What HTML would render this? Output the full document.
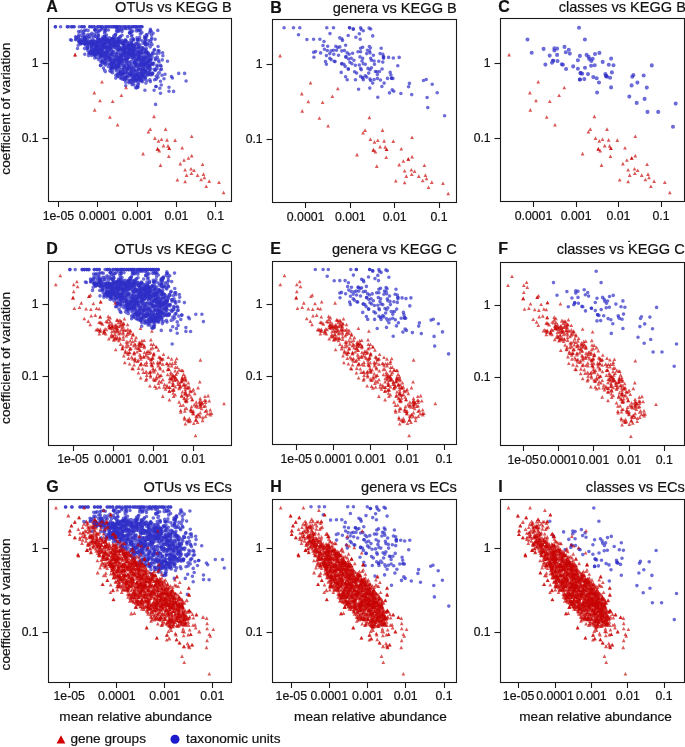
<!DOCTYPE html>
<html><head><meta charset="utf-8"><style>
html,body{margin:0;padding:0;background:#fff;}
svg{display:block;will-change:transform;}
text{font-family:"Liberation Sans", sans-serif;fill:#111;stroke:#111;stroke-width:0.2px;}
.b{fill:none;stroke:#2d2dc8;stroke-opacity:.7;stroke-width:3.6;stroke-linecap:round}
.bC{stroke-width:4.1}
.r{fill:#c80000;fill-opacity:.65}
</style></head><body>
<svg width="685" height="747" viewBox="0 0 685 747">
<clipPath id="cA"><rect x="48.5" y="18.5" width="183.0" height="183.0"/></clipPath>
<g clip-path="url(#cA)">
<path d="M122 31.6h0M133.3 52.7h0M125.5 43.2h0M156.4 67.9h0M151.9 73.1h0M108.8 51.1h0M97.7 49.2h0M120.7 73h0M97.5 52.2h0M123.2 71.9h0M142.1 79.8h0M131.6 36.3h0M92.1 46.4h0M122.5 53.5h0M98.5 35.5h0M129.4 74.3h0M114 47.6h0M84.8 37.3h0M145 53h0M108.9 57.3h0M133.9 84.8h0M135.5 64.8h0M97.2 37.4h0M101.3 41.5h0M122.9 64.3h0M123.7 28.7h0M119.4 54.9h0M116.8 29.4h0M155.4 59.7h0M137.7 54.1h0M99.8 30.8h0M109.4 53.8h0M151.5 55.4h0M95.4 42.3h0M157.1 68.7h0M143.2 70.7h0M107.2 47.2h0M99.3 48.3h0M108.3 42.5h0M96.5 42.2h0M115.8 75.3h0M130.8 39.8h0M137.3 39.8h0M107 57.2h0M92.3 35.3h0M116.5 31.1h0M94 51.1h0M119.5 50.2h0M139.8 30.2h0M113.4 53.3h0M115.7 34.2h0M129.5 32.8h0M139.7 37.2h0M118.5 46.4h0M133.2 79.8h0M143.2 43.3h0M102 28.1h0M96.2 36.6h0M123.2 48.2h0M130.3 53.6h0M110 41.7h0M118.5 65.1h0M144.6 38.1h0M101.8 45.4h0M138.8 54.9h0M94.7 34.1h0M138.7 82.6h0M84.6 39.9h0M129.1 44.6h0M106.7 46.5h0M112.6 72.7h0M128.8 48.6h0M152 57h0M135.2 76.8h0M108.5 30h0M124.2 71.3h0M130 54.2h0M129 42.5h0M121.4 69.5h0M111.2 68.4h0M108.8 40.3h0M115.2 45h0M146.3 48.5h0M107.4 42.7h0M111.9 64.8h0M152.4 73.3h0M129.3 28.9h0M131.2 42.5h0M120.6 70.9h0M122.6 43.3h0M115.2 60.5h0M129.6 64.8h0M118.9 56h0M111.4 60h0M132.1 54.5h0M119.1 39.7h0M113.8 60.8h0M104.4 42.7h0M133.9 46h0M141.9 65.9h0M98 49.5h0M124.6 43.4h0M126.9 59.8h0M100.9 40h0M139.9 52.4h0M141.9 76.8h0M146.3 58.9h0M111.8 64.4h0M132.7 46h0M124.9 61.1h0M125.9 76.6h0M128.5 53.8h0M115.7 60.2h0M139.8 77.7h0M121.3 56.9h0M112.5 63.9h0M95 47.4h0M140.6 60.8h0M142 75.6h0M124.2 59.9h0M100 45.4h0M128.3 64.7h0M137.3 51.8h0M116.8 54.7h0M104 39h0M103.2 38.6h0M120.3 47.5h0M111.6 48.3h0M120.8 62h0M113 41h0M132.5 55.1h0M103.2 48.1h0M137 75.2h0M95.3 50.3h0M142.1 79.6h0M111.6 62.4h0M132 44.5h0M141.8 76.3h0M138.4 56.6h0M124.1 53h0M149.6 65.5h0M114.6 61.4h0M95.3 45.3h0M104.2 41.4h0M114.1 40.4h0M144.9 65.6h0M143.8 62.9h0M95.9 54.2h0M144 61.8h0M92.9 52.1h0M104.8 63.2h0M118.8 53.9h0M93.1 45.2h0M129.5 46h0M139.8 77.3h0M126.3 48.8h0M147.2 63h0M122.5 64.1h0M135.4 48.9h0M137.4 82h0M137.5 53.7h0M148.1 53.8h0M139.2 58.2h0M102.3 48.6h0M102.8 46.3h0M120.3 47.7h0M146.8 53.1h0M144.5 70.6h0M114.1 62.6h0M143.9 70h0M113.6 51.6h0M112.8 54.7h0M112.1 48.1h0M100.7 42.3h0M129.4 62.3h0M135.6 54.4h0M117.5 66.5h0M132.5 57.7h0M121.3 47.9h0M114.7 63.9h0M143 62.6h0M91.3 51h0M122.4 54.2h0M91.3 51.5h0M124.2 51.9h0M94.5 41.4h0M138.2 80.7h0M106.8 47.7h0M113.1 38.5h0M102.3 62.1h0M136 59.8h0M107.1 40.2h0M123.8 41.4h0M126.1 73.1h0M127.6 68.8h0M140.1 52.7h0M148.2 56h0M114.1 41.1h0M100.7 47.1h0M118.7 59.9h0M141 80.1h0M138.8 68.4h0M93.5 45.5h0M94 41.7h0M87.4 46.5h0M95.8 47.8h0M84 38.7h0M87.4 43.9h0M91.4 41.6h0M81.1 31h0M115.8 78.1h0M137.5 86.2h0M162.6 52.7h0M156.3 79.1h0M135.6 87.7h0M80.3 31.8h0M159 50.8h0M137 87.6h0M67.4 26.8h0M79.3 26.8h0M79.3 26.8h0M89.8 26.8h0M92 26.8h0M94.2 26.8h0M102 26.8h0M106.4 26.8h0M111 26.8h0M113 26.8h0M123.4 26.8h0M123.4 26.8h0M124.9 26.8h0M138 26.8h0M140.2 26.8h0M141.9 26.8h0M160.5 65.3h0M156 86.5h0M154.1 90.2h0" class="b"/>
<path d="M103 36.7h0M86 40.9h0M137.4 44.6h0M111 71.8h0M89.8 34.8h0M86.5 42.3h0M145.1 77.9h0M119.3 63.7h0M121.6 29.6h0M103.5 40.9h0M145 70.8h0M105.2 59.7h0M112.9 38.6h0M119 68h0M84.4 43.3h0M91.6 55.4h0M149.4 66.8h0M101.8 48.6h0M108.6 46.9h0M137.4 39.9h0M150.8 68.7h0M95.8 42.9h0M139.1 51.9h0M119.8 67.4h0M114.3 59.9h0M129.5 68.4h0M108.4 40.9h0M94.8 30h0M133.4 39.4h0M94.5 52.1h0M131.9 49.9h0M91.9 49.1h0M104.3 43.7h0M127.1 46.9h0M118.6 41.4h0M144.1 65.8h0M87.5 39.8h0M106.4 39.4h0M87.9 44.4h0M145.5 37.3h0M146.7 34.8h0M111.2 61.7h0M118.9 31.1h0M144.7 36.3h0M93.2 43.2h0M129.5 48.8h0M149.6 60.1h0M129 50.8h0M127.8 53h0M155.1 70.4h0M142.4 58.2h0M134.3 64.6h0M147.5 74.9h0M147.8 63.7h0M88.6 37h0M96.5 46.9h0M129.2 54.8h0M152.6 52.9h0M115.3 60.5h0M105.5 64.9h0M101.1 55.7h0M121.3 77.9h0M93.4 53.2h0M145.7 44.9h0M145.8 51.3h0M131.1 73.8h0M131.2 49.3h0M101.1 52.4h0M129.2 46.8h0M133.7 76.4h0M128.2 69.6h0M126.5 51.2h0M112.1 68.5h0M139.7 50h0M115 64h0M142.5 74.1h0M100.1 45.8h0M124.3 49h0M137.9 56.6h0M100.9 45.3h0M104.5 63h0M91.6 43.7h0M140.7 59h0M128.2 43.6h0M141.7 52.4h0M130.8 46.7h0M118.6 50.2h0M94.2 50.3h0M134.5 50.5h0M93.1 41h0M127.2 69.6h0M135.8 44.6h0M139.5 79h0M126.9 54.5h0M138.4 76.1h0M120 57.4h0M121.1 60.8h0M98.9 51.6h0M98 50.3h0M130.8 46h0M116.1 65.5h0M119 73.5h0M117 43h0M111.1 60h0M107.9 47.4h0M132.8 48.4h0M135 69.8h0M107.4 54.5h0M141.7 63.2h0M115.8 68.5h0M141.4 72.7h0M147.9 53.2h0M91.9 49.9h0M108.8 58.6h0M146.9 66.6h0M129.8 48.6h0M141.7 50.6h0M119.6 60h0M98.1 50.8h0M130.6 75h0M111.8 63.7h0M125.7 40.7h0M123.2 69.9h0M103.2 54.1h0M135.2 80.6h0M123.1 73.9h0M131.5 55.1h0M130.9 49.5h0M91.9 52.5h0M103.6 47.8h0M124.4 50.9h0M134.5 62.4h0M148 52.7h0M147 63.8h0M145.5 49.7h0M113.6 46.2h0M135 81.3h0M144 66.4h0M109.4 59.7h0M133.5 72.1h0M89.8 43.2h0M123.5 45.4h0M98.4 38.3h0M137.8 48.2h0M107 38.1h0M142 73.1h0M133.6 55.1h0M118.3 70.2h0M136.6 43.9h0M111.8 39h0M150.2 69.7h0M121.7 59.8h0M130.9 71.1h0M109.4 60.8h0M105.6 49.1h0M125.4 53.8h0M114.5 67.3h0M131.5 42.3h0M148.1 61.2h0M126.3 61.9h0M142.1 47.5h0M123.3 73.2h0M110.6 54.2h0M130.4 44.5h0M124.5 68.7h0M121.2 50.4h0M131.4 44h0M142.1 73.2h0M76.5 37.5h0M94.3 43.6h0M81.4 42.1h0M85.3 45.1h0M85.1 38.5h0M83.7 40.6h0M79.2 42.1h0M103.3 52.1h0M91.4 47h0M94.8 55.2h0M83.5 31.2h0M157.9 66h0M161.1 66.3h0M88.1 30.6h0M162.9 55.7h0M103.4 68h0M150.4 81.6h0M86.7 30h0M160.5 69.8h0M55.4 26.8h0M74 26.8h0M81.9 26.8h0M84.1 26.8h0M92 26.8h0M94.2 26.8h0M104.5 26.8h0M104.5 26.8h0M116.4 26.8h0M128.9 26.8h0M130.2 26.8h0M130.2 26.8h0M136 26.8h0M140.2 26.8h0M154.6 79.8h0M161.3 85h0M169 87.2h0M70.5 39.7h0" class="b"/>
<path d="M128.8 82.8h0M114 45.3h0M149.7 74.1h0M93.2 37.4h0M148.8 68.2h0M94.8 57.9h0M92.2 39.8h0M139.2 55.6h0M145.6 40.2h0M105.5 54.5h0M103.2 58h0M146.8 35.9h0M81.7 41.9h0M136.8 29.1h0M145 42.9h0M118 38.3h0M96.8 28.9h0M117.5 76.2h0M100.4 54.6h0M158.1 59.6h0M125.2 58.6h0M139.2 66h0M136.3 78.8h0M143.2 71.2h0M138.3 84.4h0M116.2 67.5h0M130.1 32.5h0M138.6 45.6h0M132.9 44.8h0M146.7 34.9h0M152 44.8h0M106.1 52.7h0M118.9 39h0M115.6 47.9h0M131.2 45.4h0M117.7 40.7h0M104.5 33.3h0M123.9 79.3h0M110.6 58.3h0M107.5 47.5h0M118.2 64.4h0M148.8 40.5h0M155.4 69.7h0M86.4 42.6h0M120 61.7h0M117.8 67h0M111.2 42.9h0M118.4 39.9h0M138.9 29.8h0M140.6 30.3h0M102.4 43.9h0M153.3 64.6h0M143.6 70.7h0M141.9 32.6h0M98 32.9h0M95.4 52.1h0M131.9 35h0M110.3 44.4h0M105.8 52.1h0M129.9 80.6h0M128.7 45.7h0M137.8 72.9h0M118.3 49.8h0M151.6 43.9h0M124.7 79h0M78.4 36.6h0M86.7 41.1h0M109.6 43.3h0M122.5 53.2h0M97.6 41.6h0M138.8 46.9h0M112.6 69.9h0M123.9 45.8h0M104.8 36.2h0M134.7 70.6h0M121.2 40.5h0M95.3 54.6h0M131.7 70.9h0M103.4 38.9h0M111.3 41.2h0M136.8 78.9h0M147.9 67.3h0M145.9 58.2h0M131.5 48.9h0M127.2 73.2h0M142.4 76.5h0M106.6 55.4h0M76 39h0M153.7 63.2h0M127.9 64.2h0M126.5 78.2h0M124.6 49.6h0M123.4 73.7h0M118.5 64.1h0M111.2 63h0M97.5 39.1h0M104.3 38.7h0M123.7 77.1h0M98.7 59.6h0M104.5 46.3h0M133.5 46h0M105.5 46.5h0M143.8 49.2h0M111.5 44.5h0M116.5 60.7h0M89.9 41.4h0M143.6 70h0M90.9 42.7h0M104 56.4h0M122 40.2h0M127.8 48.5h0M122.2 43.8h0M106.8 55.7h0M141.7 65.1h0M102.2 60.6h0M143.2 48h0M127.4 76.1h0M136.6 58.9h0M99.8 51h0M131.9 54.9h0M116.2 65.7h0M144.8 56.4h0M127.2 74.1h0M133.8 53.3h0M98.8 49.3h0M134 47.2h0M123.9 42.3h0M122.2 54.7h0M130.5 52.7h0M133.2 49h0M106.3 39h0M142.7 64.9h0M91 48.2h0M147.5 68.8h0M115.4 60.5h0M114.3 46.3h0M124.3 65.9h0M120.9 56.4h0M131.3 65h0M107 63.3h0M149 59.1h0M129.4 50.8h0M119.3 62.5h0M133.3 56.6h0M143.9 65.1h0M143.8 72.6h0M128.5 66.2h0M111.2 50h0M135.3 60.4h0M110.4 43.2h0M117 57.5h0M98 43.6h0M150.9 60h0M148.5 65.8h0M143.6 49.3h0M136.1 74.9h0M126.2 57.8h0M133.8 77.6h0M115.6 41.8h0M120 42.2h0M110.6 59.8h0M128.2 62h0M102.2 43.5h0M121.5 61.3h0M97.8 48.6h0M118.6 73.7h0M108.7 48.1h0M112.7 63.6h0M111.8 67.6h0M116.1 59.6h0M120.8 74.9h0M117.7 59.5h0M131.1 68h0M106.9 46.7h0M125.3 51.7h0M146.4 51.9h0M126.1 58.2h0M101 42.8h0M110 43.5h0M143.7 50.8h0M114 41h0M96.3 45.2h0M83.3 43.1h0M101.9 50.3h0M91.8 44.7h0M79.1 41h0M94.5 52.9h0M100 48h0M97.9 50.6h0M97.5 53.9h0M156.2 76.3h0M162.2 59.9h0M158.1 46.5h0M158.5 60.5h0M125.7 85.8h0M155.1 39.3h0M149.9 79.8h0M100.4 65.6h0M137.5 85.2h0M55.4 26.8h0M60.6 26.8h0M60.6 26.8h0M69.6 26.8h0M69.6 26.8h0M71.8 26.8h0M97.7 26.8h0M99.9 26.8h0M106.4 26.8h0M108.5 26.8h0M114.7 26.8h0M116.4 26.8h0M121.7 26.8h0M121.7 26.8h0M134.4 26.8h0M138 26.8h0M186.1 81h0M160.5 81.3h0M169 91.3h0M155.6 104.4h0M150.4 29.2h0M151.6 35.1h0" class="b"/>
<path d="M148.4 44.7h0M102.2 61.8h0M149.8 46.1h0M115.8 66.4h0M145.3 44.4h0M90.5 41.4h0M104.4 31h0M96.9 48.1h0M115.1 56h0M82.8 33.9h0M120.3 36.5h0M147.9 74.6h0M156.7 53.8h0M128.5 80h0M130.9 74.2h0M86.3 36.7h0M109.3 56.2h0M119.3 47.6h0M128.5 57.6h0M123.9 68.5h0M133.9 52.6h0M79.8 39.7h0M99.4 42h0M137 65.2h0M151.2 64.3h0M137.8 74.9h0M143.8 75.8h0M118.2 58.9h0M117.4 50.1h0M80.7 43.5h0M115.1 34.8h0M154.2 69.2h0M129.1 80.8h0M89.7 37.3h0M98.5 42.4h0M101.1 54.6h0M104.2 52.3h0M87.9 50.7h0M102.6 48.9h0M135.8 53.8h0M139 77h0M146.9 45h0M138.2 39.5h0M124.6 46.9h0M146.9 80.9h0M149 54h0M102 39.8h0M142.2 40.8h0M85.9 42.3h0M114.4 38.4h0M142.4 81.8h0M113 38.2h0M125.2 66.4h0M128.5 55.4h0M149.5 73.2h0M142 69.4h0M135.9 43.4h0M150.2 47h0M132 84.6h0M145.1 79.5h0M102.6 52.5h0M145.1 37.8h0M134.9 56.8h0M93 43.2h0M139.4 65.4h0M89.9 53.4h0M150.6 41.8h0M91.8 45.4h0M134.4 56.9h0M109.9 70.8h0M102.1 64.3h0M141.6 50.5h0M144.2 64.7h0M145 75.2h0M99.4 42.2h0M104.9 36.8h0M103.6 46.3h0M150.7 59.5h0M152.7 63.4h0M133.3 40.3h0M140.3 33.9h0M145.3 73.5h0M102.5 52.9h0M114.4 41.7h0M134.9 45.6h0M111.5 63.4h0M111.2 66.7h0M124.3 50.4h0M138.7 58.1h0M126.2 52.9h0M143.4 59.4h0M126.3 55.3h0M130.9 55.1h0M102.2 38.8h0M136.3 80.2h0M118.8 44.8h0M143.5 77.9h0M116.9 52.6h0M139.9 63.8h0M140.3 76.8h0M119.6 60h0M105.9 42.6h0M114 43.3h0M137.7 52.6h0M103.4 52.4h0M148 66.1h0M129.1 49.2h0M106.5 48.2h0M97.9 52.5h0M146.9 51.9h0M124.7 77.5h0M120.8 42.1h0M145.2 68.7h0M121.4 74.9h0M125.3 53h0M140.2 51h0M113.8 40h0M110.5 48.3h0M93.9 49.4h0M146.2 72.6h0M130.5 53.2h0M98.4 46.1h0M135.8 75.1h0M106 41.1h0M148.6 56.5h0M104.7 62.1h0M133.2 67.8h0M116.7 42.2h0M115.8 45.7h0M140.8 51.7h0M125.2 40.7h0M100.5 40.9h0M113.1 44.9h0M101.6 50.8h0M131.6 75h0M131.2 48.7h0M100.4 57.6h0M141.6 63.7h0M109.9 43.9h0M142.1 55.1h0M98.9 53.6h0M117.9 63.5h0M109.4 37.9h0M90.9 43.7h0M105.5 60h0M138.9 77.1h0M123.2 55.7h0M98.8 40.1h0M98.5 49.3h0M129.5 55.6h0M131.5 52.5h0M127.3 70.3h0M109.1 41.3h0M140.1 56.5h0M137.7 51.2h0M117 49.8h0M118.4 67.1h0M97.6 45.2h0M135.2 79.4h0M106.1 52.3h0M125.1 77.6h0M104.9 40.2h0M142.6 60.5h0M121.4 58.9h0M147.3 61.3h0M141 78.1h0M117 41h0M131.5 53.9h0M91.7 45.2h0M138.7 65.4h0M114.1 66.8h0M109.1 40.3h0M136.4 54.5h0M145.7 71.8h0M141.7 56.1h0M136.2 63h0M133.5 59.2h0M120.7 56.3h0M139.4 64.2h0M126.2 45.3h0M131.9 44.1h0M112.3 66.5h0M119.8 61.7h0M97.8 49.2h0M137.9 78.8h0M136.1 66.3h0M141.3 73.9h0M149.5 61.5h0M131.9 69.7h0M109.7 64.4h0M100.3 53.2h0M78.6 41.2h0M91.1 50.6h0M99.3 50.6h0M98 45.8h0M92.2 50.4h0M87.7 48.2h0M102.1 55.7h0M93.5 54h0M83.9 39.9h0M82.5 37.2h0M80 41.3h0M100.7 65.3h0M84.9 30.4h0M105.3 71.6h0M151.2 31.2h0M145.9 83.1h0M159 62h0M104.6 70.4h0M138.1 87.1h0M153.1 33.2h0M120.2 78h0M159.2 53.1h0M84.8 54.3h0M67.4 26.8h0M97.7 26.8h0M102 26.8h0M108.5 26.8h0M114.7 26.8h0M118.1 26.8h0M119.7 26.8h0M124.9 26.8h0M132.4 26.8h0M141.9 26.8h0M165 74.3h0M165 74.3h0M172.4 78h0M144.9 90.2h0M173.6 91.4h0M160.5 93.2h0M157.8 30.4h0" class="b"/>
<path d="M130.8 32.2h0M121 49.1h0M124.5 50.9h0M129.7 49.5h0M80.6 39.9h0M142.9 68.4h0M134.5 62.4h0M124.7 54.4h0M99.1 52h0M132.9 31.1h0M75.5 36.7h0M145.9 37.3h0M146.9 55.7h0M152.7 73.2h0M158 50.9h0M137 37.8h0M152.3 74.6h0M125 80.3h0M122.7 73.3h0M96.6 44h0M141.1 57.3h0M134.9 78.7h0M98.2 35.5h0M120.2 41.8h0M140 44.8h0M105 29h0M137.7 59.9h0M109.9 48.1h0M80.1 35.5h0M88.9 53.8h0M118.3 76.3h0M133.5 68.1h0M86.8 48.8h0M128.7 67.3h0M117 28.2h0M140.6 63.7h0M88 42.7h0M132.6 68h0M151.4 39.5h0M113.7 43.5h0M98.9 30.8h0M136.6 30.9h0M113.7 36.1h0M91.8 33.2h0M80.8 44h0M125.4 28h0M130.5 72.2h0M101.6 29.3h0M132 82.8h0M145.3 53h0M138.9 79.9h0M112 56.5h0M145.4 72.7h0M96.5 31.7h0M123.6 49.6h0M85.6 39h0M154.5 49.5h0M126.1 63.8h0M129.8 33.3h0M102 60.7h0M114.6 37.4h0M152.3 63.9h0M145.9 38.6h0M126.4 59.8h0M117.1 41.6h0M140.3 73.1h0M118.8 30.4h0M137.7 75.1h0M78.6 38.5h0M145.1 42.7h0M130.9 29.3h0M84.5 48.6h0M125.5 39.8h0M95.2 30.2h0M134.5 76.9h0M134.7 77.6h0M129.3 75.7h0M157.3 57.1h0M75.6 39.7h0M99.6 40.4h0M109.6 50.8h0M119.8 37.3h0M84.6 39.9h0M141.2 68.5h0M132.8 81.8h0M105.7 31.3h0M98.8 51.1h0M105.4 43.3h0M122 35.2h0M147.7 43.5h0M132.3 79.7h0M95.4 36.1h0M117.4 31.4h0M115.2 36.3h0M132 76.6h0M133.5 81.8h0M136.5 64.1h0M120.1 72.5h0M100.9 61.9h0M131.4 73.6h0M134.6 62.5h0M141.3 80.8h0M78.8 34.9h0M144.3 61.3h0M125.8 82.2h0M148.5 73.1h0M133 75.1h0M140.2 77.8h0M140 76.9h0M110.2 40.9h0M137.4 47.7h0M125.1 78.3h0M144.6 61h0M148.6 72.3h0M138.3 69.6h0M131.3 50.7h0M94.7 51.9h0M139.6 52.7h0M149.1 59.8h0M112.9 56.3h0M140.2 76h0M131.4 49.6h0M149.2 60.6h0M98.1 40.1h0M143.8 57.2h0M116.2 70.8h0M110.6 68.1h0M124.6 56.2h0M146.9 72.6h0M113.7 62.8h0M149.7 59.4h0M119.9 62.4h0M124.8 55.9h0M95.8 44.2h0M103.5 54.9h0M110.9 45.6h0M100.2 50h0M145.6 64h0M112.6 67.2h0M106.1 55.6h0M142.2 53.2h0M128.2 45.4h0M90.5 51.3h0M128.9 45.3h0M133.9 48.7h0M135.3 75.2h0M128.2 57.8h0M150 66.3h0M121 57.5h0M111.2 44.7h0M103.7 43.4h0M141.1 71.1h0M103.3 38.9h0M116.1 45.8h0M109.7 57.2h0M106.9 57.4h0M108.7 58.2h0M124.1 55.2h0M132.1 74.2h0M148.1 68.3h0M128.7 53.1h0M107.3 51.2h0M104.5 38.1h0M133.1 47h0M109.8 43.3h0M128.7 52.8h0M104.8 57h0M94.2 44.8h0M132 67h0M122.8 62.2h0M132.4 51.9h0M131.3 51.8h0M94.6 53.4h0M111.7 52.6h0M134 49.6h0M128.7 76.5h0M139.9 53.2h0M113.7 38.9h0M137.2 72.4h0M139.3 46.2h0M122.1 55.8h0M123.9 44.1h0M109.3 57.7h0M143.9 59.1h0M97.5 41.3h0M120.4 53.9h0M100.7 55.6h0M119.3 73.4h0M125 47.8h0M139.9 58.2h0M149.8 67.9h0M102.9 46.1h0M129.8 75.5h0M85.7 39.9h0M101.8 51.8h0M92.7 54h0M84.6 43.8h0M95.4 48.3h0M97.9 46.5h0M96.4 49.1h0M92.1 53.6h0M150.3 30.7h0M78.6 31.5h0M88.6 55.6h0M136.7 87.6h0M74 26.8h0M84.1 26.8h0M89.8 26.8h0M99.9 26.8h0M111 26.8h0M113 26.8h0M128.9 26.8h0M134.4 26.8h0M136 26.8h0M162 75.3h0M184.6 73.4h0M171.4 76.5h0M158 77.3h0M159.8 88.3h0M77.5 48.5h0M71.5 40.2h0" class="b"/>
<path d="M87.7 34.8h0M140.4 61.1h0M108.3 66.6h0M122.1 79.1h0M95.3 56h0M106.8 60.7h0M127.6 36.6h0M106.4 35.1h0M104.6 43.3h0M105.7 29.7h0M94.2 41.1h0M96.9 44.9h0M118.1 58.7h0M119.9 29.1h0M137.1 60.2h0M153 53.6h0M127.5 57.2h0M113.9 58.8h0M89.2 52.9h0M102 45.6h0M115.8 57.1h0M125.1 79.6h0M95 29.8h0M131.5 31.8h0M138.1 42.6h0M81.8 43.3h0M145.1 57.4h0M113.8 45.5h0M87.4 47.9h0M107.1 50.7h0M96.7 43.4h0M150.6 74.9h0M139.4 65.3h0M122.8 50.8h0M145.6 77.4h0M84.8 36.9h0M130.3 45.6h0M126.5 28.6h0M156.9 65.3h0M150.5 55.5h0M132.2 81.5h0M145.1 41.3h0M117.6 38.8h0M95.4 55.5h0M128.2 67h0M94 49.3h0M133.1 38.7h0M143 59.7h0M109.1 59.8h0M154.1 50.4h0M137 79.9h0M111.6 66.1h0M138.6 30.8h0M138.5 54.2h0M129 68h0M84 33.7h0M139.8 39.8h0M117.2 74.1h0M134.7 73.5h0M120.6 71.6h0M105.1 46.9h0M141.2 61.5h0M137.8 53.1h0M141.9 69.2h0M111.5 54.3h0M128.3 51.7h0M155.4 58h0M119 64.9h0M155.3 58.5h0M111.7 38.7h0M84.1 36.2h0M152.3 73.8h0M117.2 56.8h0M107.3 52.2h0M118.3 43.7h0M129.4 73.3h0M123.2 42.9h0M130 82h0M153.5 53.8h0M150.8 58.9h0M134 48.1h0M116.1 68.1h0M128.3 56.2h0M109.3 64.9h0M131.8 79h0M126.8 68.2h0M117.8 46.5h0M116.7 44.3h0M104.4 53.2h0M125.9 71.9h0M103.3 43.6h0M96.9 57.6h0M102.2 39.6h0M133.7 62.5h0M105 55.9h0M141.3 61.2h0M99.9 57h0M134.9 55.8h0M120.9 61.4h0M99.7 41.7h0M140.9 80.1h0M141.7 61.2h0M89.3 43.4h0M105.2 58.5h0M95.9 43h0M124.5 66.9h0M117.5 62.2h0M127.2 58.6h0M107.9 48.1h0M123.6 59.6h0M149.4 71h0M135.3 71.2h0M138.2 69.6h0M137 63.9h0M138.2 77.1h0M116.9 58.1h0M134.3 50.5h0M113 62.5h0M112.6 51.8h0M125.2 41h0M110.9 64.4h0M131.3 61.2h0M94.3 54.2h0M121.9 74.5h0M120.7 60.2h0M141.9 64h0M94.4 44.8h0M103.6 45h0M126.9 46.8h0M124.3 51.3h0M107 40h0M144.5 76.6h0M96.5 49.7h0M114.4 67.3h0M133 74.1h0M122.8 48.5h0M91.8 53.5h0M107.9 43.3h0M123.1 72h0M126.3 58.2h0M111.1 46.5h0M150.7 62.9h0M108.9 45.5h0M140.5 69.5h0M89.8 45.7h0M131.4 57.6h0M145 62.2h0M122 48.6h0M149.4 62.9h0M126.6 41.6h0M112.4 43.6h0M118.4 44.3h0M112.8 53.3h0M123.9 72.5h0M126.6 76.7h0M123.5 67.2h0M126.5 52.2h0M136.6 66.6h0M96.7 56.7h0M105.5 45.2h0M114.2 43.6h0M121.7 65.2h0M140.1 48h0M139.4 61h0M100.9 56.5h0M116.3 53.9h0M133.6 50.6h0M117.6 58.3h0M131.5 62.5h0M95.6 47.2h0M94.5 41.1h0M108 48.7h0M143.5 73.9h0M142.8 48.8h0M100.9 39.4h0M146.8 62.6h0M147 62.8h0M139.2 59.9h0M134.6 56.8h0M106.6 53h0M93.7 43.4h0M110.3 44.5h0M145.9 71.3h0M125.8 57h0M140.8 73.1h0M117.3 47.9h0M95.2 53.6h0M81.3 41.2h0M85.4 38.2h0M103.6 55.5h0M96.6 50.9h0M94.4 50.9h0M85.9 44h0M79.9 42.8h0M98.9 54.3h0M78.2 45.3h0M158.1 74.2h0M161.5 69.2h0M151.8 38h0M159.3 72.7h0M149.5 32.8h0M158.6 73h0M71.8 26.8h0M81.9 26.8h0M118.1 26.8h0M119.7 26.8h0M127 26.8h0M127 26.8h0M132.4 26.8h0M167.5 61.2h0M178.7 73.4h0M164 78.7h0M156 86.5h0" class="b"/>
<path d="M94.3 90.8l1.9 3.6h-3.8zM148.4 130l1.9 3.6h-3.8zM154.9 136.3l1.9 3.6h-3.8zM163.5 143.8l1.9 3.6h-3.8zM169.2 146.5l1.9 3.6h-3.8zM157.6 147.1l1.9 3.6h-3.8zM194 168.5l1.9 3.6h-3.8zM197.6 173.3l1.9 3.6h-3.8zM185.1 179.7l1.9 3.6h-3.8z" class="r"/>
<path d="M75.1 52.8l1.9 3.6h-3.8zM121.4 93.5l1.9 3.6h-3.8zM161.5 137.4l1.9 3.6h-3.8zM184 158.2l1.9 3.6h-3.8zM191.7 153.8l1.9 3.6h-3.8zM186.6 173.3l1.9 3.6h-3.8zM206.2 184.4l1.9 3.6h-3.8z" class="r"/>
<path d="M75.1 52.8l1.9 3.6h-3.8zM117.6 123l1.9 3.6h-3.8zM143.1 151.8l1.9 3.6h-3.8zM167 138.1l1.9 3.6h-3.8zM191.7 134.4l1.9 3.6h-3.8zM157.6 147.1l1.9 3.6h-3.8zM188.4 156.2l1.9 3.6h-3.8zM188.4 156.2l1.9 3.6h-3.8zM191 166.9l1.9 3.6h-3.8zM191.4 171.4l1.9 3.6h-3.8zM203.5 172.3l1.9 3.6h-3.8zM204.4 175.7l1.9 3.6h-3.8zM177.4 178l1.9 3.6h-3.8z" class="r"/>
<path d="M100 98.7l1.9 3.6h-3.8zM112.7 99.4l1.9 3.6h-3.8zM126.1 85.7l1.9 3.6h-3.8zM158.5 139.1l1.9 3.6h-3.8zM168 144.1l1.9 3.6h-3.8zM182.2 145.9l1.9 3.6h-3.8zM160.5 163.3l1.9 3.6h-3.8zM202.6 162.5l1.9 3.6h-3.8zM185.1 167.9l1.9 3.6h-3.8zM209.2 179.3l1.9 3.6h-3.8zM223.6 190.7l1.9 3.6h-3.8z" class="r"/>
<path d="M102 79.9l1.9 3.6h-3.8zM94.7 108.1l1.9 3.6h-3.8zM109.9 115.2l1.9 3.6h-3.8zM154 114.6l1.9 3.6h-3.8zM150.2 127.3l1.9 3.6h-3.8zM165.6 127.3l1.9 3.6h-3.8zM159.3 148.8l1.9 3.6h-3.8zM201.1 177.7l1.9 3.6h-3.8zM219 180.4l1.9 3.6h-3.8z" class="r"/>
<path d="M175.1 138.3l1.9 3.6h-3.8zM169.2 146.5l1.9 3.6h-3.8zM168.8 154.4l1.9 3.6h-3.8zM180.3 161.8l1.9 3.6h-3.8z" class="r"/>
</g>
<rect x="48.5" y="18.5" width="183.0" height="183.0" fill="none" stroke="#1a1a1a" stroke-width="1.1"/>
<line x1="42.5" y1="63.5" x2="48.5" y2="63.5" stroke="#1a1a1a" stroke-width="1.1"/>
<text x="38.6" y="66.89999999999999" text-anchor="end" font-size="12.2">1</text>
<line x1="42.5" y1="138.5" x2="48.5" y2="138.5" stroke="#1a1a1a" stroke-width="1.1"/>
<text x="38.6" y="141.9" text-anchor="end" font-size="12.2">0.1</text>
<line x1="58.5" y1="201.5" x2="58.5" y2="207.0" stroke="#1a1a1a" stroke-width="1.1"/>
<text x="58.4" y="219.6" text-anchor="middle" font-size="12.3">1e-05</text>
<line x1="97.5" y1="201.5" x2="97.5" y2="207.0" stroke="#1a1a1a" stroke-width="1.1"/>
<text x="97.5" y="219.6" text-anchor="middle" font-size="12.3">0.0001</text>
<line x1="137.5" y1="201.5" x2="137.5" y2="207.0" stroke="#1a1a1a" stroke-width="1.1"/>
<text x="137.2" y="219.6" text-anchor="middle" font-size="12.3">0.001</text>
<line x1="176.5" y1="201.5" x2="176.5" y2="207.0" stroke="#1a1a1a" stroke-width="1.1"/>
<text x="176.4" y="219.6" text-anchor="middle" font-size="12.3">0.01</text>
<line x1="215.5" y1="201.5" x2="215.5" y2="207.0" stroke="#1a1a1a" stroke-width="1.1"/>
<text x="215.5" y="219.6" text-anchor="middle" font-size="12.3">0.1</text>
<text x="46.3" y="12.2" font-size="16" font-weight="bold">A</text>
<text x="231.8" y="12.2" text-anchor="end" font-size="14.6">OTUs vs KEGG B</text>
<text transform="translate(9.9 108.6) rotate(-90)" text-anchor="middle" font-size="13.7">coefficient of variation</text>
<clipPath id="cB"><rect x="272.5" y="19.5" width="184.0" height="183.0"/></clipPath>
<g clip-path="url(#cB)">
<path d="M299.8 27.7h0M349.6 27.7h0M360.6 27.7h0M298.5 34.7h0M348.2 35.5h0M360.2 39.2h0M327.7 46.2h0M344.5 50.5h0M352.6 53.2h0M338.5 55.3h0M360 56.9h0M326.4 64.3h0M331.1 59.6h0M335.1 61.6h0M355.3 65.3h0M362 61h0M354.6 71.7h0M345.6 76.8h0M362.7 77.8h0M382.8 62.1h0M368 68.4h0M376.8 71.7h0M382.1 69h0M377.4 74.4h0M387.5 78.4h0" class="b"/>
<path d="M333.5 27.7h0M333.5 27.7h0M335.8 46.2h0M335.8 46.2h0M339.8 46.9h0M345.6 45.3h0M360.6 48.2h0M324.4 49.2h0M347.2 52.9h0M358 51.8h0M313.6 52.2h0M320.6 52.9h0M329.8 53.6h0M333.8 54.3h0M345.9 56.9h0M351.2 58.3h0M325.5 61.6h0M334.2 61.2h0M341.8 63.7h0M343.9 64.3h0M359.3 65h0M348.3 69h0M341.2 72.4h0M373.4 55.3h0M383.5 56.9h0M399.2 57.4h0M371.4 60.3h0M374.5 64.3h0M378.8 61.2h0M375.4 71.5h0M368.7 73.1h0M372.7 83.1h0M369.8 88.1h0" class="b"/>
<path d="M284.1 27.7h0M359.3 33.8h0M313.6 39.2h0M339.8 37.9h0M341.8 38.8h0M315.6 51.6h0M329.8 58.3h0M341.8 63.7h0M349.9 62.3h0M363.3 63.7h0M356.6 73.1h0M355.5 79.8h0M363.3 79.8h0M366.7 53.6h0M383.5 58.3h0M370.7 58.3h0M374.1 61h0M365.3 64.3h0M370.7 80.5h0M380.4 80h0M392.9 78.4h0M409.4 83.4h0M432.2 84.3h0M392.2 89.9h0M389.5 92.9h0M427.1 97.5h0M444.6 115.8h0" class="b"/>
<path d="M293.5 27.7h0M326.8 27.7h0M306.9 39.5h0M319.9 39.2h0M324 41.5h0M337.8 47.5h0M331.1 50.9h0M336.5 50.2h0M349.2 54.3h0M353.9 60.3h0M362.7 58.3h0M313.9 57.2h0M345.2 66.4h0M348.3 69h0M361.3 69.7h0M360.6 76.4h0M370.7 29h0M369.4 46.5h0M370.4 47.8h0M370 52.9h0M380.1 53.6h0M382.8 54.3h0M370 69.7h0M365.3 75.8h0M390.2 72.4h0M391.5 78.2h0M408.6 86.8h0" class="b"/>
<path d="M353.3 29.1h0M342.5 40.4h0M323 45.5h0M345.9 56.9h0M348.6 59h0M351.9 63.7h0M360.6 68.4h0M358.6 89.2h0M372.7 35.9h0M367.4 50.2h0M369.4 50.9h0M381.2 48.2h0M383.5 56.9h0M397.8 65.7h0M371.4 67.7h0M379.4 71.5h0M366.7 77.1h0M374.1 79.5h0M390.9 75.1h0M391.5 78.2h0M384.1 83.1h0M381.9 86.5h0M423.5 80.5h0M426.2 79.5h0M393.8 91.2h0M411.7 94.6h0" class="b"/>
<path d="M349.6 27.7h0M353.3 29.1h0M361.3 29.4h0M363.3 30.8h0M330 33.6h0M355.9 37.2h0M362.7 47.3h0M327.3 50.5h0M333.5 50.2h0M341.8 50.9h0M360.6 51.8h0M326.4 55.6h0M347.2 79.8h0M362.7 77.8h0M369.1 28.1h0M388.6 57.4h0M393.3 58h0M370 79.1h0M377.4 78.4h0M437.2 92.8h0M400.9 93.5h0M377.8 97.2h0M427.8 107.6h0" class="b"/>
<path d="M308.3 99.7l1.9 3.6h-3.8zM373.4 148.1l1.9 3.6h-3.8zM375.4 149.8l1.9 3.6h-3.8zM408.3 157.2l1.9 3.6h-3.8zM411.3 167.9l1.9 3.6h-3.8zM418.8 174.3l1.9 3.6h-3.8zM422.7 178.7l1.9 3.6h-3.8z" class="r"/>
<path d="M301.8 91.8l1.9 3.6h-3.8zM337.8 86.7l1.9 3.6h-3.8zM357 152.8l1.9 3.6h-3.8zM374.5 140.1l1.9 3.6h-3.8zM412.1 135.4l1.9 3.6h-3.8zM412.1 154.8l1.9 3.6h-3.8zM404.6 168.9l1.9 3.6h-3.8zM406.3 174.3l1.9 3.6h-3.8z" class="r"/>
<path d="M280.1 53.8l1.9 3.6h-3.8zM280.1 53.8l1.9 3.6h-3.8zM310.5 80.9l1.9 3.6h-3.8zM319.4 116.2l1.9 3.6h-3.8zM369.4 115.6l1.9 3.6h-3.8zM382.5 128.3l1.9 3.6h-3.8zM384.1 139.1l1.9 3.6h-3.8zM408.3 157.2l1.9 3.6h-3.8zM414.6 169.5l1.9 3.6h-3.8zM448.2 191.7l1.9 3.6h-3.8z" class="r"/>
<path d="M365.1 128.3l1.9 3.6h-3.8zM370.4 137.3l1.9 3.6h-3.8zM377.8 138.4l1.9 3.6h-3.8zM386.6 147.5l1.9 3.6h-3.8zM401.3 146.9l1.9 3.6h-3.8zM386.2 155.4l1.9 3.6h-3.8zM399.2 162.8l1.9 3.6h-3.8zM424.4 163.5l1.9 3.6h-3.8zM426.5 176.7l1.9 3.6h-3.8zM431.8 180.3l1.9 3.6h-3.8zM395.8 179l1.9 3.6h-3.8z" class="r"/>
<path d="M322.6 100.4l1.9 3.6h-3.8zM332.4 94.5l1.9 3.6h-3.8zM393.3 139.3l1.9 3.6h-3.8zM380.1 144.8l1.9 3.6h-3.8zM385.2 145.1l1.9 3.6h-3.8zM386.6 147.5l1.9 3.6h-3.8zM373.4 148.1l1.9 3.6h-3.8zM376.8 164.3l1.9 3.6h-3.8zM403.4 159.2l1.9 3.6h-3.8zM411.7 172.4l1.9 3.6h-3.8zM425.4 173.3l1.9 3.6h-3.8zM428.5 185.4l1.9 3.6h-3.8z" class="r"/>
<path d="M302.2 109.1l1.9 3.6h-3.8zM328.1 124l1.9 3.6h-3.8zM363.1 131l1.9 3.6h-3.8zM443 181.4l1.9 3.6h-3.8zM404.6 180.7l1.9 3.6h-3.8z" class="r"/>
</g>
<rect x="272.5" y="19.5" width="184.0" height="183.0" fill="none" stroke="#1a1a1a" stroke-width="1.1"/>
<line x1="266.5" y1="64.5" x2="272.5" y2="64.5" stroke="#1a1a1a" stroke-width="1.1"/>
<text x="262.6" y="67.89999999999999" text-anchor="end" font-size="12.2">1</text>
<line x1="266.5" y1="139.5" x2="272.5" y2="139.5" stroke="#1a1a1a" stroke-width="1.1"/>
<text x="262.6" y="142.9" text-anchor="end" font-size="12.2">0.1</text>
<line x1="305.5" y1="202.5" x2="305.5" y2="208.0" stroke="#1a1a1a" stroke-width="1.1"/>
<text x="305.6" y="220.6" text-anchor="middle" font-size="12.3">0.0001</text>
<line x1="350.5" y1="202.5" x2="350.5" y2="208.0" stroke="#1a1a1a" stroke-width="1.1"/>
<text x="350.3" y="220.6" text-anchor="middle" font-size="12.3">0.001</text>
<line x1="394.5" y1="202.5" x2="394.5" y2="208.0" stroke="#1a1a1a" stroke-width="1.1"/>
<text x="394.6" y="220.6" text-anchor="middle" font-size="12.3">0.01</text>
<line x1="439.5" y1="202.5" x2="439.5" y2="208.0" stroke="#1a1a1a" stroke-width="1.1"/>
<text x="439.0" y="220.6" text-anchor="middle" font-size="12.3">0.1</text>
<text x="270.3" y="12.799999999999999" font-size="16" font-weight="bold">B</text>
<text x="456.8" y="12.799999999999999" text-anchor="end" font-size="14.6">genera vs KEGG B</text>
<clipPath id="cC"><rect x="500.5" y="18.5" width="184.0" height="183.0"/></clipPath>
<g clip-path="url(#cC)">
<path d="M579 27.7h0M565.8 52.2h0M588.6 56.9h0M591.3 61h0M553.1 60.7h0M552 62.7h0M573.2 66.4h0M573.2 66.4h0M602.7 61.9h0M607 76.8h0M596.7 78.2h0M611.1 87.4h0M632.3 76.8h0" class="b bC"/>
<path d="M557.1 54.9h0M586.6 54.9h0M553.1 60.7h0M557.5 61h0M566.1 69h0M579.9 79.5h0M608.8 64.7h0M651.8 65.4h0M606.1 76h0M610.1 77.8h0M637.4 82.6h0M629.3 96.6h0M636.7 102.9h0" class="b bC"/>
<path d="M527.5 39.5h0M584.9 39.5h0M543.6 48.9h0M554.4 50.5h0M579.9 55.9h0M589.3 59h0M545.4 64.6h0M562.9 64.7h0M585 67.7h0M588 74.1h0M595 54h0M611.9 72.4h0M605.4 74.1h0M597.1 92.5h0M646.8 87.6h0" class="b bC"/>
<path d="M554.4 48.2h0M557.1 48.6h0M549.7 55.6h0M561.8 64.3h0M580.6 73.1h0M584.3 79.1h0M594.7 65.3h0M613.5 65.3h0M599 82.5h0M633.4 75.1h0M643.7 75.5h0M631.6 85.4h0M644.6 98.9h0M658.2 111.9h0" class="b bC"/>
<path d="M531.7 52.7h0M569.8 53.6h0M591.1 65.7h0M577.9 60.3h0M580.6 73.1h0M592.7 58.7h0M611.1 58.6h0M606.1 76h0M593.3 77.1h0M675.7 103.6h0M673 126.8h0" class="b bC"/>
<path d="M564.5 46.9h0M568.8 49.8h0M577.9 68.8h0M582.2 73.7h0M579.9 79.5h0M599.4 52.9h0M647.5 111.9h0" class="b bC"/>
<path d="M549.8 99.4l1.9 3.6h-3.8zM546.7 115.2l1.9 3.6h-3.8zM555 123l1.9 3.6h-3.8zM590.3 127.3l1.9 3.6h-3.8zM607 127.3l1.9 3.6h-3.8zM617.3 138.3l1.9 3.6h-3.8zM601.5 163.3l1.9 3.6h-3.8zM626.9 158.2l1.9 3.6h-3.8zM635.3 153.8l1.9 3.6h-3.8zM637.7 168.5l1.9 3.6h-3.8z" class="r"/>
<path d="M598.3 147.1l1.9 3.6h-3.8zM600.2 148.8l1.9 3.6h-3.8zM628.1 167.9l1.9 3.6h-3.8zM634.9 171.4l1.9 3.6h-3.8zM629.7 173.3l1.9 3.6h-3.8zM650.9 184.4l1.9 3.6h-3.8zM669.8 190.7l1.9 3.6h-3.8z" class="r"/>
<path d="M538.2 79.9l1.9 3.6h-3.8zM536 98.7l1.9 3.6h-3.8zM594.4 114.6l1.9 3.6h-3.8zM595.5 136.3l1.9 3.6h-3.8zM604.7 143.8l1.9 3.6h-3.8zM598.3 147.1l1.9 3.6h-3.8zM645.4 177.7l1.9 3.6h-3.8zM654.1 179.3l1.9 3.6h-3.8z" class="r"/>
<path d="M529.9 90.8l1.9 3.6h-3.8zM588.4 130l1.9 3.6h-3.8zM599.3 139.1l1.9 3.6h-3.8zM602.5 137.4l1.9 3.6h-3.8zM610.9 146.5l1.9 3.6h-3.8zM610.5 154.4l1.9 3.6h-3.8zM641.7 173.3l1.9 3.6h-3.8zM649 175.7l1.9 3.6h-3.8zM664.8 180.4l1.9 3.6h-3.8z" class="r"/>
<path d="M610.9 146.5l1.9 3.6h-3.8zM631.7 156.2l1.9 3.6h-3.8zM622.9 161.8l1.9 3.6h-3.8zM647.1 162.5l1.9 3.6h-3.8zM634.5 166.9l1.9 3.6h-3.8zM648 172.3l1.9 3.6h-3.8zM628.1 179.7l1.9 3.6h-3.8z" class="r"/>
<path d="M509.1 52.8l1.9 3.6h-3.8zM509.1 52.8l1.9 3.6h-3.8zM559.1 93.5l1.9 3.6h-3.8zM564.3 85.7l1.9 3.6h-3.8zM530.3 108.1l1.9 3.6h-3.8zM582.6 151.8l1.9 3.6h-3.8zM608.6 138.1l1.9 3.6h-3.8zM635.3 134.4l1.9 3.6h-3.8zM609.6 144.1l1.9 3.6h-3.8zM625 145.9l1.9 3.6h-3.8zM631.7 156.2l1.9 3.6h-3.8zM619.7 178l1.9 3.6h-3.8z" class="r"/>
</g>
<rect x="500.5" y="18.5" width="184.0" height="183.0" fill="none" stroke="#1a1a1a" stroke-width="1.1"/>
<line x1="494.5" y1="63.5" x2="500.5" y2="63.5" stroke="#1a1a1a" stroke-width="1.1"/>
<text x="490.6" y="66.89999999999999" text-anchor="end" font-size="12.2">1</text>
<line x1="494.5" y1="138.5" x2="500.5" y2="138.5" stroke="#1a1a1a" stroke-width="1.1"/>
<text x="490.6" y="141.9" text-anchor="end" font-size="12.2">0.1</text>
<line x1="533.5" y1="201.5" x2="533.5" y2="207.0" stroke="#1a1a1a" stroke-width="1.1"/>
<text x="533.5" y="219.6" text-anchor="middle" font-size="12.3">0.0001</text>
<line x1="576.5" y1="201.5" x2="576.5" y2="207.0" stroke="#1a1a1a" stroke-width="1.1"/>
<text x="576.1" y="219.6" text-anchor="middle" font-size="12.3">0.001</text>
<line x1="618.5" y1="201.5" x2="618.5" y2="207.0" stroke="#1a1a1a" stroke-width="1.1"/>
<text x="618.4" y="219.6" text-anchor="middle" font-size="12.3">0.01</text>
<line x1="661.5" y1="201.5" x2="661.5" y2="207.0" stroke="#1a1a1a" stroke-width="1.1"/>
<text x="661.0" y="219.6" text-anchor="middle" font-size="12.3">0.1</text>
<text x="498.3" y="12.2" font-size="16" font-weight="bold">C</text>
<text x="686.0" y="12.2" text-anchor="end" font-size="14.6">classes vs KEGG B</text>
<clipPath id="cD"><rect x="48.5" y="261.5" width="183.0" height="184.0"/></clipPath>
<g clip-path="url(#cD)">
<path d="M166.3 288.1h0M161.5 318.6h0M105.7 283.6h0M149.1 273.8h0M143.7 279h0M136.6 313.9h0M110.1 299.4h0M143.6 298.8h0M134.9 309.1h0M96.7 284.1h0M113.7 277.9h0M112.2 271.6h0M114.9 284.2h0M116.8 283.7h0M138.9 305.5h0M148.7 309.1h0M114.3 273.4h0M134.8 281.3h0M147.3 287.4h0M138.8 292.6h0M129.5 278.5h0M123.1 289.5h0M141.4 270.8h0M99.9 279.3h0M110.1 272.6h0M119.8 294.1h0M134.2 282.1h0M148.1 323.3h0M122.9 289.1h0M148.1 277.5h0M163.3 287h0M140.6 288.8h0M146.9 282h0M117.5 302.2h0M130.4 279.8h0M170.7 292.3h0M156.1 272.9h0M142.4 301.2h0M127.4 307.3h0M129.2 295h0M156.6 314h0M108.5 285.3h0M134.3 288.4h0M145.1 292.6h0M159.6 285.4h0M93.4 279h0M143.9 294.7h0M99.7 290.5h0M161 280.4h0M150.7 317.6h0M113 283.8h0M150.9 318.3h0M128.4 310.9h0M120.4 278.6h0M151.1 298.4h0M168.6 298.5h0M154 294.9h0M99.7 282.2h0M150.6 298.5h0M127 283.4h0M153.1 319.5h0M157.6 309.6h0M117.6 305.6h0M158.3 310.3h0M149 322.3h0M157.9 292.3h0M121.1 306.2h0M138 277.7h0M162.7 290.4h0M114.8 284.3h0M148.4 320.3h0M133.2 274h0M133.1 298.4h0M123 294h0M134.1 285.8h0M149.5 282.5h0M160.7 302.6h0M130.2 283.9h0M127.2 304.7h0M156.5 318.5h0M115.6 287.9h0M142.2 294.6h0M154.6 310.7h0M110.1 293.7h0M159.9 318.6h0M157 300.4h0M144.3 285.7h0M117.7 281.9h0M143.2 310.6h0M151.1 297.4h0M132.4 302.1h0M136.8 302.8h0M121.5 284.8h0M156.5 316.8h0M145.1 291.1h0M140.5 308.1h0M117.7 302h0M151.5 312.2h0M152.9 300.3h0M154.7 316.9h0M141.2 283.3h0M163.3 293.7h0M109.7 295.9h0M129.4 304.1h0M137.9 315.4h0M113.4 292.2h0M140.8 297.5h0M111.2 286.3h0M119.1 287h0M146.6 294.4h0M136.2 289.4h0M136.7 303.3h0M121.7 297.2h0M111.9 291.6h0M148.9 290.3h0M144.3 287.4h0M123 296.2h0M121.9 281.3h0M164 309.9h0M151.5 316h0M144.3 299.4h0M149.1 314.9h0M166.6 307.5h0M107.1 295.2h0M149.4 308.9h0M136.9 299h0M142.3 299.7h0M153.3 316h0M158.1 292.5h0M127.3 303.7h0M147.4 306.2h0M166 304.2h0M147.3 290.6h0M128.1 285.7h0M134.3 286.4h0M164.6 309.4h0M144.7 294.8h0M108.5 287.3h0M151.2 321.9h0M142.3 290.7h0M163.7 304.3h0M139.5 308.4h0M154.1 290.1h0M155.5 299.7h0M120.4 298.5h0M152.8 307.7h0M152.3 315.7h0M122.7 280.5h0M121.1 287.2h0M120.5 282.4h0M137.3 300.4h0M137.5 302.6h0M113.3 290.5h0M134.5 314.6h0M152.8 286h0M137.2 289.9h0M150.2 291.5h0M132.1 295.6h0M129.9 308h0M133.4 299.8h0M106.6 292.8h0M154.5 321.3h0M141.3 293.4h0M126.3 295.9h0M152.3 307.5h0M126 286.5h0M162.3 312.2h0M160.1 292.6h0M117.4 293.5h0M107.1 286.7h0M108 295.7h0M94.2 283.2h0M94.3 284.2h0M101.1 286.1h0M114.3 296h0M113 295.6h0M179.4 294.5h0M93.2 287.3h0M179 301.4h0M151.8 328h0M100.1 273.1h0M168.4 280.3h0M179.7 297.3h0M171.7 281.6h0M175.7 303.3h0M120.2 311.4h0M167 322.1h0M136.1 318.7h0M100 295.9h0M88.9 269.6h0M99.2 269.6h0M109.6 269.6h0M113.1 269.6h0M115.4 269.6h0M124.2 269.6h0M126.7 269.6h0M132.2 269.6h0M143.1 269.6h0M146.3 269.6h0M148.5 269.6h0M154.2 269.6h0M156.5 269.6h0M158.3 269.6h0M189.4 318.7h0M203.4 321.6h0M177.2 321.9h0M178.1 325.4h0M185.9 327.5h0M176.5 328.6h0M185.9 331.4h0M190.6 331.5h0M85.4 282h0" class="b"/>
<path d="M144.8 323.3h0M126.7 312.7h0M123.9 307.8h0M101.7 284.5h0M138.1 319.7h0M122.5 302.1h0M135.1 305h0M124.5 292.9h0M112.3 290h0M120.2 285.4h0M162.3 279.7h0M121.3 272.4h0M173.4 295.5h0M144.6 320.6h0M147.1 315.1h0M169.3 314.1h0M153.3 280.2h0M101.5 279.1h0M112.3 287h0M112.9 294h0M138.6 314.2h0M147.7 278.7h0M138.5 295.2h0M129.8 289.6h0M156.3 286.8h0M161.4 294.7h0M125.5 290h0M117.3 290.5h0M133.3 292h0M132 308.6h0M103.2 284.8h0M130.9 277.3h0M167.3 309.7h0M163.2 277.4h0M152.8 273.5h0M153.9 295.7h0M131.4 289.8h0M125.1 295.5h0M162 318.2h0M130.1 301.3h0M135.9 303.1h0M173.6 306.5h0M110.8 284.4h0M173.7 309.8h0M159.6 311.7h0M161.5 283.5h0M155.2 272.5h0M148.1 291.7h0M155.2 320.5h0M155.3 317.7h0M139.6 291.4h0M134.4 283.6h0M160.5 307h0M100.8 281.3h0M126 286.5h0M121.4 293.8h0M122 281.7h0M132.3 273.7h0M135.4 292h0M153.3 320.5h0M126.9 303h0M168.2 286h0M140.7 319.7h0M101.9 283.4h0M146.4 295.3h0M134.4 306.3h0M158.3 310.4h0M155.1 296.5h0M154.8 295.8h0M145.1 309.2h0M161.5 320.1h0M99.7 282.2h0M128.3 313.6h0M150.9 314.4h0M120.7 288.9h0M157.5 302.9h0M151.4 317.5h0M103.9 279.4h0M125.5 311.8h0M171.9 300h0M123.1 284.8h0M127.4 281.1h0M116.6 297.3h0M120.5 279.2h0M143.2 314.1h0M143.9 305.5h0M116.6 294.1h0M141.8 322.7h0M151.2 287.7h0M144.3 310.7h0M127 307.8h0M155 299.7h0M153.7 289.7h0M141.1 318.9h0M161.1 302.4h0M132.5 286.4h0M141.9 312.8h0M120 284.9h0M112.4 299.1h0M120.6 297.5h0M114.2 301h0M120.1 288.3h0M109.6 292.2h0M150.7 292.3h0M127.5 305.6h0M165.6 301.2h0M115.1 283.9h0M148.9 288h0M140.9 302.4h0M106.2 284.8h0M157.2 320.7h0M158.1 302.6h0M131.5 301.6h0M104.6 285.5h0M137.2 298.5h0M120.8 300h0M111.3 285.2h0M122.4 297.3h0M110.4 289.3h0M113.3 294.2h0M150.5 292.3h0M158.3 316.3h0M148 296.6h0M126.6 305.6h0M146.9 288.1h0M109.8 286.9h0M141.3 294.8h0M162 305.3h0M127.3 290.2h0M140.3 293.1h0M128.7 283.2h0M146.6 294.9h0M113.8 288.1h0M120.3 303.5h0M118.8 290h0M107.2 291.8h0M158.5 320.3h0M118.9 281.2h0M135.5 301.4h0M146.7 315.8h0M122.6 304.6h0M165.5 300.6h0M130.4 302.8h0M129.9 282.6h0M118.7 295.8h0M139.1 314.8h0M126.9 291.8h0M126 285.4h0M132.8 299h0M122.9 293h0M162 291.6h0M120.1 280.4h0M149.3 289h0M145.6 297.3h0M153.9 293h0M113.8 280.7h0M167.4 301.4h0M160 291.2h0M142.3 299.4h0M109.6 286.8h0M131.4 284h0M148.2 308.2h0M129.3 293.4h0M116.2 284.5h0M151.8 296.1h0M147.7 295.6h0M155 306.6h0M166.7 310.8h0M158.1 297.7h0M147.6 303.8h0M121.2 291h0M123.7 290.6h0M159.9 314.8h0M116.4 281.7h0M141.4 295.5h0M155.6 288.2h0M142.2 287.3h0M130.3 308.4h0M139.9 286.2h0M122.7 282.4h0M116.1 297.2h0M116.5 285h0M141 289.7h0M156.5 294.5h0M164.7 297.6h0M134.6 301.3h0M125.4 305.6h0M108.9 287.6h0M109.3 283.9h0M98.4 285.2h0M117.4 292.2h0M100.6 280.5h0M118.8 293.8h0M110.2 296.8h0M107.4 295.3h0M166.8 273.3h0M93.6 274.1h0M174.8 315h0M177.8 307.5h0M103.3 273.2h0M120.9 312.5h0M141.7 326.2h0M162.4 323.6h0M169.7 275.7h0M175.3 313.9h0M177.3 310.8h0M69.9 269.6h0M75.2 269.6h0M75.2 269.6h0M82.2 269.6h0M88.9 269.6h0M105.1 269.6h0M105.1 269.6h0M113.1 269.6h0M115.4 269.6h0M117.5 269.6h0M122 269.6h0M128.7 269.6h0M132.2 269.6h0M137.7 269.6h0M139.4 269.6h0M143.1 269.6h0M150.6 269.6h0M154.2 269.6h0M158.3 269.6h0M184.4 302.6h0M170.7 330.4h0" class="b"/>
<path d="M146.9 274.8h0M136.9 291h0M103 277.3h0M95.6 282.2h0M149.4 294.5h0M131.6 307.6h0M173.1 309h0M168.4 314h0M130.9 297.6h0M136.3 278.9h0M137.5 272.3h0M165.3 309.3h0M113.1 291.1h0M164.4 315.4h0M109.6 283.3h0M120.8 301.2h0M157.4 298.9h0M169.6 295.3h0M125 297.8h0M161.5 285.1h0M94.8 281.9h0M120.5 271.8h0M154 301.3h0M133.4 317h0M112.6 279.8h0M104.1 295.5h0M124.2 288.8h0M154.1 315.8h0M160.2 316.6h0M102 290.7h0M147.6 274.4h0M153.7 282.1h0M156.9 304.9h0M149 286.9h0M167.9 281.8h0M121.7 294.5h0M139.8 319.9h0M126.3 299.8h0M134.1 305.6h0M114 284.5h0M168.1 297h0M172.1 310.8h0M146.4 287.6h0M101.6 284.7h0M124.1 283.1h0M117.1 272h0M133.7 308.1h0M148.3 322h0M109.8 293.9h0M103.1 292.6h0M107.2 290.9h0M119.9 285.8h0M158.3 275.1h0M111.9 274.3h0M152 295.5h0M109.3 291.2h0M102.7 282.1h0M145.9 275.8h0M107.6 277.8h0M161.9 279.6h0M101.1 284.4h0M156 279.6h0M93.7 280.8h0M128.8 280.6h0M141.2 307.5h0M117.6 270.9h0M125.3 285.4h0M117.3 287.4h0M138.5 294.9h0M148.1 325h0M150.9 311.6h0M99.1 276.2h0M115.1 282.7h0M110.7 296.3h0M167.2 283.9h0M111.9 288.9h0M118.9 281.2h0M172 299.5h0M134.9 306.2h0M162.3 299.7h0M126.9 309.4h0M121 285.5h0M124.4 282.5h0M136.5 311.9h0M137.2 318.6h0M152.7 305.4h0M162.1 287h0M147.2 314.6h0M119.1 288.3h0M91 281.3h0M169.3 304.7h0M150.8 303.8h0M156.6 276.4h0M146.1 322.5h0M135 282h0M140.3 292.3h0M142.5 318.9h0M156.3 317.6h0M148 319.7h0M142.9 309.3h0M113.4 291.3h0M149.7 288.1h0M156.3 305.1h0M158.2 317.5h0M162.7 300.4h0M156.6 317.6h0M160 311h0M129.7 285.4h0M152 286.6h0M137.9 282.4h0M164.4 307.3h0M147.6 291.4h0M143.8 290.4h0M165.7 302h0M138.1 285.9h0M123.5 290.1h0M139.6 301.1h0M160.2 298.8h0M126.3 309.2h0M143.5 316.9h0M154.4 317.9h0M128.8 303.9h0M140.1 301.3h0M163.4 313.5h0M147.4 302.5h0M140.7 318.2h0M136.7 284.3h0M161.3 297.9h0M137.4 315.7h0M153.6 293.6h0M156.5 292.8h0M150.2 289.2h0M139.9 284.5h0M149.4 290.9h0M122.6 282.3h0M123.6 289.4h0M162.6 313.6h0M130.2 308.5h0M150 290.6h0M138.8 290.4h0M123.5 285.4h0M132.5 284.4h0M163.3 307.8h0M145.9 290.5h0M141.2 282.9h0M116 283.1h0M166.1 306.7h0M105 287.7h0M119.8 283.6h0M137.9 290.5h0M135.2 303.8h0M141.7 282.9h0M139.2 310.9h0M128.8 286.9h0M161.3 306.8h0M158 305h0M125.6 286h0M125 280.3h0M155.2 317.9h0M140.4 292.7h0M163.4 305.1h0M156.1 318h0M125.5 285.4h0M143.3 311.3h0M113.4 285.7h0M151.6 290.8h0M149.7 313h0M139.5 287.4h0M151.4 320h0M165 307h0M118.3 288.3h0M141.1 318.3h0M150 318.3h0M160.3 311h0M130 285.7h0M158.3 314h0M148.6 293.7h0M109.9 295.1h0M132.8 283.3h0M148.6 299.2h0M156.2 294.9h0M128.4 304.9h0M152.6 296.1h0M147 312h0M109.9 283.3h0M149.7 300.7h0M130.5 305.1h0M159.3 303.9h0M133.6 301h0M155.5 301.4h0M128.1 307.6h0M117.8 303.5h0M150.8 298.3h0M147.6 284.4h0M139.3 314.1h0M146.6 286.6h0M160.3 300.6h0M135.6 303h0M129.8 283.3h0M125.7 285.6h0M148 310.7h0M155.1 309.5h0M145.9 316.3h0M100.9 282.2h0M96.4 283.5h0M119.2 297.1h0M100.3 280.8h0M107.5 292.3h0M106.6 283.8h0M94.9 284.9h0M113.3 288.5h0M99.1 282.2h0M97.6 279.5h0M98.6 273.8h0M178.3 310.3h0M176 313.6h0M166 275.4h0M175.9 294.8h0M84.4 269.6h0M94.3 269.6h0M97 269.6h0M120.1 269.6h0M126.7 269.6h0M140.9 269.6h0M177.2 306.5h0M181.8 315.1h0M188.4 317.3h0M174.7 318h0M172.7 326.8h0M172.7 326.8h0M161.3 330.4h0M177.2 333.3h0" class="b"/>
<path d="M156.7 302.5h0M140.7 296h0M105 277.2h0M114.6 293.8h0M141.5 285.3h0M166.3 315h0M108.6 279.8h0M122 277.6h0M97.9 276.4h0M107.5 282.1h0M155.5 297.2h0M133.9 300.2h0M153.3 301.6h0M139.2 312.9h0M151.1 319.3h0M163.3 278.4h0M135.2 289.5h0M153.1 271.8h0M144.5 299.1h0M113.9 277.9h0M139.9 309.6h0M145.5 315.2h0M99.9 279.7h0M124.5 298.8h0M95.2 278h0M165.9 307.9h0M141.1 320.2h0M144.7 308.5h0M154.3 284.7h0M96.9 285.5h0M139.7 271.4h0M161.6 298.9h0M129.5 287.5h0M102.7 289.8h0M170.8 310.3h0M145.1 321.4h0M107.1 275.8h0M155.4 293.6h0M95.8 286.1h0M135.7 308.6h0M146.6 313.1h0M133.4 281.1h0M161.7 294.7h0M117.9 286h0M110.7 297.1h0M143.1 288.9h0M118.2 290.8h0M144.2 308.1h0M154.4 281.8h0M146 321.2h0M122.6 298.7h0M134.7 273h0M154 313.8h0M158.8 322.3h0M166.1 301.5h0M147.1 272h0M144.5 297.1h0M171.7 311.4h0M125.7 283.9h0M110 276.6h0M110.6 272.9h0M152.2 285.5h0M139.9 287.8h0M163.9 315.8h0M122.4 288.5h0M90.6 282h0M144.9 290.5h0M147.9 311.9h0M124.1 272.6h0M145.3 296.4h0M140.2 312.3h0M164.4 308.4h0M144.3 293.4h0M121.3 273.9h0M114.2 292.9h0M161.4 316h0M147.6 290.8h0M130.9 278.8h0M148.1 317.3h0M145.7 306h0M136 313.5h0M108.7 294.9h0M127.1 301.5h0M116.4 303.3h0M170.3 304.5h0M147.3 291.2h0M161.8 314.3h0M139.2 285.1h0M150.2 290.1h0M149.8 317.1h0M165 314h0M149.2 315.9h0M124.9 306.1h0M156 291.9h0M130.8 305.3h0M158.8 315h0M139.4 314.6h0M129.5 302.2h0M140.3 290.9h0M154.1 298.2h0M165.1 313.2h0M119.8 281.1h0M120 304.3h0M117.7 281.1h0M119.9 294.9h0M158.3 307.1h0M146.9 288.7h0M134.4 292h0M115.4 298.6h0M140.6 285.5h0M143 301.2h0M127.2 286.6h0M105.2 283.6h0M155.8 319.6h0M133.3 303.6h0M143.3 300.1h0M159.5 289.9h0M165.9 312h0M154.5 310.6h0M153.3 305.2h0M114.4 293.4h0M136.7 301.7h0M115.5 287.4h0M158.3 305.2h0M135.8 303.8h0M143.3 315h0M150 295h0M132.6 296.4h0M131.9 306.7h0M119.5 281.3h0M138.1 296.4h0M126.2 290.2h0M118.7 280.9h0M109.3 291.3h0M151.2 310.8h0M158.1 304.5h0M157.7 313.6h0M159 306.2h0M148.6 296.7h0M139 312.9h0M126.9 286.8h0M156.8 310.5h0M148.2 286.6h0M154.6 298.1h0M125.4 298.7h0M147.6 299.1h0M127.5 305h0M117.1 292.6h0M147.7 315.8h0M111.2 295.8h0M142.7 283.8h0M147.6 296.7h0M108.2 293.9h0M147.1 291.4h0M160.2 313.5h0M139.2 297.3h0M107.2 294.3h0M134.7 295.6h0M129.3 288.2h0M124.7 283.5h0M156.4 298.1h0M132.8 291.7h0M105 285.3h0M113 287.2h0M121.7 294h0M112.1 298.3h0M159 301.9h0M149.8 296.7h0M137.6 306.4h0M134.1 311.2h0M117.7 285.7h0M163.8 302.7h0M155.7 302.4h0M127.4 294.4h0M124.4 290.1h0M116.4 298h0M149.8 292.4h0M127.6 308.7h0M137.6 301.3h0M110.9 289.1h0M138.3 295.9h0M106.6 293.2h0M155.7 305.5h0M163.5 304.1h0M147.3 309.2h0M109.8 283.6h0M148 286.2h0M142.3 303.2h0M125 299.2h0M113.3 291h0M116.2 289.1h0M157.1 314h0M93.6 283.4h0M110.5 295.3h0M111.2 289.8h0M99.2 281h0M96.5 284.3h0M100.5 287.1h0M109.8 294.6h0M113.4 287.8h0M113.3 292.4h0M109.7 292.7h0M110.7 290.2h0M153.8 326.6h0M95.4 274.4h0M167.7 273.9h0M119 309.1h0M175.7 292.6h0M115.8 306.8h0M103.9 297.2h0M84.4 269.6h0M86.7 269.6h0M109.6 269.6h0M124.2 269.6h0M128.7 269.6h0M130.5 269.6h0M133.9 269.6h0M145 269.6h0M145 269.6h0M148.5 269.6h0M152.3 269.6h0M156.5 269.6h0M178.8 316.1h0M201.9 314.3h0M168.2 277.6h0M86.4 282.5h0" class="b"/>
<path d="M118.5 279.1h0M101.2 283.1h0M140.5 292.7h0M164.9 286.8h0M145.8 291.4h0M137.9 274.2h0M117.7 303.2h0M153.7 286.7h0M110.7 297.6h0M163.3 297.3h0M162.1 282.5h0M141 320.9h0M135.8 271.8h0M128.6 280.9h0M118.7 299.5h0M129.7 300.3h0M158.4 320.5h0M104.5 294.7h0M99.5 285.5h0M150.1 294.3h0M133.8 280.6h0M106.9 297.1h0M151.7 306h0M115.9 296.2h0M131.6 298.6h0M155.5 307.2h0M152.5 319.5h0M153.2 306.4h0M134.2 317h0M159.6 312.2h0M154.6 324.8h0M154.9 287.6h0M135.2 296.5h0M132.6 272.1h0M168.6 286.8h0M122.7 292.5h0M167.1 315.8h0M155.7 306.5h0M105 279.7h0M133.5 283h0M120.1 275.8h0M111.2 285.1h0M142.6 271.3h0M116.6 296.3h0M156.9 273h0M124 284.7h0M127.7 298.1h0M161.8 313.6h0M113.4 275.4h0M110.8 293.9h0M131.6 316.1h0M117.5 282h0M159.4 301.1h0M168.8 305.1h0M162.3 280.9h0M163.1 277.3h0M131.5 276.7h0M134.8 273.8h0M153.9 315.9h0M154.9 273.4h0M141.5 282.1h0M158.8 299.8h0M154.9 323.1h0M166.8 289h0M150.5 305.9h0M145.4 316.5h0M145.2 286.7h0M118.1 294.2h0M137.1 282.8h0M161.5 280.2h0M125.2 292.6h0M108.3 285.3h0M136.5 312.6h0M155.7 306.6h0M105.2 295.1h0M107.1 287.5h0M135.7 279.7h0M146.1 295.9h0M127.2 296h0M131.1 301.9h0M169 314.2h0M99.3 278.7h0M138.6 285.4h0M110.8 278.5h0M122.2 297.1h0M162.2 293.1h0M93.9 277.3h0M167.3 300.4h0M145.3 288.7h0M144.4 297.8h0M142.5 293h0M127.8 309.6h0M133.6 288.5h0M134.4 305.4h0M159.8 300.8h0M116.4 287.4h0M139.6 317.8h0M142.3 296.9h0M147 296.7h0M152.6 320.8h0M134.7 286.8h0M132.8 294.4h0M149.9 303.8h0M158.1 294.1h0M121.1 288.5h0M116.4 282.3h0M156.2 294.2h0M160.2 291.1h0M141.9 317.4h0M128.6 297.9h0M154 294.3h0M119.5 298h0M156.1 318.4h0M158.1 306.3h0M128.3 305.2h0M113.6 282.3h0M132 311.8h0M132.8 299.6h0M135.9 299h0M115.3 292.8h0M137 302.2h0M166.2 300.9h0M132 306.9h0M161.7 309.8h0M114.3 291.1h0M126.6 287.6h0M129.6 282.3h0M115.7 291.9h0M143 288.8h0M160.9 317.4h0M158.5 294.9h0M144.9 287.3h0M121.6 283.4h0M110.7 292.1h0M131.6 287.8h0M124.6 287.5h0M140.3 307.1h0M131.9 287.8h0M158.2 317.1h0M122.5 298.9h0M145.5 292.6h0M140.1 296.9h0M161.4 303.6h0M160.2 304.2h0M151.4 321.2h0M160.4 303.1h0M114.3 295.3h0M128.6 295h0M106.2 285.8h0M121.1 301.4h0M120.3 304.5h0M150.7 303.7h0M164.5 294.4h0M145.6 288.1h0M147.6 294.3h0M138.4 305.3h0M134.3 308.3h0M153.8 295.4h0M164.6 295.5h0M144.8 294.6h0M117.9 290.5h0M136.2 289.6h0M126.3 301.3h0M160.9 311.6h0M129.9 303.9h0M128.5 296.4h0M127.9 290h0M145.4 303.6h0M157.3 318.8h0M136.7 315.8h0M129.5 281.2h0M125.1 302.2h0M163.3 303.9h0M138.1 297.4h0M140.1 293.7h0M122.5 288.7h0M128.8 280.8h0M158.5 289.4h0M142.1 299.7h0M113 283.5h0M156.2 299.8h0M147.6 286.1h0M166.3 309.1h0M157.4 320.7h0M141.8 298.6h0M166 302.8h0M118.4 288.1h0M133.1 289.8h0M129.8 283.2h0M91.5 279.9h0M102.6 288.5h0M106.4 292.4h0M114.8 292.4h0M99.8 285.9h0M102.6 286h0M98.8 282.8h0M117.6 297.3h0M111.8 291h0M108.8 295.6h0M96.2 273.7h0M174.6 307.2h0M172.9 319.7h0M174.8 288.5h0M175.2 301.9h0M101.9 272.7h0M152.9 327.9h0M94.3 269.6h0M107.3 269.6h0M117.5 269.6h0M122 269.6h0M130.5 269.6h0M133.9 269.6h0M137.7 269.6h0M140.9 269.6h0M146.3 269.6h0M150.6 269.6h0M181.8 315.1h0M180.8 319.4h0M171.2 320.4h0M174.5 273.1h0" class="b"/>
<path d="M129.7 287.4h0M159.3 309.5h0M150.7 303.7h0M161.7 286.5h0M119.9 273.7h0M90.5 279.1h0M119 283.1h0M161.4 311.8h0M174.7 292.7h0M168.9 315.4h0M121.1 296.1h0M112 286.1h0M107.4 288.4h0M136.1 284h0M117.5 287.7h0M150.1 325.2h0M174.8 301.1h0M141.2 300.1h0M167.8 305.5h0M149.7 309.2h0M110.4 272.5h0M132.9 270.9h0M134.1 300.4h0M146.2 275.1h0M95.7 285.7h0M129.4 285.6h0M112.1 285.5h0M172 301.2h0M115.3 273.5h0M165.3 282.7h0M145.6 309.5h0M167.1 297.1h0M126.9 285h0M149.6 281.7h0M114.7 290.2h0M169.9 305.9h0M160 311.7h0M111.9 284.4h0M163.3 321.4h0M171.1 291.4h0M165.5 295.6h0M142.1 305.1h0M149.3 281h0M124.7 301.2h0M153.6 282h0M103.1 286.5h0M158.6 283.1h0M109.4 292.9h0M144.8 287.7h0M132.9 283.8h0M130.2 280.7h0M145.6 275.3h0M134.1 291.7h0M161.2 278.7h0M149.4 320.4h0M145.6 290.7h0M161.5 284.8h0M111.6 279h0M166 314.1h0M139.2 290.2h0M155.1 288.9h0M156.1 282.1h0M174 298.7h0M164.3 305h0M133.1 314.9h0M169.2 294.6h0M145 284.6h0M137.4 310.5h0M160.6 305.9h0M131 287.1h0M164.2 285.6h0M127.6 306.1h0M145.3 271.6h0M147.3 284.6h0M168.8 314.6h0M158.8 317.2h0M131 301.9h0M149.6 322.4h0M134.7 297.6h0M145.5 314.2h0M167.2 301h0M147.5 314.5h0M148.3 296.1h0M157.6 321.4h0M118.1 294.6h0M170.1 295.5h0M131.9 309.2h0M140.6 291.5h0M125.9 283.1h0M126.9 304.3h0M113 281.4h0M106.9 285.8h0M147.5 292.6h0M118.8 285.7h0M150.1 288h0M156 294.4h0M157.6 302.6h0M108.4 283.2h0M135.5 301.5h0M118.9 294.2h0M144.6 295.5h0M122.1 290.1h0M156.9 302.2h0M140.6 297.8h0M142.9 296.1h0M128.3 293.6h0M144.4 306h0M119.1 296.6h0M134.9 314.3h0M132.8 285.2h0M128.4 308.4h0M126.8 301.5h0M105.8 293.1h0M131.6 309.6h0M106.3 290.2h0M152.1 315.9h0M165.1 298.1h0M131.2 302h0M130.1 288.3h0M164.4 294.9h0M126.8 288.5h0M124.4 300.1h0M167.3 304.2h0M119.3 285.5h0M157.5 312.1h0M157.2 293.5h0M113.5 292.6h0M136.8 298h0M140 294.7h0M124.4 299.7h0M110.7 287.3h0M149.4 298.2h0M115.8 299.1h0M148.3 315h0M158.4 296.7h0M160.3 306.3h0M133.8 304.8h0M139.9 313.4h0M144.6 307.4h0M151.5 301.8h0M119.1 289.7h0M114.3 282.3h0M114 291.2h0M142.6 317.5h0M160.4 307.6h0M125.1 301.2h0M142.5 294h0M153.7 322.5h0M135.9 284.3h0M163.3 294.8h0M138.8 303.6h0M147.5 293.6h0M144.3 303.3h0M156.4 289.9h0M133.3 307.6h0M107 287.3h0M144.8 317.3h0M127.5 281.3h0M124.7 282.5h0M162.1 312.8h0M132 301.1h0M153.5 313.3h0M152.4 304.3h0M136.6 297.9h0M159.2 290.7h0M122.4 289.6h0M162.8 293.7h0M164.6 302.6h0M122.2 294.7h0M152.3 301.3h0M109 285.5h0M139.8 283.6h0M136.3 295.6h0M135.1 314.3h0M140.5 309.8h0M137.1 292.3h0M142.1 314h0M143.6 309.9h0M154.1 319.4h0M158.5 314.1h0M157.6 314.8h0M115.7 295h0M111.7 287.2h0M109.7 285.8h0M112 292.7h0M115.4 290h0M106.7 289h0M102.9 290.1h0M95.1 283.5h0M172.8 317.1h0M131.6 318.8h0M116.2 306.5h0M153.2 327.9h0M154.3 327.4h0M166.4 320.4h0M153.7 325.6h0M69.9 269.6h0M82.2 269.6h0M86.7 269.6h0M97 269.6h0M99.2 269.6h0M107.3 269.6h0M120.1 269.6h0M135.6 269.6h0M135.6 269.6h0M139.4 269.6h0M152.3 269.6h0M195.8 314.3h0M172.2 344h0M166.9 271.9h0M92.5 290.4h0" class="b"/>
<path d="M168.8 367.1l1.9 3.6h-3.8zM165.5 387.1l1.9 3.6h-3.8zM128.5 356.3l1.9 3.6h-3.8zM173.6 394.5l1.9 3.6h-3.8zM152.5 345.8l1.9 3.6h-3.8zM154.4 378.5l1.9 3.6h-3.8zM130.2 338.9l1.9 3.6h-3.8zM145.7 370.3l1.9 3.6h-3.8zM152.6 356.4l1.9 3.6h-3.8zM119.5 336.1l1.9 3.6h-3.8zM200.2 410.8l1.9 3.6h-3.8zM164.6 382.4l1.9 3.6h-3.8zM146.5 369.9l1.9 3.6h-3.8zM149 356.4l1.9 3.6h-3.8zM185.5 392.2l1.9 3.6h-3.8zM153.4 360.8l1.9 3.6h-3.8zM109.6 322.8l1.9 3.6h-3.8zM130.8 346.5l1.9 3.6h-3.8zM191.5 404.7l1.9 3.6h-3.8zM151.1 360.5l1.9 3.6h-3.8zM190.8 389.7l1.9 3.6h-3.8zM140 341.6l1.9 3.6h-3.8zM202.3 401.2l1.9 3.6h-3.8zM183.8 383.1l1.9 3.6h-3.8zM190.4 418.9l1.9 3.6h-3.8zM115.2 329.4l1.9 3.6h-3.8zM140.4 348.4l1.9 3.6h-3.8zM126.1 344.9l1.9 3.6h-3.8zM152.5 364l1.9 3.6h-3.8zM120.5 324l1.9 3.6h-3.8zM184.8 409.2l1.9 3.6h-3.8zM146.7 373.3l1.9 3.6h-3.8zM159.2 385.2l1.9 3.6h-3.8zM184.8 391.8l1.9 3.6h-3.8zM188.5 419l1.9 3.6h-3.8zM185 374.6l1.9 3.6h-3.8zM135.2 359.1l1.9 3.6h-3.8zM181.1 379.8l1.9 3.6h-3.8zM203.9 404.3l1.9 3.6h-3.8zM169.8 385.4l1.9 3.6h-3.8zM181.9 376.9l1.9 3.6h-3.8zM160.1 355.4l1.9 3.6h-3.8zM141.1 362l1.9 3.6h-3.8zM142.5 367l1.9 3.6h-3.8zM110.1 323l1.9 3.6h-3.8zM150.6 375l1.9 3.6h-3.8zM159 374.8l1.9 3.6h-3.8zM150.9 346.8l1.9 3.6h-3.8zM174.5 378.3l1.9 3.6h-3.8zM184.2 395.9l1.9 3.6h-3.8zM112.3 326.6l1.9 3.6h-3.8zM129.7 350.4l1.9 3.6h-3.8zM171.1 376.5l1.9 3.6h-3.8zM112.1 324.9l1.9 3.6h-3.8zM161.4 380.1l1.9 3.6h-3.8zM126.3 333.8l1.9 3.6h-3.8zM108.8 336.9l1.9 3.6h-3.8zM118.8 338.6l1.9 3.6h-3.8zM104.2 329.6l1.9 3.6h-3.8zM111.9 321.8l1.9 3.6h-3.8zM111.5 332.8l1.9 3.6h-3.8zM109.5 325.7l1.9 3.6h-3.8zM117.3 335.5l1.9 3.6h-3.8zM210.5 413l1.9 3.6h-3.8zM145.9 378.2l1.9 3.6h-3.8zM124.4 317l1.9 3.6h-3.8zM136.1 335.6l1.9 3.6h-3.8zM100.4 320.4l1.9 3.6h-3.8zM209.9 411.4l1.9 3.6h-3.8zM133.1 366.9l1.9 3.6h-3.8zM73 295.8l1.9 3.6h-3.8zM89 294.5l1.9 3.6h-3.8zM79.5 305.5l1.9 3.6h-3.8zM86.1 306.9l1.9 3.6h-3.8zM90.2 322.7l1.9 3.6h-3.8zM110.1 315.8l1.9 3.6h-3.8zM200.4 358.1l1.9 3.6h-3.8zM207.4 411.8l1.9 3.6h-3.8zM184.6 417.1l1.9 3.6h-3.8zM180.8 410.1l1.9 3.6h-3.8z" class="r"/>
<path d="M128.2 352.4l1.9 3.6h-3.8zM181.6 379.4l1.9 3.6h-3.8zM185.9 398.9l1.9 3.6h-3.8zM192.5 409.6l1.9 3.6h-3.8zM159 355.1l1.9 3.6h-3.8zM113.2 334.6l1.9 3.6h-3.8zM153.6 377.1l1.9 3.6h-3.8zM114.8 325.7l1.9 3.6h-3.8zM153.5 368.3l1.9 3.6h-3.8zM122.3 346.8l1.9 3.6h-3.8zM153.6 369.9l1.9 3.6h-3.8zM169.5 389.3l1.9 3.6h-3.8zM130.1 346.9l1.9 3.6h-3.8zM181.6 394.5l1.9 3.6h-3.8zM161.1 373.4l1.9 3.6h-3.8zM191.1 407.3l1.9 3.6h-3.8zM140.2 362.9l1.9 3.6h-3.8zM123 330.2l1.9 3.6h-3.8zM154.2 369.9l1.9 3.6h-3.8zM180.1 384.8l1.9 3.6h-3.8zM176.1 372.4l1.9 3.6h-3.8zM173.7 388.3l1.9 3.6h-3.8zM186.8 393.1l1.9 3.6h-3.8zM155.4 378l1.9 3.6h-3.8zM143.6 354.3l1.9 3.6h-3.8zM200.1 402.1l1.9 3.6h-3.8zM122.5 323l1.9 3.6h-3.8zM182.4 376.9l1.9 3.6h-3.8zM196.1 414.2l1.9 3.6h-3.8zM134.3 351.2l1.9 3.6h-3.8zM147.2 349.6l1.9 3.6h-3.8zM205.3 409.4l1.9 3.6h-3.8zM178.7 380.3l1.9 3.6h-3.8zM171.7 378l1.9 3.6h-3.8zM175.1 368.8l1.9 3.6h-3.8zM144.5 362.6l1.9 3.6h-3.8zM138.4 342.9l1.9 3.6h-3.8zM177.3 365.3l1.9 3.6h-3.8zM113.6 324.7l1.9 3.6h-3.8zM187.8 386.4l1.9 3.6h-3.8zM175.4 365.5l1.9 3.6h-3.8zM173.5 373.9l1.9 3.6h-3.8zM185.5 389.7l1.9 3.6h-3.8zM130.6 328.8l1.9 3.6h-3.8zM132.9 333.1l1.9 3.6h-3.8zM117.4 329.9l1.9 3.6h-3.8zM172.7 383.5l1.9 3.6h-3.8zM135.2 338.3l1.9 3.6h-3.8zM178.2 379.8l1.9 3.6h-3.8zM150.6 369.7l1.9 3.6h-3.8zM135.9 345.9l1.9 3.6h-3.8zM183.6 372.3l1.9 3.6h-3.8zM178 382.5l1.9 3.6h-3.8zM188.2 385.4l1.9 3.6h-3.8zM167.6 372.7l1.9 3.6h-3.8zM139.2 340.3l1.9 3.6h-3.8zM103.9 328.8l1.9 3.6h-3.8zM117.1 328.7l1.9 3.6h-3.8zM113.9 338.1l1.9 3.6h-3.8zM115.1 323.6l1.9 3.6h-3.8zM112.1 324.5l1.9 3.6h-3.8zM130.1 331.3l1.9 3.6h-3.8zM197.6 420.3l1.9 3.6h-3.8zM120.8 318.8l1.9 3.6h-3.8zM132.2 366.5l1.9 3.6h-3.8zM149.9 384l1.9 3.6h-3.8zM202.6 418.6l1.9 3.6h-3.8zM208.1 393.8l1.9 3.6h-3.8zM96.2 328l1.9 3.6h-3.8zM115.7 347.7l1.9 3.6h-3.8zM73.7 289.7l1.9 3.6h-3.8zM84.3 316.7l1.9 3.6h-3.8zM193.8 421.5l1.9 3.6h-3.8zM146.6 376.8l1.9 3.6h-3.8zM162.8 394.3l1.9 3.6h-3.8zM123.8 354l1.9 3.6h-3.8z" class="r"/>
<path d="M134.6 358l1.9 3.6h-3.8zM140.7 355.5l1.9 3.6h-3.8zM122.9 324.4l1.9 3.6h-3.8zM141.1 344.3l1.9 3.6h-3.8zM185.7 377.2l1.9 3.6h-3.8zM182.4 377l1.9 3.6h-3.8zM173.8 375l1.9 3.6h-3.8zM120.1 336.8l1.9 3.6h-3.8zM177.5 370.6l1.9 3.6h-3.8zM131.6 355.2l1.9 3.6h-3.8zM200.4 405.5l1.9 3.6h-3.8zM172.7 380.8l1.9 3.6h-3.8zM139.9 341.7l1.9 3.6h-3.8zM171.7 364l1.9 3.6h-3.8zM152.9 366.7l1.9 3.6h-3.8zM151.3 356.9l1.9 3.6h-3.8zM143.4 370.5l1.9 3.6h-3.8zM150.5 373.3l1.9 3.6h-3.8zM150.5 350.4l1.9 3.6h-3.8zM176.7 377.9l1.9 3.6h-3.8zM186 382.9l1.9 3.6h-3.8zM192.3 398l1.9 3.6h-3.8zM153.9 351.4l1.9 3.6h-3.8zM179.1 400.1l1.9 3.6h-3.8zM161.8 357.1l1.9 3.6h-3.8zM194.3 402.8l1.9 3.6h-3.8zM128.2 344.2l1.9 3.6h-3.8zM151.2 357.5l1.9 3.6h-3.8zM123.4 337.5l1.9 3.6h-3.8zM164 385.2l1.9 3.6h-3.8zM132.6 339.7l1.9 3.6h-3.8zM127.8 340.1l1.9 3.6h-3.8zM199.9 399.2l1.9 3.6h-3.8zM160.2 367l1.9 3.6h-3.8zM128 330.5l1.9 3.6h-3.8zM193.4 387.6l1.9 3.6h-3.8zM127.6 322.7l1.9 3.6h-3.8zM121.4 320.2l1.9 3.6h-3.8zM187.3 418.2l1.9 3.6h-3.8zM149.4 351.5l1.9 3.6h-3.8zM140.7 342.3l1.9 3.6h-3.8zM126.4 340.1l1.9 3.6h-3.8zM129.9 347.1l1.9 3.6h-3.8zM192.5 388.8l1.9 3.6h-3.8zM133.1 332.1l1.9 3.6h-3.8zM201.6 406.7l1.9 3.6h-3.8zM125.9 328.4l1.9 3.6h-3.8zM186.3 399.7l1.9 3.6h-3.8zM182.3 375.1l1.9 3.6h-3.8zM137.9 346.4l1.9 3.6h-3.8zM204.7 398.3l1.9 3.6h-3.8zM112.7 333.9l1.9 3.6h-3.8zM122.5 346.3l1.9 3.6h-3.8zM196.5 403l1.9 3.6h-3.8zM151.5 363.2l1.9 3.6h-3.8zM156.7 376.6l1.9 3.6h-3.8zM202.1 400.7l1.9 3.6h-3.8zM200.9 399.3l1.9 3.6h-3.8zM182.4 390l1.9 3.6h-3.8zM117.1 324.6l1.9 3.6h-3.8zM161.3 357.8l1.9 3.6h-3.8zM175.4 384.9l1.9 3.6h-3.8zM145.8 353.7l1.9 3.6h-3.8zM187.1 385.5l1.9 3.6h-3.8zM123.3 334.9l1.9 3.6h-3.8zM99.9 329.5l1.9 3.6h-3.8zM117.5 318.3l1.9 3.6h-3.8zM123.5 322l1.9 3.6h-3.8zM110.4 326.2l1.9 3.6h-3.8zM114 328.7l1.9 3.6h-3.8zM110.1 319.6l1.9 3.6h-3.8zM122.5 325.1l1.9 3.6h-3.8zM151.2 342.4l1.9 3.6h-3.8zM205 394.5l1.9 3.6h-3.8zM158.4 348.1l1.9 3.6h-3.8zM124.8 360.7l1.9 3.6h-3.8zM172.3 361.6l1.9 3.6h-3.8zM138.4 370.9l1.9 3.6h-3.8zM77.6 284.7l1.9 3.6h-3.8zM73 295.8l1.9 3.6h-3.8zM89 294.5l1.9 3.6h-3.8zM90.5 293.2l1.9 3.6h-3.8zM93.4 301.7l1.9 3.6h-3.8zM115.2 301.1l1.9 3.6h-3.8zM99.2 306.9l1.9 3.6h-3.8zM91.2 314l1.9 3.6h-3.8zM100.2 314.9l1.9 3.6h-3.8zM151.9 329.2l1.9 3.6h-3.8zM176.7 356.7l1.9 3.6h-3.8zM199.8 380l1.9 3.6h-3.8zM195.5 433.7l1.9 3.6h-3.8zM197.9 412.7l1.9 3.6h-3.8zM206.5 408.3l1.9 3.6h-3.8z" class="r"/>
<path d="M152.8 355.6l1.9 3.6h-3.8zM132.7 356.9l1.9 3.6h-3.8zM189.1 419.6l1.9 3.6h-3.8zM153.3 352.8l1.9 3.6h-3.8zM189.3 416.6l1.9 3.6h-3.8zM105.2 326.9l1.9 3.6h-3.8zM169.9 361.7l1.9 3.6h-3.8zM147.9 355l1.9 3.6h-3.8zM185 385.3l1.9 3.6h-3.8zM205.4 400.5l1.9 3.6h-3.8zM138.7 346l1.9 3.6h-3.8zM141 357.2l1.9 3.6h-3.8zM118.5 320.6l1.9 3.6h-3.8zM170.7 372.8l1.9 3.6h-3.8zM137.7 359.5l1.9 3.6h-3.8zM173.6 387.4l1.9 3.6h-3.8zM158.4 381.4l1.9 3.6h-3.8zM110.9 334.8l1.9 3.6h-3.8zM122.8 327.8l1.9 3.6h-3.8zM141.7 341.4l1.9 3.6h-3.8zM150.1 370.2l1.9 3.6h-3.8zM120.8 322.2l1.9 3.6h-3.8zM146.6 363.1l1.9 3.6h-3.8zM159.9 365.6l1.9 3.6h-3.8zM169.2 385.5l1.9 3.6h-3.8zM146.7 351.6l1.9 3.6h-3.8zM160 361l1.9 3.6h-3.8zM106.5 327.7l1.9 3.6h-3.8zM144 344.2l1.9 3.6h-3.8zM200.2 402.8l1.9 3.6h-3.8zM184.4 415.6l1.9 3.6h-3.8zM184.3 396.7l1.9 3.6h-3.8zM115.5 326l1.9 3.6h-3.8zM185.5 391.4l1.9 3.6h-3.8zM168.7 367.5l1.9 3.6h-3.8zM191.2 409.5l1.9 3.6h-3.8zM109.4 325.5l1.9 3.6h-3.8zM158 361.9l1.9 3.6h-3.8zM172.5 372.8l1.9 3.6h-3.8zM131.1 342.2l1.9 3.6h-3.8zM181.8 368.4l1.9 3.6h-3.8zM175.1 375.7l1.9 3.6h-3.8zM192.2 397.5l1.9 3.6h-3.8zM144.3 345.6l1.9 3.6h-3.8zM175.3 392.9l1.9 3.6h-3.8zM163.2 368.9l1.9 3.6h-3.8zM127.8 327.3l1.9 3.6h-3.8zM200.2 396.6l1.9 3.6h-3.8zM156.5 375l1.9 3.6h-3.8zM160.1 373.7l1.9 3.6h-3.8zM191.2 395.2l1.9 3.6h-3.8zM157.8 371.8l1.9 3.6h-3.8zM123.3 332l1.9 3.6h-3.8zM127.4 350.8l1.9 3.6h-3.8zM185.4 398.4l1.9 3.6h-3.8zM187.1 396.1l1.9 3.6h-3.8zM119.4 318.5l1.9 3.6h-3.8zM104.3 330.1l1.9 3.6h-3.8zM115.4 335.8l1.9 3.6h-3.8zM121.3 327.8l1.9 3.6h-3.8zM99.1 320.4l1.9 3.6h-3.8zM122.4 327.8l1.9 3.6h-3.8zM111.9 329.7l1.9 3.6h-3.8zM108.3 317.3l1.9 3.6h-3.8zM156 345l1.9 3.6h-3.8zM198.1 385.8l1.9 3.6h-3.8zM153.5 342.5l1.9 3.6h-3.8zM185.4 422l1.9 3.6h-3.8zM205.8 398.7l1.9 3.6h-3.8zM156.3 386.1l1.9 3.6h-3.8zM55.8 282.7l1.9 3.6h-3.8zM76.9 279.7l1.9 3.6h-3.8zM100.7 299.9l1.9 3.6h-3.8zM81.3 301.1l1.9 3.6h-3.8zM95.3 313.3l1.9 3.6h-3.8zM100.2 314.9l1.9 3.6h-3.8zM108.2 314.5l1.9 3.6h-3.8zM224 401.7l1.9 3.6h-3.8zM169.4 397.8l1.9 3.6h-3.8z" class="r"/>
<path d="M119 324.6l1.9 3.6h-3.8zM117 336.8l1.9 3.6h-3.8zM193.4 411.8l1.9 3.6h-3.8zM139.5 343.9l1.9 3.6h-3.8zM199.5 400.7l1.9 3.6h-3.8zM182.5 378.6l1.9 3.6h-3.8zM172.1 388.3l1.9 3.6h-3.8zM173.2 391.2l1.9 3.6h-3.8zM160 360.6l1.9 3.6h-3.8zM150.7 358l1.9 3.6h-3.8zM135.1 356.6l1.9 3.6h-3.8zM139.3 348.1l1.9 3.6h-3.8zM172.9 383.3l1.9 3.6h-3.8zM197.4 405.1l1.9 3.6h-3.8zM144.5 350.5l1.9 3.6h-3.8zM173.3 382.2l1.9 3.6h-3.8zM169.4 379.9l1.9 3.6h-3.8zM143.9 355.5l1.9 3.6h-3.8zM134 352l1.9 3.6h-3.8zM184.5 376.8l1.9 3.6h-3.8zM190.1 388.7l1.9 3.6h-3.8zM188 393.2l1.9 3.6h-3.8zM118.5 328.8l1.9 3.6h-3.8zM169.3 389l1.9 3.6h-3.8zM183.2 403.2l1.9 3.6h-3.8zM195.8 418.3l1.9 3.6h-3.8zM100.1 328.7l1.9 3.6h-3.8zM162.8 377.7l1.9 3.6h-3.8zM193.4 409.2l1.9 3.6h-3.8zM198.6 413l1.9 3.6h-3.8zM125.3 350.7l1.9 3.6h-3.8zM134.8 342l1.9 3.6h-3.8zM167.4 361.9l1.9 3.6h-3.8zM169.7 376.6l1.9 3.6h-3.8zM134.1 350.4l1.9 3.6h-3.8zM159.4 379.2l1.9 3.6h-3.8zM180.7 384.6l1.9 3.6h-3.8zM107.5 320.2l1.9 3.6h-3.8zM167 383.6l1.9 3.6h-3.8zM118.9 331.9l1.9 3.6h-3.8zM180.7 408.5l1.9 3.6h-3.8zM196.2 400.2l1.9 3.6h-3.8zM157.7 360.3l1.9 3.6h-3.8zM127 342.1l1.9 3.6h-3.8zM151.4 362.5l1.9 3.6h-3.8zM137 350l1.9 3.6h-3.8zM146.5 360.3l1.9 3.6h-3.8zM195.9 404.4l1.9 3.6h-3.8zM117.4 327.6l1.9 3.6h-3.8zM160.5 356.7l1.9 3.6h-3.8zM131.6 336l1.9 3.6h-3.8zM158.1 364l1.9 3.6h-3.8zM189.3 392.3l1.9 3.6h-3.8zM167.6 367.6l1.9 3.6h-3.8zM102.5 322.1l1.9 3.6h-3.8zM105.8 331.9l1.9 3.6h-3.8zM97.6 327.3l1.9 3.6h-3.8zM100.3 327.6l1.9 3.6h-3.8zM108.9 323.8l1.9 3.6h-3.8zM129.9 328.8l1.9 3.6h-3.8zM116.9 318l1.9 3.6h-3.8zM134.1 362.9l1.9 3.6h-3.8zM171.6 357.1l1.9 3.6h-3.8zM156.4 344.9l1.9 3.6h-3.8zM175.2 361.5l1.9 3.6h-3.8zM211.6 411.4l1.9 3.6h-3.8zM140.7 375.9l1.9 3.6h-3.8zM150.9 337.8l1.9 3.6h-3.8zM175.4 359.5l1.9 3.6h-3.8zM144.1 338.5l1.9 3.6h-3.8zM182.8 368.7l1.9 3.6h-3.8zM100.7 299.9l1.9 3.6h-3.8zM74.4 306.4l1.9 3.6h-3.8zM90.9 307.5l1.9 3.6h-3.8zM96.6 306.4l1.9 3.6h-3.8zM88.3 319.3l1.9 3.6h-3.8zM140.5 326.4l1.9 3.6h-3.8zM138.6 366.3l1.9 3.6h-3.8z" class="r"/>
<path d="M185.8 378.7l1.9 3.6h-3.8zM103.7 331.2l1.9 3.6h-3.8zM115.5 337l1.9 3.6h-3.8zM187 398.7l1.9 3.6h-3.8zM172.2 376.6l1.9 3.6h-3.8zM200.2 414.7l1.9 3.6h-3.8zM183.5 382.8l1.9 3.6h-3.8zM120.3 331.1l1.9 3.6h-3.8zM167 385.2l1.9 3.6h-3.8zM124.4 327.9l1.9 3.6h-3.8zM116 323.1l1.9 3.6h-3.8zM154 352.7l1.9 3.6h-3.8zM141.9 338.7l1.9 3.6h-3.8zM175.3 377.5l1.9 3.6h-3.8zM194.8 391.6l1.9 3.6h-3.8zM185.2 406.7l1.9 3.6h-3.8zM155.3 367.8l1.9 3.6h-3.8zM181.7 393.3l1.9 3.6h-3.8zM120.6 342.3l1.9 3.6h-3.8zM179.7 368.2l1.9 3.6h-3.8zM192.9 411.2l1.9 3.6h-3.8zM163 357l1.9 3.6h-3.8zM142.7 342.2l1.9 3.6h-3.8zM189.2 385.1l1.9 3.6h-3.8zM180.6 403.3l1.9 3.6h-3.8zM179.2 385.6l1.9 3.6h-3.8zM185.2 387.7l1.9 3.6h-3.8zM114 337.2l1.9 3.6h-3.8zM125.4 349.1l1.9 3.6h-3.8zM188.4 380.9l1.9 3.6h-3.8zM141.1 361.8l1.9 3.6h-3.8zM190.5 408.2l1.9 3.6h-3.8zM122.9 344.3l1.9 3.6h-3.8zM175.1 374.6l1.9 3.6h-3.8zM176.5 377l1.9 3.6h-3.8zM184.4 382.6l1.9 3.6h-3.8zM116.9 326.3l1.9 3.6h-3.8zM98.8 328.1l1.9 3.6h-3.8zM205.3 403.9l1.9 3.6h-3.8zM140.5 353.8l1.9 3.6h-3.8zM114.8 332.1l1.9 3.6h-3.8zM135.5 343.2l1.9 3.6h-3.8zM196.8 414.9l1.9 3.6h-3.8zM179.7 382.3l1.9 3.6h-3.8zM168.5 363.7l1.9 3.6h-3.8zM179.2 386.7l1.9 3.6h-3.8zM186.6 406.6l1.9 3.6h-3.8zM144.4 344l1.9 3.6h-3.8zM202.9 415.6l1.9 3.6h-3.8zM127.7 332.3l1.9 3.6h-3.8zM133.9 343.9l1.9 3.6h-3.8zM162.8 362.3l1.9 3.6h-3.8zM170.8 370.6l1.9 3.6h-3.8zM179.1 368.1l1.9 3.6h-3.8zM149.4 370.8l1.9 3.6h-3.8zM148.7 349.4l1.9 3.6h-3.8zM200.6 403.8l1.9 3.6h-3.8zM139.8 352.8l1.9 3.6h-3.8zM201.4 402.2l1.9 3.6h-3.8zM166.6 361.5l1.9 3.6h-3.8zM172.3 374.7l1.9 3.6h-3.8zM138.2 358.2l1.9 3.6h-3.8zM129.1 350.7l1.9 3.6h-3.8zM171.1 376.3l1.9 3.6h-3.8zM115.4 333l1.9 3.6h-3.8zM123.8 321.6l1.9 3.6h-3.8zM112.2 324.7l1.9 3.6h-3.8zM101.3 321.2l1.9 3.6h-3.8zM99.3 331.9l1.9 3.6h-3.8zM106.1 319.4l1.9 3.6h-3.8zM209.3 398.9l1.9 3.6h-3.8zM129.6 362l1.9 3.6h-3.8zM163.5 352.4l1.9 3.6h-3.8zM168.3 355.5l1.9 3.6h-3.8zM210.3 408l1.9 3.6h-3.8zM154.8 384.3l1.9 3.6h-3.8zM60.3 273.7l1.9 3.6h-3.8zM73.7 282.7l1.9 3.6h-3.8zM196 417.6l1.9 3.6h-3.8zM205.5 414.5l1.9 3.6h-3.8z" class="r"/>
</g>
<rect x="48.5" y="261.5" width="183.0" height="184.0" fill="none" stroke="#1a1a1a" stroke-width="1.1"/>
<line x1="42.5" y1="304.5" x2="48.5" y2="304.5" stroke="#1a1a1a" stroke-width="1.1"/>
<text x="38.6" y="308.0" text-anchor="end" font-size="12.2">1</text>
<line x1="42.5" y1="376.5" x2="48.5" y2="376.5" stroke="#1a1a1a" stroke-width="1.1"/>
<text x="38.6" y="379.90000000000003" text-anchor="end" font-size="12.2">0.1</text>
<line x1="73.5" y1="445.5" x2="73.5" y2="451.0" stroke="#1a1a1a" stroke-width="1.1"/>
<text x="73.0" y="463.0" text-anchor="middle" font-size="12.3">1e-05</text>
<line x1="113.5" y1="445.5" x2="113.5" y2="451.0" stroke="#1a1a1a" stroke-width="1.1"/>
<text x="113.0" y="463.0" text-anchor="middle" font-size="12.3">0.0001</text>
<line x1="153.5" y1="445.5" x2="153.5" y2="451.0" stroke="#1a1a1a" stroke-width="1.1"/>
<text x="153.3" y="463.0" text-anchor="middle" font-size="12.3">0.001</text>
<line x1="193.5" y1="445.5" x2="193.5" y2="451.0" stroke="#1a1a1a" stroke-width="1.1"/>
<text x="193.3" y="463.0" text-anchor="middle" font-size="12.3">0.01</text>
<text x="46.3" y="253.6" font-size="16" font-weight="bold">D</text>
<text x="231.8" y="253.6" text-anchor="end" font-size="14.6">OTUs vs KEGG C</text>
<text transform="translate(9.9 357.9) rotate(-90)" text-anchor="middle" font-size="13.7">coefficient of variation</text>
<clipPath id="cE"><rect x="272.5" y="261.5" width="184.0" height="183.0"/></clipPath>
<g clip-path="url(#cE)">
<path d="M378.5 280.6h0M348.4 282.7h0M358.2 287.3h0M363.3 291.8h0M367.7 293.7h0M376.7 292.7h0M353.2 294.3h0M366.6 297.6h0M371.1 298.8h0M389.5 296h0M396 289.2h0M395.1 294.3h0M393.9 301.7h0M386.7 309.8h0M387.8 307.9h0M391.2 311.5h0M392.3 311.7h0M392.8 318.2h0M395.3 319.7h0M434.7 346.1h0" class="b"/>
<path d="M361.6 279.3h0M363.8 281.7h0M347.6 286.6h0M359.9 288.5h0M358.8 291.1h0M356.6 295h0M373.3 300.8h0M378.3 297.6h0M353.2 298.8h0M356.9 301.7h0M370 302.7h0M374.6 319.4h0M380.6 317.5h0M388.9 277.3h0M385 308.5h0M401.2 318.2h0M386.5 327.4h0M438.4 323.8h0M402.9 332.1h0M412.4 332.6h0M393.2 336.2h0M434.1 336.4h0" class="b"/>
<path d="M356.3 269.5h0M381.1 272.4h0M327.2 276.2h0M351.5 287.3h0M358.2 287.3h0M361.6 287.9h0M348.8 290.1h0M351.2 291.4h0M354.3 291.8h0M378.9 292.7h0M345.6 293.7h0M368.8 299.5h0M366.1 306.6h0M377.8 305.3h0M381.1 304h0M368.6 309.1h0M362.7 312.4h0M378.9 316.2h0M380.6 317.5h0M381.1 319.4h0M385.9 269.9h0M384.5 291.1h0M387.8 300.8h0M390 301.4h0M390.4 304.6h0M409.8 305.9h0M394.5 311.5h0M396.7 309.1h0M390 319.2h0M403.4 312.4h0M405.7 318.2h0M418.7 326.1h0M433.3 319.2h0" class="b"/>
<path d="M323.1 269.5h0M350.8 269.5h0M372.7 270.9h0M379.4 271.2h0M353.4 275.1h0M339.8 280.6h0M380.6 288.3h0M372.2 293.9h0M350.4 296.3h0M363.3 304h0M364.9 304.6h0M386.1 287.5h0M386.1 291.8h0M386.7 293.7h0M397.3 295h0M397.9 297.6h0M397.9 298.8h0M387.3 298.8h0M382.8 304.6h0M385.6 313h0M382.8 315.6h0M404.6 317.9h0M396.5 325.9h0M431.1 320.1h0M405.1 329.1h0" class="b"/>
<path d="M315.3 269.5h0M328.3 269.5h0M369.7 269.5h0M378.9 269.5h0M375 278.6h0M334.2 280.8h0M345.1 280.6h0M363.3 280.2h0M366.4 286.4h0M378.9 289.2h0M365.5 291.4h0M369.4 295h0M339.8 293h0M360.5 296h0M380.6 298.8h0M350.4 304.6h0M354.3 300.1h0M374.4 305.5h0M380 301.4h0M375.5 313h0M378.9 308.5h0M387 288.8h0M406 298.6h0M410.9 297.9h0M392.8 314.3h0M383.9 316.9h0M404 314.9h0M398.4 322.7h0M419.4 322.9h0M421.3 333.6h0" class="b"/>
<path d="M356.3 269.5h0M369.7 269.5h0M372.7 270.9h0M368.5 277h0M377.8 275.4h0M356.3 291.1h0M341.5 292.4h0M366.6 297.6h0M340 297.8h0M349.6 302.1h0M357.7 302.1h0M363.3 304h0M371.6 304h0M368.6 309.1h0M373.9 311.7h0M379.4 309.8h0M366.4 316.6h0M367.7 319.4h0M377.2 328.5h0M387.3 270.8h0M383.9 294.3h0M397.9 297.6h0M402.1 297.9h0M397.3 302.4h0M386.7 318.8h0M387.3 320.1h0M404.6 317.9h0M388.9 322.7h0M442.5 331.9h0M406.4 330.4h0M448.6 353.9h0" class="b"/>
<path d="M396.2 379.4l1.9 3.6h-3.8zM401.2 398.7l1.9 3.6h-3.8zM351.3 356.9l1.9 3.6h-3.8zM403.2 419.6l1.9 3.6h-3.8zM357.4 343.9l1.9 3.6h-3.8zM389.1 375l1.9 3.6h-3.8zM369.4 345.8l1.9 3.6h-3.8zM375.4 355.1l1.9 3.6h-3.8zM376.4 360.6l1.9 3.6h-3.8zM343.5 327.9l1.9 3.6h-3.8zM370.4 368.3l1.9 3.6h-3.8zM371.2 378.5l1.9 3.6h-3.8zM365.2 355l1.9 3.6h-3.8zM418.2 400.5l1.9 3.6h-3.8zM394.5 368.2l1.9 3.6h-3.8zM352.4 352l1.9 3.6h-3.8zM374.9 381.4l1.9 3.6h-3.8zM359.5 341.4l1.9 3.6h-3.8zM396.2 394.5l1.9 3.6h-3.8zM367.6 373.3l1.9 3.6h-3.8zM377.3 373.4l1.9 3.6h-3.8zM376.4 361l1.9 3.6h-3.8zM404.5 408.2l1.9 3.6h-3.8zM321.2 328.7l1.9 3.6h-3.8zM391.7 377.9l1.9 3.6h-3.8zM398.9 382.6l1.9 3.6h-3.8zM399.9 391.4l1.9 3.6h-3.8zM358.3 348.4l1.9 3.6h-3.8zM405.1 409.5l1.9 3.6h-3.8zM411.9 413l1.9 3.6h-3.8zM401 393.1l1.9 3.6h-3.8zM340 324l1.9 3.6h-3.8zM349.7 342.2l1.9 3.6h-3.8zM397 376.9l1.9 3.6h-3.8zM407.1 387.6l1.9 3.6h-3.8zM387.1 378l1.9 3.6h-3.8zM416.8 404.3l1.9 3.6h-3.8zM395.4 384.6l1.9 3.6h-3.8zM385.4 385.4l1.9 3.6h-3.8zM366.6 351.5l1.9 3.6h-3.8zM401.9 386.4l1.9 3.6h-3.8zM362 344l1.9 3.6h-3.8zM345.4 340.1l1.9 3.6h-3.8zM330.4 323l1.9 3.6h-3.8zM349.3 328.8l1.9 3.6h-3.8zM375.4 374.8l1.9 3.6h-3.8zM345 328.4l1.9 3.6h-3.8zM400.6 399.7l1.9 3.6h-3.8zM356 346.4l1.9 3.6h-3.8zM414.5 402.2l1.9 3.6h-3.8zM398.7 395.9l1.9 3.6h-3.8zM393.2 379.8l1.9 3.6h-3.8zM332.4 326.6l1.9 3.6h-3.8zM346.4 350.8l1.9 3.6h-3.8zM374.6 364l1.9 3.6h-3.8zM401.4 396.1l1.9 3.6h-3.8zM345.3 333.8l1.9 3.6h-3.8zM330.7 326.2l1.9 3.6h-3.8zM335.2 333l1.9 3.6h-3.8zM324.9 329.6l1.9 3.6h-3.8zM343 321.6l1.9 3.6h-3.8zM332.3 324.7l1.9 3.6h-3.8zM341.8 327.8l1.9 3.6h-3.8zM348.6 328.8l1.9 3.6h-3.8zM336.6 318l1.9 3.6h-3.8zM415.6 418.6l1.9 3.6h-3.8zM372.7 345l1.9 3.6h-3.8zM370.4 342.5l1.9 3.6h-3.8zM399.7 422l1.9 3.6h-3.8zM356.4 370.9l1.9 3.6h-3.8zM317.6 328l1.9 3.6h-3.8zM390.6 359.5l1.9 3.6h-3.8zM418.6 398.7l1.9 3.6h-3.8zM296.8 282.7l1.9 3.6h-3.8zM313 314l1.9 3.6h-3.8zM407.5 421.5l1.9 3.6h-3.8zM418.3 414.5l1.9 3.6h-3.8z" class="r"/>
<path d="M347.1 352.4l1.9 3.6h-3.8zM407.1 411.8l1.9 3.6h-3.8zM397 377l1.9 3.6h-3.8zM398.1 382.8l1.9 3.6h-3.8zM359.7 338.7l1.9 3.6h-3.8zM348.9 338.9l1.9 3.6h-3.8zM357.8 341.7l1.9 3.6h-3.8zM355.8 359.5l1.9 3.6h-3.8zM369.8 366.7l1.9 3.6h-3.8zM331.1 334.8l1.9 3.6h-3.8zM402.1 393.2l1.9 3.6h-3.8zM395.3 403.3l1.9 3.6h-3.8zM405 407.3l1.9 3.6h-3.8zM384.8 385.5l1.9 3.6h-3.8zM342.3 330.2l1.9 3.6h-3.8zM371.1 369.9l1.9 3.6h-3.8zM394.9 384.8l1.9 3.6h-3.8zM400.3 382.9l1.9 3.6h-3.8zM370.7 351.4l1.9 3.6h-3.8zM407.9 402.8l1.9 3.6h-3.8zM344.4 350.7l1.9 3.6h-3.8zM402.6 419l1.9 3.6h-3.8zM351.1 339.7l1.9 3.6h-3.8zM364.6 349.6l1.9 3.6h-3.8zM418.1 409.4l1.9 3.6h-3.8zM406 397.5l1.9 3.6h-3.8zM361.9 345.6l1.9 3.6h-3.8zM390.5 392.9l1.9 3.6h-3.8zM376.4 355.4l1.9 3.6h-3.8zM346.6 332.3l1.9 3.6h-3.8zM379 362.3l1.9 3.6h-3.8zM346.7 327.3l1.9 3.6h-3.8zM386.3 370.6l1.9 3.6h-3.8zM374.2 360.3l1.9 3.6h-3.8zM368 346.8l1.9 3.6h-3.8zM382.4 361.5l1.9 3.6h-3.8zM387.7 374.7l1.9 3.6h-3.8zM367.7 369.7l1.9 3.6h-3.8zM363.9 360.3l1.9 3.6h-3.8zM354.1 345.9l1.9 3.6h-3.8zM377.6 357.8l1.9 3.6h-3.8zM376.8 356.7l1.9 3.6h-3.8zM399.8 398.4l1.9 3.6h-3.8zM377.7 380.1l1.9 3.6h-3.8zM337.2 318.3l1.9 3.6h-3.8zM335.3 335.8l1.9 3.6h-3.8zM340.7 327.8l1.9 3.6h-3.8zM318.8 327.3l1.9 3.6h-3.8zM335 323.6l1.9 3.6h-3.8zM332.2 324.5l1.9 3.6h-3.8zM330.4 319.6l1.9 3.6h-3.8zM322.2 321.2l1.9 3.6h-3.8zM348.8 331.3l1.9 3.6h-3.8zM341.8 325.1l1.9 3.6h-3.8zM420.7 393.8l1.9 3.6h-3.8zM321.5 320.4l1.9 3.6h-3.8zM373 344.9l1.9 3.6h-3.8zM348.4 362l1.9 3.6h-3.8zM423.9 411.4l1.9 3.6h-3.8zM358.6 375.9l1.9 3.6h-3.8zM372.9 386.1l1.9 3.6h-3.8zM296.8 289.7l1.9 3.6h-3.8zM303.8 301.1l1.9 3.6h-3.8zM297.5 306.4l1.9 3.6h-3.8zM308.3 306.9l1.9 3.6h-3.8zM320.4 306.9l1.9 3.6h-3.8zM368.9 329.2l1.9 3.6h-3.8zM391.7 356.7l1.9 3.6h-3.8zM413.6 358.1l1.9 3.6h-3.8zM409.1 433.7l1.9 3.6h-3.8zM411.3 412.7l1.9 3.6h-3.8zM364 376.8l1.9 3.6h-3.8zM420.1 411.8l1.9 3.6h-3.8zM395.6 410.1l1.9 3.6h-3.8z" class="r"/>
<path d="M400.1 378.7l1.9 3.6h-3.8zM352.9 358l1.9 3.6h-3.8zM400.1 377.2l1.9 3.6h-3.8zM400.2 398.9l1.9 3.6h-3.8zM382.8 385.2l1.9 3.6h-3.8zM370.4 377.1l1.9 3.6h-3.8zM325.9 326.9l1.9 3.6h-3.8zM370.9 352.7l1.9 3.6h-3.8zM392.5 370.6l1.9 3.6h-3.8zM408.4 391.6l1.9 3.6h-3.8zM370.4 369.9l1.9 3.6h-3.8zM356.7 346l1.9 3.6h-3.8zM410.8 405.1l1.9 3.6h-3.8zM362 350.5l1.9 3.6h-3.8zM358.8 357.2l1.9 3.6h-3.8zM406.7 411.2l1.9 3.6h-3.8zM385 379.9l1.9 3.6h-3.8zM361.6 355.5l1.9 3.6h-3.8zM360.5 342.2l1.9 3.6h-3.8zM339 336.1l1.9 3.6h-3.8zM404.1 388.7l1.9 3.6h-3.8zM348.8 346.9l1.9 3.6h-3.8zM376.3 365.6l1.9 3.6h-3.8zM409.3 418.3l1.9 3.6h-3.8zM367.6 350.4l1.9 3.6h-3.8zM342.2 344.3l1.9 3.6h-3.8zM390.3 374.6l1.9 3.6h-3.8zM391.6 377l1.9 3.6h-3.8zM319.9 328.1l1.9 3.6h-3.8zM418.1 403.9l1.9 3.6h-3.8zM394 400.1l1.9 3.6h-3.8zM413.4 402.8l1.9 3.6h-3.8zM404.4 418.9l1.9 3.6h-3.8zM353.8 343.2l1.9 3.6h-3.8zM410.3 414.9l1.9 3.6h-3.8zM372.1 378l1.9 3.6h-3.8zM374.5 361.9l1.9 3.6h-3.8zM380 385.2l1.9 3.6h-3.8zM384.2 363.7l1.9 3.6h-3.8zM413.2 399.2l1.9 3.6h-3.8zM383.2 361.9l1.9 3.6h-3.8zM353.5 359.1l1.9 3.6h-3.8zM395.8 379.8l1.9 3.6h-3.8zM352.5 350.4l1.9 3.6h-3.8zM379.3 368.9l1.9 3.6h-3.8zM400.8 406.6l1.9 3.6h-3.8zM415.9 415.6l1.9 3.6h-3.8zM360.3 367l1.9 3.6h-3.8zM348.7 347.1l1.9 3.6h-3.8zM409.8 400.2l1.9 3.6h-3.8zM394 368.1l1.9 3.6h-3.8zM413.8 403.8l1.9 3.6h-3.8zM376.5 373.7l1.9 3.6h-3.8zM405.1 395.2l1.9 3.6h-3.8zM342.6 332l1.9 3.6h-3.8zM368.5 363.2l1.9 3.6h-3.8zM373.3 376.6l1.9 3.6h-3.8zM409.4 404.4l1.9 3.6h-3.8zM337.1 327.6l1.9 3.6h-3.8zM347.9 350.7l1.9 3.6h-3.8zM342.6 334.9l1.9 3.6h-3.8zM329.2 336.9l1.9 3.6h-3.8zM339 318.5l1.9 3.6h-3.8zM336.9 328.7l1.9 3.6h-3.8zM329.3 323.8l1.9 3.6h-3.8zM329.8 325.7l1.9 3.6h-3.8zM332.1 329.7l1.9 3.6h-3.8zM328.7 317.3l1.9 3.6h-3.8zM417.8 394.5l1.9 3.6h-3.8zM422.9 413l1.9 3.6h-3.8zM363.4 378.2l1.9 3.6h-3.8zM354.4 335.6l1.9 3.6h-3.8zM387.7 361.6l1.9 3.6h-3.8zM390.3 361.5l1.9 3.6h-3.8zM361.7 338.5l1.9 3.6h-3.8zM351.6 366.9l1.9 3.6h-3.8zM296.2 295.8l1.9 3.6h-3.8zM315 301.7l1.9 3.6h-3.8zM330.4 315.8l1.9 3.6h-3.8zM385.1 397.8l1.9 3.6h-3.8zM343 354l1.9 3.6h-3.8zM356.7 366.3l1.9 3.6h-3.8zM419.2 408.3l1.9 3.6h-3.8zM399.1 417.1l1.9 3.6h-3.8z" class="r"/>
<path d="M384.5 367.1l1.9 3.6h-3.8zM342.2 324.4l1.9 3.6h-3.8zM324.5 331.2l1.9 3.6h-3.8zM381.4 387.1l1.9 3.6h-3.8zM336.7 336.8l1.9 3.6h-3.8zM387.6 376.6l1.9 3.6h-3.8zM413.4 414.7l1.9 3.6h-3.8zM370.2 352.8l1.9 3.6h-3.8zM412.7 400.7l1.9 3.6h-3.8zM339.8 331.1l1.9 3.6h-3.8zM387.5 388.3l1.9 3.6h-3.8zM339.6 336.8l1.9 3.6h-3.8zM341.6 346.8l1.9 3.6h-3.8zM350.2 355.2l1.9 3.6h-3.8zM399.4 385.3l1.9 3.6h-3.8zM388.6 382.2l1.9 3.6h-3.8zM386.3 372.8l1.9 3.6h-3.8zM338.2 328.8l1.9 3.6h-3.8zM399.8 392.2l1.9 3.6h-3.8zM340.2 322.2l1.9 3.6h-3.8zM330 322.8l1.9 3.6h-3.8zM361.6 344.2l1.9 3.6h-3.8zM349.5 346.5l1.9 3.6h-3.8zM402.5 380.9l1.9 3.6h-3.8zM358.9 361.8l1.9 3.6h-3.8zM406.1 398l1.9 3.6h-3.8zM378.1 357.1l1.9 3.6h-3.8zM357.9 341.6l1.9 3.6h-3.8zM415.4 401.2l1.9 3.6h-3.8zM398.3 383.1l1.9 3.6h-3.8zM407.1 409.2l1.9 3.6h-3.8zM398.8 396.7l1.9 3.6h-3.8zM384.4 367.5l1.9 3.6h-3.8zM329.8 325.5l1.9 3.6h-3.8zM399.2 409.2l1.9 3.6h-3.8zM413.3 402.1l1.9 3.6h-3.8zM353.1 342l1.9 3.6h-3.8zM396.5 368.4l1.9 3.6h-3.8zM390.3 375.7l1.9 3.6h-3.8zM346.5 322.7l1.9 3.6h-3.8zM385.3 376.6l1.9 3.6h-3.8zM401.5 418.2l1.9 3.6h-3.8zM390.6 365.5l1.9 3.6h-3.8zM352.3 343.9l1.9 3.6h-3.8zM351.5 332.1l1.9 3.6h-3.8zM395.4 408.5l1.9 3.6h-3.8zM396.9 375.1l1.9 3.6h-3.8zM373.1 375l1.9 3.6h-3.8zM337.1 329.9l1.9 3.6h-3.8zM332.8 333.9l1.9 3.6h-3.8zM341.8 346.3l1.9 3.6h-3.8zM353.5 338.3l1.9 3.6h-3.8zM410 403l1.9 3.6h-3.8zM389.8 378.3l1.9 3.6h-3.8zM386.6 376.5l1.9 3.6h-3.8zM363.3 353.7l1.9 3.6h-3.8zM386.6 376.3l1.9 3.6h-3.8zM357.2 340.3l1.9 3.6h-3.8zM383.3 367.6l1.9 3.6h-3.8zM324.7 328.8l1.9 3.6h-3.8zM323.4 322.1l1.9 3.6h-3.8zM325 330.1l1.9 3.6h-3.8zM333.9 338.1l1.9 3.6h-3.8zM337 335.5l1.9 3.6h-3.8zM374.9 348.1l1.9 3.6h-3.8zM350.8 366.5l1.9 3.6h-3.8zM421.8 398.9l1.9 3.6h-3.8zM387 357.1l1.9 3.6h-3.8zM335.6 347.7l1.9 3.6h-3.8zM368 337.8l1.9 3.6h-3.8zM384 355.5l1.9 3.6h-3.8zM321.7 299.9l1.9 3.6h-3.8zM321.7 299.9l1.9 3.6h-3.8zM317.9 306.4l1.9 3.6h-3.8zM306.7 316.7l1.9 3.6h-3.8zM328.7 314.5l1.9 3.6h-3.8zM413.1 380l1.9 3.6h-3.8zM378.9 394.3l1.9 3.6h-3.8z" class="r"/>
<path d="M338.6 324.6l1.9 3.6h-3.8zM333.3 334.6l1.9 3.6h-3.8zM367.8 358l1.9 3.6h-3.8zM335.8 323.1l1.9 3.6h-3.8zM390.5 377.5l1.9 3.6h-3.8zM399.6 406.7l1.9 3.6h-3.8zM353.4 356.6l1.9 3.6h-3.8zM357.3 348.1l1.9 3.6h-3.8zM396.4 393.3l1.9 3.6h-3.8zM338.1 320.6l1.9 3.6h-3.8zM379.1 357l1.9 3.6h-3.8zM369.5 356.4l1.9 3.6h-3.8zM387.1 364l1.9 3.6h-3.8zM388.9 387.4l1.9 3.6h-3.8zM385.1 389.3l1.9 3.6h-3.8zM399 376.8l1.9 3.6h-3.8zM342.1 327.8l1.9 3.6h-3.8zM394 385.6l1.9 3.6h-3.8zM380.6 382.4l1.9 3.6h-3.8zM399.6 387.7l1.9 3.6h-3.8zM361.1 370.5l1.9 3.6h-3.8zM334 337.2l1.9 3.6h-3.8zM363.9 369.9l1.9 3.6h-3.8zM344.5 349.1l1.9 3.6h-3.8zM366.2 356.4l1.9 3.6h-3.8zM397.8 403.2l1.9 3.6h-3.8zM358.1 362.9l1.9 3.6h-3.8zM336.7 326.3l1.9 3.6h-3.8zM404.8 389.7l1.9 3.6h-3.8zM379 377.7l1.9 3.6h-3.8zM398.9 415.6l1.9 3.6h-3.8zM334.7 332.1l1.9 3.6h-3.8zM347.1 344.2l1.9 3.6h-3.8zM335.4 326l1.9 3.6h-3.8zM345.1 344.9l1.9 3.6h-3.8zM368.2 357.5l1.9 3.6h-3.8zM361.3 354.3l1.9 3.6h-3.8zM369.5 364l1.9 3.6h-3.8zM364.1 373.3l1.9 3.6h-3.8zM375.6 385.2l1.9 3.6h-3.8zM394.5 382.3l1.9 3.6h-3.8zM342.7 337.5l1.9 3.6h-3.8zM399.2 391.8l1.9 3.6h-3.8zM346.7 340.1l1.9 3.6h-3.8zM376.5 367l1.9 3.6h-3.8zM393.6 380.3l1.9 3.6h-3.8zM390.3 368.8l1.9 3.6h-3.8zM356.5 342.9l1.9 3.6h-3.8zM358.6 342.3l1.9 3.6h-3.8zM392.3 365.3l1.9 3.6h-3.8zM333.6 324.7l1.9 3.6h-3.8zM382.8 383.6l1.9 3.6h-3.8zM399.8 389.7l1.9 3.6h-3.8zM367.7 375l1.9 3.6h-3.8zM351.4 333.1l1.9 3.6h-3.8zM406.3 388.8l1.9 3.6h-3.8zM388 383.5l1.9 3.6h-3.8zM374.3 371.8l1.9 3.6h-3.8zM355.2 350l1.9 3.6h-3.8zM414 399.3l1.9 3.6h-3.8zM397 390l1.9 3.6h-3.8zM398.1 372.3l1.9 3.6h-3.8zM356.3 358.2l1.9 3.6h-3.8zM390.5 384.9l1.9 3.6h-3.8zM350.2 336l1.9 3.6h-3.8zM383.4 372.7l1.9 3.6h-3.8zM401.4 385.5l1.9 3.6h-3.8zM332.2 324.9l1.9 3.6h-3.8zM321 329.5l1.9 3.6h-3.8zM332.1 321.8l1.9 3.6h-3.8zM331.7 332.8l1.9 3.6h-3.8zM326.4 331.9l1.9 3.6h-3.8zM321.4 327.6l1.9 3.6h-3.8zM334 328.7l1.9 3.6h-3.8zM320.4 331.9l1.9 3.6h-3.8zM411 420.3l1.9 3.6h-3.8zM340.3 318.8l1.9 3.6h-3.8zM326.7 319.4l1.9 3.6h-3.8zM367.1 384l1.9 3.6h-3.8zM352.5 362.9l1.9 3.6h-3.8zM422.4 411.4l1.9 3.6h-3.8zM379.6 352.4l1.9 3.6h-3.8zM397.4 368.7l1.9 3.6h-3.8zM371.6 384.3l1.9 3.6h-3.8zM284.5 273.7l1.9 3.6h-3.8zM280.3 282.7l1.9 3.6h-3.8zM335.1 301.1l1.9 3.6h-3.8zM302.2 305.5l1.9 3.6h-3.8zM312.7 307.5l1.9 3.6h-3.8zM316.7 313.3l1.9 3.6h-3.8zM321.3 314.9l1.9 3.6h-3.8zM321.3 314.9l1.9 3.6h-3.8zM435.3 401.7l1.9 3.6h-3.8zM409.6 417.6l1.9 3.6h-3.8z" class="r"/>
<path d="M369.7 355.6l1.9 3.6h-3.8zM358.6 355.5l1.9 3.6h-3.8zM335.4 337l1.9 3.6h-3.8zM358.9 344.3l1.9 3.6h-3.8zM347.3 356.3l1.9 3.6h-3.8zM406.3 409.6l1.9 3.6h-3.8zM388.9 394.5l1.9 3.6h-3.8zM403.4 416.6l1.9 3.6h-3.8zM397.1 378.6l1.9 3.6h-3.8zM388.5 391.2l1.9 3.6h-3.8zM385.5 361.7l1.9 3.6h-3.8zM334.7 325.7l1.9 3.6h-3.8zM372.1 367.8l1.9 3.6h-3.8zM340 342.3l1.9 3.6h-3.8zM388.3 383.3l1.9 3.6h-3.8zM413.6 405.5l1.9 3.6h-3.8zM388.1 380.8l1.9 3.6h-3.8zM363.2 370.3l1.9 3.6h-3.8zM403.3 385.1l1.9 3.6h-3.8zM413.4 410.8l1.9 3.6h-3.8zM367.3 370.2l1.9 3.6h-3.8zM368.3 356.9l1.9 3.6h-3.8zM384.9 389l1.9 3.6h-3.8zM364 363.1l1.9 3.6h-3.8zM364.1 351.6l1.9 3.6h-3.8zM370.3 360.8l1.9 3.6h-3.8zM327.1 327.7l1.9 3.6h-3.8zM405.4 404.7l1.9 3.6h-3.8zM368.2 360.5l1.9 3.6h-3.8zM391.2 372.4l1.9 3.6h-3.8zM358.4 353.8l1.9 3.6h-3.8zM389 388.3l1.9 3.6h-3.8zM335.1 329.4l1.9 3.6h-3.8zM341.8 323l1.9 3.6h-3.8zM387.9 372.8l1.9 3.6h-3.8zM399.4 374.6l1.9 3.6h-3.8zM394.1 386.7l1.9 3.6h-3.8zM409.7 414.2l1.9 3.6h-3.8zM352.7 351.2l1.9 3.6h-3.8zM346.9 330.5l1.9 3.6h-3.8zM340.8 320.2l1.9 3.6h-3.8zM375.8 379.2l1.9 3.6h-3.8zM396.6 376.9l1.9 3.6h-3.8zM362.1 362.6l1.9 3.6h-3.8zM358.9 362l1.9 3.6h-3.8zM328 320.2l1.9 3.6h-3.8zM338.5 331.9l1.9 3.6h-3.8zM388.8 373.9l1.9 3.6h-3.8zM414.7 406.7l1.9 3.6h-3.8zM413.5 396.6l1.9 3.6h-3.8zM417.5 398.3l1.9 3.6h-3.8zM366.6 370.8l1.9 3.6h-3.8zM366 349.4l1.9 3.6h-3.8zM345.9 342.1l1.9 3.6h-3.8zM368.4 362.5l1.9 3.6h-3.8zM357.8 352.8l1.9 3.6h-3.8zM348.5 350.4l1.9 3.6h-3.8zM415.1 400.7l1.9 3.6h-3.8zM336.9 324.6l1.9 3.6h-3.8zM393 382.5l1.9 3.6h-3.8zM402.3 385.4l1.9 3.6h-3.8zM403.4 392.3l1.9 3.6h-3.8zM342.7 322l1.9 3.6h-3.8zM338.4 338.6l1.9 3.6h-3.8zM320.3 320.4l1.9 3.6h-3.8zM368.3 342.4l1.9 3.6h-3.8zM343.5 317l1.9 3.6h-3.8zM411.5 385.8l1.9 3.6h-3.8zM343.9 360.7l1.9 3.6h-3.8zM422.7 408l1.9 3.6h-3.8zM299.8 279.7l1.9 3.6h-3.8zM300.5 284.7l1.9 3.6h-3.8zM296.2 295.8l1.9 3.6h-3.8zM310.9 294.5l1.9 3.6h-3.8zM310.9 294.5l1.9 3.6h-3.8zM312.3 293.2l1.9 3.6h-3.8zM310.3 319.3l1.9 3.6h-3.8zM312 322.7l1.9 3.6h-3.8zM358.4 326.4l1.9 3.6h-3.8z" class="r"/>
</g>
<rect x="272.5" y="261.5" width="184.0" height="183.0" fill="none" stroke="#1a1a1a" stroke-width="1.1"/>
<line x1="266.5" y1="304.5" x2="272.5" y2="304.5" stroke="#1a1a1a" stroke-width="1.1"/>
<text x="262.6" y="308.0" text-anchor="end" font-size="12.2">1</text>
<line x1="266.5" y1="376.5" x2="272.5" y2="376.5" stroke="#1a1a1a" stroke-width="1.1"/>
<text x="262.6" y="379.90000000000003" text-anchor="end" font-size="12.2">0.1</text>
<line x1="296.5" y1="444.5" x2="296.5" y2="450.0" stroke="#1a1a1a" stroke-width="1.1"/>
<text x="296.2" y="463.0" text-anchor="middle" font-size="12.3">1e-05</text>
<line x1="333.5" y1="444.5" x2="333.5" y2="450.0" stroke="#1a1a1a" stroke-width="1.1"/>
<text x="333.3" y="463.0" text-anchor="middle" font-size="12.3">0.0001</text>
<line x1="370.5" y1="444.5" x2="370.5" y2="450.0" stroke="#1a1a1a" stroke-width="1.1"/>
<text x="370.4" y="463.0" text-anchor="middle" font-size="12.3">0.001</text>
<line x1="407.5" y1="444.5" x2="407.5" y2="450.0" stroke="#1a1a1a" stroke-width="1.1"/>
<text x="407.2" y="463.0" text-anchor="middle" font-size="12.3">0.01</text>
<line x1="444.5" y1="444.5" x2="444.5" y2="450.0" stroke="#1a1a1a" stroke-width="1.1"/>
<text x="444.0" y="463.0" text-anchor="middle" font-size="12.3">0.1</text>
<text x="270.3" y="253.6" font-size="16" font-weight="bold">E</text>
<text x="456.8" y="253.6" text-anchor="end" font-size="14.6">genera vs KEGG C</text>
<clipPath id="cF"><rect x="500.5" y="262.5" width="184.0" height="183.0"/></clipPath>
<g clip-path="url(#cF)">
<path d="M578.4 303.2h0M582.8 306.8h0M591.4 308.3h0M595.3 302.5h0M609.5 296.5h0M621 306.8h0M623.5 314.1h0M638 337.3h0" class="b"/>
<path d="M571.9 298h0M604.8 301.2h0M574.7 302.9h0M601.2 309.6h0M597.6 314.8h0M597 320.9h0M597 320.9h0M609.3 307.3h0M656.6 307.4h0M622.1 319.3h0M649.9 317.1h0M639.9 326.6h0M650.7 339.5h0" class="b"/>
<path d="M596.2 271.2h0M557 295.2h0M585.3 294.8h0M606.5 303.2h0M573.8 304.8h0M581.9 306.4h0M585.5 310.9h0M603.7 315.8h0M607.6 301h0M615.9 304.1h0M618.7 317.6h0M618.7 317.6h0M619.5 318.4h0M612.8 323.8h0M611.3 333.4h0M652.5 328.7h0M676.5 344h0" class="b"/>
<path d="M578 291.3h0M575.8 293.1h0M597 298.3h0M602.6 297.4h0M591.4 308.3h0M624.9 307.3h0M610.9 319.7h0M644.2 343.3h0" class="b"/>
<path d="M601.1 282.6h0M566.9 291.6h0M575.8 290.9h0M584.2 289.7h0M598.9 315.4h0M622.9 300.9h0M622.9 328.5h0M662 352h0" class="b"/>
<path d="M553.5 282.6h0M587.7 292.5h0M588.6 296.1h0M578 297.4h0M604.2 299.3h0M606.2 307.7h0M574.7 302.9h0M568.3 306.7h0M595.3 310.6h0M597.6 314.8h0M600.7 320.6h0M613.2 295.4h0M618.2 315.8h0M608.1 318.6h0M641.4 316.7h0M640.5 318.4h0M644.7 323.9h0M653.1 352h0M674.2 366.3h0" class="b"/>
<path d="M561.9 337.6l1.9 3.6h-3.8zM619.4 377.8l1.9 3.6h-3.8zM634.4 401.5l1.9 3.6h-3.8zM611.7 395.3l1.9 3.6h-3.8zM568.4 328.7l1.9 3.6h-3.8zM613.2 378.3l1.9 3.6h-3.8zM581.5 348.9l1.9 3.6h-3.8zM574.8 356l1.9 3.6h-3.8zM586.1 351.3l1.9 3.6h-3.8zM583 358l1.9 3.6h-3.8zM608 380.7l1.9 3.6h-3.8zM584.6 343l1.9 3.6h-3.8zM621.3 377.6l1.9 3.6h-3.8zM573.4 347.7l1.9 3.6h-3.8zM617.9 404.1l1.9 3.6h-3.8zM616.6 386.4l1.9 3.6h-3.8zM627.1 408.1l1.9 3.6h-3.8zM599.7 366.4l1.9 3.6h-3.8zM585.6 345l1.9 3.6h-3.8zM624.7 381.7l1.9 3.6h-3.8zM621.2 383.4l1.9 3.6h-3.8zM622.6 383.7l1.9 3.6h-3.8zM628.2 398.8l1.9 3.6h-3.8zM594.3 352.2l1.9 3.6h-3.8zM639.6 404.7l1.9 3.6h-3.8zM621.1 397.5l1.9 3.6h-3.8zM560.4 330.2l1.9 3.6h-3.8zM569.9 345.7l1.9 3.6h-3.8zM595.6 378.8l1.9 3.6h-3.8zM593.2 364.8l1.9 3.6h-3.8zM565 324.8l1.9 3.6h-3.8zM588.1 374.1l1.9 3.6h-3.8zM635 402.9l1.9 3.6h-3.8zM603.2 386l1.9 3.6h-3.8zM621.6 392.6l1.9 3.6h-3.8zM624.8 419.8l1.9 3.6h-3.8zM616.7 387.5l1.9 3.6h-3.8zM634.9 400l1.9 3.6h-3.8zM639.6 410.2l1.9 3.6h-3.8zM629.1 388.4l1.9 3.6h-3.8zM599.8 356.2l1.9 3.6h-3.8zM637.5 416.4l1.9 3.6h-3.8zM628.3 389.6l1.9 3.6h-3.8zM576 332.9l1.9 3.6h-3.8zM598.8 375.6l1.9 3.6h-3.8zM631.6 401l1.9 3.6h-3.8zM590.4 371.6l1.9 3.6h-3.8zM570.7 342.9l1.9 3.6h-3.8zM582 353.6l1.9 3.6h-3.8zM636.2 403l1.9 3.6h-3.8zM596.8 377.4l1.9 3.6h-3.8zM609.5 377.3l1.9 3.6h-3.8zM578.5 346.7l1.9 3.6h-3.8zM572.6 351.5l1.9 3.6h-3.8zM609.5 377.1l1.9 3.6h-3.8zM623.6 396.9l1.9 3.6h-3.8zM606.4 368.4l1.9 3.6h-3.8zM550.4 329.6l1.9 3.6h-3.8zM550.7 330.9l1.9 3.6h-3.8zM562 329.5l1.9 3.6h-3.8zM560.5 336.6l1.9 3.6h-3.8zM557.4 322.6l1.9 3.6h-3.8zM544.8 328.1l1.9 3.6h-3.8zM546.2 321.2l1.9 3.6h-3.8zM573.3 329.6l1.9 3.6h-3.8zM566.8 325.9l1.9 3.6h-3.8zM644.2 413.8l1.9 3.6h-3.8zM637.2 419.4l1.9 3.6h-3.8zM633.3 386.6l1.9 3.6h-3.8zM610.6 362.4l1.9 3.6h-3.8zM543.6 328.8l1.9 3.6h-3.8zM645.1 412.2l1.9 3.6h-3.8zM640 399.5l1.9 3.6h-3.8zM644 408.8l1.9 3.6h-3.8zM508 283.5l1.9 3.6h-3.8zM537.3 295.3l1.9 3.6h-3.8zM538.6 294l1.9 3.6h-3.8zM560.4 301.9l1.9 3.6h-3.8zM533.2 317.5l1.9 3.6h-3.8zM547.2 315.7l1.9 3.6h-3.8zM582.6 327.2l1.9 3.6h-3.8zM656 402.5l1.9 3.6h-3.8zM630.9 434.5l1.9 3.6h-3.8zM629.4 422.3l1.9 3.6h-3.8zM640.6 409.1l1.9 3.6h-3.8z" class="r"/>
<path d="M583.1 345.1l1.9 3.6h-3.8zM572 357.1l1.9 3.6h-3.8zM625.5 417.4l1.9 3.6h-3.8zM593.1 346.6l1.9 3.6h-3.8zM619.5 379.4l1.9 3.6h-3.8zM610.4 389.1l1.9 3.6h-3.8zM564.6 337.6l1.9 3.6h-3.8zM551.5 327.7l1.9 3.6h-3.8zM589.1 355.8l1.9 3.6h-3.8zM621.7 386.1l1.9 3.6h-3.8zM635.3 406.3l1.9 3.6h-3.8zM610.9 381.6l1.9 3.6h-3.8zM609.2 373.6l1.9 3.6h-3.8zM610 364.8l1.9 3.6h-3.8zM624.3 394l1.9 3.6h-3.8zM567 328.6l1.9 3.6h-3.8zM591.3 374.1l1.9 3.6h-3.8zM569.3 349.9l1.9 3.6h-3.8zM590 357.2l1.9 3.6h-3.8zM622.1 393l1.9 3.6h-3.8zM588.1 352.4l1.9 3.6h-3.8zM591.4 351.2l1.9 3.6h-3.8zM627.5 405.5l1.9 3.6h-3.8zM613 375.4l1.9 3.6h-3.8zM561.8 327.1l1.9 3.6h-3.8zM602.2 378.5l1.9 3.6h-3.8zM616.5 400.9l1.9 3.6h-3.8zM635.1 403.6l1.9 3.6h-3.8zM582.1 342.4l1.9 3.6h-3.8zM637 402l1.9 3.6h-3.8zM629.9 403.6l1.9 3.6h-3.8zM611.8 389.1l1.9 3.6h-3.8zM582.5 349.2l1.9 3.6h-3.8zM627.1 410.3l1.9 3.6h-3.8zM623.3 393.9l1.9 3.6h-3.8zM555.2 326.3l1.9 3.6h-3.8zM617.1 383.1l1.9 3.6h-3.8zM631.5 415l1.9 3.6h-3.8zM599.9 367.8l1.9 3.6h-3.8zM616.2 381.1l1.9 3.6h-3.8zM613 369.6l1.9 3.6h-3.8zM571.4 333.1l1.9 3.6h-3.8zM611.6 374.7l1.9 3.6h-3.8zM570.2 340.9l1.9 3.6h-3.8zM636.4 407.5l1.9 3.6h-3.8zM580.3 347.2l1.9 3.6h-3.8zM597.7 361.1l1.9 3.6h-3.8zM591.7 347.6l1.9 3.6h-3.8zM639 399.1l1.9 3.6h-3.8zM562.2 330.7l1.9 3.6h-3.8zM558.1 334.7l1.9 3.6h-3.8zM627.2 396l1.9 3.6h-3.8zM612.5 379.1l1.9 3.6h-3.8zM621 396.7l1.9 3.6h-3.8zM579.5 350.8l1.9 3.6h-3.8zM567.5 332.8l1.9 3.6h-3.8zM619.5 390.8l1.9 3.6h-3.8zM580.6 359l1.9 3.6h-3.8zM623.6 386.3l1.9 3.6h-3.8zM557.6 325.7l1.9 3.6h-3.8zM581.4 341.1l1.9 3.6h-3.8zM601 380.9l1.9 3.6h-3.8zM563.5 339.4l1.9 3.6h-3.8zM567.9 322.4l1.9 3.6h-3.8zM557.7 325.5l1.9 3.6h-3.8zM566.7 328.6l1.9 3.6h-3.8zM592 343.2l1.9 3.6h-3.8zM639.3 395.3l1.9 3.6h-3.8zM587.4 379l1.9 3.6h-3.8zM580.7 371.7l1.9 3.6h-3.8zM602.8 353.2l1.9 3.6h-3.8zM607 356.3l1.9 3.6h-3.8zM527.3 285.5l1.9 3.6h-3.8zM530.5 301.9l1.9 3.6h-3.8zM534.7 307.7l1.9 3.6h-3.8zM538.9 308.3l1.9 3.6h-3.8zM546.3 307.7l1.9 3.6h-3.8zM641.5 412.6l1.9 3.6h-3.8z" class="r"/>
<path d="M607.5 367.9l1.9 3.6h-3.8zM560.6 337.8l1.9 3.6h-3.8zM604.5 387.9l1.9 3.6h-3.8zM610.4 377.4l1.9 3.6h-3.8zM611.9 375.8l1.9 3.6h-3.8zM564.8 331.9l1.9 3.6h-3.8zM611.3 392l1.9 3.6h-3.8zM598.8 355.9l1.9 3.6h-3.8zM594.1 377.9l1.9 3.6h-3.8zM599.7 361.4l1.9 3.6h-3.8zM591.6 358.8l1.9 3.6h-3.8zM594.5 353.5l1.9 3.6h-3.8zM594 369.1l1.9 3.6h-3.8zM566.5 347.6l1.9 3.6h-3.8zM632.6 405.9l1.9 3.6h-3.8zM628.7 412l1.9 3.6h-3.8zM593.2 357.2l1.9 3.6h-3.8zM564.1 336.9l1.9 3.6h-3.8zM556.5 335.6l1.9 3.6h-3.8zM621.9 388.5l1.9 3.6h-3.8zM563.3 329.6l1.9 3.6h-3.8zM559.3 338l1.9 3.6h-3.8zM600.7 374.2l1.9 3.6h-3.8zM593.9 361.6l1.9 3.6h-3.8zM567.1 345.1l1.9 3.6h-3.8zM591.9 361.3l1.9 3.6h-3.8zM545.9 328.9l1.9 3.6h-3.8zM601.4 357.9l1.9 3.6h-3.8zM621.2 416.4l1.9 3.6h-3.8zM598 362.7l1.9 3.6h-3.8zM567.6 338.3l1.9 3.6h-3.8zM577.5 342.8l1.9 3.6h-3.8zM610 378.8l1.9 3.6h-3.8zM638.4 405.1l1.9 3.6h-3.8zM608.3 377.4l1.9 3.6h-3.8zM576.9 351.2l1.9 3.6h-3.8zM599.2 380l1.9 3.6h-3.8zM586 344.8l1.9 3.6h-3.8zM563.6 332.7l1.9 3.6h-3.8zM622.1 390.5l1.9 3.6h-3.8zM602.2 363.1l1.9 3.6h-3.8zM609.2 371.4l1.9 3.6h-3.8zM635.1 397.4l1.9 3.6h-3.8zM589.8 350.2l1.9 3.6h-3.8zM610.6 375.5l1.9 3.6h-3.8zM557.8 327.4l1.9 3.6h-3.8zM635.7 400.1l1.9 3.6h-3.8zM571.1 351.6l1.9 3.6h-3.8zM615.6 383.3l1.9 3.6h-3.8zM600.2 357.5l1.9 3.6h-3.8zM546.9 330.3l1.9 3.6h-3.8zM557.1 333.6l1.9 3.6h-3.8zM557.6 325.3l1.9 3.6h-3.8zM554.8 324.6l1.9 3.6h-3.8zM555.3 326.5l1.9 3.6h-3.8zM557.4 330.5l1.9 3.6h-3.8zM562.2 336.3l1.9 3.6h-3.8zM575.3 367.3l1.9 3.6h-3.8zM568.4 317.8l1.9 3.6h-3.8zM578.7 336.4l1.9 3.6h-3.8zM594.1 343.3l1.9 3.6h-3.8zM609.9 357.9l1.9 3.6h-3.8zM547.3 321.2l1.9 3.6h-3.8zM568.8 361.5l1.9 3.6h-3.8zM573 362.8l1.9 3.6h-3.8zM582.7 376.7l1.9 3.6h-3.8zM613.3 360.3l1.9 3.6h-3.8zM585.8 339.3l1.9 3.6h-3.8zM595.2 385.1l1.9 3.6h-3.8zM512 274.5l1.9 3.6h-3.8zM523.8 290.5l1.9 3.6h-3.8zM523.2 296.6l1.9 3.6h-3.8zM547.5 300.7l1.9 3.6h-3.8zM541.1 302.5l1.9 3.6h-3.8zM524.5 307.2l1.9 3.6h-3.8zM592.6 330l1.9 3.6h-3.8zM631.4 418.4l1.9 3.6h-3.8zM633.1 413.5l1.9 3.6h-3.8zM618.1 410.9l1.9 3.6h-3.8z" class="r"/>
<path d="M582.8 356.3l1.9 3.6h-3.8zM571.8 353.2l1.9 3.6h-3.8zM618.7 380.2l1.9 3.6h-3.8zM622.4 378l1.9 3.6h-3.8zM629.1 412.6l1.9 3.6h-3.8zM575.8 357.7l1.9 3.6h-3.8zM581.7 344.7l1.9 3.6h-3.8zM608.4 362.5l1.9 3.6h-3.8zM630.3 392.4l1.9 3.6h-3.8zM621.9 407.5l1.9 3.6h-3.8zM594.8 379.3l1.9 3.6h-3.8zM565.1 343.1l1.9 3.6h-3.8zM639.6 401.3l1.9 3.6h-3.8zM581 346.8l1.9 3.6h-3.8zM602.4 357.8l1.9 3.6h-3.8zM582 342.5l1.9 3.6h-3.8zM608.1 390.1l1.9 3.6h-3.8zM625.4 385.9l1.9 3.6h-3.8zM583.6 342.2l1.9 3.6h-3.8zM565.2 323l1.9 3.6h-3.8zM620.2 404l1.9 3.6h-3.8zM552.7 328.5l1.9 3.6h-3.8zM567.2 331l1.9 3.6h-3.8zM583.1 362.6l1.9 3.6h-3.8zM626.9 390.5l1.9 3.6h-3.8zM613.9 373.2l1.9 3.6h-3.8zM560.6 326.8l1.9 3.6h-3.8zM591.9 358.3l1.9 3.6h-3.8zM632.1 415.7l1.9 3.6h-3.8zM569.2 351.5l1.9 3.6h-3.8zM575.6 340.5l1.9 3.6h-3.8zM621.7 375.4l1.9 3.6h-3.8zM571.4 340.9l1.9 3.6h-3.8zM571.6 331.3l1.9 3.6h-3.8zM628.1 398.3l1.9 3.6h-3.8zM565.8 321l1.9 3.6h-3.8zM608.4 386.2l1.9 3.6h-3.8zM583.1 362.8l1.9 3.6h-3.8zM553.6 321l1.9 3.6h-3.8zM580.7 343.7l1.9 3.6h-3.8zM582.7 343.1l1.9 3.6h-3.8zM624.1 387.2l1.9 3.6h-3.8zM613.3 366.3l1.9 3.6h-3.8zM576.8 344.7l1.9 3.6h-3.8zM573.9 329.6l1.9 3.6h-3.8zM591.5 375.8l1.9 3.6h-3.8zM575.9 333.9l1.9 3.6h-3.8zM619.3 375.9l1.9 3.6h-3.8zM599.9 374.5l1.9 3.6h-3.8zM562 325.4l1.9 3.6h-3.8zM562.2 328.4l1.9 3.6h-3.8zM574.8 336.8l1.9 3.6h-3.8zM606.4 373.5l1.9 3.6h-3.8zM622.1 399.2l1.9 3.6h-3.8zM625.5 393.1l1.9 3.6h-3.8zM554.7 337.7l1.9 3.6h-3.8zM564.1 319.3l1.9 3.6h-3.8zM567.6 322.8l1.9 3.6h-3.8zM556.1 327l1.9 3.6h-3.8zM550.6 330.4l1.9 3.6h-3.8zM565.7 328.6l1.9 3.6h-3.8zM560.3 324.4l1.9 3.6h-3.8zM547.2 328.4l1.9 3.6h-3.8zM573.4 332.1l1.9 3.6h-3.8zM554.2 318.1l1.9 3.6h-3.8zM546.3 332.7l1.9 3.6h-3.8zM632.8 421.1l1.9 3.6h-3.8zM598.3 348.9l1.9 3.6h-3.8zM552.3 320.2l1.9 3.6h-3.8zM576.9 363.7l1.9 3.6h-3.8zM596.2 345.8l1.9 3.6h-3.8zM596.6 345.7l1.9 3.6h-3.8zM613.1 362.3l1.9 3.6h-3.8zM643.7 412.2l1.9 3.6h-3.8zM560.8 348.5l1.9 3.6h-3.8zM619.8 369.5l1.9 3.6h-3.8zM576.1 367.7l1.9 3.6h-3.8zM539.2 314.8l1.9 3.6h-3.8zM567.9 354.8l1.9 3.6h-3.8zM580.9 367.1l1.9 3.6h-3.8z" class="r"/>
<path d="M622.5 399.7l1.9 3.6h-3.8zM635.1 415.5l1.9 3.6h-3.8zM620.4 383.6l1.9 3.6h-3.8zM605.9 386l1.9 3.6h-3.8zM583.8 339.5l1.9 3.6h-3.8zM560 326.5l1.9 3.6h-3.8zM595.6 368.6l1.9 3.6h-3.8zM577.8 357.4l1.9 3.6h-3.8zM611.1 384.1l1.9 3.6h-3.8zM611.4 383l1.9 3.6h-3.8zM573.5 339.7l1.9 3.6h-3.8zM580.1 360.3l1.9 3.6h-3.8zM611.7 388.2l1.9 3.6h-3.8zM593.5 367.5l1.9 3.6h-3.8zM598.3 382.2l1.9 3.6h-3.8zM626.2 389.5l1.9 3.6h-3.8zM635.1 411.6l1.9 3.6h-3.8zM618.7 395.3l1.9 3.6h-3.8zM591 371l1.9 3.6h-3.8zM588 363.9l1.9 3.6h-3.8zM631.2 419.1l1.9 3.6h-3.8zM582.3 363.7l1.9 3.6h-3.8zM599.8 361.8l1.9 3.6h-3.8zM614.3 377.8l1.9 3.6h-3.8zM582.6 354.6l1.9 3.6h-3.8zM560 332.9l1.9 3.6h-3.8zM620.6 383.9l1.9 3.6h-3.8zM626.5 419.7l1.9 3.6h-3.8zM607.4 368.3l1.9 3.6h-3.8zM585.3 355.1l1.9 3.6h-3.8zM621.5 410l1.9 3.6h-3.8zM574.3 343l1.9 3.6h-3.8zM618.9 369.2l1.9 3.6h-3.8zM607.2 364.5l1.9 3.6h-3.8zM618.3 380.6l1.9 3.6h-3.8zM613.2 393.7l1.9 3.6h-3.8zM602.5 369.7l1.9 3.6h-3.8zM586.1 363.4l1.9 3.6h-3.8zM590.4 352.3l1.9 3.6h-3.8zM623.1 407.4l1.9 3.6h-3.8zM614.9 366.1l1.9 3.6h-3.8zM558.9 325.5l1.9 3.6h-3.8zM584.3 367.8l1.9 3.6h-3.8zM555.8 323.8l1.9 3.6h-3.8zM571.4 328.1l1.9 3.6h-3.8zM569.8 329.2l1.9 3.6h-3.8zM617.9 409.3l1.9 3.6h-3.8zM596.6 375.8l1.9 3.6h-3.8zM635.5 404.6l1.9 3.6h-3.8zM592.1 363.3l1.9 3.6h-3.8zM577.9 339.1l1.9 3.6h-3.8zM631.9 403.8l1.9 3.6h-3.8zM597.8 372.6l1.9 3.6h-3.8zM615.8 380.6l1.9 3.6h-3.8zM591.5 370.5l1.9 3.6h-3.8zM573.1 351.2l1.9 3.6h-3.8zM620.5 373.1l1.9 3.6h-3.8zM624.5 386.2l1.9 3.6h-3.8zM570.1 334.6l1.9 3.6h-3.8zM549.2 322.9l1.9 3.6h-3.8zM559.3 329.5l1.9 3.6h-3.8zM555.9 320.4l1.9 3.6h-3.8zM548.1 322l1.9 3.6h-3.8zM590.8 384.8l1.9 3.6h-3.8zM643.1 399.7l1.9 3.6h-3.8zM591.8 338.6l1.9 3.6h-3.8zM523.8 283.5l1.9 3.6h-3.8zM523.2 296.6l1.9 3.6h-3.8zM537.3 295.3l1.9 3.6h-3.8zM538.3 323.5l1.9 3.6h-3.8zM554.2 315.3l1.9 3.6h-3.8zM614.4 357.5l1.9 3.6h-3.8z" class="r"/>
<path d="M622.4 379.5l1.9 3.6h-3.8zM593.4 356.4l1.9 3.6h-3.8zM577.4 358.8l1.9 3.6h-3.8zM563.7 325.4l1.9 3.6h-3.8zM567.1 325.2l1.9 3.6h-3.8zM550.2 332l1.9 3.6h-3.8zM623.5 399.5l1.9 3.6h-3.8zM625.4 420.4l1.9 3.6h-3.8zM628.3 410.4l1.9 3.6h-3.8zM593.8 353.6l1.9 3.6h-3.8zM558.6 335.4l1.9 3.6h-3.8zM561 323.9l1.9 3.6h-3.8zM615.1 371.4l1.9 3.6h-3.8zM594.1 370.7l1.9 3.6h-3.8zM618.8 394.1l1.9 3.6h-3.8zM617.1 369l1.9 3.6h-3.8zM563.2 321.4l1.9 3.6h-3.8zM585.6 356.3l1.9 3.6h-3.8zM587.2 371.1l1.9 3.6h-3.8zM576.9 352.8l1.9 3.6h-3.8zM592.1 357.7l1.9 3.6h-3.8zM603.8 383.2l1.9 3.6h-3.8zM585.1 371.3l1.9 3.6h-3.8zM587.9 370.7l1.9 3.6h-3.8zM607.9 389.8l1.9 3.6h-3.8zM607.8 386.3l1.9 3.6h-3.8zM555.4 323.6l1.9 3.6h-3.8zM574.1 347.3l1.9 3.6h-3.8zM594.7 370.7l1.9 3.6h-3.8zM617.4 385.6l1.9 3.6h-3.8zM626.5 409l1.9 3.6h-3.8zM547.1 329.5l1.9 3.6h-3.8zM614.4 378.7l1.9 3.6h-3.8zM571.8 345l1.9 3.6h-3.8zM629.1 410l1.9 3.6h-3.8zM578.1 344l1.9 3.6h-3.8zM622.2 392.2l1.9 3.6h-3.8zM633.7 413.8l1.9 3.6h-3.8zM599 386l1.9 3.6h-3.8zM566.7 323.8l1.9 3.6h-3.8zM610.7 373.6l1.9 3.6h-3.8zM619.4 377.7l1.9 3.6h-3.8zM613 376.5l1.9 3.6h-3.8zM577.1 352l1.9 3.6h-3.8zM588.5 350.4l1.9 3.6h-3.8zM606.2 362.7l1.9 3.6h-3.8zM577.9 359.9l1.9 3.6h-3.8zM571.3 323.5l1.9 3.6h-3.8zM585.9 346.4l1.9 3.6h-3.8zM623.7 419l1.9 3.6h-3.8zM617.9 385.4l1.9 3.6h-3.8zM619 377.7l1.9 3.6h-3.8zM605.9 384.4l1.9 3.6h-3.8zM573.3 347.9l1.9 3.6h-3.8zM622.8 400.5l1.9 3.6h-3.8zM616.6 368.9l1.9 3.6h-3.8zM610.9 384.3l1.9 3.6h-3.8zM566.7 347.1l1.9 3.6h-3.8zM605.5 362.3l1.9 3.6h-3.8zM592.3 364l1.9 3.6h-3.8zM587.8 361.1l1.9 3.6h-3.8zM636.8 401.5l1.9 3.6h-3.8zM631.3 405.2l1.9 3.6h-3.8zM600.9 358.6l1.9 3.6h-3.8zM613.2 385.7l1.9 3.6h-3.8zM598.1 364.8l1.9 3.6h-3.8zM587.3 354.5l1.9 3.6h-3.8zM567.5 335.7l1.9 3.6h-3.8zM562.4 319.1l1.9 3.6h-3.8zM560.5 333.8l1.9 3.6h-3.8zM552.1 332.7l1.9 3.6h-3.8zM559.1 338.9l1.9 3.6h-3.8zM561.8 318.8l1.9 3.6h-3.8zM565.3 319.6l1.9 3.6h-3.8zM622 422.8l1.9 3.6h-3.8zM642 394.6l1.9 3.6h-3.8zM596.5 386.9l1.9 3.6h-3.8zM526.6 280.5l1.9 3.6h-3.8zM547.5 300.7l1.9 3.6h-3.8zM528.9 306.3l1.9 3.6h-3.8zM543.9 307.2l1.9 3.6h-3.8zM536.6 320.1l1.9 3.6h-3.8zM542.8 314.1l1.9 3.6h-3.8zM547.2 315.7l1.9 3.6h-3.8zM555.9 316.6l1.9 3.6h-3.8zM635.3 358.9l1.9 3.6h-3.8zM634.8 380.8l1.9 3.6h-3.8zM588 377.6l1.9 3.6h-3.8zM602.2 395.1l1.9 3.6h-3.8zM608 398.6l1.9 3.6h-3.8zM639.8 415.3l1.9 3.6h-3.8zM621.4 417.9l1.9 3.6h-3.8z" class="r"/>
</g>
<rect x="500.5" y="262.5" width="184.0" height="183.0" fill="none" stroke="#1a1a1a" stroke-width="1.1"/>
<line x1="494.5" y1="305.5" x2="500.5" y2="305.5" stroke="#1a1a1a" stroke-width="1.1"/>
<text x="490.6" y="308.8" text-anchor="end" font-size="12.2">1</text>
<line x1="494.5" y1="377.5" x2="500.5" y2="377.5" stroke="#1a1a1a" stroke-width="1.1"/>
<text x="490.6" y="380.70000000000005" text-anchor="end" font-size="12.2">0.1</text>
<line x1="523.5" y1="445.5" x2="523.5" y2="451.0" stroke="#1a1a1a" stroke-width="1.1"/>
<text x="523.2" y="463.8" text-anchor="middle" font-size="12.3">1e-05</text>
<line x1="558.5" y1="445.5" x2="558.5" y2="451.0" stroke="#1a1a1a" stroke-width="1.1"/>
<text x="558.6" y="463.8" text-anchor="middle" font-size="12.3">0.0001</text>
<line x1="593.5" y1="445.5" x2="593.5" y2="451.0" stroke="#1a1a1a" stroke-width="1.1"/>
<text x="593.9" y="463.8" text-anchor="middle" font-size="12.3">0.001</text>
<line x1="629.5" y1="445.5" x2="629.5" y2="451.0" stroke="#1a1a1a" stroke-width="1.1"/>
<text x="629.0" y="463.8" text-anchor="middle" font-size="12.3">0.01</text>
<line x1="664.5" y1="445.5" x2="664.5" y2="451.0" stroke="#1a1a1a" stroke-width="1.1"/>
<text x="664.3" y="463.8" text-anchor="middle" font-size="12.3">0.1</text>
<text x="498.3" y="254.07999999999998" font-size="16" font-weight="bold">F</text>
<text x="684.8" y="254.07999999999998" text-anchor="end" font-size="14.6">classes vs KEGG C</text>
<clipPath id="cG"><rect x="48.5" y="499.5" width="183.0" height="183.0"/></clipPath>
<g clip-path="url(#cG)">
<path d="M171.9 553.8h0M138.9 551.6h0M90 518.2h0M175.4 518.8h0M146 510.1h0M179 553.7h0M116.9 532.2h0M175.2 522.1h0M143.9 509.5h0M169.6 541.4h0M97.4 524h0M147.1 537h0M174.4 525.2h0M144.3 523.9h0M174.4 536.5h0M141 562.7h0M160.9 572.3h0M119 524.1h0M164.6 550.2h0M181.9 549.2h0M165.6 561.2h0M113.7 510.4h0M140.4 508.5h0M166.3 571.9h0M140.9 533.2h0M139.4 552.9h0M156.2 513.4h0M105.2 524.9h0M143.2 538.6h0M136.3 525.8h0M181.4 554.1h0M104.5 530.7h0M128.3 533.9h0M115.7 525.6h0M187 544.1h0M96.4 526.4h0M182.3 539.1h0M156.7 558.1h0M155.6 553.8h0M181.1 539.3h0M124.8 535.7h0M105.1 534h0M174.7 536.5h0M167 566.8h0M114.1 539.3h0M172.7 556.4h0M114.1 535.5h0M153.9 552.2h0M167.1 563.5h0M176.7 527.5h0M142.3 523.4h0M176.6 567.9h0M130.7 544.2h0M127.5 521.2h0M137.5 518.9h0M156 567.6h0M176.4 516h0M138.8 515.3h0M174.1 517.7h0M154.9 534h0M166.6 511.5h0M122.2 508.4h0M153.5 536.5h0M103.6 523.1h0M157.3 509.8h0M154.3 539.3h0M131.8 523.8h0M142.2 550.1h0M173.8 519.7h0M166.7 569.8h0M158.6 572.1h0M161.9 564.2h0M148.8 528.4h0M168.1 521.7h0M177.8 548.6h0M161.9 559.6h0M114.1 538.3h0M158.2 556.6h0M169.7 546h0M101 521.8h0M149.2 557.1h0M175.4 542.3h0M118.3 534.4h0M183.4 559.4h0M140.6 540.8h0M145.6 564.5h0M155.7 549.8h0M90.6 520.7h0M161.8 547.2h0M147.9 525.1h0M173.5 545.8h0M161.1 531h0M168.6 564.5h0M152.3 553.6h0M141.3 529.2h0M133.4 547.7h0M124.9 520.4h0M148.5 563.6h0M125.1 547.7h0M122.4 520.5h0M167.9 536.1h0M160.5 528.7h0M175.9 543.2h0M133.7 526.9h0M119.3 523.8h0M143.5 544.4h0M167.7 565.8h0M106.8 525.7h0M145.6 540.9h0M114.8 525.3h0M128 539.5h0M152.8 542.8h0M134.9 548.8h0M172.1 530.8h0M132.5 553.5h0M150.4 523h0M145.4 545.3h0M149.8 564.1h0M118.4 535h0M174.2 540.3h0M114.6 526.6h0M145.8 561.1h0M146.6 538.5h0M133.8 531.2h0M149.3 534.6h0M173.8 563.1h0M154 527.9h0M117.7 528.7h0M108.2 534.6h0M170.4 548h0M163.3 561.4h0M125.5 546.8h0M151.7 542.4h0M133.2 529.2h0M155.9 531.5h0M169.7 556.9h0M169.3 535.1h0M166.3 540.5h0M131.5 541.2h0M156.9 561.3h0M155.5 534h0M114 527.8h0M146.4 531.5h0M179.8 547.6h0M147.8 560.1h0M120.2 541.6h0M170.3 548.6h0M178.1 553.8h0M154.5 536.6h0M148 539.5h0M109.8 535.9h0M178 536.1h0M111.4 527.7h0M175 532.8h0M125.2 519.7h0M160.4 558h0M107.3 525.4h0M162.5 566.2h0M178.6 551h0M172.7 532.3h0M158.6 552.3h0M147.4 546.9h0M155.4 546.9h0M157.8 535.2h0M140.3 523h0M164.1 526.2h0M166.7 550.5h0M160.5 533.8h0M168.2 536.7h0M141.1 542.4h0M157.3 556.8h0M114.3 529.9h0M163.7 547.7h0M126.5 532.1h0M141.2 543.8h0M176.6 547.3h0M167.4 544.3h0M137.4 552.6h0M128 530.5h0M151.6 546.5h0M112 525.7h0M148 559.3h0M121 525.1h0M149.5 554.2h0M145.4 533.6h0M178.2 539.8h0M120.6 529.9h0M170.9 559.2h0M104.5 529.2h0M102 519.8h0M118.9 533.7h0M101.1 526.1h0M94.4 523h0M119.7 530.9h0M109.3 529.7h0M117.1 529.2h0M113.4 539h0M138.9 564.8h0M195.7 536.2h0M93.7 512.3h0M190.8 545h0M123.9 553.4h0M175.5 570.5h0M180.3 566.7h0M120.2 550.7h0M193.2 555.4h0M94.6 507h0M107.3 507h0M110 507h0M112.7 507h0M116.9 507h0M133.1 507h0M141.7 507h0M146.1 507h0M146.1 507h0M159 507h0M163.5 507h0M197.5 565.5h0M193.2 568.4h0M83.9 521.5h0M85.1 522.1h0" class="b"/>
<path d="M145.2 532.1h0M155.8 532.6h0M146.4 512.4h0M174.7 526.9h0M143.1 548.5h0M182.7 559.1h0M180.1 560.3h0M130.4 534.3h0M98.8 515h0M144.4 517.9h0M188.6 537.5h0M183.8 559.3h0M167.3 539.5h0M116.7 535.6h0M176.6 517.3h0M158 517.6h0M154.3 541.7h0M160.9 536h0M117.6 516.7h0M168.3 527.2h0M125.7 509.5h0M130.5 541.3h0M95.6 516.8h0M116.3 519h0M106.2 537.4h0M138.9 541.1h0M150.3 542.8h0M142 562.7h0M160.4 553.5h0M154.5 552.7h0M157.9 512.6h0M165.9 524.8h0M169.1 548.5h0M159.3 553.4h0M167.6 550.3h0M119.5 511.5h0M147.4 534h0M128.8 530.4h0M141.9 549.3h0M175.1 564h0M156.5 528.1h0M103.2 524.7h0M144 546.3h0M189 554.2h0M141.4 552.3h0M109.9 532h0M117.3 513.8h0M158.5 516.2h0M149.6 529.6h0M126.8 535.4h0M110.3 516.6h0M139.7 511.8h0M175.5 520.2h0M133.9 551.2h0M165.6 559h0M171.3 568.9h0M182.4 526.2h0M160.1 566.6h0M174.5 524.8h0M150.7 521.6h0M121.9 527.9h0M113.9 510.9h0M116.8 523.7h0M166.9 529.6h0M155 553.4h0M135.1 555.5h0M125.5 517.6h0M101 521.7h0M189.4 541.1h0M144.8 557.5h0M183.6 536.3h0M170.6 554.8h0M133.6 538h0M154.1 535h0M157.9 531.9h0M100.4 517.6h0M171.2 563h0M144.7 556.6h0M114.1 517.4h0M140.8 512.1h0M144.2 558.5h0M175.2 527.4h0M120.8 546.5h0M181.3 543.8h0M160.2 522.2h0M174.8 559.5h0M121.1 535.8h0M184.7 537.4h0M133.4 551.9h0M154.1 540.1h0M178.6 559.1h0M151.9 534.5h0M167.9 533.2h0M132.1 522.9h0M148.2 559.8h0M173.9 545.5h0M142.2 549h0M178.7 558.2h0M125.1 524.9h0M116 541.6h0M169.1 543.2h0M160.6 547.1h0M169.8 545.8h0M120.9 521.9h0M162.1 539.6h0M168.6 563.3h0M145 546h0M107.5 523.5h0M172.7 555.6h0M170.4 545.7h0M154.3 537.4h0M178 551.3h0M155 532.2h0M157.9 532.6h0M126 542.6h0M141 546.9h0M148.4 543.9h0M113.6 530.1h0M149.6 540.1h0M166.1 563.7h0M152.4 538.1h0M119.5 534.2h0M176.7 535.3h0M133 549.3h0M136.3 547.6h0M180.1 543.7h0M145 524.2h0M143.8 547.1h0M149.8 539.8h0M133 528.1h0M148.8 524.4h0M120 533.2h0M135.5 522.9h0M128.2 521.9h0M156.7 536.7h0M171 536.7h0M128.7 538.2h0M127.4 520.7h0M154 541.9h0M138.4 545h0M177.9 536.7h0M130.4 542.8h0M124.3 525.7h0M143.6 544.4h0M170.5 562.8h0M145.2 540.3h0M120.3 522.9h0M179.2 543.4h0M137.5 545.9h0M124.9 523.4h0M172.9 547.6h0M152.1 523.6h0M134.8 525.9h0M173.2 546.4h0M158 538.8h0M108.7 526h0M133.4 533.1h0M124.1 530.6h0M140.4 541.6h0M128.6 534.5h0M159.9 529.8h0M155.5 528.7h0M162.2 568.4h0M155.6 539.5h0M157.9 536h0M131.2 544.1h0M165.5 534.5h0M140.4 532.9h0M116.8 527.7h0M117.7 520h0M123.1 529h0M163.6 561.1h0M173.1 555.7h0M120.6 524.5h0M162.9 538.1h0M160.5 538.9h0M146.1 550.2h0M141.9 555.9h0M168.4 530.8h0M169.5 564.8h0M139.5 537.5h0M146 544.2h0M113.1 523h0M171.9 547.3h0M144.9 540.2h0M172.5 560h0M167.4 528.8h0M146.6 539.7h0M113 523.4h0M148.7 526.4h0M173 543.4h0M120.5 539.4h0M168.2 542.4h0M132.3 526.9h0M175.5 557.1h0M169.3 559.1h0M179.8 546h0M123.2 528.7h0M111.9 528.1h0M112.8 526h0M122 535.1h0M115.6 534.1h0M94.5 524.2h0M112.9 534.1h0M116.7 537.5h0M100.2 521.7h0M95.5 523.3h0M188 562.7h0M165.3 573.9h0M93.3 527.8h0M180.8 511.3h0M101.4 511h0M191.4 534.1h0M191.4 546.6h0M181 568.7h0M71.9 507h0M80.1 507h0M94.6 507h0M97.7 507h0M107.3 507h0M112.7 507h0M116.9 507h0M149.9 507h0M165.8 507h0M165.8 507h0M201.7 545.7h0M198.7 560.5h0M222.5 559.5h0M224.3 568h0M203.5 575h0M209.1 579.8h0M193.2 581.8h0M92.4 531.4h0" class="b"/>
<path d="M102.7 522.9h0M168.8 545.6h0M174.4 564.6h0M114 539.9h0M150.7 525.4h0M128 545.2h0M159.7 511.8h0M116 531h0M125.3 525.6h0M124 522.9h0M113.3 542h0M112.7 523.1h0M110.3 521.6h0M183.3 560.8h0M141.7 543h0M115.6 526.4h0M110.2 529.1h0M117.9 516.8h0M148.8 553.9h0M122.1 528.2h0M115.8 509.3h0M109.5 539.2h0M130.1 529.6h0M150.2 566.5h0M97.6 525.6h0M159.6 527.3h0M174.5 541.5h0M127.2 536.2h0M142.7 520.7h0M165.5 537.7h0M138.7 530.7h0M157.6 527.9h0M136.4 517.4h0M109.8 514.2h0M125.2 514.3h0M101.2 518.4h0M151.9 509h0M133.3 525.1h0M174.5 523.4h0M158.6 570.1h0M158.5 533h0M118.8 531.2h0M174.8 558.7h0M122.9 531.9h0M115.5 524.3h0M102.3 520.7h0M122.2 521.6h0M122.2 545.2h0M128.2 541.2h0M185.5 533.6h0M175 518.8h0M171 522.8h0M112.5 534.4h0M164.7 566.8h0M136 536.9h0M142.6 511h0M141.9 532.9h0M111.4 525.4h0M100.9 531.6h0M115.1 518.1h0M179.8 559.3h0M113.3 515.2h0M147.1 536.7h0M180.7 529.7h0M161.4 549.6h0M177.4 561.2h0M155.1 527h0M122.9 535.9h0M127.9 529.2h0M154.7 531.5h0M111.2 525.5h0M107.5 536.9h0M109.7 528h0M162.5 563.3h0M115.5 529.6h0M143.8 518.8h0M161.5 540.9h0M131.7 556.6h0M133.4 523.2h0M177.9 552.6h0M154.9 524.6h0M126.6 512h0M173.4 549.6h0M126.4 549.9h0M138.2 527.5h0M121.1 539.6h0M142.6 539.9h0M157.5 559.9h0M124.1 529h0M155.4 559.4h0M157.8 559.7h0M183.8 548.2h0M158.7 538.1h0M168.6 514.9h0M169.8 567.9h0M156.1 569.1h0M94 516.1h0M131 549.9h0M134.4 554h0M151.9 564.9h0M168.2 563.4h0M158.4 565.8h0M166.7 542.3h0M165.2 530.5h0M150.2 565h0M116.7 520.8h0M151.6 536.3h0M165.7 540.5h0M120.8 527.8h0M157.2 538.8h0M140 526.7h0M109.5 526h0M157.8 534h0M117.3 532.5h0M125.2 528.9h0M149.6 525.6h0M152.5 544.1h0M168.2 548.7h0M170.6 563.3h0M172.9 532.3h0M139.8 545.2h0M179.3 544.1h0M108.7 524.8h0M136.7 525.6h0M123.8 535.8h0M168.5 562.4h0M168.1 564.3h0M149.5 552.2h0M172.9 541.3h0M139.3 556.6h0M117.2 535.9h0M153.1 562.5h0M164.7 548.8h0M112.8 537.9h0M174.7 554.2h0M154.1 549.7h0M152.8 560.3h0M118.3 532.3h0M142.8 559.6h0M124.1 527.5h0M144.4 530.2h0M152.4 529.5h0M135.1 552.5h0M133.2 544.4h0M127.1 539.4h0M175.8 558.6h0M154.8 527.8h0M160.9 531.7h0M127 523.1h0M178.7 540.4h0M160.1 553.2h0M109.8 533h0M140 524.3h0M181.3 547.7h0M176.6 551.9h0M130.5 528h0M117.4 534h0M158.6 526.9h0M128.1 541.4h0M148.9 536.5h0M130.3 542.3h0M107.3 528.3h0M136.9 522.3h0M158.7 560.4h0M131.8 526.3h0M142.1 526.7h0M111 535.5h0M141.5 548.4h0M126.4 544.4h0M132.3 525.5h0M161.6 547h0M117.9 532.4h0M152 563.3h0M173.2 551.6h0M152.9 556h0M130.7 523.3h0M147 549h0M165.2 569.1h0M142.1 552.4h0M165.3 537.3h0M164.2 551.8h0M127.1 535.7h0M150.2 564.2h0M128.3 519.7h0M160.8 564.2h0M115.7 540.7h0M136.9 547.3h0M135.2 538.4h0M170.7 559.1h0M154 546.6h0M122.3 525.8h0M177.2 545.9h0M145.9 545.8h0M134 536.1h0M180.7 555.4h0M136.4 520.6h0M151.5 527.8h0M157.5 553.4h0M128.1 529.4h0M158.5 526.5h0M161.8 540.7h0M157.9 524.4h0M178.2 545.7h0M127.7 536.5h0M132.6 537.9h0M153.2 554.3h0M168.5 536.2h0M163.6 551.5h0M172.8 534h0M166.8 553.9h0M102.4 521.8h0M99.4 525.3h0M117.2 528.4h0M110.3 533.6h0M123.7 535.5h0M95.3 525h0M114.1 531.2h0M122.2 539.5h0M110.1 537.1h0M195.2 544.3h0M120.6 550.3h0M163 575.5h0M105.3 511.2h0M95.8 512.6h0M151 573.5h0M165.9 574.9h0M191.6 536.6h0M65.6 507h0M82.8 507h0M88.1 507h0M127.5 507h0M135.5 507h0M137.6 507h0M139.6 507h0M143.7 507h0M152.6 507h0M156.4 507h0M159 507h0M193.2 550.4h0M215.3 559.5h0M206.4 563h0M190.2 563.9h0M186 566.7h0M187.3 594.4h0M189.9 511h0" class="b"/>
<path d="M123.4 518.2h0M157.1 513h0M154.7 570h0M96.1 521.7h0M160.1 536.2h0M180.2 528.8h0M161.7 547h0M149.8 538h0M103.3 524.5h0M146.6 565.9h0M118.7 535.4h0M125 511.8h0M144.9 559.1h0M154.3 567h0M176.6 539.6h0M126.4 538.2h0M123.6 542.1h0M147.2 559.4h0M147.9 557.8h0M153.1 541.3h0M170.8 566.7h0M131 540.1h0M143.1 530.4h0M136.8 530.4h0M165.6 544.2h0M131.7 531h0M121.3 523.5h0M167.4 551.1h0M172.2 557.1h0M165.2 521.7h0M166.6 528.2h0M138.1 516h0M182.1 521.3h0M136.4 528h0M141.2 522.7h0M148.7 566.1h0M178.9 522.4h0M158.8 568.6h0M160.3 521.2h0M172.2 556.5h0M142 521.7h0M166.9 510.4h0M169 511h0M152.6 529.7h0M170.6 513.5h0M173.3 550.9h0M151.4 548.7h0M104.5 521.6h0M157.2 521.6h0M155.9 514.3h0M105 526.8h0M102.7 524.4h0M154.6 528.3h0M155.6 513.7h0M165.5 561.4h0M167.9 518.7h0M93.8 520.2h0M172.2 525.6h0M150.4 551.5h0M93.5 518.1h0M131.4 525.5h0M148 531.1h0M156.5 537.2h0M170.7 554.9h0M163.4 525.7h0M174.5 566.4h0M135 558.7h0M145.4 522.4h0M90.1 521.5h0M119.2 522.3h0M131.3 534h0M167.6 550.4h0M181.2 523.8h0M165.6 536.7h0M130 510.5h0M170.2 533.6h0M130.4 522.1h0M138.3 544.9h0M146.5 516.5h0M175.9 531.4h0M133.9 520.4h0M119 524.3h0M134.2 549.8h0M157.6 524.6h0M183.2 559.9h0M138.1 517.7h0M138.2 545h0M158.6 563.1h0M111.7 536.7h0M141.9 526h0M157.6 532.3h0M122.8 536.4h0M137.2 523.8h0M155.2 529.5h0M160.6 562.8h0M154 555.2h0M143 521.6h0M172.5 543.7h0M149.2 532h0M125 536.7h0M166.3 555.2h0M160.9 528.6h0M140.3 536.1h0M142.3 533.3h0M112.7 533.5h0M111.3 523h0M134 549.3h0M150 545.6h0M126.9 524.8h0M151.2 563.1h0M169.4 567.1h0M179.5 545.1h0M122.4 545h0M179.7 556.7h0M140.3 542.2h0M135.5 547.3h0M135 535.2h0M144 541.5h0M176.7 558.6h0M158.4 538.7h0M157.7 545.7h0M146.4 560.8h0M160.8 536.8h0M150.4 536.6h0M124.5 520.7h0M124 538.7h0M161 529.9h0M136.5 521.9h0M156.8 536.2h0M112.3 532.4h0M160.1 532h0M129.3 530.2h0M162.2 555.4h0M159.8 560.2h0M180.5 551.5h0M147.8 557.9h0M114 533.5h0M133.8 547h0M123.8 520.6h0M150.3 522.6h0M179.9 550.6h0M128.2 548.1h0M157.9 541.7h0M174.3 546.9h0M150.9 522.6h0M147.9 555.5h0M114.7 537.8h0M162.5 567.6h0M131.1 519.5h0M162.6 544.8h0M176.8 548.7h0M165.6 531h0M154.6 536.3h0M167.4 542.3h0M125.5 541h0M151.6 541.9h0M126.4 527.7h0M171.5 544.9h0M120.8 540.4h0M134 520.7h0M175.2 557.7h0M170.4 540h0M160.4 543.5h0M129.5 531.7h0M109.1 534.2h0M171.7 531.8h0M146.9 537.8h0M150.5 537.4h0M109.1 534.8h0M167.5 549.2h0M176.8 547.5h0M166.1 567.7h0M176 535.3h0M135.6 520.2h0M122.5 546.8h0M170.9 530.2h0M131 541.8h0M148.6 523.4h0M156.7 527h0M116.7 523.3h0M143.7 546.2h0M144.5 537.5h0M143.1 559.5h0M117.1 532.2h0M150.1 530.6h0M157.9 526.3h0M142.4 544.2h0M165.7 565.5h0M180.2 553.3h0M151 541h0M158.4 555.3h0M93.7 523.2h0M115.3 527.7h0M114.7 530.7h0M124.1 539.3h0M109.7 527.1h0M110.8 537.6h0M99.9 522.5h0M115.4 532.1h0M126.2 557.4h0M181.9 512h0M182.7 519.6h0M186.6 521.1h0M125.3 556h0M164.7 575.5h0M105.9 539.4h0M164.3 575.5h0M88.1 507h0M100.4 507h0M125.2 507h0M127.5 507h0M130 507h0M135.5 507h0M137.6 507h0M139.6 507h0M143.7 507h0M148.2 507h0M148.2 507h0M154.8 507h0M163.5 507h0M168.5 507h0M170.6 507h0M198.7 560.5h0M185.4 578.4h0M174.3 578.4h0" class="b"/>
<path d="M178.5 527.2h0M136.7 527.8h0M165.2 527.1h0M129.7 551.9h0M107.3 516h0M108.1 523.4h0M188.2 553.3h0M127.5 516.3h0M138 539.8h0M177.9 560.8h0M126.6 510.2h0M190.2 534.1h0M103.1 518.2h0M150.1 567.2h0M184.1 537.2h0M142.8 553.4h0M162.1 565.4h0M106.6 536.4h0M100.8 525.6h0M101.3 518.8h0M95.2 521.5h0M141.5 519.9h0M179.7 552h0M120.2 538.2h0M190.3 544h0M163.8 565.6h0M103.7 531.8h0M147.6 549.2h0M141.8 543.2h0M148.5 509.1h0M140.1 509.9h0M176.5 516.1h0M185.5 554.8h0M182.9 527.2h0M114.6 525.2h0M167.3 535.2h0M114.2 524.4h0M122.6 526.3h0M184.5 549.6h0M148.4 532.6h0M138.9 561.7h0M185.9 532.6h0M112.4 532.3h0M159.9 520.4h0M172 544h0M132.2 526.8h0M165 521.6h0M183.2 548.7h0M143.4 533.3h0M151.8 544.1h0M168.7 559.1h0M137.2 520h0M142.1 529.1h0M186.6 556.1h0M171.3 542.4h0M161.8 556.3h0M155.4 562.1h0M100.3 514.7h0M162.1 540.8h0M182.9 541h0M105.9 518.5h0M123.8 520.7h0M164.4 565.6h0M169.8 553.9h0M122.2 549.2h0M187 542.1h0M145.8 555h0M142.8 550h0M177.7 525.7h0M128.8 524.8h0M125.7 518.3h0M158.9 566.5h0M147.2 525.6h0M128.6 535.6h0M160.4 569h0M127.7 539.2h0M185 548h0M151 569.4h0M139.3 553.5h0M149.2 533.6h0M159.8 561.4h0M149.6 532.7h0M119.9 528.4h0M151.6 539.1h0M151.1 557.7h0M113.3 535.3h0M170.6 551h0M154 525.9h0M125.9 539.8h0M118.2 543.9h0M157.1 529.4h0M119.6 541h0M126.4 529.1h0M152.8 555.1h0M168.2 535.8h0M159.5 528.6h0M165.5 536h0M124.5 540.3h0M146.4 522.1h0M138.8 544.6h0M153.4 531.5h0M146.6 526.2h0M127.6 531.1h0M170.4 550.1h0M117.5 521.9h0M164.2 543.1h0M161.4 533.6h0M139.4 550.8h0M144.9 544.6h0M165 535.2h0M140.1 538.5h0M168.6 534.2h0M132.5 531.2h0M115.4 532.8h0M139 553.9h0M171.5 549.9h0M159.1 538.9h0M177.5 554.3h0M109.8 537h0M137.1 528.9h0M164.7 561.5h0M138.9 528.3h0M170.4 533.8h0M139.3 528.4h0M143.2 547.2h0M135.6 527.3h0M123.6 537.8h0M160.1 540.5h0M173 550.1h0M118.3 537.2h0M135.3 536.8h0M157.3 532.6h0M149.4 534.1h0M118.3 521.9h0M168.1 563.8h0M177.1 547.7h0M168.4 540.4h0M122.6 531.5h0M112.7 527.2h0M144.4 530.5h0M138.6 523.9h0M144.1 524.3h0M176.6 536.6h0M173.8 556.4h0M136.2 535h0M159.1 535.3h0M140.9 551.7h0M117.1 531.5h0M159.2 541.8h0M158 537.5h0M145.6 530.8h0M109.6 527.7h0M154.6 563h0M136.9 552.1h0M135.1 548.5h0M163.9 538.1h0M158 547.2h0M164.9 558.4h0M131.1 545.3h0M151.4 542.4h0M136.8 523h0M131.9 525.7h0M169.9 560h0M136.7 523h0M155.9 561.8h0M131.5 549.3h0M91.2 519.1h0M122.1 533.5h0M100.3 520.4h0M101.9 527.6h0M104.5 526.2h0M113 536.4h0M101.7 520.2h0M102.6 526.4h0M104.8 531.1h0M96.8 511.7h0M190.1 551.2h0M190.3 560.3h0M194.5 554.8h0M190.3 529.2h0M196.1 539.5h0M191.8 558.7h0M103.6 510.6h0M179.8 513.7h0M184.3 514.1h0M144.2 564.6h0M165.2 572.8h0M101.3 537.9h0M65.6 507h0M82.8 507h0M85.5 507h0M110 507h0M119.6 507h0M141.7 507h0M149.9 507h0M152.6 507h0M154.8 507h0M161.5 507h0M168.5 507h0M170.6 507h0M207.7 564.7h0M194.2 572.5h0M187.7 574.2h0M187.7 574.2h0M180.9 509.7h0M182.4 516.3h0" class="b"/>
<path d="M149.5 534.2h0M104.8 516h0M122.4 546.5h0M133.1 557.6h0M111.5 518.9h0M153.3 518h0M174.3 556.5h0M157.3 560.4h0M164.7 519.4h0M126.1 544.1h0M115.9 527.4h0M135.4 520.3h0M164.7 544.6h0M136.6 543.1h0M164.4 509.6h0M155.4 560.5h0M162.8 549.7h0M121.9 531.5h0M172.9 562.1h0M96.2 525.8h0M118.3 511.5h0M181.1 561.2h0M155 567.8h0M164.2 511.6h0M107.2 518.9h0M132.6 542.5h0M117.9 524.5h0M131.2 537.4h0M150.5 508.3h0M143.8 552.7h0M187 555.3h0M137.1 544.2h0M130 522.9h0M121.1 538.3h0M188.8 550.3h0M121.7 509.7h0M113.4 510.5h0M141.1 520.5h0M113 535.5h0M128.5 529.9h0M124.9 526.1h0M129.8 524.7h0M134.3 540.5h0M115.5 512.5h0M163.2 537.4h0M166.1 521.3h0M179.3 537.6h0M168.1 510.8h0M133.3 546.3h0M140.4 523.6h0M142.7 511.9h0M155.6 531.8h0M180 544.5h0M149.8 565.8h0M135.6 519.8h0M166.8 538.6h0M166.5 537.8h0M161.6 563.4h0M174.5 519.4h0M140.6 560.2h0M125.9 529.6h0M155.2 538.5h0M156.1 537.9h0M159.6 568.9h0M133.3 553.8h0M126.3 525.6h0M186.9 542.7h0M174.4 561.5h0M155.3 509.3h0M152.7 559.2h0M164 549h0M133.5 544.4h0M175.3 534.6h0M153.6 549.1h0M181.4 543.1h0M162.2 528.2h0M133.7 548.3h0M138 548.9h0M171.3 560.3h0M136.4 545.3h0M163.8 567.2h0M142.6 527.2h0M123.7 525.9h0M172.5 564.5h0M122.4 521.4h0M170.4 535.8h0M161.6 533.7h0M163.2 527h0M135.4 540.3h0M129.3 531h0M169 545.3h0M162.6 557h0M166.2 555.2h0M166.3 562.5h0M170.7 561.9h0M149.1 544.2h0M117.3 533.5h0M119.8 527.9h0M170.6 548.8h0M157.1 528.7h0M112.9 527.3h0M139.3 550.6h0M123.6 520.3h0M140.3 525.3h0M175.1 548.9h0M145 546.6h0M137.2 552.6h0M159.5 531.3h0M170 558.7h0M108.8 531.1h0M162.6 561.5h0M147.4 531.4h0M129.3 525.5h0M123.6 531h0M145.2 541.5h0M133.4 527.2h0M170.9 566.5h0M149.2 551h0M168.9 555h0M157.7 550h0M134.1 548.6h0M149.1 539h0M121.7 534h0M174.2 550.7h0M158 561.3h0M157.6 531.7h0M170.8 538.9h0M125.5 548h0M148.7 558.4h0M173 558.6h0M154.4 551.4h0M167 563.7h0M142.6 537.5h0M136.2 528.9h0M131.7 525.6h0M151.6 531.8h0M117.3 525.9h0M148.3 552.5h0M151.9 535.6h0M162.8 531.8h0M148.3 527.9h0M178.2 537.4h0M181.5 544.3h0M132.6 544.2h0M125.7 522h0M137 525.9h0M134.5 530.9h0M145.7 543.2h0M113.1 537h0M167.6 545.5h0M142.3 559.8h0M161 532.7h0M130.3 531h0M134.1 553h0M130.8 522.1h0M139.3 543.9h0M144.9 561.2h0M137.6 548.7h0M120.9 521.2h0M149.1 535.2h0M150.4 535h0M134.7 551.7h0M163.5 544.2h0M128.3 522.1h0M151.4 559.1h0M169.5 567h0M140.7 530.7h0M120 536.8h0M112.4 523.8h0M113.9 537.1h0M97.1 523.3h0M109 533.7h0M97.2 524.2h0M109.2 523.7h0M117.1 533.8h0M118.3 537.9h0M111.8 537.6h0M98.5 518.6h0M99.7 511.9h0M188.1 565.9h0M193.9 551.5h0M190.9 559h0M71.9 507h0M80.1 507h0M85.5 507h0M97.7 507h0M100.4 507h0M119.6 507h0M122.2 507h0M122.2 507h0M125.2 507h0M130 507h0M133.1 507h0M156.4 507h0M161.5 507h0M195 561.6h0M192.4 576.3h0M203.5 579.6h0" class="b"/>
<path d="M162.1 579.6l1.9 3.6h-3.8zM177.8 592.9l1.9 3.6h-3.8zM156.8 585.8l1.9 3.6h-3.8zM178.2 602.5l1.9 3.6h-3.8zM145.7 572.1l1.9 3.6h-3.8zM160.9 614.6l1.9 3.6h-3.8zM173 599.8l1.9 3.6h-3.8zM162.9 606l1.9 3.6h-3.8zM136.5 600.8l1.9 3.6h-3.8zM152.2 574.6l1.9 3.6h-3.8zM93.6 543.8l1.9 3.6h-3.8zM111.8 551l1.9 3.6h-3.8zM124.8 564.7l1.9 3.6h-3.8zM167 591.2l1.9 3.6h-3.8zM172.2 600.5l1.9 3.6h-3.8zM139.8 582.1l1.9 3.6h-3.8zM170.7 594.6l1.9 3.6h-3.8zM95.7 538.5l1.9 3.6h-3.8zM122.5 547l1.9 3.6h-3.8zM149.7 578.1l1.9 3.6h-3.8zM121.5 568.5l1.9 3.6h-3.8zM125.1 564.1l1.9 3.6h-3.8zM112.1 557.6l1.9 3.6h-3.8zM146.6 599.8l1.9 3.6h-3.8zM124.8 576.5l1.9 3.6h-3.8zM105.3 549.8l1.9 3.6h-3.8zM128.6 573l1.9 3.6h-3.8zM157.8 593.9l1.9 3.6h-3.8zM160.4 598l1.9 3.6h-3.8zM134.7 561l1.9 3.6h-3.8zM184.3 617.8l1.9 3.6h-3.8zM109.5 562.5l1.9 3.6h-3.8zM107.6 552.5l1.9 3.6h-3.8zM157 600.4l1.9 3.6h-3.8zM121.4 577.2l1.9 3.6h-3.8zM171.5 606.5l1.9 3.6h-3.8zM115 545.9l1.9 3.6h-3.8zM158.8 579.2l1.9 3.6h-3.8zM176.8 618.4l1.9 3.6h-3.8zM140.2 601.8l1.9 3.6h-3.8zM111.8 551.5l1.9 3.6h-3.8zM127.6 565.7l1.9 3.6h-3.8zM158.5 601.6l1.9 3.6h-3.8zM112.2 561.8l1.9 3.6h-3.8zM168.8 620.3l1.9 3.6h-3.8zM136.2 598.9l1.9 3.6h-3.8zM129.3 575.1l1.9 3.6h-3.8zM123.1 562.7l1.9 3.6h-3.8zM154 602.8l1.9 3.6h-3.8zM140 591.2l1.9 3.6h-3.8zM145.2 583.9l1.9 3.6h-3.8zM95.9 541.9l1.9 3.6h-3.8zM152.1 571.8l1.9 3.6h-3.8zM154.9 605.3l1.9 3.6h-3.8zM173.3 599.9l1.9 3.6h-3.8zM160.6 580l1.9 3.6h-3.8zM111.9 564.7l1.9 3.6h-3.8zM154.9 595.9l1.9 3.6h-3.8zM154 602.4l1.9 3.6h-3.8zM146.2 576.2l1.9 3.6h-3.8zM100.1 545.8l1.9 3.6h-3.8zM157.4 611.7l1.9 3.6h-3.8zM106.9 535.1l1.9 3.6h-3.8zM110 564.3l1.9 3.6h-3.8zM125 565.2l1.9 3.6h-3.8zM169.2 615l1.9 3.6h-3.8zM129.4 592.9l1.9 3.6h-3.8zM175.7 617.1l1.9 3.6h-3.8zM87.9 541.8l1.9 3.6h-3.8zM152.8 610l1.9 3.6h-3.8zM104.9 565.2l1.9 3.6h-3.8zM187.8 609.7l1.9 3.6h-3.8zM150.7 577.5l1.9 3.6h-3.8zM96.3 541.8l1.9 3.6h-3.8zM132.3 582l1.9 3.6h-3.8zM141.8 597.6l1.9 3.6h-3.8zM152.2 576.2l1.9 3.6h-3.8zM130.6 593.2l1.9 3.6h-3.8zM120.8 543.9l1.9 3.6h-3.8zM91.1 535.9l1.9 3.6h-3.8zM135.6 572.8l1.9 3.6h-3.8zM88.3 530.7l1.9 3.6h-3.8zM124.8 562l1.9 3.6h-3.8zM123.3 552.4l1.9 3.6h-3.8zM173.5 622.7l1.9 3.6h-3.8zM181.8 602.7l1.9 3.6h-3.8zM166.4 608l1.9 3.6h-3.8zM106.3 543.4l1.9 3.6h-3.8zM165.1 587.5l1.9 3.6h-3.8zM174.2 609.4l1.9 3.6h-3.8zM121.2 563.7l1.9 3.6h-3.8zM172.2 599.9l1.9 3.6h-3.8zM137.5 562l1.9 3.6h-3.8zM113.3 566.7l1.9 3.6h-3.8zM107.4 545.5l1.9 3.6h-3.8zM134.6 595.3l1.9 3.6h-3.8zM109 541.6l1.9 3.6h-3.8zM99.8 536.1l1.9 3.6h-3.8zM115.2 553.7l1.9 3.6h-3.8zM140.1 571.9l1.9 3.6h-3.8zM181 616.3l1.9 3.6h-3.8zM126.3 563.2l1.9 3.6h-3.8zM169.9 600.9l1.9 3.6h-3.8zM148.1 573.4l1.9 3.6h-3.8zM132.6 587.1l1.9 3.6h-3.8zM102.3 560.6l1.9 3.6h-3.8zM164.3 598.2l1.9 3.6h-3.8zM178.8 607.8l1.9 3.6h-3.8zM146 573.1l1.9 3.6h-3.8zM96.3 549.1l1.9 3.6h-3.8zM101.1 558.5l1.9 3.6h-3.8zM157.4 606.7l1.9 3.6h-3.8zM156 594.2l1.9 3.6h-3.8zM165.7 588.7l1.9 3.6h-3.8zM170.5 618.7l1.9 3.6h-3.8zM139.3 560.5l1.9 3.6h-3.8zM145.7 579.5l1.9 3.6h-3.8zM165.8 600.8l1.9 3.6h-3.8zM146.9 598.9l1.9 3.6h-3.8zM120 574.1l1.9 3.6h-3.8zM184.5 613l1.9 3.6h-3.8zM126.5 578.9l1.9 3.6h-3.8zM94.8 541l1.9 3.6h-3.8zM168.5 600.2l1.9 3.6h-3.8zM133.4 571.6l1.9 3.6h-3.8zM103.6 553.1l1.9 3.6h-3.8zM138.8 585.1l1.9 3.6h-3.8zM131 569.1l1.9 3.6h-3.8zM178.7 602.4l1.9 3.6h-3.8zM84.5 535l1.9 3.6h-3.8zM123.3 549.7l1.9 3.6h-3.8zM114.1 569.5l1.9 3.6h-3.8zM158.2 589l1.9 3.6h-3.8zM118.1 556.2l1.9 3.6h-3.8zM118 548.2l1.9 3.6h-3.8zM115.8 558.8l1.9 3.6h-3.8zM149.3 580.5l1.9 3.6h-3.8zM118 549.1l1.9 3.6h-3.8zM135.5 571.4l1.9 3.6h-3.8zM98.6 553.3l1.9 3.6h-3.8zM165 617l1.9 3.6h-3.8zM156.9 579.9l1.9 3.6h-3.8zM161.5 604.9l1.9 3.6h-3.8zM101.8 543.6l1.9 3.6h-3.8zM134.8 584.7l1.9 3.6h-3.8zM180.1 601.9l1.9 3.6h-3.8zM164.6 580.9l1.9 3.6h-3.8zM113.9 564.7l1.9 3.6h-3.8zM160.8 594.5l1.9 3.6h-3.8zM176.3 616.7l1.9 3.6h-3.8zM169.5 605.5l1.9 3.6h-3.8zM115.1 568.1l1.9 3.6h-3.8zM189.7 614.8l1.9 3.6h-3.8zM117.7 567.5l1.9 3.6h-3.8zM169.4 585.3l1.9 3.6h-3.8zM99.5 540.6l1.9 3.6h-3.8zM95.3 537.8l1.9 3.6h-3.8zM150.1 588.3l1.9 3.6h-3.8zM161 598.1l1.9 3.6h-3.8zM120 549.2l1.9 3.6h-3.8zM120.3 575.4l1.9 3.6h-3.8zM123.6 549.8l1.9 3.6h-3.8zM180.8 618.6l1.9 3.6h-3.8zM134.3 593.2l1.9 3.6h-3.8zM144.1 592.7l1.9 3.6h-3.8zM111.9 566l1.9 3.6h-3.8zM139 593.5l1.9 3.6h-3.8zM172.2 601.3l1.9 3.6h-3.8zM131.6 563.1l1.9 3.6h-3.8zM140 575.6l1.9 3.6h-3.8zM170.7 625.1l1.9 3.6h-3.8zM159.6 576.7l1.9 3.6h-3.8zM125.7 587.7l1.9 3.6h-3.8zM140.3 601.8l1.9 3.6h-3.8zM148.6 576.9l1.9 3.6h-3.8zM174.7 617.1l1.9 3.6h-3.8zM164.8 617l1.9 3.6h-3.8zM145.4 605.1l1.9 3.6h-3.8zM158 597.4l1.9 3.6h-3.8zM156.6 602.8l1.9 3.6h-3.8zM124 547.5l1.9 3.6h-3.8zM179.2 615l1.9 3.6h-3.8zM118.8 580.6l1.9 3.6h-3.8zM162.2 586.6l1.9 3.6h-3.8zM133.9 590.3l1.9 3.6h-3.8zM113.3 546.3l1.9 3.6h-3.8zM174.4 598.2l1.9 3.6h-3.8zM143.7 573l1.9 3.6h-3.8zM165.3 603l1.9 3.6h-3.8zM138.4 567.4l1.9 3.6h-3.8zM168.4 594.3l1.9 3.6h-3.8zM175.4 596.4l1.9 3.6h-3.8zM130.8 561.6l1.9 3.6h-3.8zM143.9 571.8l1.9 3.6h-3.8zM95.7 538.4l1.9 3.6h-3.8zM171 589.2l1.9 3.6h-3.8zM129.4 553.6l1.9 3.6h-3.8zM154.2 604l1.9 3.6h-3.8zM118 573.4l1.9 3.6h-3.8zM137.9 567.6l1.9 3.6h-3.8zM187 610.3l1.9 3.6h-3.8zM155.4 597l1.9 3.6h-3.8zM179 610.8l1.9 3.6h-3.8zM142.8 578.8l1.9 3.6h-3.8zM128.2 559.5l1.9 3.6h-3.8zM128.1 589.2l1.9 3.6h-3.8zM91.6 533.6l1.9 3.6h-3.8zM113.5 570.4l1.9 3.6h-3.8zM114.4 553.4l1.9 3.6h-3.8zM99.3 543l1.9 3.6h-3.8zM103.4 552.6l1.9 3.6h-3.8zM171.1 600.7l1.9 3.6h-3.8zM169.1 598.1l1.9 3.6h-3.8zM130.6 553.6l1.9 3.6h-3.8zM152.1 589.8l1.9 3.6h-3.8zM176.7 623.4l1.9 3.6h-3.8zM154.7 602.2l1.9 3.6h-3.8zM171.2 593.3l1.9 3.6h-3.8zM89.4 534.1l1.9 3.6h-3.8zM147.4 587.3l1.9 3.6h-3.8zM159 617.5l1.9 3.6h-3.8zM143.4 588.2l1.9 3.6h-3.8zM165.1 601.9l1.9 3.6h-3.8zM166.7 596.8l1.9 3.6h-3.8zM132.9 578.9l1.9 3.6h-3.8zM134.8 563.2l1.9 3.6h-3.8zM144.6 583.9l1.9 3.6h-3.8zM96.8 537.7l1.9 3.6h-3.8zM170.8 602.1l1.9 3.6h-3.8zM162.5 611.2l1.9 3.6h-3.8zM122.7 564.3l1.9 3.6h-3.8zM140.7 590.6l1.9 3.6h-3.8zM103 555l1.9 3.6h-3.8zM162 603l1.9 3.6h-3.8zM130.2 596.5l1.9 3.6h-3.8zM105.7 563.4l1.9 3.6h-3.8zM179.1 604.1l1.9 3.6h-3.8zM139.8 583.7l1.9 3.6h-3.8zM129 556.7l1.9 3.6h-3.8zM154.9 583.4l1.9 3.6h-3.8zM146.3 595.5l1.9 3.6h-3.8zM148.9 581.2l1.9 3.6h-3.8zM158 585.7l1.9 3.6h-3.8zM127.5 554.2l1.9 3.6h-3.8zM139.7 590.1l1.9 3.6h-3.8zM132.4 583.1l1.9 3.6h-3.8zM133.1 577.3l1.9 3.6h-3.8zM186.1 617.4l1.9 3.6h-3.8zM117.8 582.5l1.9 3.6h-3.8zM178.5 597.1l1.9 3.6h-3.8zM139.1 592.9l1.9 3.6h-3.8zM107.3 544.3l1.9 3.6h-3.8zM132.8 563.2l1.9 3.6h-3.8zM93.8 536.3l1.9 3.6h-3.8zM158.8 582.1l1.9 3.6h-3.8zM153 577.2l1.9 3.6h-3.8zM153.3 612.6l1.9 3.6h-3.8zM140.8 567.7l1.9 3.6h-3.8zM130.6 584.2l1.9 3.6h-3.8zM135.7 561l1.9 3.6h-3.8zM167.1 596.8l1.9 3.6h-3.8zM154.3 569.5l1.9 3.6h-3.8zM111.8 566.1l1.9 3.6h-3.8zM152.3 575.9l1.9 3.6h-3.8zM150.8 590.3l1.9 3.6h-3.8zM167.1 586.4l1.9 3.6h-3.8zM183.3 605.6l1.9 3.6h-3.8zM133.4 561.4l1.9 3.6h-3.8zM171.6 617.4l1.9 3.6h-3.8zM82.6 525.4l1.9 3.6h-3.8zM138.1 598.7l1.9 3.6h-3.8zM148.3 587.4l1.9 3.6h-3.8zM147.7 604l1.9 3.6h-3.8zM96.1 525.8l1.9 3.6h-3.8zM99.2 530.9l1.9 3.6h-3.8zM142.3 575.5l1.9 3.6h-3.8zM145.9 599.3l1.9 3.6h-3.8zM148.2 584.4l1.9 3.6h-3.8zM181.5 614.1l1.9 3.6h-3.8zM176 605.6l1.9 3.6h-3.8zM99.3 548.4l1.9 3.6h-3.8zM80 537.4l1.9 3.6h-3.8zM117.3 587.8l1.9 3.6h-3.8zM180.7 590.4l1.9 3.6h-3.8zM161.8 575.9l1.9 3.6h-3.8zM116 580.2l1.9 3.6h-3.8zM161.3 623.4l1.9 3.6h-3.8zM174.9 583.1l1.9 3.6h-3.8zM82.3 534.3l1.9 3.6h-3.8zM80.1 531.2l1.9 3.6h-3.8zM84.3 505.8l1.9 3.6h-3.8zM68.6 514l1.9 3.6h-3.8zM115.3 534.6l1.9 3.6h-3.8zM106.3 525.8l1.9 3.6h-3.8zM132.6 546.8l1.9 3.6h-3.8zM188.8 592.4l1.9 3.6h-3.8zM193 623.2l1.9 3.6h-3.8zM134.4 611.3l1.9 3.6h-3.8zM87.3 548.3l1.9 3.6h-3.8zM110.4 590.4l1.9 3.6h-3.8zM68.1 513.8l1.9 3.6h-3.8zM69.6 529l1.9 3.6h-3.8zM78.4 553.6l1.9 3.6h-3.8zM113.4 597.7l1.9 3.6h-3.8zM107 519.9l1.9 3.6h-3.8zM141.4 543.9l1.9 3.6h-3.8zM190.7 632.4l1.9 3.6h-3.8zM179.8 641.2l1.9 3.6h-3.8zM184.2 644.7l1.9 3.6h-3.8zM188.5 643.8l1.9 3.6h-3.8zM207.1 638.6l1.9 3.6h-3.8zM182 654.3l1.9 3.6h-3.8zM209.3 671.9l1.9 3.6h-3.8zM156.8 636l1.9 3.6h-3.8z" class="r"/>
<path d="M133.2 599.3l1.9 3.6h-3.8zM167.2 602.2l1.9 3.6h-3.8zM169.2 609.2l1.9 3.6h-3.8zM111.9 564.8l1.9 3.6h-3.8zM137.5 598.8l1.9 3.6h-3.8zM173.2 619.5l1.9 3.6h-3.8zM166.7 588.6l1.9 3.6h-3.8zM164.6 617.5l1.9 3.6h-3.8zM159.4 581.6l1.9 3.6h-3.8zM119.4 575.4l1.9 3.6h-3.8zM173.8 605.8l1.9 3.6h-3.8zM162.8 583.1l1.9 3.6h-3.8zM141.7 575.3l1.9 3.6h-3.8zM152.9 573.8l1.9 3.6h-3.8zM153 571.2l1.9 3.6h-3.8zM127 588.1l1.9 3.6h-3.8zM161.8 604.1l1.9 3.6h-3.8zM121 554.8l1.9 3.6h-3.8zM127.8 566.8l1.9 3.6h-3.8zM158.3 607.5l1.9 3.6h-3.8zM179.7 619.5l1.9 3.6h-3.8zM141.4 581.4l1.9 3.6h-3.8zM180.6 614.7l1.9 3.6h-3.8zM113.9 571.6l1.9 3.6h-3.8zM141.7 601.8l1.9 3.6h-3.8zM140.5 581.7l1.9 3.6h-3.8zM161.6 612.7l1.9 3.6h-3.8zM156.8 597l1.9 3.6h-3.8zM157.8 579.6l1.9 3.6h-3.8zM122.7 569.2l1.9 3.6h-3.8zM152 592.5l1.9 3.6h-3.8zM157 607.2l1.9 3.6h-3.8zM178.6 607.9l1.9 3.6h-3.8zM116.1 570.1l1.9 3.6h-3.8zM154.7 608.3l1.9 3.6h-3.8zM136.3 592.3l1.9 3.6h-3.8zM131.9 581.4l1.9 3.6h-3.8zM165.6 617.1l1.9 3.6h-3.8zM99.2 544l1.9 3.6h-3.8zM161.1 592l1.9 3.6h-3.8zM119.4 544.6l1.9 3.6h-3.8zM101.1 542.5l1.9 3.6h-3.8zM168.1 591.9l1.9 3.6h-3.8zM88.6 525.9l1.9 3.6h-3.8zM153.2 595.1l1.9 3.6h-3.8zM144.7 564l1.9 3.6h-3.8zM172.5 605.3l1.9 3.6h-3.8zM133.8 582.3l1.9 3.6h-3.8zM143.6 575.8l1.9 3.6h-3.8zM122.1 548.9l1.9 3.6h-3.8zM135.6 590.9l1.9 3.6h-3.8zM167.8 611.3l1.9 3.6h-3.8zM114 548.9l1.9 3.6h-3.8zM183.3 608.8l1.9 3.6h-3.8zM90.1 528.4l1.9 3.6h-3.8zM174.4 595.9l1.9 3.6h-3.8zM127.7 592.2l1.9 3.6h-3.8zM106.9 560.8l1.9 3.6h-3.8zM173.3 604.4l1.9 3.6h-3.8zM126.6 560.1l1.9 3.6h-3.8zM176.8 616.1l1.9 3.6h-3.8zM124.7 567.3l1.9 3.6h-3.8zM150.5 592.8l1.9 3.6h-3.8zM124.3 588.1l1.9 3.6h-3.8zM118.3 573.8l1.9 3.6h-3.8zM126.4 556.4l1.9 3.6h-3.8zM129.1 575l1.9 3.6h-3.8zM177.7 624.4l1.9 3.6h-3.8zM155.8 616.7l1.9 3.6h-3.8zM142.2 594l1.9 3.6h-3.8zM168.6 592.6l1.9 3.6h-3.8zM135.5 587.4l1.9 3.6h-3.8zM170.9 591.9l1.9 3.6h-3.8zM181.8 622.1l1.9 3.6h-3.8zM140.7 561.2l1.9 3.6h-3.8zM142.2 587.5l1.9 3.6h-3.8zM129.8 566.7l1.9 3.6h-3.8zM153.1 589.1l1.9 3.6h-3.8zM103.1 553.3l1.9 3.6h-3.8zM141.5 571.3l1.9 3.6h-3.8zM138.9 595.3l1.9 3.6h-3.8zM97.4 544.1l1.9 3.6h-3.8zM172.6 598.7l1.9 3.6h-3.8zM170.8 591.2l1.9 3.6h-3.8zM159.9 599.7l1.9 3.6h-3.8zM122.9 583.1l1.9 3.6h-3.8zM154.9 605.4l1.9 3.6h-3.8zM113.8 552.2l1.9 3.6h-3.8zM132 564l1.9 3.6h-3.8zM161 608.4l1.9 3.6h-3.8zM153.9 573.3l1.9 3.6h-3.8zM149 599.8l1.9 3.6h-3.8zM142.3 584.1l1.9 3.6h-3.8zM134.5 597.2l1.9 3.6h-3.8zM130.5 594.8l1.9 3.6h-3.8zM164.2 587.3l1.9 3.6h-3.8zM147.7 604.5l1.9 3.6h-3.8zM155.9 590.9l1.9 3.6h-3.8zM101.8 550.2l1.9 3.6h-3.8zM92.3 540.1l1.9 3.6h-3.8zM145.7 604l1.9 3.6h-3.8zM102 549.4l1.9 3.6h-3.8zM171.7 595.9l1.9 3.6h-3.8zM112.1 556.8l1.9 3.6h-3.8zM166.1 596.4l1.9 3.6h-3.8zM131.6 557.3l1.9 3.6h-3.8zM129.7 571l1.9 3.6h-3.8zM176.7 607l1.9 3.6h-3.8zM154.5 604l1.9 3.6h-3.8zM105.6 550l1.9 3.6h-3.8zM152.7 602.1l1.9 3.6h-3.8zM151.3 579.6l1.9 3.6h-3.8zM125.4 569.8l1.9 3.6h-3.8zM118.5 564.3l1.9 3.6h-3.8zM133.7 577.2l1.9 3.6h-3.8zM131.4 576.4l1.9 3.6h-3.8zM126.5 567.5l1.9 3.6h-3.8zM183.2 615.4l1.9 3.6h-3.8zM132.2 558.3l1.9 3.6h-3.8zM160.9 600.9l1.9 3.6h-3.8zM146.6 599.8l1.9 3.6h-3.8zM128 585.8l1.9 3.6h-3.8zM175.9 600.3l1.9 3.6h-3.8zM140.5 594l1.9 3.6h-3.8zM156.4 600.3l1.9 3.6h-3.8zM140.8 599.8l1.9 3.6h-3.8zM143.6 583.8l1.9 3.6h-3.8zM163.2 599.5l1.9 3.6h-3.8zM105.9 539.8l1.9 3.6h-3.8zM152.2 593.4l1.9 3.6h-3.8zM145 575.8l1.9 3.6h-3.8zM171.5 605.2l1.9 3.6h-3.8zM171.4 598.6l1.9 3.6h-3.8zM127.3 556.7l1.9 3.6h-3.8zM133.3 556.1l1.9 3.6h-3.8zM136.1 587.3l1.9 3.6h-3.8zM114.9 572.6l1.9 3.6h-3.8zM137.6 571l1.9 3.6h-3.8zM146 591.4l1.9 3.6h-3.8zM103 561.8l1.9 3.6h-3.8zM149.7 602.1l1.9 3.6h-3.8zM151.5 572.7l1.9 3.6h-3.8zM177.4 613.9l1.9 3.6h-3.8zM159.8 598.3l1.9 3.6h-3.8zM171.7 598.1l1.9 3.6h-3.8zM155.4 587.7l1.9 3.6h-3.8zM114.6 565.4l1.9 3.6h-3.8zM123.8 548.2l1.9 3.6h-3.8zM162.6 602l1.9 3.6h-3.8zM141.7 572.2l1.9 3.6h-3.8zM125.3 582.8l1.9 3.6h-3.8zM133.7 579.7l1.9 3.6h-3.8zM129.2 561.1l1.9 3.6h-3.8zM95.4 540.5l1.9 3.6h-3.8zM182.7 606.7l1.9 3.6h-3.8zM163.6 594.7l1.9 3.6h-3.8zM134.1 560.1l1.9 3.6h-3.8zM177.1 624.1l1.9 3.6h-3.8zM113.3 564l1.9 3.6h-3.8zM167.2 607.9l1.9 3.6h-3.8zM157.8 585.6l1.9 3.6h-3.8zM114.1 543.1l1.9 3.6h-3.8zM132.7 569.7l1.9 3.6h-3.8zM176.8 606.9l1.9 3.6h-3.8zM160.9 617.9l1.9 3.6h-3.8zM168.3 603.5l1.9 3.6h-3.8zM173.4 590.4l1.9 3.6h-3.8zM113.2 555.7l1.9 3.6h-3.8zM119.3 560.9l1.9 3.6h-3.8zM134.4 571.8l1.9 3.6h-3.8zM123.2 573.1l1.9 3.6h-3.8zM138.5 588.9l1.9 3.6h-3.8zM142.2 570.8l1.9 3.6h-3.8zM128.4 572.1l1.9 3.6h-3.8zM185.7 613.6l1.9 3.6h-3.8zM106.8 542.2l1.9 3.6h-3.8zM178.5 606.4l1.9 3.6h-3.8zM156.8 578.8l1.9 3.6h-3.8zM121.3 576.2l1.9 3.6h-3.8zM115.2 553.2l1.9 3.6h-3.8zM176.6 603.9l1.9 3.6h-3.8zM141.5 567.3l1.9 3.6h-3.8zM184 611l1.9 3.6h-3.8zM142.8 580.9l1.9 3.6h-3.8zM132.1 562.4l1.9 3.6h-3.8zM137.6 602.2l1.9 3.6h-3.8zM148.3 590l1.9 3.6h-3.8zM135.6 559.8l1.9 3.6h-3.8zM120.3 547l1.9 3.6h-3.8zM135.7 560.9l1.9 3.6h-3.8zM161 615.9l1.9 3.6h-3.8zM145.6 581.7l1.9 3.6h-3.8zM176.2 600.1l1.9 3.6h-3.8zM141.6 576.9l1.9 3.6h-3.8zM142 589.6l1.9 3.6h-3.8zM147.9 609.1l1.9 3.6h-3.8zM157.4 590.3l1.9 3.6h-3.8zM129.2 582.7l1.9 3.6h-3.8zM160.9 591.1l1.9 3.6h-3.8zM138.9 585l1.9 3.6h-3.8zM83 530.9l1.9 3.6h-3.8zM155.1 579.5l1.9 3.6h-3.8zM125.7 569.8l1.9 3.6h-3.8zM123.7 561.9l1.9 3.6h-3.8zM137.9 585.4l1.9 3.6h-3.8zM120.9 570l1.9 3.6h-3.8zM181.3 602.7l1.9 3.6h-3.8zM103.1 540.3l1.9 3.6h-3.8zM132.9 578.5l1.9 3.6h-3.8zM97.6 537.9l1.9 3.6h-3.8zM114.3 564.8l1.9 3.6h-3.8zM116.2 545.7l1.9 3.6h-3.8zM159.2 610.2l1.9 3.6h-3.8zM121.3 547.9l1.9 3.6h-3.8zM105.4 544.6l1.9 3.6h-3.8zM158.8 594l1.9 3.6h-3.8zM133.3 563.5l1.9 3.6h-3.8zM166.1 608.5l1.9 3.6h-3.8zM131 597.8l1.9 3.6h-3.8zM166.8 590.8l1.9 3.6h-3.8zM167.5 581.6l1.9 3.6h-3.8zM139 566.5l1.9 3.6h-3.8zM155.6 573.4l1.9 3.6h-3.8zM169.7 617.6l1.9 3.6h-3.8zM144 594.8l1.9 3.6h-3.8zM134.6 587.4l1.9 3.6h-3.8zM169.6 623.9l1.9 3.6h-3.8zM149.7 578.2l1.9 3.6h-3.8zM146.2 571.4l1.9 3.6h-3.8zM161.2 617.1l1.9 3.6h-3.8zM166.8 600.3l1.9 3.6h-3.8zM84.7 532.4l1.9 3.6h-3.8zM165 586.6l1.9 3.6h-3.8zM171.6 595.6l1.9 3.6h-3.8zM110.3 560.7l1.9 3.6h-3.8zM136.9 580.2l1.9 3.6h-3.8zM148.8 587.8l1.9 3.6h-3.8zM90.3 534.7l1.9 3.6h-3.8zM110.4 560.9l1.9 3.6h-3.8zM134.9 555.1l1.9 3.6h-3.8zM148.5 569.8l1.9 3.6h-3.8zM166.8 586l1.9 3.6h-3.8zM126.6 551.3l1.9 3.6h-3.8zM126.1 585.2l1.9 3.6h-3.8zM124 573.2l1.9 3.6h-3.8zM150.4 584l1.9 3.6h-3.8zM167.7 620.4l1.9 3.6h-3.8zM102.1 548l1.9 3.6h-3.8zM115 560.2l1.9 3.6h-3.8zM146.8 575.5l1.9 3.6h-3.8zM173.3 605l1.9 3.6h-3.8zM85.1 528.8l1.9 3.6h-3.8zM172.2 589.2l1.9 3.6h-3.8zM123.5 564.1l1.9 3.6h-3.8zM185.2 608.6l1.9 3.6h-3.8zM162.2 604.7l1.9 3.6h-3.8zM113.7 563.8l1.9 3.6h-3.8zM117.5 557.1l1.9 3.6h-3.8zM167.7 587l1.9 3.6h-3.8zM162.4 594.6l1.9 3.6h-3.8zM157.5 599.1l1.9 3.6h-3.8zM186.8 616.2l1.9 3.6h-3.8zM140.8 584.6l1.9 3.6h-3.8zM129 559.6l1.9 3.6h-3.8zM131.6 561.4l1.9 3.6h-3.8zM136.5 563.4l1.9 3.6h-3.8zM162.6 590l1.9 3.6h-3.8zM107.7 556.4l1.9 3.6h-3.8zM132.2 583.4l1.9 3.6h-3.8zM123.6 554.5l1.9 3.6h-3.8zM142.4 600.7l1.9 3.6h-3.8zM147.4 579.2l1.9 3.6h-3.8zM143.9 568.9l1.9 3.6h-3.8zM161.7 594.5l1.9 3.6h-3.8zM181.5 604.7l1.9 3.6h-3.8zM134.7 595.7l1.9 3.6h-3.8zM128.9 567.8l1.9 3.6h-3.8zM182.5 599l1.9 3.6h-3.8zM155.3 602.1l1.9 3.6h-3.8zM122.6 587.9l1.9 3.6h-3.8zM115.2 557.3l1.9 3.6h-3.8zM124.1 551.1l1.9 3.6h-3.8zM127.6 564.2l1.9 3.6h-3.8zM150.5 591.2l1.9 3.6h-3.8zM117.6 558.8l1.9 3.6h-3.8zM151 594.5l1.9 3.6h-3.8zM116.3 552.8l1.9 3.6h-3.8zM121.9 563.8l1.9 3.6h-3.8zM152.3 577l1.9 3.6h-3.8zM164 590.3l1.9 3.6h-3.8zM183.3 617.4l1.9 3.6h-3.8zM149.2 606.9l1.9 3.6h-3.8zM167.6 582.8l1.9 3.6h-3.8zM138.2 574.3l1.9 3.6h-3.8zM129 579.6l1.9 3.6h-3.8zM169.3 610.6l1.9 3.6h-3.8zM82 541.3l1.9 3.6h-3.8zM152 617.6l1.9 3.6h-3.8zM120.7 540.8l1.9 3.6h-3.8zM190.8 610l1.9 3.6h-3.8zM90.1 546.9l1.9 3.6h-3.8zM193.4 616l1.9 3.6h-3.8zM119.3 584.8l1.9 3.6h-3.8zM147.5 610.1l1.9 3.6h-3.8zM100.5 527.1l1.9 3.6h-3.8zM70.1 528.8l1.9 3.6h-3.8zM114 532l1.9 3.6h-3.8zM137 554.7l1.9 3.6h-3.8zM144.3 556.9l1.9 3.6h-3.8zM135.5 605.1l1.9 3.6h-3.8zM196.3 612.8l1.9 3.6h-3.8zM199 629.7l1.9 3.6h-3.8zM168.4 629.3l1.9 3.6h-3.8zM166.7 638l1.9 3.6h-3.8zM97.8 570.8l1.9 3.6h-3.8zM135.9 605l1.9 3.6h-3.8zM79 515.5l1.9 3.6h-3.8zM97.6 570.7l1.9 3.6h-3.8zM112.9 588.6l1.9 3.6h-3.8zM110.8 512.9l1.9 3.6h-3.8zM95 517.6l1.9 3.6h-3.8zM117.3 539.2l1.9 3.6h-3.8zM123.4 541.3l1.9 3.6h-3.8zM157.8 529l1.9 3.6h-3.8zM175.4 631.6l1.9 3.6h-3.8zM199.5 629.8l1.9 3.6h-3.8zM207.1 626.7l1.9 3.6h-3.8zM210.4 634.2l1.9 3.6h-3.8zM146.9 626l1.9 3.6h-3.8zM177.1 574.6l1.9 3.6h-3.8z" class="r"/>
<path d="M135.2 591l1.9 3.6h-3.8zM135.6 573.7l1.9 3.6h-3.8zM173.8 593.8l1.9 3.6h-3.8zM140.6 592l1.9 3.6h-3.8zM172.4 603.3l1.9 3.6h-3.8zM127.1 553.4l1.9 3.6h-3.8zM132.8 592.1l1.9 3.6h-3.8zM100.5 545.5l1.9 3.6h-3.8zM164.9 596l1.9 3.6h-3.8zM173 614.9l1.9 3.6h-3.8zM137.8 588.9l1.9 3.6h-3.8zM133.4 559.4l1.9 3.6h-3.8zM128.8 575.7l1.9 3.6h-3.8zM101.9 538.5l1.9 3.6h-3.8zM94.4 527.9l1.9 3.6h-3.8zM179.4 595.2l1.9 3.6h-3.8zM128.8 567.7l1.9 3.6h-3.8zM159.7 593.6l1.9 3.6h-3.8zM110.4 550.3l1.9 3.6h-3.8zM105.5 538.1l1.9 3.6h-3.8zM174.8 612.8l1.9 3.6h-3.8zM151.8 607.9l1.9 3.6h-3.8zM126.9 558.8l1.9 3.6h-3.8zM152.9 572.5l1.9 3.6h-3.8zM151.9 591.7l1.9 3.6h-3.8zM106.1 552.1l1.9 3.6h-3.8zM179 612.5l1.9 3.6h-3.8zM124.1 568.4l1.9 3.6h-3.8zM90.8 526l1.9 3.6h-3.8zM160 616l1.9 3.6h-3.8zM114.7 557.3l1.9 3.6h-3.8zM156.4 588.5l1.9 3.6h-3.8zM171.5 619.3l1.9 3.6h-3.8zM137.2 565.5l1.9 3.6h-3.8zM156.6 605.4l1.9 3.6h-3.8zM99.5 550.8l1.9 3.6h-3.8zM176.6 607.8l1.9 3.6h-3.8zM177.7 599.4l1.9 3.6h-3.8zM119.8 567.1l1.9 3.6h-3.8zM123.7 587.6l1.9 3.6h-3.8zM135.3 569.9l1.9 3.6h-3.8zM163 612.3l1.9 3.6h-3.8zM132.1 595.7l1.9 3.6h-3.8zM154 586.9l1.9 3.6h-3.8zM126.7 566.9l1.9 3.6h-3.8zM147.8 588.5l1.9 3.6h-3.8zM96.6 545.1l1.9 3.6h-3.8zM121.5 579.5l1.9 3.6h-3.8zM147.3 577.3l1.9 3.6h-3.8zM138 601.7l1.9 3.6h-3.8zM117.8 578.3l1.9 3.6h-3.8zM128.4 567.4l1.9 3.6h-3.8zM148.8 577.1l1.9 3.6h-3.8zM173 622.9l1.9 3.6h-3.8zM90 542.8l1.9 3.6h-3.8zM153.4 616.1l1.9 3.6h-3.8zM165.4 607.6l1.9 3.6h-3.8zM136.3 561.8l1.9 3.6h-3.8zM167.7 608.5l1.9 3.6h-3.8zM136.4 599.3l1.9 3.6h-3.8zM117.7 569l1.9 3.6h-3.8zM170.8 592.5l1.9 3.6h-3.8zM134 589.3l1.9 3.6h-3.8zM111 562.4l1.9 3.6h-3.8zM150.4 585.3l1.9 3.6h-3.8zM148.1 588.4l1.9 3.6h-3.8zM169.8 600.8l1.9 3.6h-3.8zM150.8 596.4l1.9 3.6h-3.8zM172.5 614l1.9 3.6h-3.8zM114 564.2l1.9 3.6h-3.8zM140 569.5l1.9 3.6h-3.8zM86.6 536.5l1.9 3.6h-3.8zM143.9 573.1l1.9 3.6h-3.8zM152.4 591.4l1.9 3.6h-3.8zM166.7 621.2l1.9 3.6h-3.8zM87.9 521.1l1.9 3.6h-3.8zM134.4 559.4l1.9 3.6h-3.8zM162.2 595.4l1.9 3.6h-3.8zM120.5 563.9l1.9 3.6h-3.8zM126.7 565.5l1.9 3.6h-3.8zM139.2 595.1l1.9 3.6h-3.8zM145.6 594.8l1.9 3.6h-3.8zM143.6 588.5l1.9 3.6h-3.8zM177.5 615.1l1.9 3.6h-3.8zM167.3 613.6l1.9 3.6h-3.8zM147.3 578.9l1.9 3.6h-3.8zM149.9 570.7l1.9 3.6h-3.8zM163.7 605l1.9 3.6h-3.8zM152.2 583.6l1.9 3.6h-3.8zM157.9 603.9l1.9 3.6h-3.8zM178.7 601.1l1.9 3.6h-3.8zM127.5 580.3l1.9 3.6h-3.8zM138 599.3l1.9 3.6h-3.8zM132.3 577.9l1.9 3.6h-3.8zM127.7 581.5l1.9 3.6h-3.8zM131.5 564.8l1.9 3.6h-3.8zM157.6 577.4l1.9 3.6h-3.8zM172.1 595.6l1.9 3.6h-3.8zM164.8 601.2l1.9 3.6h-3.8zM173.7 606l1.9 3.6h-3.8zM153.9 589.3l1.9 3.6h-3.8zM182.9 620.2l1.9 3.6h-3.8zM154 587l1.9 3.6h-3.8zM140.8 577.5l1.9 3.6h-3.8zM125.1 572.8l1.9 3.6h-3.8zM102.5 539.9l1.9 3.6h-3.8zM181.9 604.9l1.9 3.6h-3.8zM130.7 577.5l1.9 3.6h-3.8zM153.4 592.1l1.9 3.6h-3.8zM114.6 556.5l1.9 3.6h-3.8zM157.6 596.2l1.9 3.6h-3.8zM109.2 560.1l1.9 3.6h-3.8zM128 595.2l1.9 3.6h-3.8zM128.8 577.2l1.9 3.6h-3.8zM143.8 563.5l1.9 3.6h-3.8zM105.7 557.1l1.9 3.6h-3.8zM154.5 596.1l1.9 3.6h-3.8zM152 585.2l1.9 3.6h-3.8zM135.2 562.8l1.9 3.6h-3.8zM116.8 545.5l1.9 3.6h-3.8zM90.1 524.4l1.9 3.6h-3.8zM129.3 563.5l1.9 3.6h-3.8zM159.9 607.7l1.9 3.6h-3.8zM143.4 566.4l1.9 3.6h-3.8zM103.5 531.9l1.9 3.6h-3.8zM136.9 576.9l1.9 3.6h-3.8zM115.7 548.1l1.9 3.6h-3.8zM135.4 593.6l1.9 3.6h-3.8zM141.4 592.2l1.9 3.6h-3.8zM116.6 568.1l1.9 3.6h-3.8zM109.6 562.6l1.9 3.6h-3.8zM144.9 598.2l1.9 3.6h-3.8zM168.3 612.6l1.9 3.6h-3.8zM105.5 554l1.9 3.6h-3.8zM113.2 543.7l1.9 3.6h-3.8zM146.6 595.9l1.9 3.6h-3.8zM143.9 579.1l1.9 3.6h-3.8zM166.3 598.9l1.9 3.6h-3.8zM99.9 538.7l1.9 3.6h-3.8zM121.9 566.4l1.9 3.6h-3.8zM136.6 581.2l1.9 3.6h-3.8zM140.8 604.8l1.9 3.6h-3.8zM118.4 583.5l1.9 3.6h-3.8zM158.1 588.3l1.9 3.6h-3.8zM154.3 614.4l1.9 3.6h-3.8zM117 545.5l1.9 3.6h-3.8zM167.6 593.3l1.9 3.6h-3.8zM116.5 562.2l1.9 3.6h-3.8zM144.8 567.7l1.9 3.6h-3.8zM133.5 556.6l1.9 3.6h-3.8zM142.9 585.8l1.9 3.6h-3.8zM159.2 586.1l1.9 3.6h-3.8zM97.9 549l1.9 3.6h-3.8zM150.1 603.8l1.9 3.6h-3.8zM116.6 543.1l1.9 3.6h-3.8zM183.4 612.6l1.9 3.6h-3.8zM170.1 608l1.9 3.6h-3.8zM127.8 566l1.9 3.6h-3.8zM186.1 621.1l1.9 3.6h-3.8zM123.3 574.8l1.9 3.6h-3.8zM149.5 599l1.9 3.6h-3.8zM111.8 554.5l1.9 3.6h-3.8zM131.8 565.5l1.9 3.6h-3.8zM128.5 551.7l1.9 3.6h-3.8zM174.4 620l1.9 3.6h-3.8zM168 590.2l1.9 3.6h-3.8zM121.7 571.4l1.9 3.6h-3.8zM181.4 603.6l1.9 3.6h-3.8zM154.1 585.7l1.9 3.6h-3.8zM104.6 544l1.9 3.6h-3.8zM125.2 551.4l1.9 3.6h-3.8zM141.3 588.3l1.9 3.6h-3.8zM119.4 555.3l1.9 3.6h-3.8zM102.6 557.5l1.9 3.6h-3.8zM146 592.4l1.9 3.6h-3.8zM149 593.6l1.9 3.6h-3.8zM148.3 575.2l1.9 3.6h-3.8zM170.1 619.6l1.9 3.6h-3.8zM171.8 603.9l1.9 3.6h-3.8zM168.8 589.9l1.9 3.6h-3.8zM119.6 582.3l1.9 3.6h-3.8zM104.1 555.4l1.9 3.6h-3.8zM155.6 575.5l1.9 3.6h-3.8zM136.3 597.7l1.9 3.6h-3.8zM129.6 584.2l1.9 3.6h-3.8zM99.6 553.8l1.9 3.6h-3.8zM174.4 606.4l1.9 3.6h-3.8zM142.5 564.1l1.9 3.6h-3.8zM164.3 602.4l1.9 3.6h-3.8zM179.1 612.2l1.9 3.6h-3.8zM162 601.4l1.9 3.6h-3.8zM173 616.9l1.9 3.6h-3.8zM160.9 603.4l1.9 3.6h-3.8zM138.1 569.4l1.9 3.6h-3.8zM166 608.3l1.9 3.6h-3.8zM142 598.1l1.9 3.6h-3.8zM140.1 590.2l1.9 3.6h-3.8zM166.4 607.5l1.9 3.6h-3.8zM144.9 593.7l1.9 3.6h-3.8zM137.5 592l1.9 3.6h-3.8zM167.5 619.2l1.9 3.6h-3.8zM179.7 621.1l1.9 3.6h-3.8zM125.9 556.5l1.9 3.6h-3.8zM151.6 615.4l1.9 3.6h-3.8zM184.5 601.1l1.9 3.6h-3.8zM145.2 568.8l1.9 3.6h-3.8zM152 589.6l1.9 3.6h-3.8zM105.1 552l1.9 3.6h-3.8zM125.7 557.5l1.9 3.6h-3.8zM148.7 601.5l1.9 3.6h-3.8zM135.7 601.2l1.9 3.6h-3.8zM125.9 555.1l1.9 3.6h-3.8zM153.9 579.4l1.9 3.6h-3.8zM142.9 602l1.9 3.6h-3.8zM159.4 601.2l1.9 3.6h-3.8zM144.2 583.4l1.9 3.6h-3.8zM138.3 583.2l1.9 3.6h-3.8zM142.6 572.8l1.9 3.6h-3.8zM173.7 596.3l1.9 3.6h-3.8zM138.3 601.1l1.9 3.6h-3.8zM164.7 591l1.9 3.6h-3.8zM157.9 593.1l1.9 3.6h-3.8zM169.7 619.5l1.9 3.6h-3.8zM128.2 587.6l1.9 3.6h-3.8zM129.3 552.4l1.9 3.6h-3.8zM89.7 542.7l1.9 3.6h-3.8zM144.4 577.3l1.9 3.6h-3.8zM144.3 586.3l1.9 3.6h-3.8zM151.4 609.9l1.9 3.6h-3.8zM169.2 616.3l1.9 3.6h-3.8zM154.8 607.7l1.9 3.6h-3.8zM148.9 579.5l1.9 3.6h-3.8zM157.2 577.4l1.9 3.6h-3.8zM175.2 601.3l1.9 3.6h-3.8zM126.8 554.3l1.9 3.6h-3.8zM167.4 591.4l1.9 3.6h-3.8zM169.4 603.1l1.9 3.6h-3.8zM128.4 575.8l1.9 3.6h-3.8zM173.4 622.2l1.9 3.6h-3.8zM93.5 523.9l1.9 3.6h-3.8zM158.2 602.8l1.9 3.6h-3.8zM144.9 579.4l1.9 3.6h-3.8zM161.2 601.1l1.9 3.6h-3.8zM162.3 590.9l1.9 3.6h-3.8zM113.3 570.7l1.9 3.6h-3.8zM113.5 575.7l1.9 3.6h-3.8zM155.5 573.3l1.9 3.6h-3.8zM165.3 604.8l1.9 3.6h-3.8zM115.7 576l1.9 3.6h-3.8zM108.7 546.3l1.9 3.6h-3.8zM175.2 598.9l1.9 3.6h-3.8zM158 578.5l1.9 3.6h-3.8zM182.6 618.5l1.9 3.6h-3.8zM159.8 579.2l1.9 3.6h-3.8zM175.2 620.4l1.9 3.6h-3.8zM166.1 599.1l1.9 3.6h-3.8zM173.8 609.2l1.9 3.6h-3.8zM135.5 562.8l1.9 3.6h-3.8zM166 585.8l1.9 3.6h-3.8zM126.8 579l1.9 3.6h-3.8zM126.1 573.9l1.9 3.6h-3.8zM132.1 560.7l1.9 3.6h-3.8zM163.1 599.2l1.9 3.6h-3.8zM119.6 564.9l1.9 3.6h-3.8zM157.1 602.6l1.9 3.6h-3.8zM131.1 588.6l1.9 3.6h-3.8zM128 585.7l1.9 3.6h-3.8zM112.5 567.3l1.9 3.6h-3.8zM94.1 525.7l1.9 3.6h-3.8zM164.3 613l1.9 3.6h-3.8zM168.1 595.2l1.9 3.6h-3.8zM96.7 534.7l1.9 3.6h-3.8zM132.9 572.6l1.9 3.6h-3.8zM152.2 576.5l1.9 3.6h-3.8zM161.1 598.1l1.9 3.6h-3.8zM148.1 597.6l1.9 3.6h-3.8zM119 549.5l1.9 3.6h-3.8zM117.2 559.3l1.9 3.6h-3.8zM139.4 572.7l1.9 3.6h-3.8zM154.7 601.9l1.9 3.6h-3.8zM137.4 570.3l1.9 3.6h-3.8zM143.7 600.9l1.9 3.6h-3.8zM113.2 547.5l1.9 3.6h-3.8zM143.8 567.5l1.9 3.6h-3.8zM164.9 597.9l1.9 3.6h-3.8zM115.7 560l1.9 3.6h-3.8zM162.9 612.9l1.9 3.6h-3.8zM111.7 568.3l1.9 3.6h-3.8zM174.8 614.4l1.9 3.6h-3.8zM132.5 560l1.9 3.6h-3.8zM158.5 612.4l1.9 3.6h-3.8zM168.7 604.2l1.9 3.6h-3.8zM120 577.4l1.9 3.6h-3.8zM150.2 606.4l1.9 3.6h-3.8zM137.3 566.1l1.9 3.6h-3.8zM145.4 589.8l1.9 3.6h-3.8zM174.2 600.9l1.9 3.6h-3.8zM171.3 604.1l1.9 3.6h-3.8zM169.8 605.2l1.9 3.6h-3.8zM160 603.9l1.9 3.6h-3.8zM115.5 551.5l1.9 3.6h-3.8zM116 551.1l1.9 3.6h-3.8zM116.5 562.2l1.9 3.6h-3.8zM130.5 578.8l1.9 3.6h-3.8zM101 523.8l1.9 3.6h-3.8zM92.8 519.9l1.9 3.6h-3.8zM139.1 555.8l1.9 3.6h-3.8zM151 619.2l1.9 3.6h-3.8zM176.2 583.8l1.9 3.6h-3.8zM82.7 538.2l1.9 3.6h-3.8zM162.4 622.8l1.9 3.6h-3.8zM157.9 569.3l1.9 3.6h-3.8zM117 584.7l1.9 3.6h-3.8zM103.7 508.3l1.9 3.6h-3.8zM94.5 517.5l1.9 3.6h-3.8zM75 520l1.9 3.6h-3.8zM87 548.1l1.9 3.6h-3.8zM144.6 556.9l1.9 3.6h-3.8zM142.5 561.7l1.9 3.6h-3.8zM187 598.5l1.9 3.6h-3.8zM186.4 598.6l1.9 3.6h-3.8zM146.5 625.6l1.9 3.6h-3.8zM167.3 632.8l1.9 3.6h-3.8zM176 632.8l1.9 3.6h-3.8zM169.5 636.7l1.9 3.6h-3.8zM179.3 640.7l1.9 3.6h-3.8zM183.7 644.6l1.9 3.6h-3.8zM192.4 642.9l1.9 3.6h-3.8zM136.1 605.2l1.9 3.6h-3.8zM131.1 611.8l1.9 3.6h-3.8zM74.6 535.7l1.9 3.6h-3.8zM91.1 550.1l1.9 3.6h-3.8zM107.5 578.4l1.9 3.6h-3.8zM131.5 611.4l1.9 3.6h-3.8zM115.1 534.3l1.9 3.6h-3.8zM131.5 548.3l1.9 3.6h-3.8zM139.2 534.3l1.9 3.6h-3.8zM184.2 629.8l1.9 3.6h-3.8zM168.8 636.8l1.9 3.6h-3.8zM213.3 627.5l1.9 3.6h-3.8z" class="r"/>
<path d="M124.4 568.2l1.9 3.6h-3.8zM168.7 613l1.9 3.6h-3.8zM136.6 581.7l1.9 3.6h-3.8zM109.2 553.2l1.9 3.6h-3.8zM126.4 557.1l1.9 3.6h-3.8zM102.8 556l1.9 3.6h-3.8zM151.2 593.5l1.9 3.6h-3.8zM179 619.3l1.9 3.6h-3.8zM103.7 535.4l1.9 3.6h-3.8zM134.8 572.8l1.9 3.6h-3.8zM134.8 568l1.9 3.6h-3.8zM161.6 580.8l1.9 3.6h-3.8zM103.4 546.9l1.9 3.6h-3.8zM138.4 602.8l1.9 3.6h-3.8zM160.3 596.1l1.9 3.6h-3.8zM126.1 580.7l1.9 3.6h-3.8zM99.6 550.6l1.9 3.6h-3.8zM103.8 557.5l1.9 3.6h-3.8zM142 598.3l1.9 3.6h-3.8zM130.8 569.2l1.9 3.6h-3.8zM143.4 585.6l1.9 3.6h-3.8zM111.3 554.7l1.9 3.6h-3.8zM123.4 579.2l1.9 3.6h-3.8zM117.5 569.4l1.9 3.6h-3.8zM162.7 606.1l1.9 3.6h-3.8zM146.9 575.5l1.9 3.6h-3.8zM107.2 566.5l1.9 3.6h-3.8zM113.4 567.5l1.9 3.6h-3.8zM133.5 594.5l1.9 3.6h-3.8zM118.5 565.9l1.9 3.6h-3.8zM139.4 578.2l1.9 3.6h-3.8zM133.6 595.5l1.9 3.6h-3.8zM155.2 583.7l1.9 3.6h-3.8zM124.3 561.9l1.9 3.6h-3.8zM185.8 615.6l1.9 3.6h-3.8zM170.9 591.8l1.9 3.6h-3.8zM92.5 539.4l1.9 3.6h-3.8zM140.5 563.8l1.9 3.6h-3.8zM138.2 574.2l1.9 3.6h-3.8zM133.6 580.7l1.9 3.6h-3.8zM178.7 594.7l1.9 3.6h-3.8zM175.2 612.4l1.9 3.6h-3.8zM166.3 598l1.9 3.6h-3.8zM170.7 622.1l1.9 3.6h-3.8zM164.2 589.9l1.9 3.6h-3.8zM134 566.2l1.9 3.6h-3.8zM124.6 556.3l1.9 3.6h-3.8zM172.1 587.9l1.9 3.6h-3.8zM150.8 603.3l1.9 3.6h-3.8zM144.4 589.5l1.9 3.6h-3.8zM108.8 559.3l1.9 3.6h-3.8zM159.6 583.6l1.9 3.6h-3.8zM129.4 592.4l1.9 3.6h-3.8zM87.8 543.3l1.9 3.6h-3.8zM121.9 556.5l1.9 3.6h-3.8zM166.7 602l1.9 3.6h-3.8zM108.6 562.3l1.9 3.6h-3.8zM110.6 544.8l1.9 3.6h-3.8zM103 537.6l1.9 3.6h-3.8zM86.3 529.6l1.9 3.6h-3.8zM136.9 593.3l1.9 3.6h-3.8zM110.5 556.7l1.9 3.6h-3.8zM159.2 578.1l1.9 3.6h-3.8zM150.1 583.6l1.9 3.6h-3.8zM140.4 604.3l1.9 3.6h-3.8zM135.3 561.3l1.9 3.6h-3.8zM187.7 616.8l1.9 3.6h-3.8zM122.9 577.4l1.9 3.6h-3.8zM124.4 576l1.9 3.6h-3.8zM147.4 595.2l1.9 3.6h-3.8zM97.5 541.7l1.9 3.6h-3.8zM173.3 624.7l1.9 3.6h-3.8zM104.8 539.7l1.9 3.6h-3.8zM148.2 584.7l1.9 3.6h-3.8zM138.1 586.6l1.9 3.6h-3.8zM109.6 544.8l1.9 3.6h-3.8zM113.6 553.5l1.9 3.6h-3.8zM164.9 597.7l1.9 3.6h-3.8zM143.4 605.6l1.9 3.6h-3.8zM141.1 576.2l1.9 3.6h-3.8zM152 610.1l1.9 3.6h-3.8zM162.3 580.2l1.9 3.6h-3.8zM165.4 595.7l1.9 3.6h-3.8zM87.1 521.8l1.9 3.6h-3.8zM105.4 547.2l1.9 3.6h-3.8zM124.2 551.3l1.9 3.6h-3.8zM96.2 532.3l1.9 3.6h-3.8zM160.7 577.5l1.9 3.6h-3.8zM178.7 604.1l1.9 3.6h-3.8zM169.8 597.4l1.9 3.6h-3.8zM126.8 577.9l1.9 3.6h-3.8zM157.4 588.6l1.9 3.6h-3.8zM129.2 583.5l1.9 3.6h-3.8zM183.8 614.9l1.9 3.6h-3.8zM177.1 603.4l1.9 3.6h-3.8zM173.1 609.2l1.9 3.6h-3.8zM137.4 582.3l1.9 3.6h-3.8zM170.2 593.4l1.9 3.6h-3.8zM157.9 593.7l1.9 3.6h-3.8zM117.7 553.1l1.9 3.6h-3.8zM137.3 580.8l1.9 3.6h-3.8zM181.2 620.9l1.9 3.6h-3.8zM162.8 601.9l1.9 3.6h-3.8zM128.4 549.9l1.9 3.6h-3.8zM146.5 574.2l1.9 3.6h-3.8zM92.5 533.6l1.9 3.6h-3.8zM180.9 613.1l1.9 3.6h-3.8zM92.5 536.1l1.9 3.6h-3.8zM159.4 580.6l1.9 3.6h-3.8zM159.7 580.7l1.9 3.6h-3.8zM110.8 557.2l1.9 3.6h-3.8zM150.7 611l1.9 3.6h-3.8zM123 579.1l1.9 3.6h-3.8zM88.5 527.5l1.9 3.6h-3.8zM132.9 574.7l1.9 3.6h-3.8zM111.5 558.9l1.9 3.6h-3.8zM97.7 542.9l1.9 3.6h-3.8zM83 530.7l1.9 3.6h-3.8zM161.9 582.2l1.9 3.6h-3.8zM150.2 596.7l1.9 3.6h-3.8zM96.8 538.4l1.9 3.6h-3.8zM92.9 538.7l1.9 3.6h-3.8zM137.3 560.2l1.9 3.6h-3.8zM140.5 600.3l1.9 3.6h-3.8zM121 576.1l1.9 3.6h-3.8zM171.3 610.4l1.9 3.6h-3.8zM117.3 573.8l1.9 3.6h-3.8zM151.8 594.6l1.9 3.6h-3.8zM120.1 548.4l1.9 3.6h-3.8zM156.8 599l1.9 3.6h-3.8zM163.5 596.2l1.9 3.6h-3.8zM167.5 600.4l1.9 3.6h-3.8zM179 603.9l1.9 3.6h-3.8zM128.4 586l1.9 3.6h-3.8zM121.9 585.9l1.9 3.6h-3.8zM130.8 577.8l1.9 3.6h-3.8zM165.9 603.1l1.9 3.6h-3.8zM186.1 615.7l1.9 3.6h-3.8zM113.9 555.9l1.9 3.6h-3.8zM89.9 529.5l1.9 3.6h-3.8zM114.4 555.3l1.9 3.6h-3.8zM140.7 564.7l1.9 3.6h-3.8zM132.4 577.2l1.9 3.6h-3.8zM139.5 590.7l1.9 3.6h-3.8zM179.3 613.6l1.9 3.6h-3.8zM138.9 568.3l1.9 3.6h-3.8zM147.3 604.1l1.9 3.6h-3.8zM126.3 551.6l1.9 3.6h-3.8zM167.9 587.9l1.9 3.6h-3.8zM143 572.9l1.9 3.6h-3.8zM131.5 570.9l1.9 3.6h-3.8zM157.2 584.2l1.9 3.6h-3.8zM175.7 600.8l1.9 3.6h-3.8zM160.7 604.1l1.9 3.6h-3.8zM109.1 544l1.9 3.6h-3.8zM145 592.8l1.9 3.6h-3.8zM91 539.3l1.9 3.6h-3.8zM160.4 615.2l1.9 3.6h-3.8zM119.6 562.4l1.9 3.6h-3.8zM152.7 604.9l1.9 3.6h-3.8zM130.6 565.5l1.9 3.6h-3.8zM93.1 544.3l1.9 3.6h-3.8zM96.9 539.4l1.9 3.6h-3.8zM141.1 588.4l1.9 3.6h-3.8zM178.9 624l1.9 3.6h-3.8zM124 580.7l1.9 3.6h-3.8zM148.2 603.1l1.9 3.6h-3.8zM172.8 588.7l1.9 3.6h-3.8zM184.9 622.2l1.9 3.6h-3.8zM136.7 561.2l1.9 3.6h-3.8zM119.3 552.3l1.9 3.6h-3.8zM137.1 594.8l1.9 3.6h-3.8zM129 591.9l1.9 3.6h-3.8zM162.2 591.2l1.9 3.6h-3.8zM83.9 522.1l1.9 3.6h-3.8zM151.4 576.4l1.9 3.6h-3.8zM146.6 584.6l1.9 3.6h-3.8zM137.2 593l1.9 3.6h-3.8zM180.5 597.7l1.9 3.6h-3.8zM130.9 585l1.9 3.6h-3.8zM125.5 581l1.9 3.6h-3.8zM93.4 531.7l1.9 3.6h-3.8zM123.5 575.8l1.9 3.6h-3.8zM155.8 604.2l1.9 3.6h-3.8zM118.1 568l1.9 3.6h-3.8zM180.5 618.4l1.9 3.6h-3.8zM136.2 575.9l1.9 3.6h-3.8zM155.6 581.5l1.9 3.6h-3.8zM130.2 567l1.9 3.6h-3.8zM131 592.6l1.9 3.6h-3.8zM148.8 606.8l1.9 3.6h-3.8zM141.8 585.8l1.9 3.6h-3.8zM180.2 600.8l1.9 3.6h-3.8zM151.2 591.3l1.9 3.6h-3.8zM170.6 584.1l1.9 3.6h-3.8zM116.6 556.8l1.9 3.6h-3.8zM148 588.2l1.9 3.6h-3.8zM169.5 623.8l1.9 3.6h-3.8zM110.8 571.9l1.9 3.6h-3.8zM160.1 578.7l1.9 3.6h-3.8zM98.2 532.3l1.9 3.6h-3.8zM161.2 586.2l1.9 3.6h-3.8zM165.7 608.9l1.9 3.6h-3.8zM115.9 560.8l1.9 3.6h-3.8zM154.2 590.7l1.9 3.6h-3.8zM105.2 550.6l1.9 3.6h-3.8zM104.5 557.3l1.9 3.6h-3.8zM173.2 596.5l1.9 3.6h-3.8zM124.8 553.9l1.9 3.6h-3.8zM172.2 602.6l1.9 3.6h-3.8zM177.8 616.4l1.9 3.6h-3.8zM168.5 602.2l1.9 3.6h-3.8zM142.6 564.1l1.9 3.6h-3.8zM116.5 563l1.9 3.6h-3.8zM169.8 593.4l1.9 3.6h-3.8zM156.6 603.3l1.9 3.6h-3.8zM140.4 582.2l1.9 3.6h-3.8zM135 566.9l1.9 3.6h-3.8zM186.5 614l1.9 3.6h-3.8zM184 617l1.9 3.6h-3.8zM131.9 568.3l1.9 3.6h-3.8zM96 530.6l1.9 3.6h-3.8zM122.9 567.5l1.9 3.6h-3.8zM112.8 566.3l1.9 3.6h-3.8zM106.2 556.9l1.9 3.6h-3.8zM173.9 591l1.9 3.6h-3.8zM170.4 605.1l1.9 3.6h-3.8zM128.5 579.7l1.9 3.6h-3.8zM189.2 616l1.9 3.6h-3.8zM182.6 610.8l1.9 3.6h-3.8zM163.8 590.2l1.9 3.6h-3.8zM112.3 563.7l1.9 3.6h-3.8zM145.1 583.6l1.9 3.6h-3.8zM104.7 543.7l1.9 3.6h-3.8zM148.8 605.2l1.9 3.6h-3.8zM160.1 578l1.9 3.6h-3.8zM122.4 563l1.9 3.6h-3.8zM155.3 582.5l1.9 3.6h-3.8zM186.7 614.9l1.9 3.6h-3.8zM153.9 573.2l1.9 3.6h-3.8zM158.1 581.8l1.9 3.6h-3.8zM86.6 522.8l1.9 3.6h-3.8zM136.9 595.3l1.9 3.6h-3.8zM147.9 592.7l1.9 3.6h-3.8zM125.8 559.5l1.9 3.6h-3.8zM163.8 591.5l1.9 3.6h-3.8zM109.2 562.2l1.9 3.6h-3.8zM132.2 593.2l1.9 3.6h-3.8zM139.5 564.4l1.9 3.6h-3.8zM98.7 541l1.9 3.6h-3.8zM178 611.1l1.9 3.6h-3.8zM171.4 612.8l1.9 3.6h-3.8zM148.5 596.8l1.9 3.6h-3.8zM131.5 576.5l1.9 3.6h-3.8zM137.6 563.7l1.9 3.6h-3.8zM140.8 565l1.9 3.6h-3.8zM89.6 535.4l1.9 3.6h-3.8zM126.1 557.8l1.9 3.6h-3.8zM126.2 557.5l1.9 3.6h-3.8zM128.7 561.7l1.9 3.6h-3.8zM176.4 613.6l1.9 3.6h-3.8zM177.8 615.1l1.9 3.6h-3.8zM130.9 579.9l1.9 3.6h-3.8zM141.1 582l1.9 3.6h-3.8zM159.3 588.4l1.9 3.6h-3.8zM127.1 582.1l1.9 3.6h-3.8zM173.1 602.9l1.9 3.6h-3.8zM110 560.2l1.9 3.6h-3.8zM95 529.1l1.9 3.6h-3.8zM145.2 585.4l1.9 3.6h-3.8zM149 591.5l1.9 3.6h-3.8zM138.3 602.4l1.9 3.6h-3.8zM157.6 592.9l1.9 3.6h-3.8zM139.8 564l1.9 3.6h-3.8zM171.4 604.8l1.9 3.6h-3.8zM161.5 591.8l1.9 3.6h-3.8zM102.5 549.6l1.9 3.6h-3.8zM136.2 560.4l1.9 3.6h-3.8zM125.4 573.5l1.9 3.6h-3.8zM141.8 607.2l1.9 3.6h-3.8zM150.9 614.8l1.9 3.6h-3.8zM164.3 620.8l1.9 3.6h-3.8zM117.8 584.6l1.9 3.6h-3.8zM79.9 535.7l1.9 3.6h-3.8zM96.3 519.5l1.9 3.6h-3.8zM97.4 558.7l1.9 3.6h-3.8zM100.1 565.8l1.9 3.6h-3.8zM162.3 621.8l1.9 3.6h-3.8zM140.6 558.4l1.9 3.6h-3.8zM105.7 521.5l1.9 3.6h-3.8zM71.5 523.7l1.9 3.6h-3.8zM78.3 527.3l1.9 3.6h-3.8zM108 525.1l1.9 3.6h-3.8zM113.5 531.7l1.9 3.6h-3.8zM77.9 552.5l1.9 3.6h-3.8zM159.1 562.6l1.9 3.6h-3.8zM189.2 608.7l1.9 3.6h-3.8zM202.8 615.4l1.9 3.6h-3.8zM195.7 625.8l1.9 3.6h-3.8zM183.7 633.7l1.9 3.6h-3.8zM176.6 637.6l1.9 3.6h-3.8zM107.2 578.3l1.9 3.6h-3.8zM113 588.1l1.9 3.6h-3.8zM74.6 520.3l1.9 3.6h-3.8zM86.7 548.3l1.9 3.6h-3.8zM102.7 519.7l1.9 3.6h-3.8zM138.1 542.7l1.9 3.6h-3.8zM148 545.7l1.9 3.6h-3.8zM157.2 550.9l1.9 3.6h-3.8zM158.9 562.7l1.9 3.6h-3.8zM203.2 615.3l1.9 3.6h-3.8zM159 562.9l1.9 3.6h-3.8z" class="r"/>
<path d="M159 611l1.9 3.6h-3.8zM161.6 590.9l1.9 3.6h-3.8zM136.8 580.6l1.9 3.6h-3.8zM168.5 611.8l1.9 3.6h-3.8zM111.8 549.1l1.9 3.6h-3.8zM176.5 596.1l1.9 3.6h-3.8zM167 591.9l1.9 3.6h-3.8zM153.7 599.9l1.9 3.6h-3.8zM160.6 590.5l1.9 3.6h-3.8zM138.6 575.6l1.9 3.6h-3.8zM86 539.1l1.9 3.6h-3.8zM170.1 597.9l1.9 3.6h-3.8zM147.4 592.7l1.9 3.6h-3.8zM118 564.4l1.9 3.6h-3.8zM157.2 578.1l1.9 3.6h-3.8zM148.8 599.2l1.9 3.6h-3.8zM110.9 560l1.9 3.6h-3.8zM155.7 616.8l1.9 3.6h-3.8zM155.7 615.6l1.9 3.6h-3.8zM138.6 571.2l1.9 3.6h-3.8zM157.5 600.7l1.9 3.6h-3.8zM142.6 605.1l1.9 3.6h-3.8zM135 588.1l1.9 3.6h-3.8zM164.9 612.5l1.9 3.6h-3.8zM177.3 616.2l1.9 3.6h-3.8zM160.1 598.7l1.9 3.6h-3.8zM184.6 618.5l1.9 3.6h-3.8zM178.9 596.5l1.9 3.6h-3.8zM184.8 613.5l1.9 3.6h-3.8zM173.2 599.1l1.9 3.6h-3.8zM172.7 585.4l1.9 3.6h-3.8zM125.5 578.7l1.9 3.6h-3.8zM119.1 580.3l1.9 3.6h-3.8zM140.7 563.3l1.9 3.6h-3.8zM156.8 615.9l1.9 3.6h-3.8zM101.3 548.5l1.9 3.6h-3.8zM134.5 567l1.9 3.6h-3.8zM118.8 578.5l1.9 3.6h-3.8zM172.3 587.7l1.9 3.6h-3.8zM132.3 566.7l1.9 3.6h-3.8zM104.1 550l1.9 3.6h-3.8zM110.8 563.3l1.9 3.6h-3.8zM142 596.9l1.9 3.6h-3.8zM186.2 621.8l1.9 3.6h-3.8zM146.7 608.8l1.9 3.6h-3.8zM126.5 580.6l1.9 3.6h-3.8zM138.9 582l1.9 3.6h-3.8zM132.6 591.4l1.9 3.6h-3.8zM107.3 556.4l1.9 3.6h-3.8zM169.7 622.2l1.9 3.6h-3.8zM145.7 580l1.9 3.6h-3.8zM123.2 567.9l1.9 3.6h-3.8zM137.4 567.7l1.9 3.6h-3.8zM131.8 553.1l1.9 3.6h-3.8zM178.3 605.6l1.9 3.6h-3.8zM151.3 602.4l1.9 3.6h-3.8zM161.6 592l1.9 3.6h-3.8zM125.7 573.9l1.9 3.6h-3.8zM97.1 538.1l1.9 3.6h-3.8zM119.8 573.5l1.9 3.6h-3.8zM162.8 587.1l1.9 3.6h-3.8zM178.5 613.5l1.9 3.6h-3.8zM188.2 620.1l1.9 3.6h-3.8zM161.7 588.1l1.9 3.6h-3.8zM115.6 549.7l1.9 3.6h-3.8zM171.2 591.9l1.9 3.6h-3.8zM133.7 564.9l1.9 3.6h-3.8zM143.6 595.7l1.9 3.6h-3.8zM105.5 564.2l1.9 3.6h-3.8zM103.6 555l1.9 3.6h-3.8zM143.5 604l1.9 3.6h-3.8zM154.3 584.1l1.9 3.6h-3.8zM156.7 608.6l1.9 3.6h-3.8zM111.9 568.7l1.9 3.6h-3.8zM169.5 595.5l1.9 3.6h-3.8zM180.2 596.8l1.9 3.6h-3.8zM165.9 596.9l1.9 3.6h-3.8zM139.5 583.1l1.9 3.6h-3.8zM152.3 574.8l1.9 3.6h-3.8zM168.3 603.1l1.9 3.6h-3.8zM105.9 563.5l1.9 3.6h-3.8zM97.2 531.3l1.9 3.6h-3.8zM148.6 588.1l1.9 3.6h-3.8zM87.9 525l1.9 3.6h-3.8zM184.8 615.1l1.9 3.6h-3.8zM106.5 536.9l1.9 3.6h-3.8zM110.8 559.5l1.9 3.6h-3.8zM98.1 540.9l1.9 3.6h-3.8zM171.6 620.6l1.9 3.6h-3.8zM150 592.5l1.9 3.6h-3.8zM96.7 536.5l1.9 3.6h-3.8zM169.9 607.3l1.9 3.6h-3.8zM182.9 611.5l1.9 3.6h-3.8zM110.4 560.7l1.9 3.6h-3.8zM89.6 540.7l1.9 3.6h-3.8zM169.9 603.9l1.9 3.6h-3.8zM179.4 619.2l1.9 3.6h-3.8zM126.6 549.5l1.9 3.6h-3.8zM150.4 574.8l1.9 3.6h-3.8zM166.7 591.4l1.9 3.6h-3.8zM114 572.9l1.9 3.6h-3.8zM117.6 556.4l1.9 3.6h-3.8zM114.5 574.9l1.9 3.6h-3.8zM155.8 605.9l1.9 3.6h-3.8zM123.8 577.3l1.9 3.6h-3.8zM182.9 620.2l1.9 3.6h-3.8zM150.7 606.6l1.9 3.6h-3.8zM102.7 553.9l1.9 3.6h-3.8zM113.4 566.7l1.9 3.6h-3.8zM95.5 523l1.9 3.6h-3.8zM125.8 564.3l1.9 3.6h-3.8zM155.1 592.5l1.9 3.6h-3.8zM136.8 567.9l1.9 3.6h-3.8zM170.6 624.5l1.9 3.6h-3.8zM162.1 597.1l1.9 3.6h-3.8zM149.6 580.2l1.9 3.6h-3.8zM140.9 590.8l1.9 3.6h-3.8zM119.7 584.1l1.9 3.6h-3.8zM179.5 610.5l1.9 3.6h-3.8zM167.7 611.5l1.9 3.6h-3.8zM122.8 558.5l1.9 3.6h-3.8zM127.3 573.2l1.9 3.6h-3.8zM179.6 596.3l1.9 3.6h-3.8zM168.3 598.2l1.9 3.6h-3.8zM115.1 563.4l1.9 3.6h-3.8zM144.6 570.2l1.9 3.6h-3.8zM137.8 599.1l1.9 3.6h-3.8zM142.9 603.2l1.9 3.6h-3.8zM115.4 542.4l1.9 3.6h-3.8zM116.9 574.4l1.9 3.6h-3.8zM117.7 578.9l1.9 3.6h-3.8zM155.1 613.3l1.9 3.6h-3.8zM113 549.4l1.9 3.6h-3.8zM145 599l1.9 3.6h-3.8zM112.1 564.6l1.9 3.6h-3.8zM170.1 602.1l1.9 3.6h-3.8zM128.1 586l1.9 3.6h-3.8zM128.7 564.1l1.9 3.6h-3.8zM140.5 562.9l1.9 3.6h-3.8zM105.5 563.3l1.9 3.6h-3.8zM164.5 586.8l1.9 3.6h-3.8zM139.3 599.2l1.9 3.6h-3.8zM100.1 549.2l1.9 3.6h-3.8zM184 623l1.9 3.6h-3.8zM160.2 610.5l1.9 3.6h-3.8zM153.6 608.1l1.9 3.6h-3.8zM136.8 563.3l1.9 3.6h-3.8zM172.9 609.5l1.9 3.6h-3.8zM140.6 574.4l1.9 3.6h-3.8zM133.3 591.4l1.9 3.6h-3.8zM130.8 580.7l1.9 3.6h-3.8zM106.1 541l1.9 3.6h-3.8zM180 614.6l1.9 3.6h-3.8zM182.7 604.3l1.9 3.6h-3.8zM178.4 615.9l1.9 3.6h-3.8zM134.9 589.1l1.9 3.6h-3.8zM182.8 606l1.9 3.6h-3.8zM123.6 551.9l1.9 3.6h-3.8zM123.8 573.3l1.9 3.6h-3.8zM130.5 553.7l1.9 3.6h-3.8zM141.6 582.6l1.9 3.6h-3.8zM135.4 558.6l1.9 3.6h-3.8zM143.7 592l1.9 3.6h-3.8zM164.2 585.4l1.9 3.6h-3.8zM125 551.8l1.9 3.6h-3.8zM92.8 538.9l1.9 3.6h-3.8zM118.7 568.3l1.9 3.6h-3.8zM98.3 543.9l1.9 3.6h-3.8zM177.8 618.6l1.9 3.6h-3.8zM164.7 617.2l1.9 3.6h-3.8zM117.2 549.7l1.9 3.6h-3.8zM178.9 611.3l1.9 3.6h-3.8zM159.5 617.7l1.9 3.6h-3.8zM175.1 591.7l1.9 3.6h-3.8zM114.9 559.7l1.9 3.6h-3.8zM155.4 611.9l1.9 3.6h-3.8zM179.6 610.2l1.9 3.6h-3.8zM166.3 597.1l1.9 3.6h-3.8zM140.6 581.6l1.9 3.6h-3.8zM146 567.9l1.9 3.6h-3.8zM150.3 578.2l1.9 3.6h-3.8zM119.7 569.8l1.9 3.6h-3.8zM137.1 561.9l1.9 3.6h-3.8zM170.1 618.2l1.9 3.6h-3.8zM156.6 602.6l1.9 3.6h-3.8zM150.1 582.8l1.9 3.6h-3.8zM156.8 578.3l1.9 3.6h-3.8zM115.7 550.6l1.9 3.6h-3.8zM135 592.4l1.9 3.6h-3.8zM112.6 553l1.9 3.6h-3.8zM105 561l1.9 3.6h-3.8zM119.5 577.3l1.9 3.6h-3.8zM172 624.1l1.9 3.6h-3.8zM130.2 553.7l1.9 3.6h-3.8zM116.1 554.8l1.9 3.6h-3.8zM171.1 625l1.9 3.6h-3.8zM132.1 577.2l1.9 3.6h-3.8zM113.1 562.3l1.9 3.6h-3.8zM118.8 556.5l1.9 3.6h-3.8zM116.8 554.3l1.9 3.6h-3.8zM154.9 572.9l1.9 3.6h-3.8zM154.8 600.2l1.9 3.6h-3.8zM158 593.2l1.9 3.6h-3.8zM180.3 608l1.9 3.6h-3.8zM168.5 592.2l1.9 3.6h-3.8zM138.5 565.1l1.9 3.6h-3.8zM161.7 605.8l1.9 3.6h-3.8zM170.3 601.1l1.9 3.6h-3.8zM131.7 562l1.9 3.6h-3.8zM135.3 585l1.9 3.6h-3.8zM177.9 598.2l1.9 3.6h-3.8zM118.9 576l1.9 3.6h-3.8zM93 545.7l1.9 3.6h-3.8zM92.3 541.4l1.9 3.6h-3.8zM166.3 598l1.9 3.6h-3.8zM152 588.4l1.9 3.6h-3.8zM124.2 572.1l1.9 3.6h-3.8zM163.4 615.3l1.9 3.6h-3.8zM174.3 602.6l1.9 3.6h-3.8zM137.1 584.8l1.9 3.6h-3.8zM113.6 550.3l1.9 3.6h-3.8zM175.9 591.7l1.9 3.6h-3.8zM143.8 583l1.9 3.6h-3.8zM145.3 583.7l1.9 3.6h-3.8zM179.3 603.4l1.9 3.6h-3.8zM126.4 581.6l1.9 3.6h-3.8zM144.1 582.9l1.9 3.6h-3.8zM147.9 600l1.9 3.6h-3.8zM122.1 577.9l1.9 3.6h-3.8zM142.3 594.1l1.9 3.6h-3.8zM177 602.5l1.9 3.6h-3.8zM124 584.7l1.9 3.6h-3.8zM185 621.3l1.9 3.6h-3.8zM95 540.5l1.9 3.6h-3.8zM179.4 607.9l1.9 3.6h-3.8zM98.6 544.8l1.9 3.6h-3.8zM146.9 605.5l1.9 3.6h-3.8zM118.6 575l1.9 3.6h-3.8zM156.1 581.4l1.9 3.6h-3.8zM121.1 560.4l1.9 3.6h-3.8zM173.6 594.6l1.9 3.6h-3.8zM180.5 606.1l1.9 3.6h-3.8zM146.4 567.5l1.9 3.6h-3.8zM108.9 553.5l1.9 3.6h-3.8zM165 600.7l1.9 3.6h-3.8zM116.7 575.2l1.9 3.6h-3.8zM133.8 600.3l1.9 3.6h-3.8zM120.7 570.1l1.9 3.6h-3.8zM126.7 586.7l1.9 3.6h-3.8zM104.3 563.6l1.9 3.6h-3.8zM144.1 594.9l1.9 3.6h-3.8zM88.6 542l1.9 3.6h-3.8zM104 545.5l1.9 3.6h-3.8zM155.8 584l1.9 3.6h-3.8zM182.6 601.7l1.9 3.6h-3.8zM111.5 561.7l1.9 3.6h-3.8zM154.2 618l1.9 3.6h-3.8zM98.9 522.1l1.9 3.6h-3.8zM165.5 578.1l1.9 3.6h-3.8zM116 537.2l1.9 3.6h-3.8zM186.6 623.3l1.9 3.6h-3.8zM86.4 519.5l1.9 3.6h-3.8zM133.8 549.6l1.9 3.6h-3.8zM183.1 626.9l1.9 3.6h-3.8zM101.2 563.1l1.9 3.6h-3.8zM188.7 623.3l1.9 3.6h-3.8zM56 505.8l1.9 3.6h-3.8zM110.9 512.7l1.9 3.6h-3.8zM101.1 520l1.9 3.6h-3.8zM106.6 519.3l1.9 3.6h-3.8zM69.7 532.4l1.9 3.6h-3.8zM75.1 535.7l1.9 3.6h-3.8zM104.8 527.3l1.9 3.6h-3.8zM118.4 539.8l1.9 3.6h-3.8zM124.9 541.6l1.9 3.6h-3.8zM140.8 552.1l1.9 3.6h-3.8zM161.8 572.2l1.9 3.6h-3.8zM174.9 577.9l1.9 3.6h-3.8zM179.8 580.5l1.9 3.6h-3.8zM188.6 586.2l1.9 3.6h-3.8zM189.2 608.6l1.9 3.6h-3.8zM189.2 593.4l1.9 3.6h-3.8zM189.7 628l1.9 3.6h-3.8zM188.1 632.8l1.9 3.6h-3.8zM190.8 632.4l1.9 3.6h-3.8zM187.5 641.6l1.9 3.6h-3.8zM90.8 550.6l1.9 3.6h-3.8zM105.4 573.6l1.9 3.6h-3.8zM113.6 597.5l1.9 3.6h-3.8zM69.6 532.5l1.9 3.6h-3.8zM103.7 573.7l1.9 3.6h-3.8zM102.4 582.5l1.9 3.6h-3.8zM135.9 605.2l1.9 3.6h-3.8zM112.5 532.5l1.9 3.6h-3.8zM144.7 557.1l1.9 3.6h-3.8zM176.5 637.7l1.9 3.6h-3.8zM191.8 643l1.9 3.6h-3.8zM206.5 645.6l1.9 3.6h-3.8zM196.6 612.7l1.9 3.6h-3.8z" class="r"/>
<path d="M180 605l1.9 3.6h-3.8zM90.7 532.9l1.9 3.6h-3.8zM131.3 573.9l1.9 3.6h-3.8zM113 547.9l1.9 3.6h-3.8zM152.6 578l1.9 3.6h-3.8zM140.9 563.8l1.9 3.6h-3.8zM149.5 576.5l1.9 3.6h-3.8zM124.6 573.5l1.9 3.6h-3.8zM185.3 620.4l1.9 3.6h-3.8zM129.2 564.3l1.9 3.6h-3.8zM182.6 599.8l1.9 3.6h-3.8zM149.8 582.9l1.9 3.6h-3.8zM144.5 583l1.9 3.6h-3.8zM140.1 580.1l1.9 3.6h-3.8zM107.8 555.7l1.9 3.6h-3.8zM130.7 572.7l1.9 3.6h-3.8zM133 571.3l1.9 3.6h-3.8zM122.7 557.2l1.9 3.6h-3.8zM146.5 579.6l1.9 3.6h-3.8zM114.9 546.6l1.9 3.6h-3.8zM150.9 581.8l1.9 3.6h-3.8zM118.6 565.8l1.9 3.6h-3.8zM167.4 583l1.9 3.6h-3.8zM118.9 561l1.9 3.6h-3.8zM166.8 593.5l1.9 3.6h-3.8zM122.7 562.9l1.9 3.6h-3.8zM159.1 616.6l1.9 3.6h-3.8zM155.4 608.9l1.9 3.6h-3.8zM170.8 589.3l1.9 3.6h-3.8zM164.7 596.9l1.9 3.6h-3.8zM172.5 617.4l1.9 3.6h-3.8zM146 586.1l1.9 3.6h-3.8zM147.6 601.6l1.9 3.6h-3.8zM170.8 611.8l1.9 3.6h-3.8zM183.3 622.8l1.9 3.6h-3.8zM138.6 578.1l1.9 3.6h-3.8zM126.2 584.5l1.9 3.6h-3.8zM133.8 572.1l1.9 3.6h-3.8zM145.5 584l1.9 3.6h-3.8zM181.8 604.4l1.9 3.6h-3.8zM98.8 547.1l1.9 3.6h-3.8zM188.2 616.7l1.9 3.6h-3.8zM138.4 594.3l1.9 3.6h-3.8zM142.8 568.6l1.9 3.6h-3.8zM111.1 550.6l1.9 3.6h-3.8zM149 597.5l1.9 3.6h-3.8zM137.1 574.5l1.9 3.6h-3.8zM161.8 583.5l1.9 3.6h-3.8zM119.1 573l1.9 3.6h-3.8zM141.5 585.5l1.9 3.6h-3.8zM123.8 581l1.9 3.6h-3.8zM181.2 622.8l1.9 3.6h-3.8zM179.2 608.2l1.9 3.6h-3.8zM175.9 611.4l1.9 3.6h-3.8zM113.7 571.2l1.9 3.6h-3.8zM110.6 546.3l1.9 3.6h-3.8zM119.2 551.5l1.9 3.6h-3.8zM141.7 580.7l1.9 3.6h-3.8zM162.3 602.5l1.9 3.6h-3.8zM175.7 618.1l1.9 3.6h-3.8zM155.1 578.3l1.9 3.6h-3.8zM92.6 535l1.9 3.6h-3.8zM93.7 534l1.9 3.6h-3.8zM139.6 572.1l1.9 3.6h-3.8zM131.4 568.7l1.9 3.6h-3.8zM107.1 556l1.9 3.6h-3.8zM130 559.9l1.9 3.6h-3.8zM133.8 556.6l1.9 3.6h-3.8zM161.6 586.9l1.9 3.6h-3.8zM166.1 590.8l1.9 3.6h-3.8zM84.8 534.6l1.9 3.6h-3.8zM113.6 575.7l1.9 3.6h-3.8zM116.4 571.1l1.9 3.6h-3.8zM145.4 571.5l1.9 3.6h-3.8zM140.3 562.3l1.9 3.6h-3.8zM174 620.6l1.9 3.6h-3.8zM107.7 551.4l1.9 3.6h-3.8zM131.8 575.5l1.9 3.6h-3.8zM161.1 616l1.9 3.6h-3.8zM155.9 581.8l1.9 3.6h-3.8zM165.2 582.6l1.9 3.6h-3.8zM144.1 581.2l1.9 3.6h-3.8zM132.1 598.7l1.9 3.6h-3.8zM127.7 588.2l1.9 3.6h-3.8zM126.3 581.3l1.9 3.6h-3.8zM95.5 546.9l1.9 3.6h-3.8zM113.8 551.7l1.9 3.6h-3.8zM112.8 541.9l1.9 3.6h-3.8zM126.1 551l1.9 3.6h-3.8zM159.6 606.8l1.9 3.6h-3.8zM175.5 600.4l1.9 3.6h-3.8zM96 533.8l1.9 3.6h-3.8zM100.3 536.5l1.9 3.6h-3.8zM169.6 590.9l1.9 3.6h-3.8zM114 543.9l1.9 3.6h-3.8zM131.7 595.7l1.9 3.6h-3.8zM174.2 593.3l1.9 3.6h-3.8zM124.5 553.7l1.9 3.6h-3.8zM115 557.2l1.9 3.6h-3.8zM116 544.6l1.9 3.6h-3.8zM139.8 568.3l1.9 3.6h-3.8zM106.5 556.6l1.9 3.6h-3.8zM152.8 583.7l1.9 3.6h-3.8zM183 612.2l1.9 3.6h-3.8zM166.9 622.4l1.9 3.6h-3.8zM174.1 596.2l1.9 3.6h-3.8zM106.9 543.1l1.9 3.6h-3.8zM111.4 564l1.9 3.6h-3.8zM127.6 572.5l1.9 3.6h-3.8zM157.4 613.6l1.9 3.6h-3.8zM132.2 595.1l1.9 3.6h-3.8zM129.5 583.9l1.9 3.6h-3.8zM109.5 549.4l1.9 3.6h-3.8zM168.5 586.6l1.9 3.6h-3.8zM144 607.3l1.9 3.6h-3.8zM152.2 605.8l1.9 3.6h-3.8zM138.6 571.9l1.9 3.6h-3.8zM165.5 610.1l1.9 3.6h-3.8zM101.1 543.5l1.9 3.6h-3.8zM173.1 603.7l1.9 3.6h-3.8zM165.7 591l1.9 3.6h-3.8zM161.4 596.8l1.9 3.6h-3.8zM184.4 617.3l1.9 3.6h-3.8zM142.1 576.3l1.9 3.6h-3.8zM118.7 556.1l1.9 3.6h-3.8zM152.6 588.9l1.9 3.6h-3.8zM141.9 587l1.9 3.6h-3.8zM153.3 574.1l1.9 3.6h-3.8zM126.5 579.9l1.9 3.6h-3.8zM150.2 606.8l1.9 3.6h-3.8zM182.3 604l1.9 3.6h-3.8zM101.7 538.1l1.9 3.6h-3.8zM139.8 587.5l1.9 3.6h-3.8zM164.6 597l1.9 3.6h-3.8zM162.7 619.4l1.9 3.6h-3.8zM176.3 608.6l1.9 3.6h-3.8zM184.2 621.7l1.9 3.6h-3.8zM92.2 524.7l1.9 3.6h-3.8zM136.6 580.7l1.9 3.6h-3.8zM134.5 557.7l1.9 3.6h-3.8zM140.4 600.7l1.9 3.6h-3.8zM163.3 591.8l1.9 3.6h-3.8zM171.9 611.5l1.9 3.6h-3.8zM115.6 573.2l1.9 3.6h-3.8zM168.2 610.3l1.9 3.6h-3.8zM176.8 611.1l1.9 3.6h-3.8zM120.6 557.4l1.9 3.6h-3.8zM165.3 583.1l1.9 3.6h-3.8zM171.8 613.6l1.9 3.6h-3.8zM99.6 552.9l1.9 3.6h-3.8zM148.9 597.6l1.9 3.6h-3.8zM168.3 623.3l1.9 3.6h-3.8zM108.2 547.8l1.9 3.6h-3.8zM182.5 613l1.9 3.6h-3.8zM117.3 548.4l1.9 3.6h-3.8zM106.3 556.8l1.9 3.6h-3.8zM152 603.1l1.9 3.6h-3.8zM153.7 587l1.9 3.6h-3.8zM115.9 546.7l1.9 3.6h-3.8zM150.6 612.7l1.9 3.6h-3.8zM115.9 543.4l1.9 3.6h-3.8zM157.4 615.3l1.9 3.6h-3.8zM112.2 546.1l1.9 3.6h-3.8zM112.5 557.1l1.9 3.6h-3.8zM159.3 583.2l1.9 3.6h-3.8zM153.4 600.5l1.9 3.6h-3.8zM131 583.9l1.9 3.6h-3.8zM184.6 609.6l1.9 3.6h-3.8zM147.8 607.2l1.9 3.6h-3.8zM139.7 566.5l1.9 3.6h-3.8zM140.4 573.7l1.9 3.6h-3.8zM117.6 558l1.9 3.6h-3.8zM149.2 605.7l1.9 3.6h-3.8zM158.5 580.3l1.9 3.6h-3.8zM159.1 615.9l1.9 3.6h-3.8zM178.7 622.7l1.9 3.6h-3.8zM169.4 606.3l1.9 3.6h-3.8zM122.7 569.4l1.9 3.6h-3.8zM165.5 614.6l1.9 3.6h-3.8zM131.6 558.1l1.9 3.6h-3.8zM105.5 552.1l1.9 3.6h-3.8zM135.8 561.1l1.9 3.6h-3.8zM93.3 525.6l1.9 3.6h-3.8zM101.2 542.4l1.9 3.6h-3.8zM112.6 557.3l1.9 3.6h-3.8zM175.4 592.1l1.9 3.6h-3.8zM170.7 616.8l1.9 3.6h-3.8zM123 573.4l1.9 3.6h-3.8zM172.2 605.5l1.9 3.6h-3.8zM99.9 547.1l1.9 3.6h-3.8zM145.8 583.3l1.9 3.6h-3.8zM92.3 523.8l1.9 3.6h-3.8zM154.4 591.1l1.9 3.6h-3.8zM167.7 603.2l1.9 3.6h-3.8zM168.8 618.4l1.9 3.6h-3.8zM145.2 565.5l1.9 3.6h-3.8zM145.4 578l1.9 3.6h-3.8zM117.8 568.7l1.9 3.6h-3.8zM127.1 559.4l1.9 3.6h-3.8zM127.5 551.7l1.9 3.6h-3.8zM97.7 551.3l1.9 3.6h-3.8zM122.2 551.5l1.9 3.6h-3.8zM114.8 549.9l1.9 3.6h-3.8zM176.2 618.4l1.9 3.6h-3.8zM156.1 582.1l1.9 3.6h-3.8zM160 582.8l1.9 3.6h-3.8zM115.5 548.7l1.9 3.6h-3.8zM142.7 584.6l1.9 3.6h-3.8zM157.1 599.5l1.9 3.6h-3.8zM177.4 608.6l1.9 3.6h-3.8zM129.5 552.4l1.9 3.6h-3.8zM169.5 611.4l1.9 3.6h-3.8zM152.3 583.7l1.9 3.6h-3.8zM181.9 597.2l1.9 3.6h-3.8zM137.2 584.6l1.9 3.6h-3.8zM140.7 584.5l1.9 3.6h-3.8zM162.8 607.6l1.9 3.6h-3.8zM104.8 539.7l1.9 3.6h-3.8zM113.4 543.6l1.9 3.6h-3.8zM165.5 604.9l1.9 3.6h-3.8zM118.7 559.6l1.9 3.6h-3.8zM95.5 543.1l1.9 3.6h-3.8zM133.5 567l1.9 3.6h-3.8zM157 576.8l1.9 3.6h-3.8zM178.7 603.2l1.9 3.6h-3.8zM121.8 548.4l1.9 3.6h-3.8zM143 576.3l1.9 3.6h-3.8zM142.5 599.8l1.9 3.6h-3.8zM109.3 543.6l1.9 3.6h-3.8zM182.4 609.4l1.9 3.6h-3.8zM92.1 539.1l1.9 3.6h-3.8zM106.2 544.4l1.9 3.6h-3.8zM124.8 562.6l1.9 3.6h-3.8zM119 574.3l1.9 3.6h-3.8zM171.8 616.1l1.9 3.6h-3.8zM126.8 581.6l1.9 3.6h-3.8zM139.6 578.9l1.9 3.6h-3.8zM164.5 592.6l1.9 3.6h-3.8zM117.5 555.3l1.9 3.6h-3.8zM123.5 564.3l1.9 3.6h-3.8zM162.4 584.2l1.9 3.6h-3.8zM113.3 560.7l1.9 3.6h-3.8zM173.4 603.2l1.9 3.6h-3.8zM159.5 604l1.9 3.6h-3.8zM174.5 607l1.9 3.6h-3.8zM141.1 582.2l1.9 3.6h-3.8zM117.7 569.7l1.9 3.6h-3.8zM161.6 584.4l1.9 3.6h-3.8zM160.8 596.5l1.9 3.6h-3.8zM124.4 568.5l1.9 3.6h-3.8zM162.1 581.9l1.9 3.6h-3.8zM133.3 560.7l1.9 3.6h-3.8zM91 534.7l1.9 3.6h-3.8zM154.7 598.2l1.9 3.6h-3.8zM177.8 610l1.9 3.6h-3.8zM163 602.3l1.9 3.6h-3.8zM165.2 601.4l1.9 3.6h-3.8zM172.3 619.5l1.9 3.6h-3.8zM172.7 600.5l1.9 3.6h-3.8zM146.2 598.7l1.9 3.6h-3.8zM146.3 568.2l1.9 3.6h-3.8zM159.6 593.2l1.9 3.6h-3.8zM136.3 566.2l1.9 3.6h-3.8zM171.6 592.4l1.9 3.6h-3.8zM182.9 600.6l1.9 3.6h-3.8zM146.3 570.3l1.9 3.6h-3.8zM114.6 556.3l1.9 3.6h-3.8zM156.9 616.9l1.9 3.6h-3.8zM121.6 584.1l1.9 3.6h-3.8zM175.6 610l1.9 3.6h-3.8zM192.5 612.4l1.9 3.6h-3.8zM115.4 579.8l1.9 3.6h-3.8zM148.1 612.1l1.9 3.6h-3.8zM148.6 561.6l1.9 3.6h-3.8zM157.8 621.8l1.9 3.6h-3.8zM121.7 590.3l1.9 3.6h-3.8zM129.8 599.2l1.9 3.6h-3.8zM105.8 571.2l1.9 3.6h-3.8zM170.6 626.8l1.9 3.6h-3.8zM89.9 546.5l1.9 3.6h-3.8zM164.1 578.8l1.9 3.6h-3.8zM159 568l1.9 3.6h-3.8zM171.3 628.3l1.9 3.6h-3.8zM79.2 515.8l1.9 3.6h-3.8zM116.2 534.6l1.9 3.6h-3.8zM142.6 561.7l1.9 3.6h-3.8zM176.6 574.8l1.9 3.6h-3.8zM178.2 584.5l1.9 3.6h-3.8zM156.9 635.9l1.9 3.6h-3.8zM182.6 629.3l1.9 3.6h-3.8zM189.2 645.1l1.9 3.6h-3.8zM78.2 553.6l1.9 3.6h-3.8zM102.9 582.5l1.9 3.6h-3.8zM110.7 582.9l1.9 3.6h-3.8zM71.4 523.8l1.9 3.6h-3.8zM166.6 633.3l1.9 3.6h-3.8zM189.6 645.6l1.9 3.6h-3.8zM195.1 622.8l1.9 3.6h-3.8zM206.7 616.3l1.9 3.6h-3.8zM207.1 621.6l1.9 3.6h-3.8zM209.3 632.4l1.9 3.6h-3.8zM189.2 608.8l1.9 3.6h-3.8zM189 592.7l1.9 3.6h-3.8zM189 586l1.9 3.6h-3.8zM184.2 660.5l1.9 3.6h-3.8z" class="r"/>
</g>
<rect x="48.5" y="499.5" width="183.0" height="183.0" fill="none" stroke="#1a1a1a" stroke-width="1.1"/>
<line x1="42.5" y1="548.5" x2="48.5" y2="548.5" stroke="#1a1a1a" stroke-width="1.1"/>
<text x="38.6" y="551.7" text-anchor="end" font-size="12.2">1</text>
<line x1="42.5" y1="632.5" x2="48.5" y2="632.5" stroke="#1a1a1a" stroke-width="1.1"/>
<text x="38.6" y="636.2" text-anchor="end" font-size="12.2">0.1</text>
<line x1="69.5" y1="682.5" x2="69.5" y2="688.0" stroke="#1a1a1a" stroke-width="1.1"/>
<text x="69.2" y="700.0" text-anchor="middle" font-size="12.3">1e-05</text>
<line x1="116.5" y1="682.5" x2="116.5" y2="688.0" stroke="#1a1a1a" stroke-width="1.1"/>
<text x="116.8" y="700.0" text-anchor="middle" font-size="12.3">0.0001</text>
<line x1="164.5" y1="682.5" x2="164.5" y2="688.0" stroke="#1a1a1a" stroke-width="1.1"/>
<text x="164.7" y="700.0" text-anchor="middle" font-size="12.3">0.001</text>
<line x1="212.5" y1="682.5" x2="212.5" y2="688.0" stroke="#1a1a1a" stroke-width="1.1"/>
<text x="212.3" y="700.0" text-anchor="middle" font-size="12.3">0.01</text>
<text x="46.3" y="492.4" font-size="16" font-weight="bold">G</text>
<text x="231.8" y="492.4" text-anchor="end" font-size="14.6">OTUs vs ECs</text>
<text transform="translate(9.9 604.4) rotate(-90)" text-anchor="middle" font-size="13.7">coefficient of variation</text>
<text x="135.7" y="721" text-anchor="middle" font-size="13.6">mean relative abundance</text>
<clipPath id="cH"><rect x="272.5" y="499.5" width="184.0" height="183.0"/></clipPath>
<g clip-path="url(#cH)">
<path d="M324.5 506.8h0M360.6 519.4h0M358.9 528.5h0M351.4 533h0M362.9 532.6h0M364 539.8h0M368.7 541.3h0M371 543.6h0M346.5 545.1h0M350.2 541.3h0M354.8 545.1h0M360.6 547.4h0M363.5 550.4h0M373.3 558h0M385.9 543.6h0M385.9 551.9h0M403.2 563.7h0M396.9 569.3h0M418.6 569.6h0M438.2 570.7h0M401.5 580.4h0M411.3 581h0" class="b"/>
<path d="M370.4 508.5h0M375.6 513.8h0M345.3 522.4h0M355.4 527.7h0M376.7 530h0M353.4 532.3h0M356 532.3h0M376.7 534.1h0M350.2 536h0M364 539.8h0M354 544.7h0M369.2 547.4h0M360 557.2h0M377.3 554.2h0M384 507.3h0M396.3 541.3h0M395.7 545.6h0M393.7 565.8h0M433 565.2h0M442.4 580.2h0M403.8 576.9h0M434.4 596.9h0M448.8 606.1h0" class="b"/>
<path d="M319.1 506.8h0M370.4 508.5h0M377.3 508.8h0M350.4 513.5h0M361.2 521.2h0M348.5 527.7h0M355.4 527.7h0M363.8 526.7h0M374.4 534.1h0M342.4 535.3h0M353.7 536.8h0M376.1 539.8h0M336.6 540.1h0M360.6 547.4h0M372.1 549.2h0M375.6 548.9h0M377.9 544.4h0M366.1 553.4h0M371.5 556.5h0M372.3 565.5h0M384.8 535.3h0M394.4 530h0M393.4 536h0M385.4 541.3h0M389.4 556.2h0M391.1 559.5h0M384.8 564.8h0M385.4 566.3h0M391.1 564h0M402.1 557.2h0M384.6 574.9h0M417.9 573.4h0M433.8 585.5h0" class="b"/>
<path d="M311 506.8h0M367.3 506.8h0M367.3 506.8h0M376.7 506.8h0M372.7 517.6h0M330.6 520.1h0M341.8 519.8h0M345.6 531h0M365.2 535.3h0M369.8 535.6h0M347.3 538.3h0M351.4 542.8h0M376.7 552.7h0M363.8 562.2h0M365.2 565.5h0M376.7 561.8h0M378.5 563.3h0M385.4 508.3h0M387.1 516.1h0M385.1 529.5h0M382.5 532.3h0M381.9 536h0M396.3 539.8h0M409.8 540.3h0M388.3 544.4h0M380.8 561h0M381.9 562.5h0M399.8 564h0M403.2 563.7h0M404.4 564h0M430.7 566.3h0M420.5 582.2h0" class="b"/>
<path d="M379 510.3h0M376.4 519.8h0M344.4 527h0M357.1 529.2h0M378.5 528.9h0M348.1 532.6h0M360.6 533h0M366.9 536.8h0M378.5 541.3h0M347.3 548.1h0M379 547.4h0M366.1 553.4h0M378.5 563.3h0M384.2 533h0M387.7 538h0M396.3 539.8h0M380.8 548.1h0M388.6 548.1h0M408.7 549.7h0M383.1 552.7h0M390.6 556.5h0M392.9 556.2h0M383.6 558h0M388.3 565.2h0M402.7 560.2h0M394.9 573.1h0M405.2 578.4h0" class="b"/>
<path d="M347.7 506.8h0M353.4 506.8h0M353.4 506.8h0M323.3 514.7h0M366 515.6h0M336.4 519.8h0M358.9 518.3h0M336.4 534.5h0M338.1 533.8h0M357.7 538h0M366.3 542.1h0M362.3 548.1h0M367.5 545.9h0M379 565.5h0M375 576.1h0M384.2 528h0M395.7 536.8h0M400.7 540.3h0M404.7 541h0M392.3 544.7h0M384.8 554.2h0M395.2 553.4h0M387.1 569.3h0M391.5 585.2h0" class="b"/>
<path d="M363.2 611l1.9 3.6h-3.8zM325.4 549.1l1.9 3.6h-3.8zM371 613l1.9 3.6h-3.8zM326.4 547.9l1.9 3.6h-3.8zM318.9 535.4l1.9 3.6h-3.8zM346.8 575.6l1.9 3.6h-3.8zM339.3 564.3l1.9 3.6h-3.8zM375 605.8l1.9 3.6h-3.8zM339 567.7l1.9 3.6h-3.8zM349.3 575.3l1.9 3.6h-3.8zM346.9 571.2l1.9 3.6h-3.8zM322.2 555.7l1.9 3.6h-3.8zM340.6 572.7l1.9 3.6h-3.8zM353.1 579.6l1.9 3.6h-3.8zM336.8 580.7l1.9 3.6h-3.8zM356.7 581.8l1.9 3.6h-3.8zM319 557.5l1.9 3.6h-3.8zM349.3 601.8l1.9 3.6h-3.8zM379.1 596.5l1.9 3.6h-3.8zM331.1 561l1.9 3.6h-3.8zM373.1 619.3l1.9 3.6h-3.8zM374.2 585.4l1.9 3.6h-3.8zM345.7 565.5l1.9 3.6h-3.8zM377.3 607.8l1.9 3.6h-3.8zM334.1 562.9l1.9 3.6h-3.8zM331.2 580.3l1.9 3.6h-3.8zM320.2 549.8l1.9 3.6h-3.8zM378.8 607.9l1.9 3.6h-3.8zM341.8 566.7l1.9 3.6h-3.8zM366.1 606.1l1.9 3.6h-3.8zM344.2 569.9l1.9 3.6h-3.8zM364.3 598l1.9 3.6h-3.8zM383.4 617.8l1.9 3.6h-3.8zM326.7 567.5l1.9 3.6h-3.8zM333.1 577.2l1.9 3.6h-3.8zM373.1 606.5l1.9 3.6h-3.8zM333.2 579.5l1.9 3.6h-3.8zM354.1 601.6l1.9 3.6h-3.8zM377.4 618.4l1.9 3.6h-3.8zM348.2 601.8l1.9 3.6h-3.8zM360.1 583.7l1.9 3.6h-3.8zM335.4 561.9l1.9 3.6h-3.8zM384.7 615.6l1.9 3.6h-3.8zM325.4 551.5l1.9 3.6h-3.8zM338.1 565.7l1.9 3.6h-3.8zM352.4 584l1.9 3.6h-3.8zM339.4 575.1l1.9 3.6h-3.8zM352.5 580l1.9 3.6h-3.8zM343.2 566.2l1.9 3.6h-3.8zM370.2 611.3l1.9 3.6h-3.8zM365.2 592l1.9 3.6h-3.8zM375.5 595.9l1.9 3.6h-3.8zM345.7 574.5l1.9 3.6h-3.8zM323 559.3l1.9 3.6h-3.8zM343.2 589.3l1.9 3.6h-3.8zM356.3 585.3l1.9 3.6h-3.8zM337.2 560.1l1.9 3.6h-3.8zM363.6 583.6l1.9 3.6h-3.8zM328.4 549.7l1.9 3.6h-3.8zM325.5 564.7l1.9 3.6h-3.8zM353 576.2l1.9 3.6h-3.8zM376.7 611.4l1.9 3.6h-3.8zM361.9 611.7l1.9 3.6h-3.8zM324.4 546.3l1.9 3.6h-3.8zM318.3 537.6l1.9 3.6h-3.8zM330.6 573.8l1.9 3.6h-3.8zM320.4 564.2l1.9 3.6h-3.8zM318.8 555l1.9 3.6h-3.8zM339.2 575l1.9 3.6h-3.8zM360.1 578.3l1.9 3.6h-3.8zM351.1 573.1l1.9 3.6h-3.8zM356 583.6l1.9 3.6h-3.8zM332.4 563.9l1.9 3.6h-3.8zM347.3 595.1l1.9 3.6h-3.8zM319.8 565.2l1.9 3.6h-3.8zM369.8 613.6l1.9 3.6h-3.8zM343 556.6l1.9 3.6h-3.8zM357.7 583.6l1.9 3.6h-3.8zM372.7 591.9l1.9 3.6h-3.8zM374.6 624.7l1.9 3.6h-3.8zM381.4 622.1l1.9 3.6h-3.8zM348.5 561.2l1.9 3.6h-3.8zM354.5 584.7l1.9 3.6h-3.8zM371.6 595.5l1.9 3.6h-3.8zM368.7 596.9l1.9 3.6h-3.8zM373.6 595.6l1.9 3.6h-3.8zM313.9 544.1l1.9 3.6h-3.8zM357.6 610.1l1.9 3.6h-3.8zM335.8 562l1.9 3.6h-3.8zM322.1 551.4l1.9 3.6h-3.8zM363.9 599.7l1.9 3.6h-3.8zM360.7 581.8l1.9 3.6h-3.8zM341.7 598.7l1.9 3.6h-3.8zM355.2 599.8l1.9 3.6h-3.8zM374.8 622.7l1.9 3.6h-3.8zM383.8 615.1l1.9 3.6h-3.8zM358.7 592.1l1.9 3.6h-3.8zM368 587.5l1.9 3.6h-3.8zM364.6 577.5l1.9 3.6h-3.8zM371.8 597.4l1.9 3.6h-3.8zM333 563.7l1.9 3.6h-3.8zM361.9 588.6l1.9 3.6h-3.8zM376.3 600.4l1.9 3.6h-3.8zM325.7 556.8l1.9 3.6h-3.8zM380.8 616.3l1.9 3.6h-3.8zM344.1 562.8l1.9 3.6h-3.8zM308.1 524.4l1.9 3.6h-3.8zM342.1 587.1l1.9 3.6h-3.8zM345.8 580.8l1.9 3.6h-3.8zM359.6 604l1.9 3.6h-3.8zM341.4 595.7l1.9 3.6h-3.8zM379 607.8l1.9 3.6h-3.8zM344.2 593.6l1.9 3.6h-3.8zM380.7 613.1l1.9 3.6h-3.8zM363.5 580.6l1.9 3.6h-3.8zM316.8 558.5l1.9 3.6h-3.8zM330 556.4l1.9 3.6h-3.8zM356.5 611l1.9 3.6h-3.8zM339.6 583.9l1.9 3.6h-3.8zM323.5 549.4l1.9 3.6h-3.8zM368.6 600.8l1.9 3.6h-3.8zM370.7 586.6l1.9 3.6h-3.8zM350.9 583.8l1.9 3.6h-3.8zM316.9 543.5l1.9 3.6h-3.8zM348.3 600.3l1.9 3.6h-3.8zM329.6 545.5l1.9 3.6h-3.8zM383.5 617.3l1.9 3.6h-3.8zM318.8 553.1l1.9 3.6h-3.8zM329.8 573.8l1.9 3.6h-3.8zM334.2 558.5l1.9 3.6h-3.8zM352.8 591.4l1.9 3.6h-3.8zM333.5 585.9l1.9 3.6h-3.8zM329.2 543.1l1.9 3.6h-3.8zM368.7 603.1l1.9 3.6h-3.8zM381.8 604l1.9 3.6h-3.8zM317.3 538.1l1.9 3.6h-3.8zM350.3 603.2l1.9 3.6h-3.8zM382.7 612.6l1.9 3.6h-3.8zM372.1 608l1.9 3.6h-3.8zM307.8 529.5l1.9 3.6h-3.8zM338.2 566l1.9 3.6h-3.8zM384.9 621.1l1.9 3.6h-3.8zM334.6 574.8l1.9 3.6h-3.8zM329.5 574.4l1.9 3.6h-3.8zM330.1 578.9l1.9 3.6h-3.8zM370.4 590.2l1.9 3.6h-3.8zM348.6 564.7l1.9 3.6h-3.8zM336.1 551.4l1.9 3.6h-3.8zM337 551.6l1.9 3.6h-3.8zM331.5 555.3l1.9 3.6h-3.8zM338.9 564.1l1.9 3.6h-3.8zM362.2 585.6l1.9 3.6h-3.8zM355.2 593.6l1.9 3.6h-3.8zM366.6 591.8l1.9 3.6h-3.8zM374.7 590.4l1.9 3.6h-3.8zM358.8 608.1l1.9 3.6h-3.8zM319.2 555.4l1.9 3.6h-3.8zM330.1 567.5l1.9 3.6h-3.8zM355.1 597.6l1.9 3.6h-3.8zM339.7 584.2l1.9 3.6h-3.8zM352 592.8l1.9 3.6h-3.8zM375.5 606.4l1.9 3.6h-3.8zM340.6 580.7l1.9 3.6h-3.8zM315.5 540.6l1.9 3.6h-3.8zM320.9 541l1.9 3.6h-3.8zM384.5 613.6l1.9 3.6h-3.8zM329.8 548.4l1.9 3.6h-3.8zM361.4 578.8l1.9 3.6h-3.8zM333 576.2l1.9 3.6h-3.8zM356 588.3l1.9 3.6h-3.8zM350.2 580.9l1.9 3.6h-3.8zM335 573.3l1.9 3.6h-3.8zM341.6 562.4l1.9 3.6h-3.8zM332.2 575.4l1.9 3.6h-3.8zM379.1 624l1.9 3.6h-3.8zM344.4 559.8l1.9 3.6h-3.8zM380.6 618.6l1.9 3.6h-3.8zM344.3 558.6l1.9 3.6h-3.8zM325.9 557.1l1.9 3.6h-3.8zM325.5 566l1.9 3.6h-3.8zM373.7 601.3l1.9 3.6h-3.8zM330.9 568.3l1.9 3.6h-3.8zM369.9 619.2l1.9 3.6h-3.8zM336.7 556.5l1.9 3.6h-3.8zM344.5 560.9l1.9 3.6h-3.8zM367.7 617.2l1.9 3.6h-3.8zM383.9 622.2l1.9 3.6h-3.8zM383.6 609.6l1.9 3.6h-3.8zM349.2 576.9l1.9 3.6h-3.8zM331.4 552.3l1.9 3.6h-3.8zM345.6 594.8l1.9 3.6h-3.8zM339.1 591.9l1.9 3.6h-3.8zM347 585l1.9 3.6h-3.8zM363.6 617.7l1.9 3.6h-3.8zM362.8 580.3l1.9 3.6h-3.8zM365.7 586.6l1.9 3.6h-3.8zM326.6 546.3l1.9 3.6h-3.8zM371.5 606.3l1.9 3.6h-3.8zM334.1 569.4l1.9 3.6h-3.8zM379.7 610.2l1.9 3.6h-3.8zM346.7 567.4l1.9 3.6h-3.8zM316.9 542.4l1.9 3.6h-3.8zM331.7 569.8l1.9 3.6h-3.8zM314.1 537.9l1.9 3.6h-3.8zM362.3 593.1l1.9 3.6h-3.8zM340.7 592.6l1.9 3.6h-3.8zM372.5 584.1l1.9 3.6h-3.8zM354.3 588.2l1.9 3.6h-3.8zM351.5 577.3l1.9 3.6h-3.8zM363 594l1.9 3.6h-3.8zM351.4 586.3l1.9 3.6h-3.8zM368.8 608.5l1.9 3.6h-3.8zM340.8 597.8l1.9 3.6h-3.8zM364.9 586.2l1.9 3.6h-3.8zM346.3 567.6l1.9 3.6h-3.8zM352.6 583.3l1.9 3.6h-3.8zM328.9 554.8l1.9 3.6h-3.8zM343.7 587.4l1.9 3.6h-3.8zM369.9 591.4l1.9 3.6h-3.8zM371.6 623.9l1.9 3.6h-3.8zM338.7 575.8l1.9 3.6h-3.8zM338.4 589.2l1.9 3.6h-3.8zM333.7 551.5l1.9 3.6h-3.8zM326.8 570.4l1.9 3.6h-3.8zM329.4 554.3l1.9 3.6h-3.8zM362.5 602.8l1.9 3.6h-3.8zM364 582.8l1.9 3.6h-3.8zM361.3 603.3l1.9 3.6h-3.8zM315.4 543l1.9 3.6h-3.8zM361.7 599.5l1.9 3.6h-3.8zM371.2 598.1l1.9 3.6h-3.8zM383.2 617l1.9 3.6h-3.8zM334.3 567.5l1.9 3.6h-3.8zM320.9 556.9l1.9 3.6h-3.8zM339.5 552.4l1.9 3.6h-3.8zM371.6 611.4l1.9 3.6h-3.8zM345.5 580.2l1.9 3.6h-3.8zM354.8 569.8l1.9 3.6h-3.8zM369.3 596.8l1.9 3.6h-3.8zM378.3 598.2l1.9 3.6h-3.8zM335.1 573.2l1.9 3.6h-3.8zM356.3 584l1.9 3.6h-3.8zM333.4 548.4l1.9 3.6h-3.8zM344.3 562.8l1.9 3.6h-3.8zM309.6 539.1l1.9 3.6h-3.8zM373.7 589.2l1.9 3.6h-3.8zM320.9 544.4l1.9 3.6h-3.8zM351 583l1.9 3.6h-3.8zM341.6 560.7l1.9 3.6h-3.8zM339.2 556.7l1.9 3.6h-3.8zM354.3 600l1.9 3.6h-3.8zM366.4 599.2l1.9 3.6h-3.8zM341.7 593.2l1.9 3.6h-3.8zM347.6 564.4l1.9 3.6h-3.8zM338.4 585.7l1.9 3.6h-3.8zM341.3 561.4l1.9 3.6h-3.8zM326 567.3l1.9 3.6h-3.8zM375.6 607l1.9 3.6h-3.8zM364.6 596.5l1.9 3.6h-3.8zM379.5 607.9l1.9 3.6h-3.8zM348.6 565l1.9 3.6h-3.8zM334.8 554.5l1.9 3.6h-3.8zM330.8 575l1.9 3.6h-3.8zM378.2 610l1.9 3.6h-3.8zM353.9 579.2l1.9 3.6h-3.8zM338.9 561.7l1.9 3.6h-3.8zM345.8 570.3l1.9 3.6h-3.8zM351.1 568.9l1.9 3.6h-3.8zM326.5 547.5l1.9 3.6h-3.8zM358.6 612.6l1.9 3.6h-3.8zM332.8 560.4l1.9 3.6h-3.8zM374.8 594.6l1.9 3.6h-3.8zM325.4 566.1l1.9 3.6h-3.8zM342.6 561.4l1.9 3.6h-3.8zM311.9 529.1l1.9 3.6h-3.8zM345.8 566.1l1.9 3.6h-3.8zM315.3 530.9l1.9 3.6h-3.8zM375.3 600.9l1.9 3.6h-3.8zM362.1 592.9l1.9 3.6h-3.8zM327.6 556.3l1.9 3.6h-3.8zM361.5 616.9l1.9 3.6h-3.8zM329.2 562.2l1.9 3.6h-3.8zM325.1 561.7l1.9 3.6h-3.8zM367.4 620.8l1.9 3.6h-3.8zM299.9 535.7l1.9 3.6h-3.8zM354.8 561.6l1.9 3.6h-3.8zM380.6 590.4l1.9 3.6h-3.8zM313 519.5l1.9 3.6h-3.8zM347.3 555.8l1.9 3.6h-3.8zM362.2 621.8l1.9 3.6h-3.8zM305.1 519.5l1.9 3.6h-3.8zM365 623.4l1.9 3.6h-3.8zM343 549.6l1.9 3.6h-3.8zM302.1 538.2l1.9 3.6h-3.8zM354 610.1l1.9 3.6h-3.8zM329.6 584.7l1.9 3.6h-3.8zM299.3 515.8l1.9 3.6h-3.8zM296.1 535.7l1.9 3.6h-3.8zM305.5 548.1l1.9 3.6h-3.8zM321 525.8l1.9 3.6h-3.8zM351.7 556.9l1.9 3.6h-3.8zM363.2 562.6l1.9 3.6h-3.8zM379.9 580.5l1.9 3.6h-3.8zM378.5 584.5l1.9 3.6h-3.8zM344.4 605.1l1.9 3.6h-3.8zM398.2 615.4l1.9 3.6h-3.8zM382 629.3l1.9 3.6h-3.8zM389.9 642.9l1.9 3.6h-3.8zM314.2 570.8l1.9 3.6h-3.8zM321.7 578.3l1.9 3.6h-3.8zM344.7 605l1.9 3.6h-3.8zM298.6 553.6l1.9 3.6h-3.8zM314 570.7l1.9 3.6h-3.8zM317.9 582.5l1.9 3.6h-3.8zM341.2 611.4l1.9 3.6h-3.8zM318.1 519.7l1.9 3.6h-3.8zM362.2 529l1.9 3.6h-3.8zM383.3 629.8l1.9 3.6h-3.8zM395.6 629.8l1.9 3.6h-3.8zM401.7 626.7l1.9 3.6h-3.8zM401.7 638.6l1.9 3.6h-3.8zM387.3 608.8l1.9 3.6h-3.8zM383.3 660.5l1.9 3.6h-3.8z" class="r"/>
<path d="M337.6 553.4l1.9 3.6h-3.8zM378.2 592.9l1.9 3.6h-3.8zM335.5 568.2l1.9 3.6h-3.8zM378.6 602.5l1.9 3.6h-3.8zM352.5 572.1l1.9 3.6h-3.8zM323.3 553.2l1.9 3.6h-3.8zM357.7 574.6l1.9 3.6h-3.8zM379.1 619.3l1.9 3.6h-3.8zM330.4 564.4l1.9 3.6h-3.8zM363.5 581.6l1.9 3.6h-3.8zM331.5 575.4l1.9 3.6h-3.8zM382.1 599.8l1.9 3.6h-3.8zM348 580.1l1.9 3.6h-3.8zM325.4 551l1.9 3.6h-3.8zM337.5 588.1l1.9 3.6h-3.8zM332.7 554.8l1.9 3.6h-3.8zM335.8 564.7l1.9 3.6h-3.8zM342.4 571.3l1.9 3.6h-3.8zM377.8 616.2l1.9 3.6h-3.8zM379.1 612.5l1.9 3.6h-3.8zM349.5 598.3l1.9 3.6h-3.8zM361.1 588.5l1.9 3.6h-3.8zM325.6 557.6l1.9 3.6h-3.8zM317 548.5l1.9 3.6h-3.8zM334.9 587.6l1.9 3.6h-3.8zM331 578.5l1.9 3.6h-3.8zM330 569.4l1.9 3.6h-3.8zM361.6 607.2l1.9 3.6h-3.8zM337.4 566.9l1.9 3.6h-3.8zM342.8 594.5l1.9 3.6h-3.8zM322 552.5l1.9 3.6h-3.8zM367.7 596.9l1.9 3.6h-3.8zM347.5 578.2l1.9 3.6h-3.8zM341.5 581.4l1.9 3.6h-3.8zM330.2 578.3l1.9 3.6h-3.8zM338.7 567.4l1.9 3.6h-3.8zM331.5 544.6l1.9 3.6h-3.8zM316.8 542.5l1.9 3.6h-3.8zM370.5 591.9l1.9 3.6h-3.8zM307.9 542.8l1.9 3.6h-3.8zM347.1 582l1.9 3.6h-3.8zM321.8 556.4l1.9 3.6h-3.8zM350.8 575.8l1.9 3.6h-3.8zM372.6 622.1l1.9 3.6h-3.8zM335.7 556.3l1.9 3.6h-3.8zM345.9 567.7l1.9 3.6h-3.8zM378.6 605.6l1.9 3.6h-3.8zM352.1 583.9l1.9 3.6h-3.8zM374.6 604.4l1.9 3.6h-3.8zM354.5 588.4l1.9 3.6h-3.8zM378.8 613.5l1.9 3.6h-3.8zM373 591.9l1.9 3.6h-3.8zM379.3 608.2l1.9 3.6h-3.8zM316 545.8l1.9 3.6h-3.8zM322.8 562.3l1.9 3.6h-3.8zM374 614l1.9 3.6h-3.8zM337.1 556.4l1.9 3.6h-3.8zM339.5 592.9l1.9 3.6h-3.8zM363.4 578.1l1.9 3.6h-3.8zM343.5 559.4l1.9 3.6h-3.8zM358.2 610l1.9 3.6h-3.8zM352.4 594.8l1.9 3.6h-3.8zM356.5 577.5l1.9 3.6h-3.8zM365.3 586.9l1.9 3.6h-3.8zM378.9 601.1l1.9 3.6h-3.8zM326.8 575.7l1.9 3.6h-3.8zM349.4 597.6l1.9 3.6h-3.8zM326.8 553.5l1.9 3.6h-3.8zM341.8 577.9l1.9 3.6h-3.8zM349.2 571.3l1.9 3.6h-3.8zM338.1 581.5l1.9 3.6h-3.8zM347.1 595.3l1.9 3.6h-3.8zM350.7 605.6l1.9 3.6h-3.8zM375 606l1.9 3.6h-3.8zM359.1 589.3l1.9 3.6h-3.8zM357.8 574.8l1.9 3.6h-3.8zM370.6 603.1l1.9 3.6h-3.8zM368.2 582.6l1.9 3.6h-3.8zM318 539.9l1.9 3.6h-3.8zM327 552.2l1.9 3.6h-3.8zM334.6 552.4l1.9 3.6h-3.8zM338.1 588.2l1.9 3.6h-3.8zM359.1 573.3l1.9 3.6h-3.8zM306.3 525l1.9 3.6h-3.8zM340.4 594.8l1.9 3.6h-3.8zM321 543.4l1.9 3.6h-3.8zM312.9 532.3l1.9 3.6h-3.8zM327 551.7l1.9 3.6h-3.8zM324.6 559.5l1.9 3.6h-3.8zM373.7 599.9l1.9 3.6h-3.8zM326.2 541.9l1.9 3.6h-3.8zM355.9 592.5l1.9 3.6h-3.8zM317.5 549.4l1.9 3.6h-3.8zM339.3 583.5l1.9 3.6h-3.8zM373.3 595.9l1.9 3.6h-3.8zM383 614.9l1.9 3.6h-3.8zM357.5 585.2l1.9 3.6h-3.8zM348 571.9l1.9 3.6h-3.8zM337 563.2l1.9 3.6h-3.8zM327.2 543.9l1.9 3.6h-3.8zM324.3 560.7l1.9 3.6h-3.8zM307.6 540.7l1.9 3.6h-3.8zM350.6 566.4l1.9 3.6h-3.8zM347.8 568.3l1.9 3.6h-3.8zM325.1 564l1.9 3.6h-3.8zM309.9 536.1l1.9 3.6h-3.8zM337.2 549.5l1.9 3.6h-3.8zM368.5 588.7l1.9 3.6h-3.8zM338.4 585.8l1.9 3.6h-3.8zM351.8 598.2l1.9 3.6h-3.8zM306.7 527.5l1.9 3.6h-3.8zM348.6 599.8l1.9 3.6h-3.8zM365.5 582.2l1.9 3.6h-3.8zM348.6 604.8l1.9 3.6h-3.8zM312.3 523l1.9 3.6h-3.8zM373.2 605.2l1.9 3.6h-3.8zM359.4 614.4l1.9 3.6h-3.8zM373 610.4l1.9 3.6h-3.8zM365.1 596.8l1.9 3.6h-3.8zM337.8 556.7l1.9 3.6h-3.8zM342.6 556.1l1.9 3.6h-3.8zM348.7 590.8l1.9 3.6h-3.8zM342.7 556.6l1.9 3.6h-3.8zM349.6 576.3l1.9 3.6h-3.8zM331.7 584.1l1.9 3.6h-3.8zM344.9 587.3l1.9 3.6h-3.8zM340.7 569.1l1.9 3.6h-3.8zM314.3 549l1.9 3.6h-3.8zM334.6 549.7l1.9 3.6h-3.8zM327.3 569.5l1.9 3.6h-3.8zM370.6 598.2l1.9 3.6h-3.8zM356.1 606.8l1.9 3.6h-3.8zM339.3 561.1l1.9 3.6h-3.8zM375.5 620l1.9 3.6h-3.8zM382.2 606.7l1.9 3.6h-3.8zM327.5 555.3l1.9 3.6h-3.8zM379.4 613.6l1.9 3.6h-3.8zM338.4 586l1.9 3.6h-3.8zM367.7 580.9l1.9 3.6h-3.8zM377.5 606.9l1.9 3.6h-3.8zM341.2 570.9l1.9 3.6h-3.8zM361.7 584.2l1.9 3.6h-3.8zM328.4 573.2l1.9 3.6h-3.8zM377.4 611.1l1.9 3.6h-3.8zM331.4 560.9l1.9 3.6h-3.8zM370.6 623.3l1.9 3.6h-3.8zM382 613l1.9 3.6h-3.8zM312.2 537.8l1.9 3.6h-3.8zM328.1 553.2l1.9 3.6h-3.8zM346.4 569.4l1.9 3.6h-3.8zM328.7 543.4l1.9 3.6h-3.8zM368.7 608.3l1.9 3.6h-3.8zM361.9 615.3l1.9 3.6h-3.8zM349.5 598.1l1.9 3.6h-3.8zM325.7 546.1l1.9 3.6h-3.8zM310.2 538.9l1.9 3.6h-3.8zM347.2 593.5l1.9 3.6h-3.8zM379.7 621.1l1.9 3.6h-3.8zM352.1 568.8l1.9 3.6h-3.8zM376.9 600.1l1.9 3.6h-3.8zM372.6 625.1l1.9 3.6h-3.8zM320 552l1.9 3.6h-3.8zM354.2 607.2l1.9 3.6h-3.8zM361.9 590.3l1.9 3.6h-3.8zM330 558l1.9 3.6h-3.8zM302.4 530.9l1.9 3.6h-3.8zM336.5 569.8l1.9 3.6h-3.8zM363.3 615.9l1.9 3.6h-3.8zM334.9 561.9l1.9 3.6h-3.8zM340.7 585l1.9 3.6h-3.8zM343.1 590.3l1.9 3.6h-3.8zM332.7 570l1.9 3.6h-3.8zM310.7 531.7l1.9 3.6h-3.8zM375.5 598.2l1.9 3.6h-3.8zM341.2 558.1l1.9 3.6h-3.8zM320.4 552.1l1.9 3.6h-3.8zM344.6 561.1l1.9 3.6h-3.8zM368.2 603l1.9 3.6h-3.8zM352.8 567.9l1.9 3.6h-3.8zM342.3 578.5l1.9 3.6h-3.8zM334.7 575.8l1.9 3.6h-3.8zM346.6 601.1l1.9 3.6h-3.8zM340.1 567l1.9 3.6h-3.8zM372.1 618.2l1.9 3.6h-3.8zM356 582.8l1.9 3.6h-3.8zM326 557.3l1.9 3.6h-3.8zM355 606.8l1.9 3.6h-3.8zM363.3 610.2l1.9 3.6h-3.8zM361.4 578.3l1.9 3.6h-3.8zM339.5 553.6l1.9 3.6h-3.8zM333 547.9l1.9 3.6h-3.8zM373.7 605.5l1.9 3.6h-3.8zM307.7 542.7l1.9 3.6h-3.8zM359.3 604l1.9 3.6h-3.8zM364 578.7l1.9 3.6h-3.8zM330.3 573.4l1.9 3.6h-3.8zM347.1 566.5l1.9 3.6h-3.8zM320.1 550.6l1.9 3.6h-3.8zM352.1 565.5l1.9 3.6h-3.8zM379.2 610.8l1.9 3.6h-3.8zM310.7 523.9l1.9 3.6h-3.8zM350 564.1l1.9 3.6h-3.8zM376.9 618.4l1.9 3.6h-3.8zM360.8 582.1l1.9 3.6h-3.8zM329.2 563l1.9 3.6h-3.8zM362.3 593.2l1.9 3.6h-3.8zM370.8 592.2l1.9 3.6h-3.8zM326.2 566.3l1.9 3.6h-3.8zM375.1 591l1.9 3.6h-3.8zM326.8 575.7l1.9 3.6h-3.8zM303.7 532.4l1.9 3.6h-3.8zM338.7 579.7l1.9 3.6h-3.8zM372.9 593.3l1.9 3.6h-3.8zM307.5 534.1l1.9 3.6h-3.8zM341.3 562l1.9 3.6h-3.8zM363.2 617.5l1.9 3.6h-3.8zM364 578l1.9 3.6h-3.8zM363.8 579.2l1.9 3.6h-3.8zM310.3 545.7l1.9 3.6h-3.8zM375 609.2l1.9 3.6h-3.8zM357.5 588.4l1.9 3.6h-3.8zM334.1 564.3l1.9 3.6h-3.8zM345.6 584.8l1.9 3.6h-3.8zM334.8 564.1l1.9 3.6h-3.8zM326.8 550.3l1.9 3.6h-3.8zM384.1 608.6l1.9 3.6h-3.8zM326.9 563.8l1.9 3.6h-3.8zM320.5 563.4l1.9 3.6h-3.8zM379.2 604.1l1.9 3.6h-3.8zM367 591.5l1.9 3.6h-3.8zM351.2 582.9l1.9 3.6h-3.8zM365.9 594.6l1.9 3.6h-3.8zM362 599.1l1.9 3.6h-3.8zM361.6 602.6l1.9 3.6h-3.8zM355.1 581.2l1.9 3.6h-3.8zM347.7 590.1l1.9 3.6h-3.8zM345.1 563.4l1.9 3.6h-3.8zM313.3 534.7l1.9 3.6h-3.8zM378.4 611.1l1.9 3.6h-3.8zM342.3 572.6l1.9 3.6h-3.8zM373.1 612.8l1.9 3.6h-3.8zM322.1 556.4l1.9 3.6h-3.8zM353.5 605.5l1.9 3.6h-3.8zM329.7 559.3l1.9 3.6h-3.8zM347.2 592.9l1.9 3.6h-3.8zM347.5 572.7l1.9 3.6h-3.8zM360.9 581.4l1.9 3.6h-3.8zM311 536.3l1.9 3.6h-3.8zM363 582.1l1.9 3.6h-3.8zM351 567.5l1.9 3.6h-3.8zM374.1 600.5l1.9 3.6h-3.8zM340.5 584.2l1.9 3.6h-3.8zM380.4 606.1l1.9 3.6h-3.8zM343.7 595.7l1.9 3.6h-3.8zM357.8 575.9l1.9 3.6h-3.8zM353.1 567.5l1.9 3.6h-3.8zM375.8 614.4l1.9 3.6h-3.8zM363.4 588.4l1.9 3.6h-3.8zM335.2 551.1l1.9 3.6h-3.8zM332.5 570.1l1.9 3.6h-3.8zM355.2 591.5l1.9 3.6h-3.8zM337.3 586.7l1.9 3.6h-3.8zM319.4 563.6l1.9 3.6h-3.8zM352.3 589.8l1.9 3.6h-3.8zM371.8 605.2l1.9 3.6h-3.8zM357.8 577l1.9 3.6h-3.8zM365.2 591.8l1.9 3.6h-3.8zM376.7 605.6l1.9 3.6h-3.8zM346.5 574.3l1.9 3.6h-3.8zM328.7 551.1l1.9 3.6h-3.8zM339.1 579.6l1.9 3.6h-3.8zM382.1 601.7l1.9 3.6h-3.8zM301.5 541.3l1.9 3.6h-3.8zM388.6 610l1.9 3.6h-3.8zM339.8 599.2l1.9 3.6h-3.8zM316.9 563.1l1.9 3.6h-3.8zM301.8 534.3l1.9 3.6h-3.8zM303.4 505.8l1.9 3.6h-3.8zM291.7 532.4l1.9 3.6h-3.8zM322.3 525.1l1.9 3.6h-3.8zM348.6 552.1l1.9 3.6h-3.8zM350.1 561.7l1.9 3.6h-3.8zM377.2 574.8l1.9 3.6h-3.8zM387.3 593.4l1.9 3.6h-3.8zM393 612.8l1.9 3.6h-3.8zM395.2 629.7l1.9 3.6h-3.8zM382.9 633.7l1.9 3.6h-3.8zM386.4 632.8l1.9 3.6h-3.8zM371.5 636.7l1.9 3.6h-3.8zM379.4 640.7l1.9 3.6h-3.8zM343.5 611.3l1.9 3.6h-3.8zM344.8 605.2l1.9 3.6h-3.8zM318.2 582.5l1.9 3.6h-3.8zM326.9 597.5l1.9 3.6h-3.8zM293 523.8l1.9 3.6h-3.8zM291.6 529l1.9 3.6h-3.8zM305.3 548.3l1.9 3.6h-3.8zM308.8 550.1l1.9 3.6h-3.8zM321.9 578.4l1.9 3.6h-3.8zM324.6 512.9l1.9 3.6h-3.8zM321.6 519.9l1.9 3.6h-3.8zM329.8 539.2l1.9 3.6h-3.8zM334.7 541.3l1.9 3.6h-3.8zM363.1 562.7l1.9 3.6h-3.8zM369.3 633.3l1.9 3.6h-3.8zM398.5 615.3l1.9 3.6h-3.8zM387.2 592.7l1.9 3.6h-3.8zM387.2 586l1.9 3.6h-3.8z" class="r"/>
<path d="M365.2 590.9l1.9 3.6h-3.8zM370.8 611.8l1.9 3.6h-3.8zM373.9 603.3l1.9 3.6h-3.8zM342.2 592.1l1.9 3.6h-3.8zM377.2 596.1l1.9 3.6h-3.8zM345.3 581.7l1.9 3.6h-3.8zM364.7 614.6l1.9 3.6h-3.8zM374.4 599.8l1.9 3.6h-3.8zM316.3 545.5l1.9 3.6h-3.8zM374.4 614.9l1.9 3.6h-3.8zM348.7 563.8l1.9 3.6h-3.8zM345.9 598.8l1.9 3.6h-3.8zM364.5 590.5l1.9 3.6h-3.8zM342.7 559.4l1.9 3.6h-3.8zM372.1 597.9l1.9 3.6h-3.8zM374.5 619.5l1.9 3.6h-3.8zM353.9 592.7l1.9 3.6h-3.8zM311.5 527.9l1.9 3.6h-3.8zM379.5 595.2l1.9 3.6h-3.8zM365.3 580.8l1.9 3.6h-3.8zM324.7 560l1.9 3.6h-3.8zM338.2 566.8l1.9 3.6h-3.8zM315.6 550.6l1.9 3.6h-3.8zM357.5 591.7l1.9 3.6h-3.8zM364.1 598.7l1.9 3.6h-3.8zM347.8 582.1l1.9 3.6h-3.8zM372.6 594.6l1.9 3.6h-3.8zM348.4 581.7l1.9 3.6h-3.8zM340.6 569.2l1.9 3.6h-3.8zM369.4 593.5l1.9 3.6h-3.8zM333.1 568.5l1.9 3.6h-3.8zM315.6 550.8l1.9 3.6h-3.8zM361.4 615.9l1.9 3.6h-3.8zM335.8 576.5l1.9 3.6h-3.8zM357.6 592.5l1.9 3.6h-3.8zM353.5 575.5l1.9 3.6h-3.8zM341.6 595.7l1.9 3.6h-3.8zM349.5 596.9l1.9 3.6h-3.8zM361.5 600.4l1.9 3.6h-3.8zM363 579.2l1.9 3.6h-3.8zM353.8 577.3l1.9 3.6h-3.8zM352.8 586.1l1.9 3.6h-3.8zM342.8 595.5l1.9 3.6h-3.8zM385 621.8l1.9 3.6h-3.8zM372.7 591.8l1.9 3.6h-3.8zM309.9 539.4l1.9 3.6h-3.8zM374.4 622.9l1.9 3.6h-3.8zM306.8 525.9l1.9 3.6h-3.8zM343 572.1l1.9 3.6h-3.8zM342 591.4l1.9 3.6h-3.8zM325.7 561.8l1.9 3.6h-3.8zM376.2 612.4l1.9 3.6h-3.8zM371 620.3l1.9 3.6h-3.8zM368.3 607.6l1.9 3.6h-3.8zM369 598l1.9 3.6h-3.8zM334.5 567.9l1.9 3.6h-3.8zM370.2 608.5l1.9 3.6h-3.8zM356.6 603.3l1.9 3.6h-3.8zM336.6 573.9l1.9 3.6h-3.8zM312.7 541.9l1.9 3.6h-3.8zM331.3 573l1.9 3.6h-3.8zM359.9 605.3l1.9 3.6h-3.8zM324.8 562.4l1.9 3.6h-3.8zM377.4 616.1l1.9 3.6h-3.8zM364.5 580l1.9 3.6h-3.8zM386.6 620.1l1.9 3.6h-3.8zM381 622.8l1.9 3.6h-3.8zM359.9 595.9l1.9 3.6h-3.8zM359.1 602.4l1.9 3.6h-3.8zM306.2 543.3l1.9 3.6h-3.8zM333.5 556.5l1.9 3.6h-3.8zM356.4 592.8l1.9 3.6h-3.8zM335.4 588.1l1.9 3.6h-3.8zM327.2 564.2l1.9 3.6h-3.8zM348 569.5l1.9 3.6h-3.8zM335.9 565.2l1.9 3.6h-3.8zM324.4 556.7l1.9 3.6h-3.8zM376.5 617.1l1.9 3.6h-3.8zM360.6 616.7l1.9 3.6h-3.8zM359.4 584.1l1.9 3.6h-3.8zM344.4 587.4l1.9 3.6h-3.8zM348.3 604.3l1.9 3.6h-3.8zM350.8 588.5l1.9 3.6h-3.8zM353.8 578.9l1.9 3.6h-3.8zM367 605l1.9 3.6h-3.8zM303.8 534.6l1.9 3.6h-3.8zM319.8 539.7l1.9 3.6h-3.8zM341.8 582l1.9 3.6h-3.8zM338 580.3l1.9 3.6h-3.8zM346.4 586.6l1.9 3.6h-3.8zM358.4 589.1l1.9 3.6h-3.8zM359.2 587l1.9 3.6h-3.8zM364.9 616l1.9 3.6h-3.8zM351.3 581.2l1.9 3.6h-3.8zM335.3 551.3l1.9 3.6h-3.8zM312.4 546.9l1.9 3.6h-3.8zM327.6 556.5l1.9 3.6h-3.8zM354.2 604.5l1.9 3.6h-3.8zM309.8 540.1l1.9 3.6h-3.8zM326.6 566.7l1.9 3.6h-3.8zM343.7 595.3l1.9 3.6h-3.8zM338.3 595.2l1.9 3.6h-3.8zM339 577.2l1.9 3.6h-3.8zM372.1 593.4l1.9 3.6h-3.8zM362.3 593.7l1.9 3.6h-3.8zM382.3 611.5l1.9 3.6h-3.8zM371.9 600.9l1.9 3.6h-3.8zM380.9 620.9l1.9 3.6h-3.8zM320.4 550l1.9 3.6h-3.8zM363.9 607.7l1.9 3.6h-3.8zM336.2 569.8l1.9 3.6h-3.8zM335.6 553.7l1.9 3.6h-3.8zM330.8 564.3l1.9 3.6h-3.8zM353.2 574.2l1.9 3.6h-3.8zM345.4 576.9l1.9 3.6h-3.8zM382.5 615.4l1.9 3.6h-3.8zM338.1 572.5l1.9 3.6h-3.8zM361.9 613.6l1.9 3.6h-3.8zM353.3 599.8l1.9 3.6h-3.8zM372.4 618.7l1.9 3.6h-3.8zM320.3 554l1.9 3.6h-3.8zM348.4 594l1.9 3.6h-3.8zM382.3 620.2l1.9 3.6h-3.8zM351.1 579.1l1.9 3.6h-3.8zM346.8 571.9l1.9 3.6h-3.8zM333.5 566.4l1.9 3.6h-3.8zM383.6 613l1.9 3.6h-3.8zM320.7 539.8l1.9 3.6h-3.8zM374.5 603.7l1.9 3.6h-3.8zM360 592.5l1.9 3.6h-3.8zM345.4 567.9l1.9 3.6h-3.8zM370 593.3l1.9 3.6h-3.8zM365.6 597.1l1.9 3.6h-3.8zM347 585.1l1.9 3.6h-3.8zM351.8 567.7l1.9 3.6h-3.8zM357.4 594.6l1.9 3.6h-3.8zM379.6 610.5l1.9 3.6h-3.8zM370.1 611.5l1.9 3.6h-3.8zM366.8 596.2l1.9 3.6h-3.8zM379.2 603.9l1.9 3.6h-3.8zM379.7 596.3l1.9 3.6h-3.8zM358.1 588.9l1.9 3.6h-3.8zM328 563.4l1.9 3.6h-3.8zM363.8 598.3l1.9 3.6h-3.8zM358.6 574.1l1.9 3.6h-3.8zM351.7 570.2l1.9 3.6h-3.8zM360.3 587.7l1.9 3.6h-3.8zM335 548.2l1.9 3.6h-3.8zM384.9 615.7l1.9 3.6h-3.8zM328.3 542.4l1.9 3.6h-3.8zM336.2 582.8l1.9 3.6h-3.8zM342.9 579.7l1.9 3.6h-3.8zM355.6 599l1.9 3.6h-3.8zM326.3 549.4l1.9 3.6h-3.8zM341.9 577.2l1.9 3.6h-3.8zM333.4 571.4l1.9 3.6h-3.8zM347.1 568.3l1.9 3.6h-3.8zM319.6 544l1.9 3.6h-3.8zM349 588.3l1.9 3.6h-3.8zM320.4 563.3l1.9 3.6h-3.8zM370.3 587.9l1.9 3.6h-3.8zM352.8 592.4l1.9 3.6h-3.8zM348.3 600.7l1.9 3.6h-3.8zM373.4 603.9l1.9 3.6h-3.8zM328 568.1l1.9 3.6h-3.8zM371 589.9l1.9 3.6h-3.8zM331.6 582.3l1.9 3.6h-3.8zM345.4 563.3l1.9 3.6h-3.8zM315.6 552.9l1.9 3.6h-3.8zM371.5 585.3l1.9 3.6h-3.8zM322.5 547.8l1.9 3.6h-3.8zM364.3 615.2l1.9 3.6h-3.8zM367.4 602.4l1.9 3.6h-3.8zM379.2 612.2l1.9 3.6h-3.8zM343.9 589.1l1.9 3.6h-3.8zM321 556.8l1.9 3.6h-3.8zM357.5 603.1l1.9 3.6h-3.8zM377.3 603.9l1.9 3.6h-3.8zM349.2 567.3l1.9 3.6h-3.8zM359 587l1.9 3.6h-3.8zM356.4 612.7l1.9 3.6h-3.8zM310.4 544.3l1.9 3.6h-3.8zM335.2 580.7l1.9 3.6h-3.8zM343.4 593.2l1.9 3.6h-3.8zM351.9 593.7l1.9 3.6h-3.8zM363.4 583.2l1.9 3.6h-3.8zM351.2 592.7l1.9 3.6h-3.8zM367.4 585.4l1.9 3.6h-3.8zM374.2 588.7l1.9 3.6h-3.8zM364.8 615.9l1.9 3.6h-3.8zM341.2 563.1l1.9 3.6h-3.8zM363.7 576.7l1.9 3.6h-3.8zM347.7 566.5l1.9 3.6h-3.8zM354.3 609.1l1.9 3.6h-3.8zM336.5 557.5l1.9 3.6h-3.8zM364.7 591.1l1.9 3.6h-3.8zM379.1 611.3l1.9 3.6h-3.8zM354.9 601.5l1.9 3.6h-3.8zM365.7 591.2l1.9 3.6h-3.8zM376 591.7l1.9 3.6h-3.8zM303.1 522.1l1.9 3.6h-3.8zM379.3 615l1.9 3.6h-3.8zM378.9 622.7l1.9 3.6h-3.8zM360.3 611.9l1.9 3.6h-3.8zM318.4 540.3l1.9 3.6h-3.8zM310.6 525.6l1.9 3.6h-3.8zM376.3 596.4l1.9 3.6h-3.8zM375 596.3l1.9 3.6h-3.8zM345.6 561.9l1.9 3.6h-3.8zM344.9 575.9l1.9 3.6h-3.8zM367.8 591l1.9 3.6h-3.8zM338.5 587.6l1.9 3.6h-3.8zM372.8 589.2l1.9 3.6h-3.8zM315.9 547.1l1.9 3.6h-3.8zM359.8 607.7l1.9 3.6h-3.8zM355.1 579.5l1.9 3.6h-3.8zM314.5 532.3l1.9 3.6h-3.8zM370 581.6l1.9 3.6h-3.8zM340.1 553.7l1.9 3.6h-3.8zM370.2 603.2l1.9 3.6h-3.8zM352.3 578l1.9 3.6h-3.8zM319.5 557.3l1.9 3.6h-3.8zM314.1 551.3l1.9 3.6h-3.8zM309.2 533.6l1.9 3.6h-3.8zM327.8 549.9l1.9 3.6h-3.8zM355.7 578.2l1.9 3.6h-3.8zM331 556.5l1.9 3.6h-3.8zM351.9 579.4l1.9 3.6h-3.8zM371.8 593.4l1.9 3.6h-3.8zM372.9 600.7l1.9 3.6h-3.8zM369.4 600.3l1.9 3.6h-3.8zM344 566.9l1.9 3.6h-3.8zM312.7 530.6l1.9 3.6h-3.8zM324.2 560.7l1.9 3.6h-3.8zM360.4 573.3l1.9 3.6h-3.8zM387.3 616l1.9 3.6h-3.8zM367 590.2l1.9 3.6h-3.8zM352 583.6l1.9 3.6h-3.8zM355 605.2l1.9 3.6h-3.8zM343.9 555.1l1.9 3.6h-3.8zM376.1 598.9l1.9 3.6h-3.8zM337.2 551.3l1.9 3.6h-3.8zM345.7 584.6l1.9 3.6h-3.8zM336.8 585.2l1.9 3.6h-3.8zM362.4 578.5l1.9 3.6h-3.8zM368.1 601.9l1.9 3.6h-3.8zM366.2 607.6l1.9 3.6h-3.8zM319.8 539.7l1.9 3.6h-3.8zM309.8 541.4l1.9 3.6h-3.8zM312.4 543.1l1.9 3.6h-3.8zM313.4 537.7l1.9 3.6h-3.8zM369 598l1.9 3.6h-3.8zM370.2 620.4l1.9 3.6h-3.8zM353.4 575.5l1.9 3.6h-3.8zM362.5 581.8l1.9 3.6h-3.8zM305.2 522.8l1.9 3.6h-3.8zM329.9 557.1l1.9 3.6h-3.8zM337.1 581.6l1.9 3.6h-3.8zM337.4 581.6l1.9 3.6h-3.8zM347.7 578.9l1.9 3.6h-3.8zM365.9 584.2l1.9 3.6h-3.8zM326.6 560.7l1.9 3.6h-3.8zM339.2 559.6l1.9 3.6h-3.8zM362.3 585.7l1.9 3.6h-3.8zM342.5 577.3l1.9 3.6h-3.8zM314.9 541l1.9 3.6h-3.8zM365.3 584.4l1.9 3.6h-3.8zM364.9 598.1l1.9 3.6h-3.8zM336.8 557.8l1.9 3.6h-3.8zM336.9 557.5l1.9 3.6h-3.8zM351 600.9l1.9 3.6h-3.8zM378.2 615.1l1.9 3.6h-3.8zM352.9 598.7l1.9 3.6h-3.8zM366.3 612.9l1.9 3.6h-3.8zM344.5 561l1.9 3.6h-3.8zM369.7 586.4l1.9 3.6h-3.8zM334.1 587.9l1.9 3.6h-3.8zM362.7 612.4l1.9 3.6h-3.8zM343 600.3l1.9 3.6h-3.8zM370.9 604.2l1.9 3.6h-3.8zM353 570.3l1.9 3.6h-3.8zM356.8 594.5l1.9 3.6h-3.8zM319.2 545.5l1.9 3.6h-3.8zM352.7 599.3l1.9 3.6h-3.8zM381.2 614.1l1.9 3.6h-3.8zM328.4 551.5l1.9 3.6h-3.8zM376.5 610l1.9 3.6h-3.8zM340.4 578.8l1.9 3.6h-3.8zM371.4 610.6l1.9 3.6h-3.8zM315.1 522.1l1.9 3.6h-3.8zM356.7 614.8l1.9 3.6h-3.8zM316.7 523.8l1.9 3.6h-3.8zM330.2 584.6l1.9 3.6h-3.8zM365.4 575.9l1.9 3.6h-3.8zM376.9 583.8l1.9 3.6h-3.8zM375.9 583.1l1.9 3.6h-3.8zM307.9 546.5l1.9 3.6h-3.8zM386.9 623.3l1.9 3.6h-3.8zM280.7 505.8l1.9 3.6h-3.8zM316.9 520l1.9 3.6h-3.8zM295.9 520l1.9 3.6h-3.8zM319.8 527.3l1.9 3.6h-3.8zM326.7 531.7l1.9 3.6h-3.8zM298.2 552.5l1.9 3.6h-3.8zM328.9 534.6l1.9 3.6h-3.8zM342 546.8l1.9 3.6h-3.8zM345.5 554.7l1.9 3.6h-3.8zM351.4 556.9l1.9 3.6h-3.8zM365.4 572.2l1.9 3.6h-3.8zM387 592.4l1.9 3.6h-3.8zM353.1 625.6l1.9 3.6h-3.8zM386 641.6l1.9 3.6h-3.8zM290.4 513.8l1.9 3.6h-3.8zM299.2 515.5l1.9 3.6h-3.8zM326 532.5l1.9 3.6h-3.8zM346.5 542.7l1.9 3.6h-3.8zM349.1 543.9l1.9 3.6h-3.8zM347.3 534.3l1.9 3.6h-3.8zM376.3 631.6l1.9 3.6h-3.8zM371 636.8l1.9 3.6h-3.8zM401.7 621.6l1.9 3.6h-3.8zM403.4 632.4l1.9 3.6h-3.8zM404.3 634.2l1.9 3.6h-3.8zM393.3 612.7l1.9 3.6h-3.8z" class="r"/>
<path d="M344.4 573.7l1.9 3.6h-3.8zM375 593.8l1.9 3.6h-3.8zM348.5 592l1.9 3.6h-3.8zM361.4 585.8l1.9 3.6h-3.8zM369.6 591.9l1.9 3.6h-3.8zM337.1 557.1l1.9 3.6h-3.8zM318.2 556l1.9 3.6h-3.8zM325.5 564.8l1.9 3.6h-3.8zM345.2 600.8l1.9 3.6h-3.8zM367.9 596l1.9 3.6h-3.8zM335.7 573.5l1.9 3.6h-3.8zM384.2 620.4l1.9 3.6h-3.8zM367.6 617.5l1.9 3.6h-3.8zM361.7 578.1l1.9 3.6h-3.8zM343.8 572.8l1.9 3.6h-3.8zM343.8 568l1.9 3.6h-3.8zM366.2 583.1l1.9 3.6h-3.8zM358.3 573.8l1.9 3.6h-3.8zM346.6 602.8l1.9 3.6h-3.8zM360.6 615.6l1.9 3.6h-3.8zM324.3 550.3l1.9 3.6h-3.8zM361.9 600.7l1.9 3.6h-3.8zM373.7 600.5l1.9 3.6h-3.8zM350 605.1l1.9 3.6h-3.8zM344 588.1l1.9 3.6h-3.8zM349.1 581.4l1.9 3.6h-3.8zM358.3 572.5l1.9 3.6h-3.8zM365.3 612.7l1.9 3.6h-3.8zM364 616l1.9 3.6h-3.8zM334 547l1.9 3.6h-3.8zM327.7 557.3l1.9 3.6h-3.8zM383.6 618.5l1.9 3.6h-3.8zM383.9 613.5l1.9 3.6h-3.8zM336.3 578.7l1.9 3.6h-3.8zM362.2 579.6l1.9 3.6h-3.8zM325 554.7l1.9 3.6h-3.8zM378.1 599.4l1.9 3.6h-3.8zM363.3 616.6l1.9 3.6h-3.8zM334.1 569.2l1.9 3.6h-3.8zM338.8 573l1.9 3.6h-3.8zM366.4 612.3l1.9 3.6h-3.8zM343.7 561l1.9 3.6h-3.8zM319.2 550l1.9 3.6h-3.8zM324.6 563.3l1.9 3.6h-3.8zM330.8 565.9l1.9 3.6h-3.8zM327.9 545.9l1.9 3.6h-3.8zM346.4 601.7l1.9 3.6h-3.8zM382.6 622.8l1.9 3.6h-3.8zM348.4 563.8l1.9 3.6h-3.8zM315.3 544l1.9 3.6h-3.8zM353.3 608.8l1.9 3.6h-3.8zM346.9 578.1l1.9 3.6h-3.8zM337.1 580.6l1.9 3.6h-3.8zM336.9 584.5l1.9 3.6h-3.8zM378.9 594.7l1.9 3.6h-3.8zM381.4 604.4l1.9 3.6h-3.8zM343 582.3l1.9 3.6h-3.8zM371.7 622.2l1.9 3.6h-3.8zM333.7 548.9l1.9 3.6h-3.8zM345 561.8l1.9 3.6h-3.8zM367.4 589.9l1.9 3.6h-3.8zM334.4 562.7l1.9 3.6h-3.8zM386.5 616.7l1.9 3.6h-3.8zM346.7 594.3l1.9 3.6h-3.8zM308 528.4l1.9 3.6h-3.8zM345.1 599.3l1.9 3.6h-3.8zM338.1 592.2l1.9 3.6h-3.8zM313.6 538.1l1.9 3.6h-3.8zM331.8 573.5l1.9 3.6h-3.8zM372.6 592.5l1.9 3.6h-3.8zM374.6 599.9l1.9 3.6h-3.8zM335 581l1.9 3.6h-3.8zM365.3 588.1l1.9 3.6h-3.8zM369.3 602l1.9 3.6h-3.8zM305 529.6l1.9 3.6h-3.8zM305.2 536.5l1.9 3.6h-3.8zM378.2 624.4l1.9 3.6h-3.8zM310.1 535l1.9 3.6h-3.8zM306.3 521.1l1.9 3.6h-3.8zM365.7 595.4l1.9 3.6h-3.8zM349.7 594l1.9 3.6h-3.8zM347.6 572.1l1.9 3.6h-3.8zM341.1 568.7l1.9 3.6h-3.8zM361.3 608.6l1.9 3.6h-3.8zM344.2 561.3l1.9 3.6h-3.8zM321.7 556l1.9 3.6h-3.8zM339.9 559.9l1.9 3.6h-3.8zM334.3 577.4l1.9 3.6h-3.8zM335.5 576l1.9 3.6h-3.8zM368.9 590.8l1.9 3.6h-3.8zM362.3 603.9l1.9 3.6h-3.8zM329.1 571.1l1.9 3.6h-3.8zM352.3 571.5l1.9 3.6h-3.8zM340.5 593.2l1.9 3.6h-3.8zM332.6 543.9l1.9 3.6h-3.8zM341.2 564.8l1.9 3.6h-3.8zM347.6 583.1l1.9 3.6h-3.8zM306.6 530.7l1.9 3.6h-3.8zM374 598.7l1.9 3.6h-3.8zM348.9 576.2l1.9 3.6h-3.8zM375.1 620.6l1.9 3.6h-3.8zM305.7 521.8l1.9 3.6h-3.8zM348.6 577.5l1.9 3.6h-3.8zM313.7 531.3l1.9 3.6h-3.8zM341.5 564l1.9 3.6h-3.8zM381.5 604.9l1.9 3.6h-3.8zM349.8 584.1l1.9 3.6h-3.8zM320.3 547.2l1.9 3.6h-3.8zM367.3 587.3l1.9 3.6h-3.8zM360.7 590.9l1.9 3.6h-3.8zM346 562l1.9 3.6h-3.8zM317.4 550.2l1.9 3.6h-3.8zM336.9 551l1.9 3.6h-3.8zM321.9 545.5l1.9 3.6h-3.8zM373.3 620.6l1.9 3.6h-3.8zM352.5 604l1.9 3.6h-3.8zM377.6 603.4l1.9 3.6h-3.8zM316.2 536.5l1.9 3.6h-3.8zM368.8 596.4l1.9 3.6h-3.8zM341.2 557.3l1.9 3.6h-3.8zM339.7 571l1.9 3.6h-3.8zM317.8 560.6l1.9 3.6h-3.8zM357 579.6l1.9 3.6h-3.8zM375.3 593.3l1.9 3.6h-3.8zM328 557.2l1.9 3.6h-3.8zM341.1 576.4l1.9 3.6h-3.8zM341.7 558.3l1.9 3.6h-3.8zM327.2 572.9l1.9 3.6h-3.8zM347.4 560.5l1.9 3.6h-3.8zM370.6 612.6l1.9 3.6h-3.8zM326.6 543.7l1.9 3.6h-3.8zM353.3 595.9l1.9 3.6h-3.8zM356.5 606.6l1.9 3.6h-3.8zM325.1 558.9l1.9 3.6h-3.8zM353.5 598.9l1.9 3.6h-3.8zM302.4 530.7l1.9 3.6h-3.8zM361.1 600.3l1.9 3.6h-3.8zM357.7 605.8l1.9 3.6h-3.8zM345.2 581.2l1.9 3.6h-3.8zM356.1 596.7l1.9 3.6h-3.8zM366.5 599.5l1.9 3.6h-3.8zM313.4 538.4l1.9 3.6h-3.8zM311.8 541l1.9 3.6h-3.8zM368.6 591l1.9 3.6h-3.8zM372.5 624.5l1.9 3.6h-3.8zM342.6 571.6l1.9 3.6h-3.8zM350.3 585.8l1.9 3.6h-3.8zM363.4 586.1l1.9 3.6h-3.8zM330.9 556.1l1.9 3.6h-3.8zM349.5 587l1.9 3.6h-3.8zM377.9 613.9l1.9 3.6h-3.8zM328.6 558.8l1.9 3.6h-3.8zM366.1 602l1.9 3.6h-3.8zM346.2 599.1l1.9 3.6h-3.8zM349.3 572.2l1.9 3.6h-3.8zM327 555.9l1.9 3.6h-3.8zM325.4 554.5l1.9 3.6h-3.8zM367.7 597l1.9 3.6h-3.8zM341.4 565.5l1.9 3.6h-3.8zM365.2 604.9l1.9 3.6h-3.8zM360 613.3l1.9 3.6h-3.8zM351.9 599l1.9 3.6h-3.8zM381.1 603.6l1.9 3.6h-3.8zM347.5 590.7l1.9 3.6h-3.8zM317.4 543.6l1.9 3.6h-3.8zM372 602.1l1.9 3.6h-3.8zM353.8 604.1l1.9 3.6h-3.8zM369.7 607.9l1.9 3.6h-3.8zM327.3 543.1l1.9 3.6h-3.8zM327.1 564.7l1.9 3.6h-3.8zM354.6 575.2l1.9 3.6h-3.8zM373.5 611.5l1.9 3.6h-3.8zM372 619.6l1.9 3.6h-3.8zM376.6 600.8l1.9 3.6h-3.8zM387.7 614.8l1.9 3.6h-3.8zM334.5 573.1l1.9 3.6h-3.8zM346.8 588.9l1.9 3.6h-3.8zM364.5 604.1l1.9 3.6h-3.8zM315.6 553.8l1.9 3.6h-3.8zM323.2 544l1.9 3.6h-3.8zM379.9 614.6l1.9 3.6h-3.8zM321.4 542.2l1.9 3.6h-3.8zM378.7 615.9l1.9 3.6h-3.8zM358.1 604.9l1.9 3.6h-3.8zM364.7 603.4l1.9 3.6h-3.8zM364.7 598.1l1.9 3.6h-3.8zM332 549.2l1.9 3.6h-3.8zM346 602.2l1.9 3.6h-3.8zM334.8 549.8l1.9 3.6h-3.8zM348.8 588.4l1.9 3.6h-3.8zM349.2 582.6l1.9 3.6h-3.8zM350.9 592l1.9 3.6h-3.8zM354.5 603.1l1.9 3.6h-3.8zM357.2 615.4l1.9 3.6h-3.8zM352.5 581.7l1.9 3.6h-3.8zM339.3 582.7l1.9 3.6h-3.8zM355.3 605.7l1.9 3.6h-3.8zM360.1 579.5l1.9 3.6h-3.8zM361.3 602.8l1.9 3.6h-3.8zM344.5 601.2l1.9 3.6h-3.8zM359.1 579.4l1.9 3.6h-3.8zM331 580.6l1.9 3.6h-3.8zM345.7 593l1.9 3.6h-3.8zM350.3 602l1.9 3.6h-3.8zM346.2 585.4l1.9 3.6h-3.8zM363.5 601.2l1.9 3.6h-3.8zM336.4 581l1.9 3.6h-3.8zM351.4 583.4l1.9 3.6h-3.8zM368.4 614.6l1.9 3.6h-3.8zM381 602.7l1.9 3.6h-3.8zM350.1 572.8l1.9 3.6h-3.8zM360.6 604.2l1.9 3.6h-3.8zM356.2 578.2l1.9 3.6h-3.8zM340.6 561.6l1.9 3.6h-3.8zM330.5 568l1.9 3.6h-3.8zM312.5 538.4l1.9 3.6h-3.8zM376.3 592.1l1.9 3.6h-3.8zM371.7 619.5l1.9 3.6h-3.8zM349.4 585.8l1.9 3.6h-3.8zM343.9 592.4l1.9 3.6h-3.8zM320.3 544.6l1.9 3.6h-3.8zM357.1 609.9l1.9 3.6h-3.8zM371.4 616.3l1.9 3.6h-3.8zM361.7 577.4l1.9 3.6h-3.8zM385.6 610.3l1.9 3.6h-3.8zM319.9 561l1.9 3.6h-3.8zM368.6 608.9l1.9 3.6h-3.8zM359.3 590.7l1.9 3.6h-3.8zM341.6 577.2l1.9 3.6h-3.8zM378.2 616.4l1.9 3.6h-3.8zM352.9 571.4l1.9 3.6h-3.8zM328.4 548.7l1.9 3.6h-3.8zM350.1 584.6l1.9 3.6h-3.8zM364.9 601.1l1.9 3.6h-3.8zM385.1 614l1.9 3.6h-3.8zM341.5 568.3l1.9 3.6h-3.8zM380.2 608l1.9 3.6h-3.8zM377.3 623.4l1.9 3.6h-3.8zM372.3 605.1l1.9 3.6h-3.8zM368 586.6l1.9 3.6h-3.8zM365.3 605.8l1.9 3.6h-3.8zM353.9 587.3l1.9 3.6h-3.8zM319.7 543.7l1.9 3.6h-3.8zM324.3 560.9l1.9 3.6h-3.8zM382.1 618.5l1.9 3.6h-3.8zM343.8 563.2l1.9 3.6h-3.8zM331 576l1.9 3.6h-3.8zM351.6 583.9l1.9 3.6h-3.8zM368.4 604.9l1.9 3.6h-3.8zM330.9 559.6l1.9 3.6h-3.8zM361.6 576.8l1.9 3.6h-3.8zM372.6 602.1l1.9 3.6h-3.8zM327.9 560.2l1.9 3.6h-3.8zM374.6 605l1.9 3.6h-3.8zM335.3 572.1l1.9 3.6h-3.8zM349.9 599.8l1.9 3.6h-3.8zM375.4 602.6l1.9 3.6h-3.8zM348.5 590.6l1.9 3.6h-3.8zM368.7 585.8l1.9 3.6h-3.8zM340.1 596.5l1.9 3.6h-3.8zM335.8 562.6l1.9 3.6h-3.8zM370.1 587l1.9 3.6h-3.8zM347.8 583.7l1.9 3.6h-3.8zM367.6 592.6l1.9 3.6h-3.8zM359.9 583.4l1.9 3.6h-3.8zM331.6 564.9l1.9 3.6h-3.8zM385.4 616.2l1.9 3.6h-3.8zM349.8 594.1l1.9 3.6h-3.8zM367.4 613l1.9 3.6h-3.8zM338 554.2l1.9 3.6h-3.8zM357.7 576.5l1.9 3.6h-3.8zM330.2 582.5l1.9 3.6h-3.8zM365.7 581.9l1.9 3.6h-3.8zM349.9 600.7l1.9 3.6h-3.8zM307.6 535.4l1.9 3.6h-3.8zM366.4 602.3l1.9 3.6h-3.8zM368.1 601.4l1.9 3.6h-3.8zM321.8 544.3l1.9 3.6h-3.8zM358.4 577.2l1.9 3.6h-3.8zM328.5 560l1.9 3.6h-3.8zM369.7 596.8l1.9 3.6h-3.8zM353 568.2l1.9 3.6h-3.8zM356.6 590.3l1.9 3.6h-3.8zM363.7 593.2l1.9 3.6h-3.8zM346.4 598.7l1.9 3.6h-3.8zM374.5 602.9l1.9 3.6h-3.8zM324 560.2l1.9 3.6h-3.8zM330 558.8l1.9 3.6h-3.8zM349.8 575.5l1.9 3.6h-3.8zM329 552.8l1.9 3.6h-3.8zM364 603.9l1.9 3.6h-3.8zM373.1 604.8l1.9 3.6h-3.8zM370.1 582.8l1.9 3.6h-3.8zM360.6 584l1.9 3.6h-3.8zM333.3 584.1l1.9 3.6h-3.8zM345 560.4l1.9 3.6h-3.8zM336.3 573.5l1.9 3.6h-3.8zM349.4 607.2l1.9 3.6h-3.8zM328.3 579.8l1.9 3.6h-3.8zM354.5 612.1l1.9 3.6h-3.8zM328.8 537.2l1.9 3.6h-3.8zM328.8 580.2l1.9 3.6h-3.8zM382.4 626.9l1.9 3.6h-3.8zM365.9 622.8l1.9 3.6h-3.8zM320.6 571.2l1.9 3.6h-3.8zM331.4 584.8l1.9 3.6h-3.8zM362.3 569.3l1.9 3.6h-3.8zM290.8 514l1.9 3.6h-3.8zM321.2 519.3l1.9 3.6h-3.8zM293.1 523.7l1.9 3.6h-3.8zM298.6 527.3l1.9 3.6h-3.8zM292 528.8l1.9 3.6h-3.8zM328.2 534.6l1.9 3.6h-3.8zM327.2 532l1.9 3.6h-3.8zM330.7 539.8l1.9 3.6h-3.8zM349.9 561.7l1.9 3.6h-3.8zM385.5 598.5l1.9 3.6h-3.8zM387.3 608.6l1.9 3.6h-3.8zM390.4 623.2l1.9 3.6h-3.8zM392.6 625.8l1.9 3.6h-3.8zM387.7 628l1.9 3.6h-3.8zM320.3 573.6l1.9 3.6h-3.8zM324.5 582.9l1.9 3.6h-3.8zM326.4 588.1l1.9 3.6h-3.8zM324.2 590.4l1.9 3.6h-3.8zM326.3 588.6l1.9 3.6h-3.8zM388.6 632.4l1.9 3.6h-3.8zM379.8 641.2l1.9 3.6h-3.8zM387.7 645.6l1.9 3.6h-3.8zM381.5 654.3l1.9 3.6h-3.8zM403.4 671.9l1.9 3.6h-3.8zM353.5 626l1.9 3.6h-3.8z" class="r"/>
<path d="M342.5 599.3l1.9 3.6h-3.8zM380 605l1.9 3.6h-3.8zM345.4 580.6l1.9 3.6h-3.8zM365.7 579.6l1.9 3.6h-3.8zM369.7 602.2l1.9 3.6h-3.8zM308.5 532.9l1.9 3.6h-3.8zM371.4 609.2l1.9 3.6h-3.8zM358.1 578l1.9 3.6h-3.8zM366.3 606l1.9 3.6h-3.8zM356.9 593.5l1.9 3.6h-3.8zM355.6 576.5l1.9 3.6h-3.8zM304.7 539.1l1.9 3.6h-3.8zM339 575.7l1.9 3.6h-3.8zM351.6 583l1.9 3.6h-3.8zM355 599.2l1.9 3.6h-3.8zM363.7 593.6l1.9 3.6h-3.8zM360.6 616.8l1.9 3.6h-3.8zM358.4 571.2l1.9 3.6h-3.8zM320.3 538.1l1.9 3.6h-3.8zM365.4 604.1l1.9 3.6h-3.8zM369.5 591.2l1.9 3.6h-3.8zM334.1 557.2l1.9 3.6h-3.8zM357.4 607.9l1.9 3.6h-3.8zM337.5 558.8l1.9 3.6h-3.8zM327.9 546.6l1.9 3.6h-3.8zM335.2 568.4l1.9 3.6h-3.8zM361.3 605.4l1.9 3.6h-3.8zM350.7 585.6l1.9 3.6h-3.8zM334.7 579.2l1.9 3.6h-3.8zM348.5 563.3l1.9 3.6h-3.8zM353.3 599.8l1.9 3.6h-3.8zM331.8 567.1l1.9 3.6h-3.8zM373.8 587.7l1.9 3.6h-3.8zM359.8 608.3l1.9 3.6h-3.8zM362.2 593.9l1.9 3.6h-3.8zM372.6 589.3l1.9 3.6h-3.8zM354.2 588.5l1.9 3.6h-3.8zM313.2 545.1l1.9 3.6h-3.8zM372.6 611.8l1.9 3.6h-3.8zM368.5 617.1l1.9 3.6h-3.8zM355 577.1l1.9 3.6h-3.8zM364.8 592l1.9 3.6h-3.8zM342.8 580.7l1.9 3.6h-3.8zM358.5 595.1l1.9 3.6h-3.8zM351.8 564l1.9 3.6h-3.8zM358.7 616.1l1.9 3.6h-3.8zM315 547.1l1.9 3.6h-3.8zM374 605.3l1.9 3.6h-3.8zM344.5 590.9l1.9 3.6h-3.8zM382.6 608.8l1.9 3.6h-3.8zM324.8 550.6l1.9 3.6h-3.8zM357 602.4l1.9 3.6h-3.8zM339.4 592.4l1.9 3.6h-3.8zM326.9 571.2l1.9 3.6h-3.8zM350.9 595.7l1.9 3.6h-3.8zM324.4 544.8l1.9 3.6h-3.8zM331.3 551.5l1.9 3.6h-3.8zM349.3 580.7l1.9 3.6h-3.8zM321.5 535.1l1.9 3.6h-3.8zM365.8 602.5l1.9 3.6h-3.8zM376.5 618.1l1.9 3.6h-3.8zM350.8 604l1.9 3.6h-3.8zM357.9 591.4l1.9 3.6h-3.8zM369.4 621.2l1.9 3.6h-3.8zM370.9 592.6l1.9 3.6h-3.8zM378 615.1l1.9 3.6h-3.8zM325.5 568.7l1.9 3.6h-3.8zM353.8 595.2l1.9 3.6h-3.8zM313.9 541.7l1.9 3.6h-3.8zM349.7 587.5l1.9 3.6h-3.8zM346.4 599.3l1.9 3.6h-3.8zM357.7 576.2l1.9 3.6h-3.8zM344.4 572.8l1.9 3.6h-3.8zM362.1 577.4l1.9 3.6h-3.8zM382.3 620.2l1.9 3.6h-3.8zM365.8 580.2l1.9 3.6h-3.8zM359.9 605.4l1.9 3.6h-3.8zM320.6 563.5l1.9 3.6h-3.8zM336.1 572.8l1.9 3.6h-3.8zM364.8 608.4l1.9 3.6h-3.8zM340.5 577.5l1.9 3.6h-3.8zM343.5 597.2l1.9 3.6h-3.8zM369.1 608l1.9 3.6h-3.8zM337 581.3l1.9 3.6h-3.8zM321.2 536.9l1.9 3.6h-3.8zM375.3 609.4l1.9 3.6h-3.8zM379 604.1l1.9 3.6h-3.8zM337.4 577.9l1.9 3.6h-3.8zM314.5 540.9l1.9 3.6h-3.8zM323.3 560.1l1.9 3.6h-3.8zM363.6 606.8l1.9 3.6h-3.8zM313.3 536.5l1.9 3.6h-3.8zM315.8 536.1l1.9 3.6h-3.8zM312.8 533.8l1.9 3.6h-3.8zM320.5 557.1l1.9 3.6h-3.8zM374.5 609.2l1.9 3.6h-3.8zM371.6 590.9l1.9 3.6h-3.8zM330.1 553.1l1.9 3.6h-3.8zM377.3 607l1.9 3.6h-3.8zM354.4 573.4l1.9 3.6h-3.8zM339.4 563.5l1.9 3.6h-3.8zM358.2 602.1l1.9 3.6h-3.8zM367.4 598.2l1.9 3.6h-3.8zM328.7 544.6l1.9 3.6h-3.8zM321.2 556.6l1.9 3.6h-3.8zM338.7 549.9l1.9 3.6h-3.8zM342.9 577.2l1.9 3.6h-3.8zM382.4 612.2l1.9 3.6h-3.8zM369.5 622.4l1.9 3.6h-3.8zM375.2 596.2l1.9 3.6h-3.8zM328.5 548.1l1.9 3.6h-3.8zM321.4 543.1l1.9 3.6h-3.8zM337.2 567.5l1.9 3.6h-3.8zM313 549.1l1.9 3.6h-3.8zM364.7 600.9l1.9 3.6h-3.8zM363.7 580.7l1.9 3.6h-3.8zM327.6 574.9l1.9 3.6h-3.8zM323.6 562.6l1.9 3.6h-3.8zM324.6 557.2l1.9 3.6h-3.8zM334.3 579.1l1.9 3.6h-3.8zM376.7 600.3l1.9 3.6h-3.8zM342.3 574.7l1.9 3.6h-3.8zM369 598.9l1.9 3.6h-3.8zM326.7 566.7l1.9 3.6h-3.8zM368.4 610.1l1.9 3.6h-3.8zM332 574.1l1.9 3.6h-3.8zM310.2 538.7l1.9 3.6h-3.8zM337.2 578.9l1.9 3.6h-3.8zM345.8 560.2l1.9 3.6h-3.8zM351.9 575.8l1.9 3.6h-3.8zM373.1 598.6l1.9 3.6h-3.8zM355.6 580.2l1.9 3.6h-3.8zM332 548.4l1.9 3.6h-3.8zM327.8 572.6l1.9 3.6h-3.8zM361.4 599l1.9 3.6h-3.8zM378.9 602.4l1.9 3.6h-3.8zM346 571l1.9 3.6h-3.8zM318.4 561.8l1.9 3.6h-3.8zM355.7 602.1l1.9 3.6h-3.8zM356 603.8l1.9 3.6h-3.8zM338.7 586l1.9 3.6h-3.8zM362.5 589l1.9 3.6h-3.8zM357.2 572.7l1.9 3.6h-3.8zM340.6 577.8l1.9 3.6h-3.8zM373.3 598.1l1.9 3.6h-3.8zM337.2 579.9l1.9 3.6h-3.8zM355.4 580.5l1.9 3.6h-3.8zM327.6 565.4l1.9 3.6h-3.8zM330.3 549.1l1.9 3.6h-3.8zM344.4 571.4l1.9 3.6h-3.8zM314.8 553.3l1.9 3.6h-3.8zM347.8 587.5l1.9 3.6h-3.8zM312.3 540.5l1.9 3.6h-3.8zM361.5 579.9l1.9 3.6h-3.8zM366.2 619.4l1.9 3.6h-3.8zM377 608.6l1.9 3.6h-3.8zM383.4 621.7l1.9 3.6h-3.8zM325.6 564.6l1.9 3.6h-3.8zM343.2 560.1l1.9 3.6h-3.8zM326.6 564l1.9 3.6h-3.8zM309.7 524.7l1.9 3.6h-3.8zM359.3 585.7l1.9 3.6h-3.8zM380.1 601.9l1.9 3.6h-3.8zM348.4 562.9l1.9 3.6h-3.8zM318 557.5l1.9 3.6h-3.8zM342.1 569.7l1.9 3.6h-3.8zM364.7 617.9l1.9 3.6h-3.8zM370.5 610.3l1.9 3.6h-3.8zM326.5 555.7l1.9 3.6h-3.8zM343.4 571.8l1.9 3.6h-3.8zM368.2 583.1l1.9 3.6h-3.8zM373.4 613.6l1.9 3.6h-3.8zM360.4 575.5l1.9 3.6h-3.8zM342.6 591.4l1.9 3.6h-3.8zM382.1 604.3l1.9 3.6h-3.8zM365.6 601.4l1.9 3.6h-3.8zM374.4 616.9l1.9 3.6h-3.8zM382.2 606l1.9 3.6h-3.8zM383.1 611l1.9 3.6h-3.8zM328.7 546.7l1.9 3.6h-3.8zM354.6 590l1.9 3.6h-3.8zM348 590.2l1.9 3.6h-3.8zM314.6 543.9l1.9 3.6h-3.8zM378.2 618.6l1.9 3.6h-3.8zM383.6 601.1l1.9 3.6h-3.8zM340.8 583.9l1.9 3.6h-3.8zM357.6 589.6l1.9 3.6h-3.8zM348 575.6l1.9 3.6h-3.8zM336.5 587.7l1.9 3.6h-3.8zM348.3 573.7l1.9 3.6h-3.8zM345.4 561.2l1.9 3.6h-3.8zM375.7 617.1l1.9 3.6h-3.8zM367.8 617l1.9 3.6h-3.8zM329.7 549.7l1.9 3.6h-3.8zM362.3 597.4l1.9 3.6h-3.8zM335.1 547.5l1.9 3.6h-3.8zM327.9 559.7l1.9 3.6h-3.8zM353.2 584.6l1.9 3.6h-3.8zM350.9 573l1.9 3.6h-3.8zM348.4 581.6l1.9 3.6h-3.8zM370.7 594.3l1.9 3.6h-3.8zM328.9 545.7l1.9 3.6h-3.8zM380.4 618.4l1.9 3.6h-3.8zM360.4 581.5l1.9 3.6h-3.8zM361.2 602.6l1.9 3.6h-3.8zM339.4 552.4l1.9 3.6h-3.8zM380.2 600.8l1.9 3.6h-3.8zM328.5 550.6l1.9 3.6h-3.8zM329.3 556.8l1.9 3.6h-3.8zM334.4 573.4l1.9 3.6h-3.8zM360.3 597l1.9 3.6h-3.8zM328.7 560.8l1.9 3.6h-3.8zM331.6 577.3l1.9 3.6h-3.8zM309.8 523.8l1.9 3.6h-3.8zM359.4 591.1l1.9 3.6h-3.8zM360.5 573.4l1.9 3.6h-3.8zM371 618.4l1.9 3.6h-3.8zM371.8 617.6l1.9 3.6h-3.8zM351.2 594.8l1.9 3.6h-3.8zM337.4 554.3l1.9 3.6h-3.8zM350.2 578.8l1.9 3.6h-3.8zM326.5 562.3l1.9 3.6h-3.8zM335.8 553.9l1.9 3.6h-3.8zM337.6 559.4l1.9 3.6h-3.8zM337.9 551.7l1.9 3.6h-3.8zM373.7 602.6l1.9 3.6h-3.8zM374.7 622.2l1.9 3.6h-3.8zM370.7 602.2l1.9 3.6h-3.8zM327.5 553.4l1.9 3.6h-3.8zM359.9 572.9l1.9 3.6h-3.8zM348.3 582.2l1.9 3.6h-3.8zM365.8 590.9l1.9 3.6h-3.8zM326.6 570.7l1.9 3.6h-3.8zM377.9 608.6l1.9 3.6h-3.8zM340.5 553.6l1.9 3.6h-3.8zM359.7 602.2l1.9 3.6h-3.8zM357.8 583.7l1.9 3.6h-3.8zM308.2 534.7l1.9 3.6h-3.8zM369.4 586l1.9 3.6h-3.8zM342.3 578.9l1.9 3.6h-3.8zM376.2 620.4l1.9 3.6h-3.8zM342.8 567l1.9 3.6h-3.8zM304.1 528.8l1.9 3.6h-3.8zM366.7 615.3l1.9 3.6h-3.8zM365.9 611.2l1.9 3.6h-3.8zM350.4 576.3l1.9 3.6h-3.8zM354.3 592.7l1.9 3.6h-3.8zM337.4 579l1.9 3.6h-3.8zM365.7 604.7l1.9 3.6h-3.8zM376.7 591.7l1.9 3.6h-3.8zM379.4 603.4l1.9 3.6h-3.8zM336.9 573.9l1.9 3.6h-3.8zM373.4 616.1l1.9 3.6h-3.8zM330 555.3l1.9 3.6h-3.8zM334.8 564.3l1.9 3.6h-3.8zM353 595.5l1.9 3.6h-3.8zM340.9 588.6l1.9 3.6h-3.8zM335.2 584.7l1.9 3.6h-3.8zM311.3 525.7l1.9 3.6h-3.8zM370.4 595.2l1.9 3.6h-3.8zM348.9 582.2l1.9 3.6h-3.8zM384.8 617.4l1.9 3.6h-3.8zM366 590l1.9 3.6h-3.8zM354.8 596.8l1.9 3.6h-3.8zM341.2 576.5l1.9 3.6h-3.8zM314.9 544.8l1.9 3.6h-3.8zM378.8 597.1l1.9 3.6h-3.8zM342.6 560.7l1.9 3.6h-3.8zM308.7 534.7l1.9 3.6h-3.8zM359.7 601.9l1.9 3.6h-3.8zM367.9 597.9l1.9 3.6h-3.8zM348.6 567.7l1.9 3.6h-3.8zM365.3 594.5l1.9 3.6h-3.8zM381.2 604.7l1.9 3.6h-3.8zM339.1 567.8l1.9 3.6h-3.8zM382 599l1.9 3.6h-3.8zM359.4 569.5l1.9 3.6h-3.8zM325.3 568.3l1.9 3.6h-3.8zM340.7 579.9l1.9 3.6h-3.8zM367.9 600.7l1.9 3.6h-3.8zM354.6 587.4l1.9 3.6h-3.8zM329.3 575.2l1.9 3.6h-3.8zM356.4 591.2l1.9 3.6h-3.8zM352.1 585.4l1.9 3.6h-3.8zM373.3 592.4l1.9 3.6h-3.8zM382.3 600.6l1.9 3.6h-3.8zM312.9 525.8l1.9 3.6h-3.8zM373 604.1l1.9 3.6h-3.8zM333.4 563.8l1.9 3.6h-3.8zM354.5 584.4l1.9 3.6h-3.8zM347.8 564l1.9 3.6h-3.8zM318 549.6l1.9 3.6h-3.8zM315.4 548.4l1.9 3.6h-3.8zM359.3 618l1.9 3.6h-3.8zM368.4 578.1l1.9 3.6h-3.8zM310.2 519.9l1.9 3.6h-3.8zM329.8 587.8l1.9 3.6h-3.8zM313.9 558.7l1.9 3.6h-3.8zM333.3 590.3l1.9 3.6h-3.8zM308 546.9l1.9 3.6h-3.8zM372.5 626.8l1.9 3.6h-3.8zM316.4 527.1l1.9 3.6h-3.8zM316 565.8l1.9 3.6h-3.8zM365.8 621.8l1.9 3.6h-3.8zM363.2 568l1.9 3.6h-3.8zM373 628.3l1.9 3.6h-3.8zM348.4 558.4l1.9 3.6h-3.8zM318.9 508.3l1.9 3.6h-3.8zM324.7 512.7l1.9 3.6h-3.8zM311.5 517.5l1.9 3.6h-3.8zM320.5 521.5l1.9 3.6h-3.8zM335.9 541.6l1.9 3.6h-3.8zM375.9 577.9l1.9 3.6h-3.8zM387.3 608.7l1.9 3.6h-3.8zM361.5 635.9l1.9 3.6h-3.8zM370.7 629.3l1.9 3.6h-3.8zM369.8 632.8l1.9 3.6h-3.8zM388.6 632.4l1.9 3.6h-3.8zM387.3 645.1l1.9 3.6h-3.8zM318.9 573.7l1.9 3.6h-3.8zM326.7 597.7l1.9 3.6h-3.8zM344.7 605.2l1.9 3.6h-3.8zM311.9 517.6l1.9 3.6h-3.8zM328.1 534.3l1.9 3.6h-3.8zM341.2 548.3l1.9 3.6h-3.8zM406.6 627.5l1.9 3.6h-3.8zM401.2 645.6l1.9 3.6h-3.8zM363.2 562.9l1.9 3.6h-3.8z" class="r"/>
<path d="M344.1 591l1.9 3.6h-3.8zM341 573.9l1.9 3.6h-3.8zM346.2 588.9l1.9 3.6h-3.8zM358.9 599.9l1.9 3.6h-3.8zM317.5 538.5l1.9 3.6h-3.8zM369.3 588.6l1.9 3.6h-3.8zM310.9 543.8l1.9 3.6h-3.8zM318.7 546.9l1.9 3.6h-3.8zM355.8 582.9l1.9 3.6h-3.8zM362.6 607.5l1.9 3.6h-3.8zM379.7 619.5l1.9 3.6h-3.8zM364.2 596.1l1.9 3.6h-3.8zM375.8 612.8l1.9 3.6h-3.8zM367.9 612.5l1.9 3.6h-3.8zM380.4 614.7l1.9 3.6h-3.8zM330.9 565.8l1.9 3.6h-3.8zM320.8 552.1l1.9 3.6h-3.8zM327.1 571.6l1.9 3.6h-3.8zM312.5 538.5l1.9 3.6h-3.8zM308.6 526l1.9 3.6h-3.8zM369.9 583l1.9 3.6h-3.8zM361.4 597l1.9 3.6h-3.8zM374.6 599.1l1.9 3.6h-3.8zM355.8 578.1l1.9 3.6h-3.8zM336 564.1l1.9 3.6h-3.8zM343.6 567l1.9 3.6h-3.8zM360.3 608.9l1.9 3.6h-3.8zM328.8 570.1l1.9 3.6h-3.8zM345 592.3l1.9 3.6h-3.8zM321.7 566.5l1.9 3.6h-3.8zM359.2 586.9l1.9 3.6h-3.8zM323.5 562.5l1.9 3.6h-3.8zM373.9 617.4l1.9 3.6h-3.8zM346.5 574.2l1.9 3.6h-3.8zM362.8 601.6l1.9 3.6h-3.8zM344.9 598.9l1.9 3.6h-3.8zM359.2 602.8l1.9 3.6h-3.8zM348 591.2l1.9 3.6h-3.8zM350.2 568.6l1.9 3.6h-3.8zM341.4 553.1l1.9 3.6h-3.8zM327.2 548.9l1.9 3.6h-3.8zM373.7 587.9l1.9 3.6h-3.8zM351.5 589.5l1.9 3.6h-3.8zM355.1 597.5l1.9 3.6h-3.8zM365.4 583.5l1.9 3.6h-3.8zM330.1 569l1.9 3.6h-3.8zM357.6 571.8l1.9 3.6h-3.8zM321.4 560.8l1.9 3.6h-3.8zM349.1 585.5l1.9 3.6h-3.8zM366.2 587.1l1.9 3.6h-3.8zM371.8 600.8l1.9 3.6h-3.8zM342.9 564.9l1.9 3.6h-3.8zM335.7 567.3l1.9 3.6h-3.8zM356.6 596.4l1.9 3.6h-3.8zM324 564.3l1.9 3.6h-3.8zM345.5 593.3l1.9 3.6h-3.8zM371.3 615l1.9 3.6h-3.8zM306.3 541.8l1.9 3.6h-3.8zM310.9 534l1.9 3.6h-3.8zM337.3 565.5l1.9 3.6h-3.8zM386.2 609.7l1.9 3.6h-3.8zM313 541.8l1.9 3.6h-3.8zM386.2 616.8l1.9 3.6h-3.8zM355.9 570.7l1.9 3.6h-3.8zM339.8 566.7l1.9 3.6h-3.8zM323.7 544.8l1.9 3.6h-3.8zM308.8 535.9l1.9 3.6h-3.8zM318.5 553.3l1.9 3.6h-3.8zM380.1 596.8l1.9 3.6h-3.8zM367.9 597.7l1.9 3.6h-3.8zM348.2 562.3l1.9 3.6h-3.8zM367.8 601.2l1.9 3.6h-3.8zM372.6 591.2l1.9 3.6h-3.8zM368.3 595.7l1.9 3.6h-3.8zM341.4 575.5l1.9 3.6h-3.8zM334.2 583.1l1.9 3.6h-3.8zM354.9 588.1l1.9 3.6h-3.8zM381.4 602.7l1.9 3.6h-3.8zM362.1 596.2l1.9 3.6h-3.8zM323.1 541.6l1.9 3.6h-3.8zM351 563.5l1.9 3.6h-3.8zM328.1 553.7l1.9 3.6h-3.8zM359.6 596.1l1.9 3.6h-3.8zM371.9 607.3l1.9 3.6h-3.8zM345.9 582.3l1.9 3.6h-3.8zM329.4 545.5l1.9 3.6h-3.8zM366.2 601.9l1.9 3.6h-3.8zM371.9 603.9l1.9 3.6h-3.8zM318.7 531.9l1.9 3.6h-3.8zM358.2 583.7l1.9 3.6h-3.8zM310 533.6l1.9 3.6h-3.8zM352.8 573.1l1.9 3.6h-3.8zM349.1 592.2l1.9 3.6h-3.8zM379.5 619.2l1.9 3.6h-3.8zM329.3 568.1l1.9 3.6h-3.8zM356.3 574.8l1.9 3.6h-3.8zM361.9 606.7l1.9 3.6h-3.8zM369.4 591.4l1.9 3.6h-3.8zM360.8 594.2l1.9 3.6h-3.8zM360.6 605.9l1.9 3.6h-3.8zM341.7 595.1l1.9 3.6h-3.8zM335 577.3l1.9 3.6h-3.8zM352.6 579.5l1.9 3.6h-3.8zM318.1 553.9l1.9 3.6h-3.8zM314.1 542.9l1.9 3.6h-3.8zM351.2 607.3l1.9 3.6h-3.8zM315.9 538.7l1.9 3.6h-3.8zM330.7 583.5l1.9 3.6h-3.8zM357.7 593.4l1.9 3.6h-3.8zM362.4 588.3l1.9 3.6h-3.8zM336.6 564.3l1.9 3.6h-3.8zM332.8 576.1l1.9 3.6h-3.8zM370.8 600.2l1.9 3.6h-3.8zM329.2 562.2l1.9 3.6h-3.8zM370 600.4l1.9 3.6h-3.8zM303.5 535l1.9 3.6h-3.8zM337.8 573.2l1.9 3.6h-3.8zM330.5 556.2l1.9 3.6h-3.8zM330.3 548.2l1.9 3.6h-3.8zM367.9 617l1.9 3.6h-3.8zM338.8 551.7l1.9 3.6h-3.8zM366.8 594.7l1.9 3.6h-3.8zM377.7 624.1l1.9 3.6h-3.8zM343.8 584.7l1.9 3.6h-3.8zM367.6 586.8l1.9 3.6h-3.8zM350.4 572.9l1.9 3.6h-3.8zM345.2 580.7l1.9 3.6h-3.8zM343.5 557.7l1.9 3.6h-3.8zM347.4 599.2l1.9 3.6h-3.8zM364.6 594.5l1.9 3.6h-3.8zM377 616.7l1.9 3.6h-3.8zM370.6 603.5l1.9 3.6h-3.8zM316 549.2l1.9 3.6h-3.8zM383.2 623l1.9 3.6h-3.8zM364.1 610.5l1.9 3.6h-3.8zM371.6 605.5l1.9 3.6h-3.8zM332.5 557.4l1.9 3.6h-3.8zM374.3 609.5l1.9 3.6h-3.8zM345 597.7l1.9 3.6h-3.8zM348.5 574.4l1.9 3.6h-3.8zM308.7 539.3l1.9 3.6h-3.8zM349.7 570.8l1.9 3.6h-3.8zM349.9 564.1l1.9 3.6h-3.8zM338.7 572.1l1.9 3.6h-3.8zM331.6 562.4l1.9 3.6h-3.8zM378.8 606.4l1.9 3.6h-3.8zM340.5 565.5l1.9 3.6h-3.8zM334.8 551.9l1.9 3.6h-3.8zM340.3 553.7l1.9 3.6h-3.8zM313.5 539.4l1.9 3.6h-3.8zM369.1 607.5l1.9 3.6h-3.8zM358.7 600.5l1.9 3.6h-3.8zM335.9 551.8l1.9 3.6h-3.8zM345.9 592l1.9 3.6h-3.8zM332.2 547l1.9 3.6h-3.8zM349.5 589.6l1.9 3.6h-3.8zM348.2 601.8l1.9 3.6h-3.8zM354.9 576.9l1.9 3.6h-3.8zM352.3 605.1l1.9 3.6h-3.8zM336.7 555.1l1.9 3.6h-3.8zM357.1 576.4l1.9 3.6h-3.8zM380.4 597.7l1.9 3.6h-3.8zM346.6 583.2l1.9 3.6h-3.8zM369 597.1l1.9 3.6h-3.8zM351.1 571.8l1.9 3.6h-3.8zM327.4 564.8l1.9 3.6h-3.8zM372.5 616.8l1.9 3.6h-3.8zM356.9 591.3l1.9 3.6h-3.8zM371.6 623.8l1.9 3.6h-3.8zM326 553l1.9 3.6h-3.8zM324.6 571.9l1.9 3.6h-3.8zM342.6 563.5l1.9 3.6h-3.8zM369.4 590.8l1.9 3.6h-3.8zM373.6 624.1l1.9 3.6h-3.8zM376.2 601.3l1.9 3.6h-3.8zM372.9 625l1.9 3.6h-3.8zM374.5 596.5l1.9 3.6h-3.8zM371.5 603.1l1.9 3.6h-3.8zM338.5 559.5l1.9 3.6h-3.8zM330.2 568.7l1.9 3.6h-3.8zM359.8 600.2l1.9 3.6h-3.8zM318.6 552.6l1.9 3.6h-3.8zM365 617.1l1.9 3.6h-3.8zM346.8 565.1l1.9 3.6h-3.8zM357.6 589.8l1.9 3.6h-3.8zM373.3 595.6l1.9 3.6h-3.8zM382 610.8l1.9 3.6h-3.8zM368.2 604.8l1.9 3.6h-3.8zM328.5 576l1.9 3.6h-3.8zM325.8 563.7l1.9 3.6h-3.8zM372.2 601.1l1.9 3.6h-3.8zM344.2 585l1.9 3.6h-3.8zM381.5 597.2l1.9 3.6h-3.8zM350.7 588.2l1.9 3.6h-3.8zM355 587.8l1.9 3.6h-3.8zM322.9 546.3l1.9 3.6h-3.8zM348.5 584.5l1.9 3.6h-3.8zM333.8 563l1.9 3.6h-3.8zM368.9 599.1l1.9 3.6h-3.8zM326.7 543.6l1.9 3.6h-3.8zM360.2 582.5l1.9 3.6h-3.8zM385.4 614.9l1.9 3.6h-3.8zM359.1 573.2l1.9 3.6h-3.8zM379 603.2l1.9 3.6h-3.8zM317.6 548l1.9 3.6h-3.8zM323.4 543.6l1.9 3.6h-3.8zM345.5 595.3l1.9 3.6h-3.8zM381.9 609.4l1.9 3.6h-3.8zM318.4 555l1.9 3.6h-3.8zM365.6 603l1.9 3.6h-3.8zM336.6 559.5l1.9 3.6h-3.8zM352.2 583.7l1.9 3.6h-3.8zM331.1 574.3l1.9 3.6h-3.8zM323.3 562.2l1.9 3.6h-3.8zM333.6 577.9l1.9 3.6h-3.8zM348.6 584.6l1.9 3.6h-3.8zM377.6 602.5l1.9 3.6h-3.8zM374.7 603.2l1.9 3.6h-3.8zM363.5 604l1.9 3.6h-3.8zM341.9 583.1l1.9 3.6h-3.8zM384 621.3l1.9 3.6h-3.8zM330.1 569.7l1.9 3.6h-3.8zM346.1 563.7l1.9 3.6h-3.8zM354.4 597.6l1.9 3.6h-3.8zM311.9 540.5l1.9 3.6h-3.8zM331.2 549.5l1.9 3.6h-3.8zM335.5 568.5l1.9 3.6h-3.8zM341.7 583.4l1.9 3.6h-3.8zM359.8 598.2l1.9 3.6h-3.8zM342.2 563.2l1.9 3.6h-3.8zM377.1 613.6l1.9 3.6h-3.8zM373.9 619.5l1.9 3.6h-3.8zM360.2 602.1l1.9 3.6h-3.8zM382.6 605.6l1.9 3.6h-3.8zM341.9 560l1.9 3.6h-3.8zM373.3 617.4l1.9 3.6h-3.8zM348.8 582l1.9 3.6h-3.8zM328.1 557.3l1.9 3.6h-3.8zM302 525.4l1.9 3.6h-3.8zM345 566.2l1.9 3.6h-3.8zM323.1 553.5l1.9 3.6h-3.8zM338.1 564.2l1.9 3.6h-3.8zM337.7 582.1l1.9 3.6h-3.8zM331.9 577.4l1.9 3.6h-3.8zM356.2 606.4l1.9 3.6h-3.8zM354.2 604l1.9 3.6h-3.8zM346.6 602.4l1.9 3.6h-3.8zM351.2 594.9l1.9 3.6h-3.8zM306.8 542l1.9 3.6h-3.8zM367.1 590.3l1.9 3.6h-3.8zM382.6 617.4l1.9 3.6h-3.8zM355.4 606.9l1.9 3.6h-3.8zM357.6 617.6l1.9 3.6h-3.8zM332.5 540.8l1.9 3.6h-3.8zM390 612.4l1.9 3.6h-3.8zM299.9 537.4l1.9 3.6h-3.8zM385.3 623.3l1.9 3.6h-3.8zM356.8 619.2l1.9 3.6h-3.8zM390.7 616l1.9 3.6h-3.8zM367.2 578.8l1.9 3.6h-3.8zM300 531.2l1.9 3.6h-3.8zM386.9 586.2l1.9 3.6h-3.8zM385.1 598.6l1.9 3.6h-3.8zM376.8 632.8l1.9 3.6h-3.8zM369.3 638l1.9 3.6h-3.8zM377.2 637.6l1.9 3.6h-3.8zM382.9 644.6l1.9 3.6h-3.8zM340.9 611.8l1.9 3.6h-3.8zM298.5 553.6l1.9 3.6h-3.8zM305.8 548.3l1.9 3.6h-3.8zM308.6 550.6l1.9 3.6h-3.8zM295.6 520.3l1.9 3.6h-3.8zM291.6 532.5l1.9 3.6h-3.8zM295.6 535.7l1.9 3.6h-3.8zM354.3 545.7l1.9 3.6h-3.8zM361.7 550.9l1.9 3.6h-3.8zM351.7 557.1l1.9 3.6h-3.8zM377.2 637.7l1.9 3.6h-3.8zM383.3 644.7l1.9 3.6h-3.8zM386.8 643.8l1.9 3.6h-3.8zM389.4 643l1.9 3.6h-3.8zM392.1 622.8l1.9 3.6h-3.8zM401.3 616.3l1.9 3.6h-3.8zM361.4 636l1.9 3.6h-3.8zM377.7 574.6l1.9 3.6h-3.8z" class="r"/>
</g>
<rect x="272.5" y="499.5" width="184.0" height="183.0" fill="none" stroke="#1a1a1a" stroke-width="1.1"/>
<line x1="266.5" y1="548.5" x2="272.5" y2="548.5" stroke="#1a1a1a" stroke-width="1.1"/>
<text x="262.6" y="551.7" text-anchor="end" font-size="12.2">1</text>
<line x1="266.5" y1="632.5" x2="272.5" y2="632.5" stroke="#1a1a1a" stroke-width="1.1"/>
<text x="262.6" y="636.2" text-anchor="end" font-size="12.2">0.1</text>
<line x1="291.5" y1="682.5" x2="291.5" y2="688.0" stroke="#1a1a1a" stroke-width="1.1"/>
<text x="291.3" y="700.0" text-anchor="middle" font-size="12.3">1e-05</text>
<line x1="329.5" y1="682.5" x2="329.5" y2="688.0" stroke="#1a1a1a" stroke-width="1.1"/>
<text x="329.2" y="700.0" text-anchor="middle" font-size="12.3">0.0001</text>
<line x1="367.5" y1="682.5" x2="367.5" y2="688.0" stroke="#1a1a1a" stroke-width="1.1"/>
<text x="367.5" y="700.0" text-anchor="middle" font-size="12.3">0.001</text>
<line x1="405.5" y1="682.5" x2="405.5" y2="688.0" stroke="#1a1a1a" stroke-width="1.1"/>
<text x="405.7" y="700.0" text-anchor="middle" font-size="12.3">0.01</text>
<line x1="444.5" y1="682.5" x2="444.5" y2="688.0" stroke="#1a1a1a" stroke-width="1.1"/>
<text x="444.0" y="700.0" text-anchor="middle" font-size="12.3">0.1</text>
<text x="270.3" y="492.4" font-size="16" font-weight="bold">H</text>
<text x="456.8" y="492.4" text-anchor="end" font-size="14.6">genera vs ECs</text>
<text x="370.4" y="721" text-anchor="middle" font-size="13.6">mean relative abundance</text>
<clipPath id="cI"><rect x="500.5" y="499.5" width="184.0" height="183.0"/></clipPath>
<g clip-path="url(#cI)">
<path d="M549.8 521.3h0M553.4 536.1h0M572.8 533.7h0M575.1 538.7h0M580.1 549.7h0M596.6 559.9h0M594.6 566.4h0M619.3 549.7h0M623.4 550.3h0M617 562.4h0M611 569.7h0M621.3 575.3h0M649.2 561.8h0M643.8 569.8h0" class="b"/>
<path d="M575.1 531.6h0M586 537.2h0M604.2 550.8h0M575.5 545.5h0M588.9 551.5h0M588.9 551.5h0M594.6 566.4h0M650 588.2h0M652.4 602.8h0M661.6 602.8h0M674.3 619.6h0" class="b"/>
<path d="M598.9 521.3h0M581.4 529.6h0M585.1 532.9h0M602.7 543.2h0M571.7 545.2h0M579.1 549.3h0M592.9 544.7h0M599 553h0M607.5 537.6h0M621.3 542.8h0M617.9 563.3h0M609.3 581h0M643.2 592.7h0" class="b"/>
<path d="M572.8 531.1h0M582.6 535.6h0M568.8 539.4h0M594.6 539.7h0M600.4 538.7h0M595.2 559.1h0M598.4 565.9h0M607.3 550.3h0M616.5 560.3h0M606.1 563.6h0M609 564.9h0M640.4 561.4h0M636.9 585.6h0" class="b"/>
<path d="M593.8 508h0M602.1 540.9h0M570.8 547.5h0M565.1 549.6h0M592.9 554.3h0M595.2 559.1h0M611.3 536.4h0M656.1 550.5h0M617 562.4h0M620.5 564.4h0M651.9 575.4h0M676.5 593.5h0" class="b"/>
<path d="M563.6 531.9h0M604.4 545.5h0M571.7 545.2h0M582.8 554.6h0M601.5 560.3h0M605.6 542.9h0M614.2 546.5h0M622 558.3h0M639.4 563.3h0M638.9 573h0" class="b"/>
<path d="M567.4 599.3l1.9 3.6h-3.8zM568.9 591l1.9 3.6h-3.8zM573 592l1.9 3.6h-3.8zM589.4 579.6l1.9 3.6h-3.8zM576.9 572.1l1.9 3.6h-3.8zM570 581.7l1.9 3.6h-3.8zM566 573.9l1.9 3.6h-3.8zM582.2 578l1.9 3.6h-3.8zM590 606l1.9 3.6h-3.8zM595.5 597.9l1.9 3.6h-3.8zM543.5 538.5l1.9 3.6h-3.8zM607.1 620.4l1.9 3.6h-3.8zM537.8 527.9l1.9 3.6h-3.8zM555.8 564.4l1.9 3.6h-3.8zM585.7 578.1l1.9 3.6h-3.8zM564 567.7l1.9 3.6h-3.8zM573.9 575.3l1.9 3.6h-3.8zM572.6 580.1l1.9 3.6h-3.8zM548 555.7l1.9 3.6h-3.8zM568.8 588.1l1.9 3.6h-3.8zM581.6 607.9l1.9 3.6h-3.8zM587.9 598.7l1.9 3.6h-3.8zM597.9 599.1l1.9 3.6h-3.8zM580 578.1l1.9 3.6h-3.8zM561 576.5l1.9 3.6h-3.8zM557.2 567.1l1.9 3.6h-3.8zM581.7 592.5l1.9 3.6h-3.8zM545.2 550l1.9 3.6h-3.8zM606.3 617.8l1.9 3.6h-3.8zM567.6 594.5l1.9 3.6h-3.8zM556.2 565.9l1.9 3.6h-3.8zM585.5 600.4l1.9 3.6h-3.8zM539.5 545.1l1.9 3.6h-3.8zM596.5 606.5l1.9 3.6h-3.8zM572.1 578.2l1.9 3.6h-3.8zM577.1 586.1l1.9 3.6h-3.8zM584.1 583.7l1.9 3.6h-3.8zM607.8 621.8l1.9 3.6h-3.8zM542.9 542.5l1.9 3.6h-3.8zM562.2 580.6l1.9 3.6h-3.8zM567.7 580.7l1.9 3.6h-3.8zM586.7 601.6l1.9 3.6h-3.8zM599.4 612.4l1.9 3.6h-3.8zM597.3 605.3l1.9 3.6h-3.8zM567.8 582.3l1.9 3.6h-3.8zM591.9 607.6l1.9 3.6h-3.8zM559.7 567.9l1.9 3.6h-3.8zM574.7 568.6l1.9 3.6h-3.8zM597 587.9l1.9 3.6h-3.8zM593.7 608.5l1.9 3.6h-3.8zM561.7 573.9l1.9 3.6h-3.8zM597.9 604.4l1.9 3.6h-3.8zM539.9 538.1l1.9 3.6h-3.8zM557.2 573.5l1.9 3.6h-3.8zM596 592.5l1.9 3.6h-3.8zM580.5 585.3l1.9 3.6h-3.8zM596.4 591.9l1.9 3.6h-3.8zM560.6 588.1l1.9 3.6h-3.8zM597.3 614l1.9 3.6h-3.8zM589.5 602.5l1.9 3.6h-3.8zM594.8 615l1.9 3.6h-3.8zM575.2 604l1.9 3.6h-3.8zM589.4 595.4l1.9 3.6h-3.8zM537.3 534l1.9 3.6h-3.8zM609 609.7l1.9 3.6h-3.8zM575.3 588.5l1.9 3.6h-3.8zM564.9 559.9l1.9 3.6h-3.8zM559.5 577.4l1.9 3.6h-3.8zM560.7 576l1.9 3.6h-3.8zM580.1 570.7l1.9 3.6h-3.8zM581.8 583.6l1.9 3.6h-3.8zM530.5 534.6l1.9 3.6h-3.8zM554.6 571.1l1.9 3.6h-3.8zM578.8 584.7l1.9 3.6h-3.8zM573.9 597.6l1.9 3.6h-3.8zM552.4 553.5l1.9 3.6h-3.8zM544.5 553.3l1.9 3.6h-3.8zM591.5 597.7l1.9 3.6h-3.8zM533.2 530.7l1.9 3.6h-3.8zM583.1 589.3l1.9 3.6h-3.8zM561 562l1.9 3.6h-3.8zM591.8 582.6l1.9 3.6h-3.8zM540 531.3l1.9 3.6h-3.8zM579.4 599.8l1.9 3.6h-3.8zM598.1 622.7l1.9 3.6h-3.8zM604.4 602.7l1.9 3.6h-3.8zM565.3 594.8l1.9 3.6h-3.8zM562.1 581.3l1.9 3.6h-3.8zM570.7 562l1.9 3.6h-3.8zM543.5 550.2l1.9 3.6h-3.8zM585.8 588.6l1.9 3.6h-3.8zM536.2 540.1l1.9 3.6h-3.8zM547.7 545.5l1.9 3.6h-3.8zM580.1 592.5l1.9 3.6h-3.8zM595.3 607.3l1.9 3.6h-3.8zM570.6 582.3l1.9 3.6h-3.8zM605.2 611.5l1.9 3.6h-3.8zM578.7 573.4l1.9 3.6h-3.8zM583.6 604l1.9 3.6h-3.8zM546.4 550l1.9 3.6h-3.8zM534.2 540.7l1.9 3.6h-3.8zM589.9 601.9l1.9 3.6h-3.8zM570.2 576.9l1.9 3.6h-3.8zM569 593.6l1.9 3.6h-3.8zM566.6 558.3l1.9 3.6h-3.8zM560.2 577.3l1.9 3.6h-3.8zM595.8 618.7l1.9 3.6h-3.8zM552.2 543.7l1.9 3.6h-3.8zM573 594l1.9 3.6h-3.8zM605.2 620.2l1.9 3.6h-3.8zM592.2 600.8l1.9 3.6h-3.8zM544.1 553.9l1.9 3.6h-3.8zM552.3 566.7l1.9 3.6h-3.8zM580.3 596.7l1.9 3.6h-3.8zM536.6 538.7l1.9 3.6h-3.8zM572.9 600.3l1.9 3.6h-3.8zM567.5 571.6l1.9 3.6h-3.8zM589.4 597.1l1.9 3.6h-3.8zM562.9 556.7l1.9 3.6h-3.8zM579.9 580.2l1.9 3.6h-3.8zM557.4 548.4l1.9 3.6h-3.8zM559.5 558.5l1.9 3.6h-3.8zM574.8 585.8l1.9 3.6h-3.8zM582.2 588.9l1.9 3.6h-3.8zM555.8 548.2l1.9 3.6h-3.8zM553.6 563.4l1.9 3.6h-3.8zM582.7 574.1l1.9 3.6h-3.8zM576.1 570.2l1.9 3.6h-3.8zM579.7 580.5l1.9 3.6h-3.8zM560.2 548.2l1.9 3.6h-3.8zM570.9 599.1l1.9 3.6h-3.8zM559.9 574.8l1.9 3.6h-3.8zM579.8 599l1.9 3.6h-3.8zM551 554.5l1.9 3.6h-3.8zM605.1 606.7l1.9 3.6h-3.8zM600.2 608.6l1.9 3.6h-3.8zM590.5 594.7l1.9 3.6h-3.8zM572.2 590.7l1.9 3.6h-3.8zM545.6 544l1.9 3.6h-3.8zM563.5 586l1.9 3.6h-3.8zM579.4 593.6l1.9 3.6h-3.8zM552.7 564.7l1.9 3.6h-3.8zM594.2 603.5l1.9 3.6h-3.8zM594 610.3l1.9 3.6h-3.8zM600.6 611.1l1.9 3.6h-3.8zM552.1 555.7l1.9 3.6h-3.8zM557.8 557.4l1.9 3.6h-3.8zM555.5 567.5l1.9 3.6h-3.8zM597.7 609.5l1.9 3.6h-3.8zM579.4 597.6l1.9 3.6h-3.8zM588.3 604.1l1.9 3.6h-3.8zM565.5 580.7l1.9 3.6h-3.8zM574.2 570.8l1.9 3.6h-3.8zM603 614.6l1.9 3.6h-3.8zM591 602.4l1.9 3.6h-3.8zM555.2 548.4l1.9 3.6h-3.8zM601.9 606.4l1.9 3.6h-3.8zM568.6 589.1l1.9 3.6h-3.8zM597.7 616.9l1.9 3.6h-3.8zM581.7 603.1l1.9 3.6h-3.8zM553.6 553.2l1.9 3.6h-3.8zM560 549.8l1.9 3.6h-3.8zM554.2 543.4l1.9 3.6h-3.8zM603.6 618.6l1.9 3.6h-3.8zM568.2 593.2l1.9 3.6h-3.8zM578.8 603.1l1.9 3.6h-3.8zM556.3 568.3l1.9 3.6h-3.8zM593.5 619.2l1.9 3.6h-3.8zM602.8 621.1l1.9 3.6h-3.8zM561.8 556.5l1.9 3.6h-3.8zM597.6 588.7l1.9 3.6h-3.8zM606.5 601.1l1.9 3.6h-3.8zM591.4 617.2l1.9 3.6h-3.8zM576.5 568.8l1.9 3.6h-3.8zM574.1 589.6l1.9 3.6h-3.8zM578.5 607.2l1.9 3.6h-3.8zM556.8 552.3l1.9 3.6h-3.8zM561.8 555.1l1.9 3.6h-3.8zM581.3 576.4l1.9 3.6h-3.8zM589.5 586.6l1.9 3.6h-3.8zM560.1 561.9l1.9 3.6h-3.8zM558 570l1.9 3.6h-3.8zM561.5 581l1.9 3.6h-3.8zM571.2 583.2l1.9 3.6h-3.8zM591.8 603l1.9 3.6h-3.8zM571.3 567.4l1.9 3.6h-3.8zM560 575.8l1.9 3.6h-3.8zM557.1 569.8l1.9 3.6h-3.8zM555.9 568l1.9 3.6h-3.8zM569.7 575.9l1.9 3.6h-3.8zM591.4 591l1.9 3.6h-3.8zM587.2 610.2l1.9 3.6h-3.8zM596.2 589.2l1.9 3.6h-3.8zM603.2 600.8l1.9 3.6h-3.8zM583.4 604l1.9 3.6h-3.8zM592.2 608.9l1.9 3.6h-3.8zM565.1 553.7l1.9 3.6h-3.8zM554.4 554.8l1.9 3.6h-3.8zM546 550.6l1.9 3.6h-3.8zM594.5 618.4l1.9 3.6h-3.8zM563.5 559.5l1.9 3.6h-3.8zM563.5 589.2l1.9 3.6h-3.8zM540.3 551.3l1.9 3.6h-3.8zM553 553.4l1.9 3.6h-3.8zM584.8 582.1l1.9 3.6h-3.8zM586.4 602.8l1.9 3.6h-3.8zM583.8 600.2l1.9 3.6h-3.8zM585.2 603.3l1.9 3.6h-3.8zM544.6 552.6l1.9 3.6h-3.8zM588.7 617.1l1.9 3.6h-3.8zM585.6 599.5l1.9 3.6h-3.8zM588.7 601.1l1.9 3.6h-3.8zM606.1 617l1.9 3.6h-3.8zM539 530.6l1.9 3.6h-3.8zM596.3 593.3l1.9 3.6h-3.8zM591.8 604.8l1.9 3.6h-3.8zM548.7 546.3l1.9 3.6h-3.8zM579.2 605.2l1.9 3.6h-3.8zM568.7 555.1l1.9 3.6h-3.8zM587.9 578l1.9 3.6h-3.8zM545.7 539.7l1.9 3.6h-3.8zM580.5 584l1.9 3.6h-3.8zM592 604.9l1.9 3.6h-3.8zM539.6 537.7l1.9 3.6h-3.8zM596 602.1l1.9 3.6h-3.8zM558.7 548.4l1.9 3.6h-3.8zM570.3 584.8l1.9 3.6h-3.8zM597.1 589.2l1.9 3.6h-3.8zM560 564.1l1.9 3.6h-3.8zM546.8 544.4l1.9 3.6h-3.8zM546.4 563.4l1.9 3.6h-3.8zM593.7 587l1.9 3.6h-3.8zM562.2 581.6l1.9 3.6h-3.8zM585.6 602.6l1.9 3.6h-3.8zM600.7 602.5l1.9 3.6h-3.8zM566.2 561.4l1.9 3.6h-3.8zM586.2 585.7l1.9 3.6h-3.8zM598.9 607l1.9 3.6h-3.8zM572.3 590.1l1.9 3.6h-3.8zM573.4 582.2l1.9 3.6h-3.8zM570.8 563.7l1.9 3.6h-3.8zM560.7 568.5l1.9 3.6h-3.8zM566.6 583.4l1.9 3.6h-3.8zM534.1 535.4l1.9 3.6h-3.8zM555.2 559.3l1.9 3.6h-3.8zM561.9 557.8l1.9 3.6h-3.8zM591.8 601.4l1.9 3.6h-3.8zM563.9 561.7l1.9 3.6h-3.8zM597.2 619.5l1.9 3.6h-3.8zM601.4 615.1l1.9 3.6h-3.8zM568.5 595.7l1.9 3.6h-3.8zM583.5 569.5l1.9 3.6h-3.8zM605.5 605.6l1.9 3.6h-3.8zM573.4 582l1.9 3.6h-3.8zM586.6 612.4l1.9 3.6h-3.8zM554.8 575.2l1.9 3.6h-3.8zM567.8 600.3l1.9 3.6h-3.8zM594.4 604.2l1.9 3.6h-3.8zM579.4 591.5l1.9 3.6h-3.8zM562.4 586.7l1.9 3.6h-3.8zM575.7 594.9l1.9 3.6h-3.8zM585.4 616.9l1.9 3.6h-3.8zM604.2 614.1l1.9 3.6h-3.8zM565.3 578.8l1.9 3.6h-3.8zM583.4 618l1.9 3.6h-3.8zM581.7 617.6l1.9 3.6h-3.8zM542.8 523.8l1.9 3.6h-3.8zM526.8 537.4l1.9 3.6h-3.8zM555.7 584.6l1.9 3.6h-3.8zM536.6 519.9l1.9 3.6h-3.8zM589.2 575.9l1.9 3.6h-3.8zM611.2 610l1.9 3.6h-3.8zM558.6 590.3l1.9 3.6h-3.8zM600.1 583.8l1.9 3.6h-3.8zM508.5 505.8l1.9 3.6h-3.8zM530.1 505.8l1.9 3.6h-3.8zM546.4 521.5l1.9 3.6h-3.8zM523 520l1.9 3.6h-3.8zM525.6 527.3l1.9 3.6h-3.8zM519.3 528.8l1.9 3.6h-3.8zM552.7 532l1.9 3.6h-3.8zM566.9 546.8l1.9 3.6h-3.8zM599.2 577.9l1.9 3.6h-3.8zM601.7 584.5l1.9 3.6h-3.8zM615.4 612.8l1.9 3.6h-3.8zM615 625.8l1.9 3.6h-3.8zM595 636.7l1.9 3.6h-3.8zM565.8 611.8l1.9 3.6h-3.8zM546.2 573.6l1.9 3.6h-3.8zM552 588.1l1.9 3.6h-3.8zM517.7 513.8l1.9 3.6h-3.8zM522.7 520.3l1.9 3.6h-3.8zM525.6 553.6l1.9 3.6h-3.8zM531.9 548.3l1.9 3.6h-3.8zM540.3 570.7l1.9 3.6h-3.8zM551.6 532.5l1.9 3.6h-3.8zM553.6 534.3l1.9 3.6h-3.8zM555.3 539.2l1.9 3.6h-3.8zM573.6 543.9l1.9 3.6h-3.8zM606.2 629.8l1.9 3.6h-3.8zM600.4 637.7l1.9 3.6h-3.8zM602.9 641.2l1.9 3.6h-3.8zM609.5 643.8l1.9 3.6h-3.8zM617.9 629.8l1.9 3.6h-3.8zM609.9 586l1.9 3.6h-3.8zM577.8 626l1.9 3.6h-3.8z" class="r"/>
<path d="M587 611l1.9 3.6h-3.8zM589 590.9l1.9 3.6h-3.8zM570.1 580.6l1.9 3.6h-3.8zM562.7 553.4l1.9 3.6h-3.8zM551 549.1l1.9 3.6h-3.8zM593.1 591.9l1.9 3.6h-3.8zM573.3 563.8l1.9 3.6h-3.8zM583 599.9l1.9 3.6h-3.8zM544.9 535.4l1.9 3.6h-3.8zM564 575.7l1.9 3.6h-3.8zM597.9 619.5l1.9 3.6h-3.8zM598.3 605.8l1.9 3.6h-3.8zM605.1 599.8l1.9 3.6h-3.8zM584.5 615.6l1.9 3.6h-3.8zM571.5 571.2l1.9 3.6h-3.8zM550 550.3l1.9 3.6h-3.8zM551.1 551l1.9 3.6h-3.8zM562.6 588.1l1.9 3.6h-3.8zM558.1 554.8l1.9 3.6h-3.8zM586.5 607.5l1.9 3.6h-3.8zM593.1 591.2l1.9 3.6h-3.8zM588 596.1l1.9 3.6h-3.8zM603.5 614.7l1.9 3.6h-3.8zM601 616.2l1.9 3.6h-3.8zM580.8 581.8l1.9 3.6h-3.8zM545 557.5l1.9 3.6h-3.8zM581.6 591.7l1.9 3.6h-3.8zM574 598.3l1.9 3.6h-3.8zM587.8 616l1.9 3.6h-3.8zM593.5 583l1.9 3.6h-3.8zM585 588.5l1.9 3.6h-3.8zM602.2 596.5l1.9 3.6h-3.8zM596.5 619.3l1.9 3.6h-3.8zM570.4 565.5l1.9 3.6h-3.8zM558.4 568.5l1.9 3.6h-3.8zM575.2 585.6l1.9 3.6h-3.8zM600.5 607.8l1.9 3.6h-3.8zM601.9 607.9l1.9 3.6h-3.8zM566.5 595.7l1.9 3.6h-3.8zM591.4 596.9l1.9 3.6h-3.8zM597.3 617.4l1.9 3.6h-3.8zM578.1 577.3l1.9 3.6h-3.8zM578.4 601.6l1.9 3.6h-3.8zM600.6 618.4l1.9 3.6h-3.8zM607.5 615.6l1.9 3.6h-3.8zM597.7 622.9l1.9 3.6h-3.8zM573 563.8l1.9 3.6h-3.8zM562 584.5l1.9 3.6h-3.8zM567.8 572.1l1.9 3.6h-3.8zM576.2 564l1.9 3.6h-3.8zM541.1 547.1l1.9 3.6h-3.8zM592.6 598l1.9 3.6h-3.8zM558.9 548.9l1.9 3.6h-3.8zM560.8 556.3l1.9 3.6h-3.8zM580.8 603.3l1.9 3.6h-3.8zM589.2 583.5l1.9 3.6h-3.8zM548.8 559.3l1.9 3.6h-3.8zM583.9 605.3l1.9 3.6h-3.8zM550.5 562.4l1.9 3.6h-3.8zM578.7 588.4l1.9 3.6h-3.8zM588.3 580l1.9 3.6h-3.8zM532.8 543.3l1.9 3.6h-3.8zM599.9 611.4l1.9 3.6h-3.8zM550.1 546.3l1.9 3.6h-3.8zM552.8 564.2l1.9 3.6h-3.8zM547.3 535.1l1.9 3.6h-3.8zM549.7 564.3l1.9 3.6h-3.8zM564.5 592.9l1.9 3.6h-3.8zM592.9 621.2l1.9 3.6h-3.8zM557.7 563.9l1.9 3.6h-3.8zM596.1 591.9l1.9 3.6h-3.8zM602 601.1l1.9 3.6h-3.8zM552.4 575.7l1.9 3.6h-3.8zM564.8 566.7l1.9 3.6h-3.8zM573.7 571.3l1.9 3.6h-3.8zM563.2 581.5l1.9 3.6h-3.8zM591.5 601.2l1.9 3.6h-3.8zM540.1 544.1l1.9 3.6h-3.8zM597.4 598.7l1.9 3.6h-3.8zM605.2 620.2l1.9 3.6h-3.8zM532.3 521.8l1.9 3.6h-3.8zM559.5 583.1l1.9 3.6h-3.8zM566.4 564l1.9 3.6h-3.8zM559.8 552.4l1.9 3.6h-3.8zM563.2 588.2l1.9 3.6h-3.8zM532.9 525l1.9 3.6h-3.8zM560.5 551.3l1.9 3.6h-3.8zM538.7 546.9l1.9 3.6h-3.8zM578.4 604.5l1.9 3.6h-3.8zM584.7 590.9l1.9 3.6h-3.8zM550.3 559.5l1.9 3.6h-3.8zM568.5 595.3l1.9 3.6h-3.8zM539.6 536.5l1.9 3.6h-3.8zM564.3 583.5l1.9 3.6h-3.8zM606 614.9l1.9 3.6h-3.8zM553.6 553.7l1.9 3.6h-3.8zM581.7 585.2l1.9 3.6h-3.8zM568.9 562.8l1.9 3.6h-3.8zM595.1 590.9l1.9 3.6h-3.8zM566.1 557.3l1.9 3.6h-3.8zM552.8 543.9l1.9 3.6h-3.8zM564.4 563.5l1.9 3.6h-3.8zM598.6 593.3l1.9 3.6h-3.8zM561.4 569.8l1.9 3.6h-3.8zM560.8 553.7l1.9 3.6h-3.8zM553.5 557.2l1.9 3.6h-3.8zM547 556.6l1.9 3.6h-3.8zM563.7 549.9l1.9 3.6h-3.8zM544.7 531.9l1.9 3.6h-3.8zM582.3 583.7l1.9 3.6h-3.8zM602.1 607.8l1.9 3.6h-3.8zM577.1 573.1l1.9 3.6h-3.8zM547.3 543.1l1.9 3.6h-3.8zM539.2 549.1l1.9 3.6h-3.8zM550.8 564l1.9 3.6h-3.8zM562.3 549.5l1.9 3.6h-3.8zM584.7 594.2l1.9 3.6h-3.8zM553.2 574.9l1.9 3.6h-3.8zM592.1 588.7l1.9 3.6h-3.8zM549.3 549.4l1.9 3.6h-3.8zM575.6 579.1l1.9 3.6h-3.8zM550.8 558.9l1.9 3.6h-3.8zM594.2 586.6l1.9 3.6h-3.8zM529.1 530.7l1.9 3.6h-3.8zM575.6 607.3l1.9 3.6h-3.8zM558.8 566.4l1.9 3.6h-3.8zM556.1 583.5l1.9 3.6h-3.8zM581.8 593.4l1.9 3.6h-3.8zM597.8 603.7l1.9 3.6h-3.8zM544.8 553.1l1.9 3.6h-3.8zM567.6 556.6l1.9 3.6h-3.8zM574.1 576.3l1.9 3.6h-3.8zM602.7 610.5l1.9 3.6h-3.8zM593.5 600.4l1.9 3.6h-3.8zM530.2 535l1.9 3.6h-3.8zM556.3 556.1l1.9 3.6h-3.8zM577.2 591.4l1.9 3.6h-3.8zM580.2 603.8l1.9 3.6h-3.8zM563.7 586l1.9 3.6h-3.8zM586.4 589l1.9 3.6h-3.8zM594.1 598.2l1.9 3.6h-3.8zM554.7 543.1l1.9 3.6h-3.8zM554.1 558.8l1.9 3.6h-3.8zM541 553.3l1.9 3.6h-3.8zM595.5 608l1.9 3.6h-3.8zM534.3 529.5l1.9 3.6h-3.8zM607.7 621.1l1.9 3.6h-3.8zM564.3 561.1l1.9 3.6h-3.8zM591.3 597l1.9 3.6h-3.8zM588.9 604.9l1.9 3.6h-3.8zM593.9 590.2l1.9 3.6h-3.8zM552 549.4l1.9 3.6h-3.8zM552.2 564l1.9 3.6h-3.8zM536.1 524.7l1.9 3.6h-3.8zM561.2 551.4l1.9 3.6h-3.8zM562.1 551.6l1.9 3.6h-3.8zM556.8 555.3l1.9 3.6h-3.8zM568.6 584.7l1.9 3.6h-3.8zM593.8 587.9l1.9 3.6h-3.8zM574.8 572.9l1.9 3.6h-3.8zM568.3 557.7l1.9 3.6h-3.8zM572.8 600.7l1.9 3.6h-3.8zM552.8 543.1l1.9 3.6h-3.8zM585.7 584.2l1.9 3.6h-3.8zM596.9 611.5l1.9 3.6h-3.8zM595.1 605.5l1.9 3.6h-3.8zM582.9 608.1l1.9 3.6h-3.8zM610.4 614.8l1.9 3.6h-3.8zM545.2 555.4l1.9 3.6h-3.8zM584.4 575.5l1.9 3.6h-3.8zM576.4 592.8l1.9 3.6h-3.8zM598.8 606.4l1.9 3.6h-3.8zM547.2 542.2l1.9 3.6h-3.8zM583 587l1.9 3.6h-3.8zM536.8 544.3l1.9 3.6h-3.8zM551.2 566l1.9 3.6h-3.8zM536.6 538.9l1.9 3.6h-3.8zM576.9 581.7l1.9 3.6h-3.8zM572.6 575.6l1.9 3.6h-3.8zM585.8 590.3l1.9 3.6h-3.8zM588.5 591.1l1.9 3.6h-3.8zM564.2 591.9l1.9 3.6h-3.8zM586.2 597.4l1.9 3.6h-3.8zM584.1 579.5l1.9 3.6h-3.8zM586.7 580.3l1.9 3.6h-3.8zM561.7 569.8l1.9 3.6h-3.8zM602.4 615l1.9 3.6h-3.8zM577.6 584.6l1.9 3.6h-3.8zM603.4 597.7l1.9 3.6h-3.8zM565.6 585l1.9 3.6h-3.8zM570.9 585.4l1.9 3.6h-3.8zM559.4 569.4l1.9 3.6h-3.8zM544.4 540.3l1.9 3.6h-3.8zM598.8 598.2l1.9 3.6h-3.8zM575.4 573l1.9 3.6h-3.8zM569.3 561.1l1.9 3.6h-3.8zM598.3 596.3l1.9 3.6h-3.8zM553 564.8l1.9 3.6h-3.8zM584.4 581.5l1.9 3.6h-3.8zM554.1 550.6l1.9 3.6h-3.8zM587.8 578.7l1.9 3.6h-3.8zM540.7 532.3l1.9 3.6h-3.8zM588.7 586.2l1.9 3.6h-3.8zM570.9 567.6l1.9 3.6h-3.8zM585.6 577.4l1.9 3.6h-3.8zM596.9 624.1l1.9 3.6h-3.8zM566.5 577.2l1.9 3.6h-3.8zM552.1 562.3l1.9 3.6h-3.8zM560.9 553.9l1.9 3.6h-3.8zM559 551.5l1.9 3.6h-3.8zM600.1 618.4l1.9 3.6h-3.8zM553.9 548.7l1.9 3.6h-3.8zM572.8 582.2l1.9 3.6h-3.8zM603.3 608l1.9 3.6h-3.8zM551.8 566.3l1.9 3.6h-3.8zM565.4 553.6l1.9 3.6h-3.8zM595.1 611.4l1.9 3.6h-3.8zM563.8 579.7l1.9 3.6h-3.8zM610.1 616l1.9 3.6h-3.8zM534 534.1l1.9 3.6h-3.8zM587 617.5l1.9 3.6h-3.8zM570.2 580.2l1.9 3.6h-3.8zM545.7 543.7l1.9 3.6h-3.8zM575.1 588.2l1.9 3.6h-3.8zM550 560.9l1.9 3.6h-3.8zM562.3 551.3l1.9 3.6h-3.8zM592.9 596.8l1.9 3.6h-3.8zM567.2 578.9l1.9 3.6h-3.8zM605 618.5l1.9 3.6h-3.8zM587.7 579.2l1.9 3.6h-3.8zM559.1 563l1.9 3.6h-3.8zM592.4 599.1l1.9 3.6h-3.8zM584.2 582.5l1.9 3.6h-3.8zM536.2 541.4l1.9 3.6h-3.8zM553.5 560.2l1.9 3.6h-3.8zM577.7 575.5l1.9 3.6h-3.8zM589.7 611.2l1.9 3.6h-3.8zM569.1 562.8l1.9 3.6h-3.8zM544.4 555l1.9 3.6h-3.8zM552.5 563.8l1.9 3.6h-3.8zM590.7 591.5l1.9 3.6h-3.8zM555.4 557.1l1.9 3.6h-3.8zM562.5 581.6l1.9 3.6h-3.8zM591.2 592.6l1.9 3.6h-3.8zM589.6 584.2l1.9 3.6h-3.8zM577.4 595.5l1.9 3.6h-3.8zM552.2 560.7l1.9 3.6h-3.8zM563.4 585.7l1.9 3.6h-3.8zM598 603.2l1.9 3.6h-3.8zM539.5 534.7l1.9 3.6h-3.8zM581.8 576.5l1.9 3.6h-3.8zM589 584.4l1.9 3.6h-3.8zM579.1 596.8l1.9 3.6h-3.8zM556.3 575l1.9 3.6h-3.8zM584.8 581.4l1.9 3.6h-3.8zM567 563.2l1.9 3.6h-3.8zM600.3 613.6l1.9 3.6h-3.8zM537.4 536.3l1.9 3.6h-3.8zM582.5 577.2l1.9 3.6h-3.8zM558.1 560.4l1.9 3.6h-3.8zM564.1 567.8l1.9 3.6h-3.8zM593.2 586.4l1.9 3.6h-3.8zM528.8 525.4l1.9 3.6h-3.8zM563.1 564.2l1.9 3.6h-3.8zM538.3 529.1l1.9 3.6h-3.8zM578.4 604l1.9 3.6h-3.8zM557.8 570.1l1.9 3.6h-3.8zM571.3 602.4l1.9 3.6h-3.8zM574.3 575.5l1.9 3.6h-3.8zM598.6 600.9l1.9 3.6h-3.8zM586 592.9l1.9 3.6h-3.8zM595.3 605.2l1.9 3.6h-3.8zM558.7 563.8l1.9 3.6h-3.8zM587.8 603.9l1.9 3.6h-3.8zM578.8 584.4l1.9 3.6h-3.8zM572.4 564l1.9 3.6h-3.8zM544 549.6l1.9 3.6h-3.8zM541.5 548.4l1.9 3.6h-3.8zM569.7 560.4l1.9 3.6h-3.8zM561.5 573.5l1.9 3.6h-3.8zM553.8 579.8l1.9 3.6h-3.8zM526.8 535.7l1.9 3.6h-3.8zM531.7 519.5l1.9 3.6h-3.8zM546.5 571.2l1.9 3.6h-3.8zM595.9 626.8l1.9 3.6h-3.8zM534.4 546.5l1.9 3.6h-3.8zM542.1 565.8l1.9 3.6h-3.8zM589.6 621.8l1.9 3.6h-3.8zM544.9 508.3l1.9 3.6h-3.8zM550.4 512.7l1.9 3.6h-3.8zM532.2 548.1l1.9 3.6h-3.8zM574.4 561.7l1.9 3.6h-3.8zM575.8 556.9l1.9 3.6h-3.8zM574.6 561.7l1.9 3.6h-3.8zM610 593.4l1.9 3.6h-3.8zM610 608.7l1.9 3.6h-3.8zM600.4 637.6l1.9 3.6h-3.8zM612.5 642.9l1.9 3.6h-3.8zM540.4 570.8l1.9 3.6h-3.8zM550 590.4l1.9 3.6h-3.8zM526.1 515.5l1.9 3.6h-3.8zM551.9 588.6l1.9 3.6h-3.8zM566.1 611.4l1.9 3.6h-3.8zM547.4 519.9l1.9 3.6h-3.8zM586.1 529l1.9 3.6h-3.8zM585.6 550.9l1.9 3.6h-3.8zM587 562.7l1.9 3.6h-3.8zM611.2 632.4l1.9 3.6h-3.8zM594.5 636.8l1.9 3.6h-3.8zM606.2 660.5l1.9 3.6h-3.8zM585.4 636l1.9 3.6h-3.8z" class="r"/>
<path d="M603 605l1.9 3.6h-3.8zM598.3 593.8l1.9 3.6h-3.8zM593.3 602.2l1.9 3.6h-3.8zM560.7 568.2l1.9 3.6h-3.8zM551.1 564.8l1.9 3.6h-3.8zM570.6 598.8l1.9 3.6h-3.8zM579.8 576.5l1.9 3.6h-3.8zM592.9 588.6l1.9 3.6h-3.8zM564.3 564.3l1.9 3.6h-3.8zM602.6 595.2l1.9 3.6h-3.8zM537.2 543.8l1.9 3.6h-3.8zM544.7 546.9l1.9 3.6h-3.8zM580.1 582.9l1.9 3.6h-3.8zM571.3 602.8l1.9 3.6h-3.8zM563.2 566.8l1.9 3.6h-3.8zM561 564.7l1.9 3.6h-3.8zM599.1 612.8l1.9 3.6h-3.8zM577.5 579.6l1.9 3.6h-3.8zM541.8 550.6l1.9 3.6h-3.8zM602.2 612.5l1.9 3.6h-3.8zM560.4 568.4l1.9 3.6h-3.8zM573 581.7l1.9 3.6h-3.8zM565.6 569.2l1.9 3.6h-3.8zM535 526l1.9 3.6h-3.8zM606.5 618.5l1.9 3.6h-3.8zM585.4 597l1.9 3.6h-3.8zM556.5 561l1.9 3.6h-3.8zM586.2 579.6l1.9 3.6h-3.8zM601.3 599.4l1.9 3.6h-3.8zM551.3 557.6l1.9 3.6h-3.8zM543 548.5l1.9 3.6h-3.8zM559.4 569.2l1.9 3.6h-3.8zM597.1 587.7l1.9 3.6h-3.8zM566.7 566.7l1.9 3.6h-3.8zM554.4 570.1l1.9 3.6h-3.8zM589.8 606.1l1.9 3.6h-3.8zM577.8 575.5l1.9 3.6h-3.8zM547.5 566.5l1.9 3.6h-3.8zM558.4 577.2l1.9 3.6h-3.8zM571.1 601.7l1.9 3.6h-3.8zM560.6 561.9l1.9 3.6h-3.8zM555.7 578.3l1.9 3.6h-3.8zM596.1 591.8l1.9 3.6h-3.8zM536.3 539.4l1.9 3.6h-3.8zM579.3 577.1l1.9 3.6h-3.8zM605.5 622.8l1.9 3.6h-3.8zM541.5 544l1.9 3.6h-3.8zM577.7 608.8l1.9 3.6h-3.8zM588.6 592l1.9 3.6h-3.8zM571.2 574.2l1.9 3.6h-3.8zM533.4 525.9l1.9 3.6h-3.8zM551.4 561.8l1.9 3.6h-3.8zM604.4 604.4l1.9 3.6h-3.8zM595.1 622.2l1.9 3.6h-3.8zM550.5 550.6l1.9 3.6h-3.8zM534.5 528.4l1.9 3.6h-3.8zM576.5 583.9l1.9 3.6h-3.8zM579.4 597.5l1.9 3.6h-3.8zM563.2 592.2l1.9 3.6h-3.8zM560.2 581l1.9 3.6h-3.8zM564.4 592.4l1.9 3.6h-3.8zM583.2 602.4l1.9 3.6h-3.8zM577.3 576.2l1.9 3.6h-3.8zM602.4 608.2l1.9 3.6h-3.8zM542.1 545.8l1.9 3.6h-3.8zM585.8 611.7l1.9 3.6h-3.8zM560.9 567.3l1.9 3.6h-3.8zM580.6 592.8l1.9 3.6h-3.8zM562.2 556.4l1.9 3.6h-3.8zM546.3 564.2l1.9 3.6h-3.8zM587.2 578.1l1.9 3.6h-3.8zM580.2 583.6l1.9 3.6h-3.8zM572.2 572.1l1.9 3.6h-3.8zM562.4 565.5l1.9 3.6h-3.8zM566 568.7l1.9 3.6h-3.8zM572 595.1l1.9 3.6h-3.8zM585.3 608.6l1.9 3.6h-3.8zM545.8 565.2l1.9 3.6h-3.8zM569 561.3l1.9 3.6h-3.8zM608.9 616.8l1.9 3.6h-3.8zM593.3 613.6l1.9 3.6h-3.8zM590.6 605l1.9 3.6h-3.8zM597.9 624.7l1.9 3.6h-3.8zM582.5 589.1l1.9 3.6h-3.8zM595 595.5l1.9 3.6h-3.8zM566.7 577.9l1.9 3.6h-3.8zM592.3 596.9l1.9 3.6h-3.8zM566.1 564.8l1.9 3.6h-3.8zM586 577.4l1.9 3.6h-3.8zM583.3 587l1.9 3.6h-3.8zM548 551.4l1.9 3.6h-3.8zM544 539.9l1.9 3.6h-3.8zM604.4 604.9l1.9 3.6h-3.8zM574.3 584.1l1.9 3.6h-3.8zM606.7 615.1l1.9 3.6h-3.8zM582.8 592.1l1.9 3.6h-3.8zM588.4 577.5l1.9 3.6h-3.8zM552.6 551.7l1.9 3.6h-3.8zM551.8 541.9l1.9 3.6h-3.8zM554.9 545.5l1.9 3.6h-3.8zM555.5 553.1l1.9 3.6h-3.8zM566.9 587.1l1.9 3.6h-3.8zM550 560.7l1.9 3.6h-3.8zM581.2 579.6l1.9 3.6h-3.8zM595.3 603.9l1.9 3.6h-3.8zM591.1 598.2l1.9 3.6h-3.8zM572.4 568.3l1.9 3.6h-3.8zM577.5 574.2l1.9 3.6h-3.8zM605.4 615.4l1.9 3.6h-3.8zM587.3 580.6l1.9 3.6h-3.8zM542.9 558.5l1.9 3.6h-3.8zM580.5 574.8l1.9 3.6h-3.8zM549.4 562.6l1.9 3.6h-3.8zM550.3 557.2l1.9 3.6h-3.8zM580.7 611l1.9 3.6h-3.8zM566.6 595.1l1.9 3.6h-3.8zM572 560.5l1.9 3.6h-3.8zM594.1 612.6l1.9 3.6h-3.8zM599.9 600.3l1.9 3.6h-3.8zM546.2 554l1.9 3.6h-3.8zM576.9 579.5l1.9 3.6h-3.8zM571.5 571.9l1.9 3.6h-3.8zM575.3 583.8l1.9 3.6h-3.8zM542.9 543.5l1.9 3.6h-3.8zM573.2 604.8l1.9 3.6h-3.8zM606.5 613l1.9 3.6h-3.8zM570.5 560.2l1.9 3.6h-3.8zM583.5 614.4l1.9 3.6h-3.8zM555 545.5l1.9 3.6h-3.8zM596.5 598.6l1.9 3.6h-3.8zM595.9 624.5l1.9 3.6h-3.8zM606.4 617.3l1.9 3.6h-3.8zM569.6 587.3l1.9 3.6h-3.8zM553.4 572.6l1.9 3.6h-3.8zM590.5 596.2l1.9 3.6h-3.8zM562.9 573.2l1.9 3.6h-3.8zM565.5 577.8l1.9 3.6h-3.8zM587.7 598.3l1.9 3.6h-3.8zM555.8 549.1l1.9 3.6h-3.8zM607.7 615.7l1.9 3.6h-3.8zM563.3 566l1.9 3.6h-3.8zM555 574.4l1.9 3.6h-3.8zM566.3 565.5l1.9 3.6h-3.8zM589.9 619.4l1.9 3.6h-3.8zM584.1 613.3l1.9 3.6h-3.8zM553.1 555.3l1.9 3.6h-3.8zM576.3 599l1.9 3.6h-3.8zM543.5 543.6l1.9 3.6h-3.8zM602.5 613.6l1.9 3.6h-3.8zM573.6 588.3l1.9 3.6h-3.8zM593.3 607.9l1.9 3.6h-3.8zM544 557.5l1.9 3.6h-3.8zM591.2 586.8l1.9 3.6h-3.8zM577.1 592.4l1.9 3.6h-3.8zM600.6 606.9l1.9 3.6h-3.8zM590.3 591.8l1.9 3.6h-3.8zM595.5 619.6l1.9 3.6h-3.8zM553.9 573.2l1.9 3.6h-3.8zM598 590.4l1.9 3.6h-3.8zM594.5 589.9l1.9 3.6h-3.8zM557 582.3l1.9 3.6h-3.8zM591.9 583.1l1.9 3.6h-3.8zM596.8 613.6l1.9 3.6h-3.8zM549 544l1.9 3.6h-3.8zM574.4 564.1l1.9 3.6h-3.8zM546.8 541l1.9 3.6h-3.8zM607.4 613.6l1.9 3.6h-3.8zM589.3 601.4l1.9 3.6h-3.8zM573.7 567.3l1.9 3.6h-3.8zM560 551.9l1.9 3.6h-3.8zM566.5 562.4l1.9 3.6h-3.8zM588.5 598.1l1.9 3.6h-3.8zM557.6 575.4l1.9 3.6h-3.8zM592.3 608.3l1.9 3.6h-3.8zM560.4 580.7l1.9 3.6h-3.8zM573.7 582.6l1.9 3.6h-3.8zM551.4 546.1l1.9 3.6h-3.8zM551.6 557.1l1.9 3.6h-3.8zM572.6 590.2l1.9 3.6h-3.8zM576.3 593.7l1.9 3.6h-3.8zM575.7 592.7l1.9 3.6h-3.8zM570.6 592l1.9 3.6h-3.8zM571.8 593.5l1.9 3.6h-3.8zM581.4 615.4l1.9 3.6h-3.8zM569.3 560.9l1.9 3.6h-3.8zM565.7 583.9l1.9 3.6h-3.8zM581.7 589.6l1.9 3.6h-3.8zM596 625.1l1.9 3.6h-3.8zM579.2 601.5l1.9 3.6h-3.8zM560.3 547.5l1.9 3.6h-3.8zM583.1 579.4l1.9 3.6h-3.8zM574.7 602l1.9 3.6h-3.8zM602.1 622.7l1.9 3.6h-3.8zM595 606.3l1.9 3.6h-3.8zM587.4 601.2l1.9 3.6h-3.8zM566.1 558.1l1.9 3.6h-3.8zM546.3 552.1l1.9 3.6h-3.8zM577.1 567.9l1.9 3.6h-3.8zM584.6 604.2l1.9 3.6h-3.8zM580.4 578.2l1.9 3.6h-3.8zM575.5 571.8l1.9 3.6h-3.8zM554.4 545.7l1.9 3.6h-3.8zM565.1 567l1.9 3.6h-3.8zM595.5 618.2l1.9 3.6h-3.8zM565.7 592.6l1.9 3.6h-3.8zM580.2 582.8l1.9 3.6h-3.8zM551.6 557.3l1.9 3.6h-3.8zM573.9 585.8l1.9 3.6h-3.8zM563.6 587.6l1.9 3.6h-3.8zM585.4 578.3l1.9 3.6h-3.8zM595.9 584.1l1.9 3.6h-3.8zM559.6 573.4l1.9 3.6h-3.8zM595 623.8l1.9 3.6h-3.8zM575.8 586.3l1.9 3.6h-3.8zM594.8 616.3l1.9 3.6h-3.8zM565.7 597.8l1.9 3.6h-3.8zM579.3 579.5l1.9 3.6h-3.8zM593 590.8l1.9 3.6h-3.8zM536.2 523.8l1.9 3.6h-3.8zM593.5 581.6l1.9 3.6h-3.8zM595.2 617.6l1.9 3.6h-3.8zM576.7 578l1.9 3.6h-3.8zM602.3 610.8l1.9 3.6h-3.8zM568.5 587.4l1.9 3.6h-3.8zM597.8 596.5l1.9 3.6h-3.8zM595.1 623.9l1.9 3.6h-3.8zM555.7 568.7l1.9 3.6h-3.8zM563.7 575.8l1.9 3.6h-3.8zM597.1 602.6l1.9 3.6h-3.8zM601.4 616.4l1.9 3.6h-3.8zM574.5 564.1l1.9 3.6h-3.8zM556.4 556.5l1.9 3.6h-3.8zM583.9 572.9l1.9 3.6h-3.8zM576.3 579.4l1.9 3.6h-3.8zM596.3 600.7l1.9 3.6h-3.8zM593 600.3l1.9 3.6h-3.8zM552.2 570.7l1.9 3.6h-3.8zM566.4 568.3l1.9 3.6h-3.8zM571.4 565.1l1.9 3.6h-3.8zM581.8 589.8l1.9 3.6h-3.8zM552.4 575.7l1.9 3.6h-3.8zM595.7 605.1l1.9 3.6h-3.8zM530.4 532.4l1.9 3.6h-3.8zM590.7 590.2l1.9 3.6h-3.8zM578.2 587.3l1.9 3.6h-3.8zM604.5 597.2l1.9 3.6h-3.8zM576.4 583.6l1.9 3.6h-3.8zM534.7 534.7l1.9 3.6h-3.8zM599.4 598.9l1.9 3.6h-3.8zM570.4 584.6l1.9 3.6h-3.8zM586.3 578.5l1.9 3.6h-3.8zM599.4 620.4l1.9 3.6h-3.8zM538.7 543.1l1.9 3.6h-3.8zM608.2 614.9l1.9 3.6h-3.8zM602.1 603.2l1.9 3.6h-3.8zM597.9 605l1.9 3.6h-3.8zM574.8 576.3l1.9 3.6h-3.8zM559.4 564.3l1.9 3.6h-3.8zM549.1 543.6l1.9 3.6h-3.8zM531.8 522.8l1.9 3.6h-3.8zM536 539.1l1.9 3.6h-3.8zM589.3 603l1.9 3.6h-3.8zM552.4 550.3l1.9 3.6h-3.8zM561.7 559.5l1.9 3.6h-3.8zM602.5 603.4l1.9 3.6h-3.8zM556.5 574.3l1.9 3.6h-3.8zM562 573.9l1.9 3.6h-3.8zM596.8 616.1l1.9 3.6h-3.8zM564.2 556.7l1.9 3.6h-3.8zM578.5 600l1.9 3.6h-3.8zM558.9 577.9l1.9 3.6h-3.8zM585.9 599.1l1.9 3.6h-3.8zM574.3 594.1l1.9 3.6h-3.8zM587.4 604l1.9 3.6h-3.8zM563 554.2l1.9 3.6h-3.8zM567.3 577.3l1.9 3.6h-3.8zM541.1 541l1.9 3.6h-3.8zM596.5 612.8l1.9 3.6h-3.8zM555.6 569.7l1.9 3.6h-3.8zM588.4 596.5l1.9 3.6h-3.8zM555.6 582.5l1.9 3.6h-3.8zM578.7 597.6l1.9 3.6h-3.8zM547.9 556.4l1.9 3.6h-3.8zM567.4 560.7l1.9 3.6h-3.8zM583.8 598.2l1.9 3.6h-3.8zM547.7 544.3l1.9 3.6h-3.8zM575.5 568.9l1.9 3.6h-3.8zM575.4 600.9l1.9 3.6h-3.8zM597.5 600.5l1.9 3.6h-3.8zM591.5 597.9l1.9 3.6h-3.8zM554 560l1.9 3.6h-3.8zM589.1 594.5l1.9 3.6h-3.8zM569.2 561l1.9 3.6h-3.8zM603.5 606.1l1.9 3.6h-3.8zM551 568.3l1.9 3.6h-3.8zM580.8 590.3l1.9 3.6h-3.8zM559.3 587.9l1.9 3.6h-3.8zM580.6 591.2l1.9 3.6h-3.8zM557.3 577.4l1.9 3.6h-3.8zM580.4 606.4l1.9 3.6h-3.8zM605.3 600.6l1.9 3.6h-3.8zM539.1 525.8l1.9 3.6h-3.8zM533.4 542l1.9 3.6h-3.8zM553.2 556.3l1.9 3.6h-3.8zM545.1 545.5l1.9 3.6h-3.8zM558.6 584.1l1.9 3.6h-3.8zM599.7 610l1.9 3.6h-3.8zM564.1 579.6l1.9 3.6h-3.8zM574 607.2l1.9 3.6h-3.8zM571.9 555.8l1.9 3.6h-3.8zM581 619.2l1.9 3.6h-3.8zM564.8 599.2l1.9 3.6h-3.8zM605.4 626.9l1.9 3.6h-3.8zM556.8 584.8l1.9 3.6h-3.8zM555 584.7l1.9 3.6h-3.8zM518.1 514l1.9 3.6h-3.8zM520.4 523.7l1.9 3.6h-3.8zM548.2 525.1l1.9 3.6h-3.8zM545.7 527.3l1.9 3.6h-3.8zM573.2 552.1l1.9 3.6h-3.8zM609.8 592.4l1.9 3.6h-3.8zM608.3 598.5l1.9 3.6h-3.8zM569.1 605.1l1.9 3.6h-3.8zM620.4 615.4l1.9 3.6h-3.8zM612.9 623.2l1.9 3.6h-3.8zM617.5 629.7l1.9 3.6h-3.8zM609.2 632.8l1.9 3.6h-3.8zM552.5 597.5l1.9 3.6h-3.8zM569.4 605l1.9 3.6h-3.8zM518.9 529l1.9 3.6h-3.8zM538.3 517.6l1.9 3.6h-3.8zM544.1 519.7l1.9 3.6h-3.8zM566.1 548.3l1.9 3.6h-3.8zM578.6 545.7l1.9 3.6h-3.8zM612 643l1.9 3.6h-3.8zM614.5 622.8l1.9 3.6h-3.8zM623.7 638.6l1.9 3.6h-3.8zM623.2 645.6l1.9 3.6h-3.8zM615.7 612.7l1.9 3.6h-3.8zM610 608.8l1.9 3.6h-3.8zM609.9 592.7l1.9 3.6h-3.8z" class="r"/>
<path d="M601.4 592.9l1.9 3.6h-3.8zM567 592.1l1.9 3.6h-3.8zM594.8 609.2l1.9 3.6h-3.8zM562.2 557.1l1.9 3.6h-3.8zM581.1 593.5l1.9 3.6h-3.8zM581.9 574.6l1.9 3.6h-3.8zM602.2 619.3l1.9 3.6h-3.8zM531.4 539.1l1.9 3.6h-3.8zM578.2 592.7l1.9 3.6h-3.8zM589 580.8l1.9 3.6h-3.8zM584.5 616.8l1.9 3.6h-3.8zM582.4 571.2l1.9 3.6h-3.8zM597.1 600.5l1.9 3.6h-3.8zM559.3 557.2l1.9 3.6h-3.8zM546.7 552.1l1.9 3.6h-3.8zM573.9 601.8l1.9 3.6h-3.8zM538.8 538.5l1.9 3.6h-3.8zM559.2 547l1.9 3.6h-3.8zM597.5 585.4l1.9 3.6h-3.8zM593 593.5l1.9 3.6h-3.8zM550.7 554.7l1.9 3.6h-3.8zM559.4 562.9l1.9 3.6h-3.8zM559.9 579.2l1.9 3.6h-3.8zM577.6 599.8l1.9 3.6h-3.8zM560.1 587.6l1.9 3.6h-3.8zM585.5 607.2l1.9 3.6h-3.8zM584.3 608.9l1.9 3.6h-3.8zM569 569.9l1.9 3.6h-3.8zM583.8 608.3l1.9 3.6h-3.8zM590.1 612.3l1.9 3.6h-3.8zM568.5 561l1.9 3.6h-3.8zM550.3 563.3l1.9 3.6h-3.8zM552.3 567.5l1.9 3.6h-3.8zM574.1 596.9l1.9 3.6h-3.8zM586.9 579.2l1.9 3.6h-3.8zM567.7 595.5l1.9 3.6h-3.8zM596.1 611.8l1.9 3.6h-3.8zM556.9 544.6l1.9 3.6h-3.8zM571.5 578.1l1.9 3.6h-3.8zM594 591.9l1.9 3.6h-3.8zM582.6 595.1l1.9 3.6h-3.8zM566.9 591.4l1.9 3.6h-3.8zM547.7 556.4l1.9 3.6h-3.8zM575.3 575.8l1.9 3.6h-3.8zM576.9 580l1.9 3.6h-3.8zM591 589.9l1.9 3.6h-3.8zM583.2 602.8l1.9 3.6h-3.8zM572.6 591.2l1.9 3.6h-3.8zM605.5 608.8l1.9 3.6h-3.8zM601.7 605.6l1.9 3.6h-3.8zM581.1 602.4l1.9 3.6h-3.8zM589 592l1.9 3.6h-3.8zM598.8 595.9l1.9 3.6h-3.8zM539 541.9l1.9 3.6h-3.8zM556.7 573l1.9 3.6h-3.8zM568 589.3l1.9 3.6h-3.8zM573.7 585.5l1.9 3.6h-3.8zM597.9 599.9l1.9 3.6h-3.8zM587.5 583.6l1.9 3.6h-3.8zM601.9 613.5l1.9 3.6h-3.8zM589.1 588.1l1.9 3.6h-3.8zM558.8 556.5l1.9 3.6h-3.8zM552.5 571.2l1.9 3.6h-3.8zM548.6 562.3l1.9 3.6h-3.8zM575.3 595.7l1.9 3.6h-3.8zM550.2 544.8l1.9 3.6h-3.8zM580.8 596.4l1.9 3.6h-3.8zM544.4 537.6l1.9 3.6h-3.8zM556 573.8l1.9 3.6h-3.8zM573.8 580.7l1.9 3.6h-3.8zM570.2 593.3l1.9 3.6h-3.8zM601.3 624.4l1.9 3.6h-3.8zM599.8 617.1l1.9 3.6h-3.8zM584.6 616.7l1.9 3.6h-3.8zM582.3 610l1.9 3.6h-3.8zM574.2 594l1.9 3.6h-3.8zM594.4 592.6l1.9 3.6h-3.8zM572.9 604.3l1.9 3.6h-3.8zM576.8 594.8l1.9 3.6h-3.8zM601.1 615.1l1.9 3.6h-3.8zM578.1 578.9l1.9 3.6h-3.8zM578.2 595.2l1.9 3.6h-3.8zM576.7 571.5l1.9 3.6h-3.8zM571 599.3l1.9 3.6h-3.8zM581.9 576.2l1.9 3.6h-3.8zM558 543.9l1.9 3.6h-3.8zM549.4 544.8l1.9 3.6h-3.8zM535.3 535.9l1.9 3.6h-3.8zM575.2 605.6l1.9 3.6h-3.8zM597 595.6l1.9 3.6h-3.8zM566.3 575.5l1.9 3.6h-3.8zM561.2 572.8l1.9 3.6h-3.8zM566.6 598.7l1.9 3.6h-3.8zM583.1 573.3l1.9 3.6h-3.8zM568.3 597.2l1.9 3.6h-3.8zM546.2 547.2l1.9 3.6h-3.8zM591 587.3l1.9 3.6h-3.8zM546.9 543.4l1.9 3.6h-3.8zM598.6 609.4l1.9 3.6h-3.8zM539.2 532.3l1.9 3.6h-3.8zM586 596.2l1.9 3.6h-3.8zM595.3 597.4l1.9 3.6h-3.8zM552.2 566.7l1.9 3.6h-3.8zM549.1 560.1l1.9 3.6h-3.8zM576.9 604l1.9 3.6h-3.8zM599.6 600.4l1.9 3.6h-3.8zM543.6 549.4l1.9 3.6h-3.8zM563.4 595.2l1.9 3.6h-3.8zM564 577.2l1.9 3.6h-3.8zM541.9 536.1l1.9 3.6h-3.8zM575.4 563.5l1.9 3.6h-3.8zM551.3 556.8l1.9 3.6h-3.8zM546.4 557.1l1.9 3.6h-3.8zM572.6 571.9l1.9 3.6h-3.8zM542.3 536.5l1.9 3.6h-3.8zM586.2 593.7l1.9 3.6h-3.8zM570.5 580.8l1.9 3.6h-3.8zM587.7 607.7l1.9 3.6h-3.8zM556.2 564.3l1.9 3.6h-3.8zM562.3 567.5l1.9 3.6h-3.8zM536.4 536.1l1.9 3.6h-3.8zM588.5 600.9l1.9 3.6h-3.8zM585.8 613.6l1.9 3.6h-3.8zM552.8 572.9l1.9 3.6h-3.8zM563.4 585.8l1.9 3.6h-3.8zM581.8 605.8l1.9 3.6h-3.8zM562.3 578.9l1.9 3.6h-3.8zM561.7 564.3l1.9 3.6h-3.8zM538.1 541l1.9 3.6h-3.8zM593.6 593.3l1.9 3.6h-3.8zM596.4 610.4l1.9 3.6h-3.8zM555.2 573.8l1.9 3.6h-3.8zM576.2 567.7l1.9 3.6h-3.8zM593.6 611.5l1.9 3.6h-3.8zM570.7 571l1.9 3.6h-3.8zM602.3 603.9l1.9 3.6h-3.8zM587.2 586.1l1.9 3.6h-3.8zM559.8 549.7l1.9 3.6h-3.8zM544.4 561.8l1.9 3.6h-3.8zM580 602.1l1.9 3.6h-3.8zM558.8 585.9l1.9 3.6h-3.8zM592.3 603.1l1.9 3.6h-3.8zM584.3 587.7l1.9 3.6h-3.8zM589.8 602l1.9 3.6h-3.8zM604.8 604l1.9 3.6h-3.8zM561.4 582.8l1.9 3.6h-3.8zM572.4 587.5l1.9 3.6h-3.8zM567.7 579.7l1.9 3.6h-3.8zM555.5 578.9l1.9 3.6h-3.8zM598.8 620l1.9 3.6h-3.8zM566.8 577.2l1.9 3.6h-3.8zM558.6 571.4l1.9 3.6h-3.8zM551.3 564.6l1.9 3.6h-3.8zM595.5 602.1l1.9 3.6h-3.8zM563.9 564.1l1.9 3.6h-3.8zM572.9 562.9l1.9 3.6h-3.8zM569.9 580.7l1.9 3.6h-3.8zM600.2 616.7l1.9 3.6h-3.8zM606.1 623l1.9 3.6h-3.8zM587.9 610.5l1.9 3.6h-3.8zM541.8 552.9l1.9 3.6h-3.8zM573 574.4l1.9 3.6h-3.8zM564.7 584.2l1.9 3.6h-3.8zM535.2 539.3l1.9 3.6h-3.8zM601.8 615.9l1.9 3.6h-3.8zM602.3 612.2l1.9 3.6h-3.8zM538.5 537.8l1.9 3.6h-3.8zM585.4 578.8l1.9 3.6h-3.8zM546.9 556.8l1.9 3.6h-3.8zM580.2 588.3l1.9 3.6h-3.8zM560.2 573.3l1.9 3.6h-3.8zM565.3 553.7l1.9 3.6h-3.8zM580.6 612.7l1.9 3.6h-3.8zM571.1 569.4l1.9 3.6h-3.8zM570.7 602.2l1.9 3.6h-3.8zM585.8 615.3l1.9 3.6h-3.8zM569.1 558.6l1.9 3.6h-3.8zM575.4 592l1.9 3.6h-3.8zM587.3 583.2l1.9 3.6h-3.8zM591 585.4l1.9 3.6h-3.8zM561.1 551.8l1.9 3.6h-3.8zM557.5 547l1.9 3.6h-3.8zM597.1 601.3l1.9 3.6h-3.8zM566.1 563.1l1.9 3.6h-3.8zM600.1 600.1l1.9 3.6h-3.8zM606.8 622.2l1.9 3.6h-3.8zM587.5 576.7l1.9 3.6h-3.8zM572.8 601.8l1.9 3.6h-3.8zM555.5 558l1.9 3.6h-3.8zM571.7 585l1.9 3.6h-3.8zM529.1 530.9l1.9 3.6h-3.8zM602.2 611.3l1.9 3.6h-3.8zM599.3 591.7l1.9 3.6h-3.8zM587.1 615.9l1.9 3.6h-3.8zM567.9 590.3l1.9 3.6h-3.8zM584.3 611.9l1.9 3.6h-3.8zM604 602.7l1.9 3.6h-3.8zM537 531.7l1.9 3.6h-3.8zM592.6 597.1l1.9 3.6h-3.8zM573 581.6l1.9 3.6h-3.8zM543 542.4l1.9 3.6h-3.8zM594.2 594.3l1.9 3.6h-3.8zM565.5 561.6l1.9 3.6h-3.8zM571.2 601.1l1.9 3.6h-3.8zM586.2 593.1l1.9 3.6h-3.8zM564.5 553.6l1.9 3.6h-3.8zM575.9 577.3l1.9 3.6h-3.8zM545.9 561l1.9 3.6h-3.8zM577 583.3l1.9 3.6h-3.8zM557 577.3l1.9 3.6h-3.8zM583.4 590.7l1.9 3.6h-3.8zM583.5 591.1l1.9 3.6h-3.8zM562.5 554.3l1.9 3.6h-3.8zM574.7 578.8l1.9 3.6h-3.8zM579.9 578.2l1.9 3.6h-3.8zM594.2 602.2l1.9 3.6h-3.8zM537.1 523.9l1.9 3.6h-3.8zM554.7 563l1.9 3.6h-3.8zM595.2 593.4l1.9 3.6h-3.8zM574.6 584.6l1.9 3.6h-3.8zM541.5 543l1.9 3.6h-3.8zM594.7 598.1l1.9 3.6h-3.8zM568.8 566.9l1.9 3.6h-3.8zM608 614l1.9 3.6h-3.8zM589.5 590.9l1.9 3.6h-3.8zM601 608.6l1.9 3.6h-3.8zM559.6 567.5l1.9 3.6h-3.8zM546.8 556.9l1.9 3.6h-3.8zM598.4 591l1.9 3.6h-3.8zM596.7 595.6l1.9 3.6h-3.8zM595.6 601.1l1.9 3.6h-3.8zM569 585l1.9 3.6h-3.8zM579.1 569.8l1.9 3.6h-3.8zM589.9 607.6l1.9 3.6h-3.8zM560.3 573.2l1.9 3.6h-3.8zM567.6 567l1.9 3.6h-3.8zM583.1 573.2l1.9 3.6h-3.8zM590.4 615.3l1.9 3.6h-3.8zM598.7 602.6l1.9 3.6h-3.8zM586.4 581.8l1.9 3.6h-3.8zM607 608.6l1.9 3.6h-3.8zM565 596.5l1.9 3.6h-3.8zM599.9 591.7l1.9 3.6h-3.8zM575.4 583l1.9 3.6h-3.8zM572.4 583.7l1.9 3.6h-3.8zM590.1 599.2l1.9 3.6h-3.8zM555.4 555.3l1.9 3.6h-3.8zM565.8 588.6l1.9 3.6h-3.8zM537.6 525.7l1.9 3.6h-3.8zM569.9 563.4l1.9 3.6h-3.8zM567.1 572.6l1.9 3.6h-3.8zM588.6 598.1l1.9 3.6h-3.8zM538.3 540.5l1.9 3.6h-3.8zM601.9 597.1l1.9 3.6h-3.8zM560 554.5l1.9 3.6h-3.8zM535.2 534.7l1.9 3.6h-3.8zM571.9 592.9l1.9 3.6h-3.8zM601.3 610l1.9 3.6h-3.8zM562.1 557.5l1.9 3.6h-3.8zM582.7 612.6l1.9 3.6h-3.8zM573.2 567.7l1.9 3.6h-3.8zM604.2 604.7l1.9 3.6h-3.8zM598.1 594.6l1.9 3.6h-3.8zM581.9 575.9l1.9 3.6h-3.8zM560.4 551.1l1.9 3.6h-3.8zM569.7 566.2l1.9 3.6h-3.8zM571.1 598.7l1.9 3.6h-3.8zM591.6 600.7l1.9 3.6h-3.8zM578.8 587.4l1.9 3.6h-3.8zM549.7 560.2l1.9 3.6h-3.8zM570.5 566.1l1.9 3.6h-3.8zM545.3 563.6l1.9 3.6h-3.8zM576.6 589.8l1.9 3.6h-3.8zM577.1 599.3l1.9 3.6h-3.8zM579.6 606.9l1.9 3.6h-3.8zM593.6 582.8l1.9 3.6h-3.8zM584.6 584l1.9 3.6h-3.8zM553.9 551.5l1.9 3.6h-3.8zM550.8 561.7l1.9 3.6h-3.8zM541.2 522.1l1.9 3.6h-3.8zM528.3 541.3l1.9 3.6h-3.8zM578.7 612.1l1.9 3.6h-3.8zM579.1 561.6l1.9 3.6h-3.8zM540.1 558.7l1.9 3.6h-3.8zM528.9 538.2l1.9 3.6h-3.8zM543 563.1l1.9 3.6h-3.8zM599.1 583.1l1.9 3.6h-3.8zM578.3 610.1l1.9 3.6h-3.8zM542.5 527.1l1.9 3.6h-3.8zM586.2 569.3l1.9 3.6h-3.8zM587 568l1.9 3.6h-3.8zM537.9 517.5l1.9 3.6h-3.8zM547.1 519.3l1.9 3.6h-3.8zM523.1 535.7l1.9 3.6h-3.8zM553.7 534.6l1.9 3.6h-3.8zM546.9 525.8l1.9 3.6h-3.8zM556.1 539.8l1.9 3.6h-3.8zM570.3 554.7l1.9 3.6h-3.8zM610 608.6l1.9 3.6h-3.8zM577.5 625.6l1.9 3.6h-3.8zM585.4 635.9l1.9 3.6h-3.8zM602.5 640.7l1.9 3.6h-3.8zM525.4 553.6l1.9 3.6h-3.8zM532.4 548.3l1.9 3.6h-3.8zM547.6 578.3l1.9 3.6h-3.8zM544.3 582.5l1.9 3.6h-3.8zM550.2 582.9l1.9 3.6h-3.8zM518.9 532.5l1.9 3.6h-3.8zM535.3 550.1l1.9 3.6h-3.8zM544.9 573.7l1.9 3.6h-3.8zM569.4 605.2l1.9 3.6h-3.8zM550.3 512.9l1.9 3.6h-3.8zM559.9 541.3l1.9 3.6h-3.8zM610.4 645.6l1.9 3.6h-3.8zM623.4 616.3l1.9 3.6h-3.8zM623.7 626.7l1.9 3.6h-3.8zM625.4 632.4l1.9 3.6h-3.8zM604.5 654.3l1.9 3.6h-3.8zM600.9 574.6l1.9 3.6h-3.8z" class="r"/>
<path d="M569.2 573.7l1.9 3.6h-3.8zM585.3 585.8l1.9 3.6h-3.8zM549.1 553.2l1.9 3.6h-3.8zM588.4 614.6l1.9 3.6h-3.8zM544.2 556l1.9 3.6h-3.8zM597.7 599.8l1.9 3.6h-3.8zM552 547.9l1.9 3.6h-3.8zM591.5 596l1.9 3.6h-3.8zM570.9 588.9l1.9 3.6h-3.8zM588.3 590.5l1.9 3.6h-3.8zM571.5 575.6l1.9 3.6h-3.8zM567.5 559.4l1.9 3.6h-3.8zM591.3 617.5l1.9 3.6h-3.8zM556.9 575.4l1.9 3.6h-3.8zM568.6 568l1.9 3.6h-3.8zM576 583l1.9 3.6h-3.8zM550.4 560l1.9 3.6h-3.8zM565.5 572.7l1.9 3.6h-3.8zM546.2 538.1l1.9 3.6h-3.8zM589.2 604.1l1.9 3.6h-3.8zM567.3 571.3l1.9 3.6h-3.8zM602.8 619.5l1.9 3.6h-3.8zM562.6 558.8l1.9 3.6h-3.8zM573.6 581.4l1.9 3.6h-3.8zM561.9 580.7l1.9 3.6h-3.8zM553.4 546.6l1.9 3.6h-3.8zM552.6 571.6l1.9 3.6h-3.8zM572.4 582.1l1.9 3.6h-3.8zM596 594.6l1.9 3.6h-3.8zM561.5 578.7l1.9 3.6h-3.8zM541.7 550.8l1.9 3.6h-3.8zM573.1 563.3l1.9 3.6h-3.8zM587.1 616.6l1.9 3.6h-3.8zM568.4 567l1.9 3.6h-3.8zM546.1 549.8l1.9 3.6h-3.8zM563.8 573l1.9 3.6h-3.8zM569.8 592.3l1.9 3.6h-3.8zM549.3 562.5l1.9 3.6h-3.8zM553.5 545.9l1.9 3.6h-3.8zM566.4 581.4l1.9 3.6h-3.8zM572.7 601.8l1.9 3.6h-3.8zM592.1 617.1l1.9 3.6h-3.8zM563.7 567.4l1.9 3.6h-3.8zM534.4 542.8l1.9 3.6h-3.8zM571.7 582l1.9 3.6h-3.8zM594.5 620.3l1.9 3.6h-3.8zM569.6 598.9l1.9 3.6h-3.8zM596 622.1l1.9 3.6h-3.8zM569.7 561.8l1.9 3.6h-3.8zM559.7 562.7l1.9 3.6h-3.8zM609.2 616.7l1.9 3.6h-3.8zM593.8 611.3l1.9 3.6h-3.8zM570.6 567.7l1.9 3.6h-3.8zM575.9 589.5l1.9 3.6h-3.8zM555.5 569l1.9 3.6h-3.8zM554 549.7l1.9 3.6h-3.8zM595.3 600.8l1.9 3.6h-3.8zM583.9 595.9l1.9 3.6h-3.8zM556.7 551.5l1.9 3.6h-3.8zM561.1 565.2l1.9 3.6h-3.8zM544.8 555l1.9 3.6h-3.8zM564.2 575l1.9 3.6h-3.8zM584.1 578.3l1.9 3.6h-3.8zM575.6 573.1l1.9 3.6h-3.8zM532.9 521.1l1.9 3.6h-3.8zM568.3 559.4l1.9 3.6h-3.8zM583.4 584.1l1.9 3.6h-3.8zM580.7 577.5l1.9 3.6h-3.8zM539.3 541.8l1.9 3.6h-3.8zM547.5 556l1.9 3.6h-3.8zM551.1 568.7l1.9 3.6h-3.8zM567.8 556.6l1.9 3.6h-3.8zM586.2 603.9l1.9 3.6h-3.8zM573.1 561.2l1.9 3.6h-3.8zM545.7 539.7l1.9 3.6h-3.8zM566.7 582l1.9 3.6h-3.8zM565.4 593.2l1.9 3.6h-3.8zM603.2 596.8l1.9 3.6h-3.8zM572.8 562.3l1.9 3.6h-3.8zM571.7 595.3l1.9 3.6h-3.8zM581.7 610.1l1.9 3.6h-3.8zM581.9 574.8l1.9 3.6h-3.8zM591.9 595.7l1.9 3.6h-3.8zM587.7 599.7l1.9 3.6h-3.8zM573.2 577.5l1.9 3.6h-3.8zM579.1 588.1l1.9 3.6h-3.8zM565.5 577.5l1.9 3.6h-3.8zM592.7 608l1.9 3.6h-3.8zM547 536.9l1.9 3.6h-3.8zM591.7 587.5l1.9 3.6h-3.8zM602.1 604.1l1.9 3.6h-3.8zM553.2 556.5l1.9 3.6h-3.8zM597.1 599.9l1.9 3.6h-3.8zM562 551l1.9 3.6h-3.8zM596.6 620.6l1.9 3.6h-3.8zM596.7 595.9l1.9 3.6h-3.8zM583.6 596.1l1.9 3.6h-3.8zM603.8 616.3l1.9 3.6h-3.8zM595.6 593.4l1.9 3.6h-3.8zM562.1 563.2l1.9 3.6h-3.8zM564.7 571l1.9 3.6h-3.8zM543.8 560.6l1.9 3.6h-3.8zM582.3 602.1l1.9 3.6h-3.8zM554.2 544.6l1.9 3.6h-3.8zM567.8 577.2l1.9 3.6h-3.8zM593.1 622.4l1.9 3.6h-3.8zM536.4 533.6l1.9 3.6h-3.8zM598.5 596.2l1.9 3.6h-3.8zM554 548.1l1.9 3.6h-3.8zM602.6 619.2l1.9 3.6h-3.8zM587.6 580.7l1.9 3.6h-3.8zM555.5 556.4l1.9 3.6h-3.8zM577.6 599.8l1.9 3.6h-3.8zM564.6 583.9l1.9 3.6h-3.8zM559.6 579.1l1.9 3.6h-3.8zM540.3 542.9l1.9 3.6h-3.8zM585 600.3l1.9 3.6h-3.8zM569.9 581.2l1.9 3.6h-3.8zM557.3 574.1l1.9 3.6h-3.8zM590.2 599.5l1.9 3.6h-3.8zM539.6 538.4l1.9 3.6h-3.8zM546.6 539.8l1.9 3.6h-3.8zM586.3 588.3l1.9 3.6h-3.8zM558.1 576.1l1.9 3.6h-3.8zM584.1 592.5l1.9 3.6h-3.8zM570.2 567.9l1.9 3.6h-3.8zM571.6 585.1l1.9 3.6h-3.8zM567.4 556.1l1.9 3.6h-3.8zM581.5 594.6l1.9 3.6h-3.8zM585.3 599l1.9 3.6h-3.8zM602 602.4l1.9 3.6h-3.8zM555.9 556.2l1.9 3.6h-3.8zM574 587l1.9 3.6h-3.8zM581.3 572.7l1.9 3.6h-3.8zM601 613.9l1.9 3.6h-3.8zM596.7 598.1l1.9 3.6h-3.8zM580.3 606.8l1.9 3.6h-3.8zM553.2 565.4l1.9 3.6h-3.8zM573.8 572.2l1.9 3.6h-3.8zM574.8 603.2l1.9 3.6h-3.8zM569.1 571.4l1.9 3.6h-3.8zM591.6 617l1.9 3.6h-3.8zM552.6 555.9l1.9 3.6h-3.8zM606.3 621.7l1.9 3.6h-3.8zM568 560.1l1.9 3.6h-3.8zM583.3 585.7l1.9 3.6h-3.8zM603.1 601.9l1.9 3.6h-3.8zM546.3 563.3l1.9 3.6h-3.8zM586.1 585.6l1.9 3.6h-3.8zM572 599.2l1.9 3.6h-3.8zM567 569.7l1.9 3.6h-3.8zM588.5 617.9l1.9 3.6h-3.8zM599.8 600.8l1.9 3.6h-3.8zM568.3 571.8l1.9 3.6h-3.8zM559.7 573.1l1.9 3.6h-3.8zM570.1 563.3l1.9 3.6h-3.8zM571.4 588.9l1.9 3.6h-3.8zM569.7 597.7l1.9 3.6h-3.8zM594.1 623.3l1.9 3.6h-3.8zM567.4 591.4l1.9 3.6h-3.8zM588.1 615.2l1.9 3.6h-3.8zM582.2 604.9l1.9 3.6h-3.8zM606 611l1.9 3.6h-3.8zM554.2 546.7l1.9 3.6h-3.8zM539.7 539.4l1.9 3.6h-3.8zM578.9 590l1.9 3.6h-3.8zM574 598.1l1.9 3.6h-3.8zM592.7 607.5l1.9 3.6h-3.8zM588.6 615.9l1.9 3.6h-3.8zM561.7 587.7l1.9 3.6h-3.8zM578.6 609.1l1.9 3.6h-3.8zM579.1 576.9l1.9 3.6h-3.8zM561.7 557.5l1.9 3.6h-3.8zM570.1 561.2l1.9 3.6h-3.8zM579.5 605.7l1.9 3.6h-3.8zM589.5 591.2l1.9 3.6h-3.8zM585.2 602.8l1.9 3.6h-3.8zM529.8 522.1l1.9 3.6h-3.8zM553.4 559.7l1.9 3.6h-3.8zM556.4 580.6l1.9 3.6h-3.8zM570.4 593l1.9 3.6h-3.8zM552.2 546.3l1.9 3.6h-3.8zM575.8 583.4l1.9 3.6h-3.8zM592 614.6l1.9 3.6h-3.8zM602.7 610.2l1.9 3.6h-3.8zM599.5 596.4l1.9 3.6h-3.8zM540.3 537.9l1.9 3.6h-3.8zM603.4 618.4l1.9 3.6h-3.8zM585.2 602.6l1.9 3.6h-3.8zM599.6 592.1l1.9 3.6h-3.8zM595.2 619.5l1.9 3.6h-3.8zM564.4 552.4l1.9 3.6h-3.8zM595.9 616.8l1.9 3.6h-3.8zM586.9 594l1.9 3.6h-3.8zM551.7 553l1.9 3.6h-3.8zM567.5 563.5l1.9 3.6h-3.8zM581.2 609.9l1.9 3.6h-3.8zM608.4 610.3l1.9 3.6h-3.8zM554.2 560.8l1.9 3.6h-3.8zM571.8 566.5l1.9 3.6h-3.8zM584.4 573.4l1.9 3.6h-3.8zM593.7 603.2l1.9 3.6h-3.8zM576.5 565.5l1.9 3.6h-3.8zM599.4 601.3l1.9 3.6h-3.8zM575.6 594.8l1.9 3.6h-3.8zM545.5 557.3l1.9 3.6h-3.8zM593.4 591.4l1.9 3.6h-3.8zM595 603.1l1.9 3.6h-3.8zM562.7 559.4l1.9 3.6h-3.8zM563 551.7l1.9 3.6h-3.8zM552.4 570.4l1.9 3.6h-3.8zM577.3 571.4l1.9 3.6h-3.8zM554.8 554.3l1.9 3.6h-3.8zM586.2 593.2l1.9 3.6h-3.8zM564.5 552.4l1.9 3.6h-3.8zM549.9 560.7l1.9 3.6h-3.8zM584.4 573.3l1.9 3.6h-3.8zM605 610.8l1.9 3.6h-3.8zM582 583.7l1.9 3.6h-3.8zM566.2 562l1.9 3.6h-3.8zM592.9 586l1.9 3.6h-3.8zM591.7 601.9l1.9 3.6h-3.8zM568.6 563.2l1.9 3.6h-3.8zM556.4 576l1.9 3.6h-3.8zM576.1 583.9l1.9 3.6h-3.8zM598.3 609.2l1.9 3.6h-3.8zM592.6 598l1.9 3.6h-3.8zM593.7 620.4l1.9 3.6h-3.8zM543.7 548l1.9 3.6h-3.8zM581.7 588.4l1.9 3.6h-3.8zM560.5 572.1l1.9 3.6h-3.8zM574.4 599.8l1.9 3.6h-3.8zM592.3 585.8l1.9 3.6h-3.8zM562.5 579l1.9 3.6h-3.8zM589.5 604.7l1.9 3.6h-3.8zM576.6 583.7l1.9 3.6h-3.8zM602.3 604.1l1.9 3.6h-3.8zM566.5 560.7l1.9 3.6h-3.8zM575.7 582.9l1.9 3.6h-3.8zM549.1 562.2l1.9 3.6h-3.8zM572.3 578.9l1.9 3.6h-3.8zM583.9 583.4l1.9 3.6h-3.8zM560 564.3l1.9 3.6h-3.8zM557 564.9l1.9 3.6h-3.8zM608.2 616.2l1.9 3.6h-3.8zM573.2 584.6l1.9 3.6h-3.8zM566.6 593.2l1.9 3.6h-3.8zM564.2 559.6l1.9 3.6h-3.8zM551.6 567.3l1.9 3.6h-3.8zM591.1 613l1.9 3.6h-3.8zM607.7 617.4l1.9 3.6h-3.8zM601.5 611.1l1.9 3.6h-3.8zM589.8 590l1.9 3.6h-3.8zM566.1 576.5l1.9 3.6h-3.8zM602.6 607.9l1.9 3.6h-3.8zM589.4 581.9l1.9 3.6h-3.8zM573.1 565l1.9 3.6h-3.8zM577.8 605.5l1.9 3.6h-3.8zM574.4 600.7l1.9 3.6h-3.8zM572.1 572.7l1.9 3.6h-3.8zM552.2 547.5l1.9 3.6h-3.8zM577.3 598.7l1.9 3.6h-3.8zM593.2 596.8l1.9 3.6h-3.8zM577.4 568.2l1.9 3.6h-3.8zM551 566.1l1.9 3.6h-3.8zM587.5 593.2l1.9 3.6h-3.8zM577.5 567.5l1.9 3.6h-3.8zM599 614.4l1.9 3.6h-3.8zM587.3 588.4l1.9 3.6h-3.8zM553.7 557.3l1.9 3.6h-3.8zM548.9 553.5l1.9 3.6h-3.8zM555.5 558.8l1.9 3.6h-3.8zM577.3 570.3l1.9 3.6h-3.8zM581.9 577l1.9 3.6h-3.8zM590.8 590.3l1.9 3.6h-3.8zM605.6 617.4l1.9 3.6h-3.8zM600 605.6l1.9 3.6h-3.8zM554.3 551.1l1.9 3.6h-3.8zM591.1 620.8l1.9 3.6h-3.8zM612.6 612.4l1.9 3.6h-3.8zM592 578.1l1.9 3.6h-3.8zM554.3 580.2l1.9 3.6h-3.8zM588.8 623.4l1.9 3.6h-3.8zM567.8 549.6l1.9 3.6h-3.8zM534.5 546.9l1.9 3.6h-3.8zM613.3 616l1.9 3.6h-3.8zM589.7 622.8l1.9 3.6h-3.8zM590.9 578.8l1.9 3.6h-3.8zM596.4 628.3l1.9 3.6h-3.8zM573 558.4l1.9 3.6h-3.8zM526.3 515.8l1.9 3.6h-3.8zM542.9 520l1.9 3.6h-3.8zM519 532.4l1.9 3.6h-3.8zM552.3 531.7l1.9 3.6h-3.8zM525.2 552.5l1.9 3.6h-3.8zM561.1 541.6l1.9 3.6h-3.8zM576.1 556.9l1.9 3.6h-3.8zM600.4 574.8l1.9 3.6h-3.8zM607.9 598.6l1.9 3.6h-3.8zM610.4 628l1.9 3.6h-3.8zM594.2 629.3l1.9 3.6h-3.8zM593.3 632.8l1.9 3.6h-3.8zM600 632.8l1.9 3.6h-3.8zM611.3 632.4l1.9 3.6h-3.8zM608.8 641.6l1.9 3.6h-3.8zM535.1 550.6l1.9 3.6h-3.8zM520.2 523.8l1.9 3.6h-3.8zM522.7 535.7l1.9 3.6h-3.8zM552.3 597.7l1.9 3.6h-3.8zM571.1 542.7l1.9 3.6h-3.8zM571.9 534.3l1.9 3.6h-3.8zM576.1 557.1l1.9 3.6h-3.8zM599.5 631.6l1.9 3.6h-3.8zM620.7 615.3l1.9 3.6h-3.8zM628.4 627.5l1.9 3.6h-3.8zM587 562.9l1.9 3.6h-3.8z" class="r"/>
<path d="M594.3 611.8l1.9 3.6h-3.8zM597.2 603.3l1.9 3.6h-3.8zM535 532.9l1.9 3.6h-3.8zM594.4 613l1.9 3.6h-3.8zM601.7 602.5l1.9 3.6h-3.8zM600.4 596.1l1.9 3.6h-3.8zM542.4 545.5l1.9 3.6h-3.8zM569.9 600.8l1.9 3.6h-3.8zM597.7 614.9l1.9 3.6h-3.8zM560.8 573.5l1.9 3.6h-3.8zM587.3 581.6l1.9 3.6h-3.8zM568.6 572.8l1.9 3.6h-3.8zM589.9 583.1l1.9 3.6h-3.8zM579.2 599.2l1.9 3.6h-3.8zM587.6 593.6l1.9 3.6h-3.8zM582.4 573.8l1.9 3.6h-3.8zM585.9 600.7l1.9 3.6h-3.8zM574.5 605.1l1.9 3.6h-3.8zM591.5 612.5l1.9 3.6h-3.8zM582.4 572.5l1.9 3.6h-3.8zM556.3 565.8l1.9 3.6h-3.8zM589 612.7l1.9 3.6h-3.8zM553.3 557.3l1.9 3.6h-3.8zM606.7 613.5l1.9 3.6h-3.8zM585.2 605.4l1.9 3.6h-3.8zM561.2 564.1l1.9 3.6h-3.8zM556.6 580.3l1.9 3.6h-3.8zM585.3 615.9l1.9 3.6h-3.8zM556.4 578.5l1.9 3.6h-3.8zM555.4 569.4l1.9 3.6h-3.8zM586.1 593.9l1.9 3.6h-3.8zM588.1 598l1.9 3.6h-3.8zM596 589.3l1.9 3.6h-3.8zM583.2 586.9l1.9 3.6h-3.8zM562.5 566.9l1.9 3.6h-3.8zM547.8 552.5l1.9 3.6h-3.8zM578.5 588.5l1.9 3.6h-3.8zM558.5 579.5l1.9 3.6h-3.8zM551 551.5l1.9 3.6h-3.8zM563.1 565.7l1.9 3.6h-3.8zM576.8 584l1.9 3.6h-3.8zM602 594.7l1.9 3.6h-3.8zM582.8 616.1l1.9 3.6h-3.8zM564.4 575.1l1.9 3.6h-3.8zM568 566.2l1.9 3.6h-3.8zM571.4 594.3l1.9 3.6h-3.8zM569.2 590.9l1.9 3.6h-3.8zM566.3 553.1l1.9 3.6h-3.8zM552.8 548.9l1.9 3.6h-3.8zM569.8 599.3l1.9 3.6h-3.8zM570.4 574.5l1.9 3.6h-3.8zM581.8 571.8l1.9 3.6h-3.8zM547.3 560.8l1.9 3.6h-3.8zM590 587.1l1.9 3.6h-3.8zM562.3 560.1l1.9 3.6h-3.8zM600.6 616.1l1.9 3.6h-3.8zM609.3 620.1l1.9 3.6h-3.8zM604 622.8l1.9 3.6h-3.8zM551.1 564.7l1.9 3.6h-3.8zM567.7 564.9l1.9 3.6h-3.8zM592.9 602l1.9 3.6h-3.8zM572.6 569.5l1.9 3.6h-3.8zM531.7 529.6l1.9 3.6h-3.8zM531.9 536.5l1.9 3.6h-3.8zM599.8 618.1l1.9 3.6h-3.8zM536.5 535l1.9 3.6h-3.8zM550.1 556.7l1.9 3.6h-3.8zM582 591.4l1.9 3.6h-3.8zM532.8 541.8l1.9 3.6h-3.8zM569.1 587.4l1.9 3.6h-3.8zM589 586.9l1.9 3.6h-3.8zM540.2 541.7l1.9 3.6h-3.8zM592.5 590.8l1.9 3.6h-3.8zM604.4 622.1l1.9 3.6h-3.8zM574.2 587.5l1.9 3.6h-3.8zM563 580.3l1.9 3.6h-3.8zM571.1 586.6l1.9 3.6h-3.8zM569.2 572.8l1.9 3.6h-3.8zM572.2 583.1l1.9 3.6h-3.8zM573.4 576.2l1.9 3.6h-3.8zM598.3 606l1.9 3.6h-3.8zM589.5 580.2l1.9 3.6h-3.8zM596 591.2l1.9 3.6h-3.8zM598.4 620.6l1.9 3.6h-3.8zM594.1 603.1l1.9 3.6h-3.8zM588.7 616l1.9 3.6h-3.8zM584.7 581.8l1.9 3.6h-3.8zM583.9 605.4l1.9 3.6h-3.8zM546.5 563.5l1.9 3.6h-3.8zM575.7 581.2l1.9 3.6h-3.8zM552.6 552.2l1.9 3.6h-3.8zM588.6 608.4l1.9 3.6h-3.8zM562.5 577.9l1.9 3.6h-3.8zM558.3 563.7l1.9 3.6h-3.8zM540.7 540.9l1.9 3.6h-3.8zM587.5 606.8l1.9 3.6h-3.8zM548.9 541.6l1.9 3.6h-3.8zM539.1 533.8l1.9 3.6h-3.8zM600.8 603.4l1.9 3.6h-3.8zM597.8 609.2l1.9 3.6h-3.8zM592.4 596.4l1.9 3.6h-3.8zM595.4 600.9l1.9 3.6h-3.8zM534.6 524.4l1.9 3.6h-3.8zM600.5 607l1.9 3.6h-3.8zM603.9 620.9l1.9 3.6h-3.8zM566.3 595.7l1.9 3.6h-3.8zM575.1 566.4l1.9 3.6h-3.8zM605.3 612.2l1.9 3.6h-3.8zM566 576.4l1.9 3.6h-3.8zM573.6 592.2l1.9 3.6h-3.8zM603.7 613.1l1.9 3.6h-3.8zM554.8 568.1l1.9 3.6h-3.8zM563.1 572.5l1.9 3.6h-3.8zM585.8 606.7l1.9 3.6h-3.8zM592.9 591.4l1.9 3.6h-3.8zM584.6 605.9l1.9 3.6h-3.8zM576.3 598.2l1.9 3.6h-3.8zM533.3 527.5l1.9 3.6h-3.8zM577.6 595.9l1.9 3.6h-3.8zM580.7 606.6l1.9 3.6h-3.8zM567.2 574.7l1.9 3.6h-3.8zM592.6 598.9l1.9 3.6h-3.8zM577.8 598.9l1.9 3.6h-3.8zM573.2 599.8l1.9 3.6h-3.8zM589.3 582.2l1.9 3.6h-3.8zM542 538.7l1.9 3.6h-3.8zM592 610.1l1.9 3.6h-3.8zM538.6 523l1.9 3.6h-3.8zM576.3 575.8l1.9 3.6h-3.8zM592.2 591l1.9 3.6h-3.8zM596.6 605.2l1.9 3.6h-3.8zM594.3 600.2l1.9 3.6h-3.8zM588.9 596.8l1.9 3.6h-3.8zM554.7 562.2l1.9 3.6h-3.8zM573.3 590.8l1.9 3.6h-3.8zM557.1 584.1l1.9 3.6h-3.8zM565.7 569.1l1.9 3.6h-3.8zM602.8 596.3l1.9 3.6h-3.8zM540.5 549l1.9 3.6h-3.8zM552.8 569.5l1.9 3.6h-3.8zM562.3 579.9l1.9 3.6h-3.8zM543.4 538.1l1.9 3.6h-3.8zM553.8 542.4l1.9 3.6h-3.8zM605.6 612.6l1.9 3.6h-3.8zM538.6 540.5l1.9 3.6h-3.8zM585.5 579.9l1.9 3.6h-3.8zM563.8 551.7l1.9 3.6h-3.8zM573.1 564.7l1.9 3.6h-3.8zM604.1 603.6l1.9 3.6h-3.8zM600.8 624.1l1.9 3.6h-3.8zM571.7 568.3l1.9 3.6h-3.8zM578.1 604.1l1.9 3.6h-3.8zM591.3 580.9l1.9 3.6h-3.8zM566.1 570.9l1.9 3.6h-3.8zM588.4 594.5l1.9 3.6h-3.8zM578.9 575.2l1.9 3.6h-3.8zM542.1 549.2l1.9 3.6h-3.8zM596.8 603.9l1.9 3.6h-3.8zM556.8 560.9l1.9 3.6h-3.8zM553.6 568.1l1.9 3.6h-3.8zM594.9 585.3l1.9 3.6h-3.8zM541.8 553.8l1.9 3.6h-3.8zM548.4 547.8l1.9 3.6h-3.8zM563.7 572.1l1.9 3.6h-3.8zM541.7 540.6l1.9 3.6h-3.8zM605 613l1.9 3.6h-3.8zM605.1 604.3l1.9 3.6h-3.8zM557 562.4l1.9 3.6h-3.8zM558.3 576.2l1.9 3.6h-3.8zM605.2 606l1.9 3.6h-3.8zM588.5 603.4l1.9 3.6h-3.8zM565.4 565.5l1.9 3.6h-3.8zM600.5 603.9l1.9 3.6h-3.8zM574.7 580.9l1.9 3.6h-3.8zM557.3 549.2l1.9 3.6h-3.8zM573.4 588.4l1.9 3.6h-3.8zM602.2 624l1.9 3.6h-3.8zM569.2 559.8l1.9 3.6h-3.8zM582.8 600.5l1.9 3.6h-3.8zM540.7 543.9l1.9 3.6h-3.8zM601.3 618.6l1.9 3.6h-3.8zM606.5 609.6l1.9 3.6h-3.8zM573.7 576.9l1.9 3.6h-3.8zM546 552l1.9 3.6h-3.8zM572.3 566.5l1.9 3.6h-3.8zM564.3 582.7l1.9 3.6h-3.8zM572.9 573.7l1.9 3.6h-3.8zM570.3 594.8l1.9 3.6h-3.8zM599 617.1l1.9 3.6h-3.8zM591.5 617l1.9 3.6h-3.8zM555.2 549.7l1.9 3.6h-3.8zM576.7 605.1l1.9 3.6h-3.8zM587.4 617.7l1.9 3.6h-3.8zM569.3 601.2l1.9 3.6h-3.8zM574.6 572.8l1.9 3.6h-3.8zM567.2 578.5l1.9 3.6h-3.8zM537 525.6l1.9 3.6h-3.8zM570.3 561.9l1.9 3.6h-3.8zM538.8 538.4l1.9 3.6h-3.8zM579.3 606.8l1.9 3.6h-3.8zM581.1 591.3l1.9 3.6h-3.8zM558.3 547.9l1.9 3.6h-3.8zM554.7 556.8l1.9 3.6h-3.8zM568.7 592.4l1.9 3.6h-3.8zM597.1 605.5l1.9 3.6h-3.8zM534.2 542.7l1.9 3.6h-3.8zM542 547.1l1.9 3.6h-3.8zM578.6 588.2l1.9 3.6h-3.8zM546.2 544.6l1.9 3.6h-3.8zM550.3 571.9l1.9 3.6h-3.8zM555.8 573.4l1.9 3.6h-3.8zM583.8 607.7l1.9 3.6h-3.8zM592.4 608.5l1.9 3.6h-3.8zM584.3 597l1.9 3.6h-3.8zM596.3 625l1.9 3.6h-3.8zM598 622.2l1.9 3.6h-3.8zM535.7 533.6l1.9 3.6h-3.8zM553.4 549.9l1.9 3.6h-3.8zM587.8 582.8l1.9 3.6h-3.8zM594.3 592.2l1.9 3.6h-3.8zM600.5 623.4l1.9 3.6h-3.8zM583.7 602.2l1.9 3.6h-3.8zM591.6 586.6l1.9 3.6h-3.8zM589.1 605.8l1.9 3.6h-3.8zM554.1 576l1.9 3.6h-3.8zM551.5 563.7l1.9 3.6h-3.8zM579.3 587.8l1.9 3.6h-3.8zM561.9 585.2l1.9 3.6h-3.8zM573 584.5l1.9 3.6h-3.8zM601.4 598.2l1.9 3.6h-3.8zM536.7 545.7l1.9 3.6h-3.8zM552.3 543.6l1.9 3.6h-3.8zM556.3 559.6l1.9 3.6h-3.8zM585.5 576.8l1.9 3.6h-3.8zM530.7 528.8l1.9 3.6h-3.8zM573.1 590.6l1.9 3.6h-3.8zM570.2 595.3l1.9 3.6h-3.8zM604.8 609.4l1.9 3.6h-3.8zM578.6 592.7l1.9 3.6h-3.8zM561 562.6l1.9 3.6h-3.8zM589.6 594.6l1.9 3.6h-3.8zM572.2 564.4l1.9 3.6h-3.8zM560.4 584.7l1.9 3.6h-3.8zM579.3 581.2l1.9 3.6h-3.8zM566.7 583.1l1.9 3.6h-3.8zM606.9 621.3l1.9 3.6h-3.8zM594 595.2l1.9 3.6h-3.8zM556.6 549.5l1.9 3.6h-3.8zM541 544.8l1.9 3.6h-3.8zM583.7 601.9l1.9 3.6h-3.8zM590.1 602.3l1.9 3.6h-3.8zM578.2 579.2l1.9 3.6h-3.8zM570.5 570.3l1.9 3.6h-3.8zM586.9 582.1l1.9 3.6h-3.8zM575.5 567.5l1.9 3.6h-3.8zM565.4 584.2l1.9 3.6h-3.8zM590 612.9l1.9 3.6h-3.8zM604.9 599l1.9 3.6h-3.8zM584.2 602.1l1.9 3.6h-3.8zM565.6 579.9l1.9 3.6h-3.8zM567.5 561.4l1.9 3.6h-3.8zM566.8 560l1.9 3.6h-3.8zM596.6 617.4l1.9 3.6h-3.8zM562.7 582.1l1.9 3.6h-3.8zM597.8 602.9l1.9 3.6h-3.8zM576.5 585.4l1.9 3.6h-3.8zM596.6 592.4l1.9 3.6h-3.8zM541.4 530.9l1.9 3.6h-3.8zM596.4 604.1l1.9 3.6h-3.8zM581 594.5l1.9 3.6h-3.8zM554.5 552.8l1.9 3.6h-3.8zM596.5 604.8l1.9 3.6h-3.8zM589 591.8l1.9 3.6h-3.8zM571.2 574.3l1.9 3.6h-3.8zM554.6 562.2l1.9 3.6h-3.8zM605 601.7l1.9 3.6h-3.8zM594.9 610.6l1.9 3.6h-3.8zM580.8 614.8l1.9 3.6h-3.8zM557.8 540.8l1.9 3.6h-3.8zM554.3 537.2l1.9 3.6h-3.8zM555.3 587.8l1.9 3.6h-3.8zM603.6 590.4l1.9 3.6h-3.8zM608.1 623.3l1.9 3.6h-3.8zM539.3 519.5l1.9 3.6h-3.8zM586.1 621.8l1.9 3.6h-3.8zM609.7 623.3l1.9 3.6h-3.8zM528.6 534.3l1.9 3.6h-3.8zM526.9 531.2l1.9 3.6h-3.8zM554.4 534.6l1.9 3.6h-3.8zM587.1 562.6l1.9 3.6h-3.8zM589.2 572.2l1.9 3.6h-3.8zM602.9 580.5l1.9 3.6h-3.8zM609.6 586.2l1.9 3.6h-3.8zM605 629.3l1.9 3.6h-3.8zM605.8 633.7l1.9 3.6h-3.8zM592.9 638l1.9 3.6h-3.8zM605.8 644.6l1.9 3.6h-3.8zM610 645.1l1.9 3.6h-3.8zM568.3 611.3l1.9 3.6h-3.8zM569.6 605.2l1.9 3.6h-3.8zM547.8 578.4l1.9 3.6h-3.8zM543.9 582.5l1.9 3.6h-3.8zM592.9 633.3l1.9 3.6h-3.8zM606.2 644.7l1.9 3.6h-3.8zM623.7 621.6l1.9 3.6h-3.8zM626.2 634.2l1.9 3.6h-3.8zM625.4 671.9l1.9 3.6h-3.8z" class="r"/>
</g>
<rect x="500.5" y="499.5" width="184.0" height="183.0" fill="none" stroke="#1a1a1a" stroke-width="1.1"/>
<line x1="494.5" y1="548.5" x2="500.5" y2="548.5" stroke="#1a1a1a" stroke-width="1.1"/>
<text x="490.6" y="551.7" text-anchor="end" font-size="12.2">1</text>
<line x1="494.5" y1="632.5" x2="500.5" y2="632.5" stroke="#1a1a1a" stroke-width="1.1"/>
<text x="490.6" y="636.2" text-anchor="end" font-size="12.2">0.1</text>
<line x1="518.5" y1="682.5" x2="518.5" y2="688.0" stroke="#1a1a1a" stroke-width="1.1"/>
<text x="518.6" y="700.0" text-anchor="middle" font-size="12.3">1e-05</text>
<line x1="555.5" y1="682.5" x2="555.5" y2="688.0" stroke="#1a1a1a" stroke-width="1.1"/>
<text x="555.0" y="700.0" text-anchor="middle" font-size="12.3">0.0001</text>
<line x1="591.5" y1="682.5" x2="591.5" y2="688.0" stroke="#1a1a1a" stroke-width="1.1"/>
<text x="591.3" y="700.0" text-anchor="middle" font-size="12.3">0.001</text>
<line x1="627.5" y1="682.5" x2="627.5" y2="688.0" stroke="#1a1a1a" stroke-width="1.1"/>
<text x="627.8" y="700.0" text-anchor="middle" font-size="12.3">0.01</text>
<line x1="664.5" y1="682.5" x2="664.5" y2="688.0" stroke="#1a1a1a" stroke-width="1.1"/>
<text x="664.0" y="700.0" text-anchor="middle" font-size="12.3">0.1</text>
<text x="498.3" y="492.4" font-size="16" font-weight="bold">I</text>
<text x="684.8" y="492.4" text-anchor="end" font-size="14.6">classes vs ECs</text>
<text x="595.6" y="721" text-anchor="middle" font-size="13.6">mean relative abundance</text>
<rect x="628.2" y="240.8" width="1.8" height="1.2" fill="#111"/>
<path d="M61 735.2l4.4 8.3h-8.8z" fill="#d40000"/>
<text x="70.4" y="742.9" font-size="13.6">gene groups</text>
<circle cx="175" cy="739.3" r="4.5" fill="#1c1ccc"/>
<text x="186" y="742.8" font-size="13.6">taxonomic units</text>
</svg></body></html>
